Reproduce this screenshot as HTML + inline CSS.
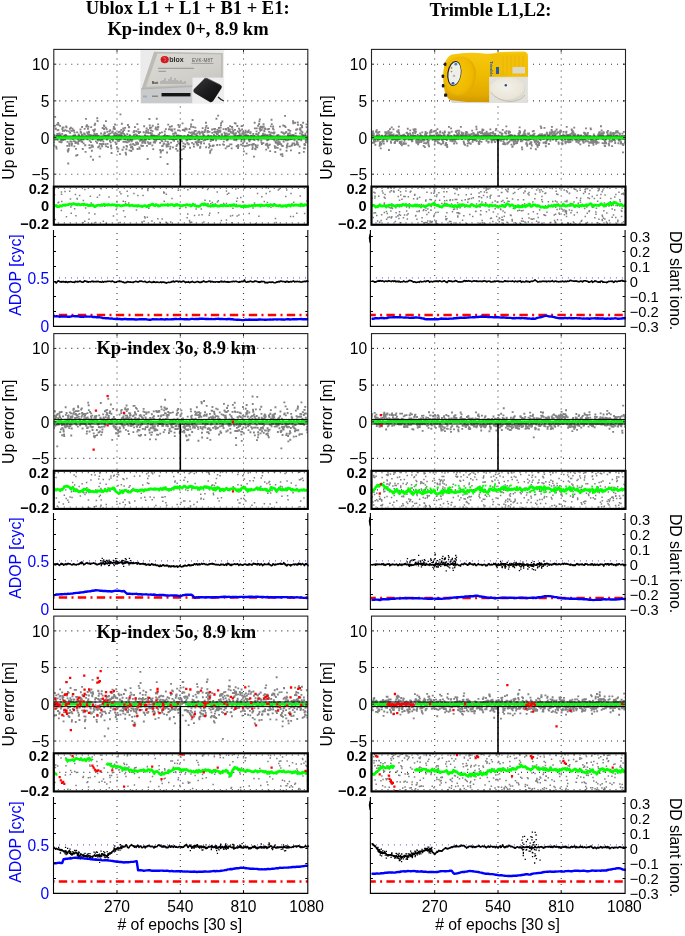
<!DOCTYPE html><html><head><meta charset="utf-8"><style>html,body{margin:0;padding:0;background:#fff;overflow:hidden}svg{display:block;will-change:transform}</style></head><body><svg width="685" height="936" viewBox="0 0 685 936">
<style>.S{font-family:"Liberation Sans",sans-serif}.R{font-family:"Liberation Serif",serif}</style>
<rect width="685" height="936" fill="#fff"/>
<clipPath id="cm00"><rect x="53.8" y="49.4" width="254" height="175.5"/></clipPath>
<g clip-path="url(#cm00)">
<line x1="59.3" y1="64.2" x2="307.8" y2="64.2" stroke="#3a3a3a" stroke-width="1.1" stroke-dasharray="1 5"/>
<line x1="59.3" y1="100.9" x2="307.8" y2="100.9" stroke="#3a3a3a" stroke-width="1.1" stroke-dasharray="1 5"/>
<line x1="59.3" y1="137.6" x2="307.8" y2="137.6" stroke="#3a3a3a" stroke-width="1.1" stroke-dasharray="1 5"/>
<line x1="59.3" y1="174.2" x2="307.8" y2="174.2" stroke="#3a3a3a" stroke-width="1.1" stroke-dasharray="1 5"/>
<line x1="117" y1="52.4" x2="117" y2="224.9" stroke="#3a3a3a" stroke-width="1.1" stroke-dasharray="1 5"/>
<line x1="180.3" y1="52.4" x2="180.3" y2="224.9" stroke="#3a3a3a" stroke-width="1.1" stroke-dasharray="1 5"/>
<line x1="243.5" y1="52.4" x2="243.5" y2="224.9" stroke="#3a3a3a" stroke-width="1.1" stroke-dasharray="1 5"/>
<path d="M53 142.2h1.9M53.2 145.5h1.9M53.5 135.1h1.9M53.7 139.7h1.9M53.9 125.9h1.9M54.2 116.8h1.9M54.4 137.4h1.9M54.6 128.4h1.9M54.9 129h1.9M55.1 139h1.9M55.3 146.7h1.9M55.6 148.6h1.9M55.8 124.6h1.9M56 135.6h1.9M56.3 133.8h1.9M56.5 139.7h1.9M56.7 130.4h1.9M57 135h1.9M57.2 122.8h1.9M57.4 129.8h1.9M57.7 124.7h1.9M57.9 136.4h1.9M58.1 133.9h1.9M58.4 141.7h1.9M58.6 133.3h1.9M58.8 134.6h1.9M59.1 125.8h1.9M59.3 134.9h1.9M59.5 136h1.9M59.8 141.5h1.9M60 140.7h1.9M60.3 142.3h1.9M60.5 139.5h1.9M60.7 141.7h1.9M61 138.3h1.9M61.2 133.8h1.9M61.4 129h1.9M61.7 127.5h1.9M61.9 130.9h1.9M62.1 140h1.9M62.4 137.9h1.9M62.6 127.6h1.9M62.8 137h1.9M63.1 130.8h1.9M63.3 130.6h1.9M63.5 135.3h1.9M63.8 137h1.9M64 139.6h1.9M64.2 137.5h1.9M64.5 130.1h1.9M64.7 134.9h1.9M64.9 134.8h1.9M65.2 126.5h1.9M65.4 136.5h1.9M65.6 127.2h1.9M65.9 130.8h1.9M66.1 137.9h1.9M66.3 145.8h1.9M66.6 141.8h1.9M66.8 150.4h1.9M67 151.6h1.9M67.3 163.5h1.9M67.5 150.2h1.9M67.7 148.8h1.9M68 131.3h1.9M68.2 143.6h1.9M68.4 145.7h1.9M68.7 143.7h1.9M68.9 128.7h1.9M69.2 132.9h1.9M69.4 141.5h1.9M69.6 138.2h1.9M69.9 127.7h1.9M70.1 138.4h1.9M70.3 130.9h1.9M70.6 141.6h1.9M70.8 145.5h1.9M71 143.7h1.9M71.3 137.6h1.9M71.5 128.6h1.9M71.7 130.9h1.9M72 138.9h1.9M72.2 136.3h1.9M72.4 130.1h1.9M72.7 135.3h1.9M72.9 141.1h1.9M73.1 130.6h1.9M73.4 146.4h1.9M73.6 132.6h1.9M73.8 135.6h1.9M74.1 135.2h1.9M74.3 141.3h1.9M74.5 143.1h1.9M74.8 142.6h1.9M75 148.9h1.9M75.2 155.6h1.9M75.5 142.8h1.9M75.7 142.5h1.9M75.9 137.2h1.9M76.2 132.3h1.9M76.4 155h1.9M76.6 138h1.9M76.9 142.7h1.9M77.1 138.8h1.9M77.3 143.7h1.9M77.6 140.9h1.9M77.8 134.5h1.9M78.1 135.9h1.9M78.3 141.1h1.9M78.5 141.1h1.9M78.8 140.4h1.9M79 138h1.9M79.2 136.8h1.9M79.5 129.5h1.9M79.7 131.8h1.9M79.9 136.8h1.9M80.2 132.7h1.9M80.4 139.6h1.9M80.6 141.4h1.9M80.9 134.9h1.9M81.1 127h1.9M81.3 142h1.9M81.6 134.7h1.9M81.8 149h1.9M82 137.8h1.9M82.3 137.2h1.9M82.5 139.6h1.9M82.7 143.4h1.9M83 137.9h1.9M83.2 133.6h1.9M83.4 133.5h1.9M83.7 128.8h1.9M83.9 134.3h1.9M84.1 145.3h1.9M84.4 145.2h1.9M84.6 151.9h1.9M84.8 137h1.9M85.1 118.9h1.9M85.3 126.5h1.9M85.5 136.1h1.9M85.8 126.3h1.9M86 125.2h1.9M86.2 132.3h1.9M86.5 139.3h1.9M86.7 133.8h1.9M87 128.9h1.9M87.2 137.4h1.9M87.4 126.7h1.9M87.7 134.7h1.9M87.9 131.7h1.9M88.1 132.5h1.9M88.4 145.1h1.9M88.6 147.9h1.9M88.8 140.8h1.9M89.1 136.9h1.9M89.3 134.9h1.9M89.5 147.6h1.9M89.8 156.6h1.9M90 142.1h1.9M90.2 127.1h1.9M90.5 135.4h1.9M90.7 145.4h1.9M90.9 150.7h1.9M91.2 146.5h1.9M91.4 145.3h1.9M91.6 139.3h1.9M91.9 146.7h1.9M92.1 159.7h1.9M92.3 130.1h1.9M92.6 135.4h1.9M92.8 138.4h1.9M93 131.4h1.9M93.3 130.6h1.9M93.5 133.7h1.9M93.7 125.1h1.9M94 129.5h1.9M94.2 123.7h1.9M94.4 134.4h1.9M94.7 135.3h1.9M94.9 141.4h1.9M95.1 136.5h1.9M95.4 135.9h1.9M95.6 136.9h1.9M95.9 134h1.9M96.1 142.9h1.9M96.3 118.2h1.9M96.6 121h1.9M96.8 139.3h1.9M97 140.6h1.9M97.3 147.2h1.9M97.5 135.6h1.9M97.7 140h1.9M98 138.6h1.9M98.2 139.7h1.9M98.4 146.1h1.9M98.7 156.6h1.9M98.9 143.8h1.9M99.1 138.6h1.9M99.4 148.5h1.9M99.6 143.9h1.9M99.8 140.9h1.9M100.1 133.5h1.9M100.3 140.1h1.9M100.5 144.2h1.9M100.8 136.6h1.9M101 139.2h1.9M101.2 146.2h1.9M101.5 139.9h1.9M101.7 128h1.9M101.9 137.5h1.9M102.2 144h1.9M102.4 141.6h1.9M102.6 134.5h1.9M102.9 125.3h1.9M103.1 129h1.9M103.3 126.2h1.9M103.6 132.3h1.9M103.8 135.6h1.9M104 133.2h1.9M104.3 135.9h1.9M104.5 144.2h1.9M104.8 127.6h1.9M105 121.1h1.9M105.2 146.3h1.9M105.5 136.7h1.9M105.7 129.2h1.9M105.9 139.5h1.9M106.2 135.7h1.9M106.4 131.9h1.9M106.6 143.9h1.9M106.9 138.3h1.9M107.1 147.1h1.9M107.3 134.6h1.9M107.6 135.8h1.9M107.8 135.1h1.9M108 134.6h1.9M108.3 133.8h1.9M108.5 131.1h1.9M108.7 137.7h1.9M109 141h1.9M109.2 130.2h1.9M109.4 133.4h1.9M109.7 142.4h1.9M109.9 145.4h1.9M110.1 146.2h1.9M110.4 148.4h1.9M110.6 153h1.9M110.8 138.9h1.9M111.1 139.3h1.9M111.3 132.5h1.9M111.5 131.6h1.9M111.8 131.3h1.9M112 140.9h1.9M112.2 138.9h1.9M112.5 136.6h1.9M112.7 128.9h1.9M112.9 127h1.9M113.2 133.6h1.9M113.4 135.3h1.9M113.6 128.4h1.9M113.9 129.1h1.9M114.1 124.5h1.9M114.4 142.3h1.9M114.6 132.6h1.9M114.8 133.9h1.9M115.1 135.8h1.9M115.3 144h1.9M115.5 139.4h1.9M115.8 136.5h1.9M116 147.2h1.9M116.2 134.2h1.9M116.5 138.9h1.9M116.7 140.9h1.9M116.9 151.3h1.9M117.2 134.7h1.9M117.4 148.6h1.9M117.6 132.1h1.9M117.9 141h1.9M118.1 139.9h1.9M118.3 135.6h1.9M118.6 134.4h1.9M118.8 131.6h1.9M119 154.1h1.9M119.3 134.6h1.9M119.5 114.4h1.9M119.7 139.5h1.9M120 136.1h1.9M120.2 132.7h1.9M120.4 129.8h1.9M120.7 135h1.9M120.9 123.7h1.9M121.1 133h1.9M121.4 137.5h1.9M121.6 149.7h1.9M121.8 132.3h1.9M122.1 131.3h1.9M122.3 128.4h1.9M122.5 141.7h1.9M122.8 147.2h1.9M123 133.9h1.9M123.3 130.1h1.9M123.5 139h1.9M123.7 141.9h1.9M124 135.4h1.9M124.2 127.9h1.9M124.4 139.3h1.9M124.7 152.7h1.9M124.9 141.7h1.9M125.1 154.5h1.9M125.4 149.2h1.9M125.6 145.8h1.9M125.8 142.3h1.9M126.1 146.6h1.9M126.3 134.1h1.9M126.5 142.4h1.9M126.8 140h1.9M127 125h1.9M127.2 137.2h1.9M127.5 141.6h1.9M127.7 131h1.9M127.9 126.9h1.9M128.2 127.3h1.9M128.4 141.2h1.9M128.6 150.3h1.9M128.9 135.1h1.9M129.1 140h1.9M129.3 144.9h1.9M129.6 139.5h1.9M129.8 144.5h1.9M130 147.4h1.9M130.3 151h1.9M130.5 146.8h1.9M130.7 141.4h1.9M131 139.9h1.9M131.2 146.7h1.9M131.4 140.1h1.9M131.7 148.2h1.9M131.9 149.4h1.9M132.2 144h1.9M132.4 144.4h1.9M132.6 132.3h1.9M132.9 132.2h1.9M133.1 134.9h1.9M133.3 130.9h1.9M133.6 138.2h1.9M133.8 145.1h1.9M134 127.1h1.9M134.3 137.1h1.9M134.5 138.4h1.9M134.7 134.4h1.9M135 142.6h1.9M135.2 137.5h1.9M135.4 131.2h1.9M135.7 144.3h1.9M135.9 135.1h1.9M136.1 142.3h1.9M136.4 124.1h1.9M136.6 149h1.9M136.8 143h1.9M137.1 143.8h1.9M137.3 129.4h1.9M137.5 131.8h1.9M137.8 138.2h1.9M138 133h1.9M138.2 136.4h1.9M138.5 147.3h1.9M138.7 148.7h1.9M138.9 140.8h1.9M139.2 132h1.9M139.4 136.9h1.9M139.6 138.6h1.9M139.9 138.6h1.9M140.1 140.3h1.9M140.3 145.3h1.9M140.6 140.1h1.9M140.8 139.4h1.9M141.1 146.1h1.9M141.3 142.9h1.9M141.5 141.8h1.9M141.8 142.7h1.9M142 145.8h1.9M142.2 141h1.9M142.5 141.3h1.9M142.7 132.2h1.9M142.9 137.9h1.9M143.2 126.2h1.9M143.4 140.6h1.9M143.6 139.4h1.9M143.9 142h1.9M144.1 135.1h1.9M144.3 143.1h1.9M144.6 140.5h1.9M144.8 132.8h1.9M145 138.9h1.9M145.3 130.8h1.9M145.5 132.5h1.9M145.7 128.5h1.9M146 145.9h1.9M146.2 136.3h1.9M146.4 136.9h1.9M146.7 159h1.9M146.9 142.2h1.9M147.1 132.2h1.9M147.4 129.9h1.9M147.6 133h1.9M147.8 143.9h1.9M148.1 143.5h1.9M148.3 139.1h1.9M148.5 119h1.9M148.8 125.5h1.9M149 128h1.9M149.2 143.7h1.9M149.5 142.7h1.9M149.7 133h1.9M150 130.4h1.9M150.2 135.2h1.9M150.4 127.6h1.9M150.7 134.8h1.9M150.9 133.4h1.9M151.1 136.7h1.9M151.4 145.3h1.9M151.6 131.1h1.9M151.8 125.7h1.9M152.1 136.8h1.9M152.3 149.1h1.9M152.5 135.3h1.9M152.8 142.2h1.9M153 139.3h1.9M153.2 137.9h1.9M153.5 142.6h1.9M153.7 135.7h1.9M153.9 141.2h1.9M154.2 142.5h1.9M154.4 137.7h1.9M154.6 128.9h1.9M154.9 127.3h1.9M155.1 139.4h1.9M155.3 140.6h1.9M155.6 129.6h1.9M155.8 118.7h1.9M156 136.1h1.9M156.3 139h1.9M156.5 138.9h1.9M156.7 129.5h1.9M157 127.3h1.9M157.2 124.3h1.9M157.4 126.8h1.9M157.7 134.3h1.9M157.9 138.5h1.9M158.1 134.6h1.9M158.4 138.5h1.9M158.6 139h1.9M158.9 133h1.9M159.1 142.8h1.9M159.3 150h1.9M159.6 157.1h1.9M159.8 152.5h1.9M160 151h1.9M160.3 137.8h1.9M160.5 140.4h1.9M160.7 140.8h1.9M161 132.4h1.9M161.2 146.1h1.9M161.4 141.3h1.9M161.7 146h1.9M161.9 150.2h1.9M162.1 138.3h1.9M162.4 136.6h1.9M162.6 144.4h1.9M162.8 138.8h1.9M163.1 143.3h1.9M163.3 135.8h1.9M163.5 136.6h1.9M163.8 131.5h1.9M164 134.4h1.9M164.2 138.9h1.9M164.5 141.1h1.9M164.7 136.3h1.9M164.9 129.1h1.9M165.2 138h1.9M165.4 144.3h1.9M165.6 146.5h1.9M165.9 144.7h1.9M166.1 152.5h1.9M166.3 136h1.9M166.6 164h1.9M166.8 141.7h1.9M167 146.3h1.9M167.3 124.6h1.9M167.5 143.4h1.9M167.8 144.2h1.9M168 129.4h1.9M168.2 136.3h1.9M168.5 138.9h1.9M168.7 129.2h1.9M168.9 126.9h1.9M169.2 148.8h1.9M169.4 146.7h1.9M169.6 137.5h1.9M169.9 129.7h1.9M170.1 142.6h1.9M170.3 137.2h1.9M170.6 139.1h1.9M170.8 126.2h1.9M171 129.5h1.9M171.3 130.8h1.9M171.5 139h1.9M171.7 139h1.9M172 147.4h1.9M172.2 133.7h1.9M172.4 140.4h1.9M172.7 139h1.9M172.9 136.1h1.9M173.1 140.8h1.9M173.4 133.7h1.9M173.6 129.2h1.9M173.8 137.8h1.9M174.1 138.6h1.9M174.3 132.3h1.9M174.5 137.6h1.9M174.8 139h1.9M175 133.3h1.9M175.2 148.8h1.9M175.5 146.1h1.9M175.7 138.7h1.9M175.9 135.5h1.9M176.2 144.9h1.9M176.4 135.8h1.9M176.6 150.7h1.9M176.9 141.4h1.9M177.1 130.3h1.9M177.4 125h1.9M177.6 143.3h1.9M177.8 135.5h1.9M178.1 130.4h1.9M178.3 127.1h1.9M178.5 126.5h1.9M178.8 137.6h1.9M179 136.8h1.9M179.2 144.4h1.9M179.5 137.8h1.9M179.7 140.1h1.9M179.9 135.9h1.9M180.2 137.6h1.9M180.4 141.2h1.9M180.6 149.7h1.9M180.9 158.9h1.9M181.1 141.4h1.9M181.3 137.2h1.9M181.6 123.4h1.9M181.8 130h1.9M182 138.1h1.9M182.3 146.1h1.9M182.5 143.4h1.9M182.7 148.7h1.9M183 137.8h1.9M183.2 129.7h1.9M183.4 136.1h1.9M183.7 130.8h1.9M183.9 137.1h1.9M184.1 146.7h1.9M184.4 144.4h1.9M184.6 128.3h1.9M184.8 128.4h1.9M185.1 129.4h1.9M185.3 138.2h1.9M185.5 140.5h1.9M185.8 129.2h1.9M186 137h1.9M186.3 140h1.9M186.5 143h1.9M186.7 137.5h1.9M187 134.8h1.9M187.2 135.1h1.9M187.4 144.4h1.9M187.7 138.3h1.9M187.9 144.2h1.9M188.1 132.4h1.9M188.4 137.9h1.9M188.6 129h1.9M188.8 139.4h1.9M189.1 147.7h1.9M189.3 136h1.9M189.5 136.3h1.9M189.8 132.8h1.9M190 126.7h1.9M190.2 124.5h1.9M190.5 138.8h1.9M190.7 132.5h1.9M190.9 134.9h1.9M191.2 142.9h1.9M191.4 137h1.9M191.6 120h1.9M191.9 133.6h1.9M192.1 132.4h1.9M192.3 127h1.9M192.6 138.2h1.9M192.8 144.2h1.9M193 146.6h1.9M193.3 132.5h1.9M193.5 134.1h1.9M193.7 131h1.9M194 138.6h1.9M194.2 139h1.9M194.4 127.6h1.9M194.7 142.2h1.9M194.9 130.8h1.9M195.2 137.3h1.9M195.4 134.5h1.9M195.6 141.7h1.9M195.9 143.7h1.9M196.1 136.1h1.9M196.3 133.4h1.9M196.6 145.3h1.9M196.8 142.6h1.9M197 144.9h1.9M197.3 140.3h1.9M197.5 131.8h1.9M197.7 142h1.9M198 137.9h1.9M198.2 131.6h1.9M198.4 139.8h1.9M198.7 133.2h1.9M198.9 133.9h1.9M199.1 147.9h1.9M199.4 146.7h1.9M199.6 142.4h1.9M199.8 137.3h1.9M200.1 143.6h1.9M200.3 142h1.9M200.5 132.3h1.9M200.8 137.1h1.9M201 138.7h1.9M201.2 131.6h1.9M201.5 132.5h1.9M201.7 128.1h1.9M201.9 133.4h1.9M202.2 134.4h1.9M202.4 136.6h1.9M202.6 140.6h1.9M202.9 135.2h1.9M203.1 143.3h1.9M203.3 137.9h1.9M203.6 132h1.9M203.8 131.3h1.9M204.1 140.1h1.9M204.3 129.8h1.9M204.5 130.6h1.9M204.8 127.7h1.9M205 122.7h1.9M205.2 147.2h1.9M205.5 125.9h1.9M205.7 137.3h1.9M205.9 137h1.9M206.2 139.4h1.9M206.4 139.2h1.9M206.6 132.4h1.9M206.9 130.9h1.9M207.1 128.1h1.9M207.3 135.3h1.9M207.6 136.6h1.9M207.8 138.4h1.9M208 147.6h1.9M208.3 144.2h1.9M208.5 131.8h1.9M208.7 136.7h1.9M209 146h1.9M209.2 152.7h1.9M209.4 150.8h1.9M209.7 141.1h1.9M209.9 136.1h1.9M210.1 138.7h1.9M210.4 140.1h1.9M210.6 149.5h1.9M210.8 139.4h1.9M211.1 129.5h1.9M211.3 132.9h1.9M211.5 146.1h1.9M211.8 138.7h1.9M212 145.7h1.9M212.2 140h1.9M212.5 145.4h1.9M212.7 145.6h1.9M213 134.9h1.9M213.2 129h1.9M213.4 132.3h1.9M213.7 131.5h1.9M213.9 131.6h1.9M214.1 128.8h1.9M214.4 132.6h1.9M214.6 136.3h1.9M214.8 136.3h1.9M215.1 140.4h1.9M215.3 132.2h1.9M215.5 118.7h1.9M215.8 131.8h1.9M216 134h1.9M216.2 145h1.9M216.5 129.8h1.9M216.7 133.9h1.9M216.9 133.8h1.9M217.2 115.6h1.9M217.4 130.6h1.9M217.6 132h1.9M217.9 128h1.9M218.1 135.9h1.9M218.3 138h1.9M218.6 137.3h1.9M218.8 144.9h1.9M219 131.8h1.9M219.3 130.3h1.9M219.5 131.3h1.9M219.7 127.5h1.9M220 125.1h1.9M220.2 123.1h1.9M220.4 138.6h1.9M220.7 134.2h1.9M220.9 134.5h1.9M221.1 134.8h1.9M221.4 121.5h1.9M221.6 137.6h1.9M221.9 137.3h1.9M222.1 144.3h1.9M222.3 137.4h1.9M222.6 129.1h1.9M222.8 141.6h1.9M223 144.9h1.9M223.3 138.6h1.9M223.5 132.6h1.9M223.7 136.7h1.9M224 133.8h1.9M224.2 137.7h1.9M224.4 134.7h1.9M224.7 148.4h1.9M224.9 128.9h1.9M225.1 129.6h1.9M225.4 136.2h1.9M225.6 133.5h1.9M225.8 140.2h1.9M226.1 138h1.9M226.3 146.5h1.9M226.5 140.4h1.9M226.8 139h1.9M227 134.5h1.9M227.2 128h1.9M227.5 130h1.9M227.7 131.1h1.9M227.9 146.1h1.9M228.2 134.1h1.9M228.4 129.9h1.9M228.6 130.8h1.9M228.9 129.5h1.9M229.1 126.1h1.9M229.3 144.3h1.9M229.6 138.1h1.9M229.8 132h1.9M230 132.5h1.9M230.3 132.4h1.9M230.5 144.3h1.9M230.7 148.3h1.9M231 126.9h1.9M231.2 127.2h1.9M231.5 129.3h1.9M231.7 133.2h1.9M231.9 132.9h1.9M232.2 131.9h1.9M232.4 131h1.9M232.6 138h1.9M232.9 133.5h1.9M233.1 134.1h1.9M233.3 140.1h1.9M233.6 134.9h1.9M233.8 123.1h1.9M234 129.9h1.9M234.3 136.3h1.9M234.5 134.9h1.9M234.7 123.5h1.9M235 133.1h1.9M235.2 138.7h1.9M235.4 140.4h1.9M235.7 146.2h1.9M235.9 145.9h1.9M236.1 138.4h1.9M236.4 126h1.9M236.6 135.8h1.9M236.8 131.3h1.9M237.1 148h1.9M237.3 144.9h1.9M237.5 146.1h1.9M237.8 132.1h1.9M238 128.6h1.9M238.2 136.3h1.9M238.5 135.3h1.9M238.7 133.5h1.9M238.9 130.3h1.9M239.2 137.9h1.9M239.4 130.8h1.9M239.6 135.9h1.9M239.9 135.4h1.9M240.1 144.6h1.9M240.4 141.2h1.9M240.6 126.1h1.9M240.8 139.2h1.9M241.1 129.5h1.9M241.3 133.5h1.9M241.5 125.8h1.9M241.8 145.6h1.9M242 143.4h1.9M242.2 132h1.9M242.5 134.6h1.9M242.7 133.6h1.9M242.9 151.4h1.9M243.2 140.1h1.9M243.4 141.5h1.9M243.6 146.2h1.9M243.9 138.6h1.9M244.1 135.6h1.9M244.3 132.6h1.9M244.6 130.7h1.9M244.8 134.6h1.9M245 134.9h1.9M245.3 145.8h1.9M245.5 153.6h1.9M245.7 136.7h1.9M246 143.4h1.9M246.2 136.7h1.9M246.4 132.2h1.9M246.7 135.4h1.9M246.9 145.6h1.9M247.1 132h1.9M247.4 135.8h1.9M247.6 130.9h1.9M247.8 130.5h1.9M248.1 140h1.9M248.3 144.8h1.9M248.5 141.3h1.9M248.8 139.2h1.9M249 139.9h1.9M249.3 133h1.9M249.5 139.8h1.9M249.7 132.2h1.9M250 135.7h1.9M250.2 138.2h1.9M250.4 144.6h1.9M250.7 138.3h1.9M250.9 137.2h1.9M251.1 136.2h1.9M251.4 149.1h1.9M251.6 145.6h1.9M251.8 147.6h1.9M252.1 144.2h1.9M252.3 134h1.9M252.5 139.2h1.9M252.8 143.9h1.9M253 156.6h1.9M253.2 136h1.9M253.5 140.1h1.9M253.7 122.7h1.9M253.9 128.3h1.9M254.2 148.8h1.9M254.4 144.9h1.9M254.6 149.3h1.9M254.9 146.7h1.9M255.1 146.5h1.9M255.3 134h1.9M255.6 131.4h1.9M255.8 128.4h1.9M256 138.5h1.9M256.3 147.3h1.9M256.5 138.8h1.9M256.7 145.4h1.9M257 134.5h1.9M257.2 125.7h1.9M257.4 140.2h1.9M257.7 136.6h1.9M257.9 132.8h1.9M258.2 124h1.9M258.4 121.3h1.9M258.6 128.4h1.9M258.9 119.4h1.9M259.1 129h1.9M259.3 130.7h1.9M259.6 126.6h1.9M259.8 127.5h1.9M260 136.8h1.9M260.3 140.6h1.9M260.5 142.6h1.9M260.7 130h1.9M261 144.1h1.9M261.2 135.7h1.9M261.4 126.7h1.9M261.7 127.9h1.9M261.9 126.8h1.9M262.1 133.7h1.9M262.4 143.1h1.9M262.6 124.1h1.9M262.8 126.4h1.9M263.1 135h1.9M263.3 130.4h1.9M263.5 131.4h1.9M263.8 134.5h1.9M264 128.3h1.9M264.2 134.5h1.9M264.5 138.2h1.9M264.7 129.1h1.9M264.9 144.9h1.9M265.2 149.6h1.9M265.4 144.1h1.9M265.6 135.1h1.9M265.9 144.3h1.9M266.1 140.4h1.9M266.3 143.6h1.9M266.6 135.1h1.9M266.8 146.1h1.9M267.1 129.2h1.9M267.3 147.9h1.9M267.5 139.8h1.9M267.8 145.4h1.9M268 128.9h1.9M268.2 131.8h1.9M268.5 136.9h1.9M268.7 134.4h1.9M268.9 144.6h1.9M269.2 151.1h1.9M269.4 136.6h1.9M269.6 134.9h1.9M269.9 126.3h1.9M270.1 132.6h1.9M270.3 138.5h1.9M270.6 119.7h1.9M270.8 124.1h1.9M271 138.6h1.9M271.3 136.4h1.9M271.5 132.8h1.9M271.7 132.8h1.9M272 128.6h1.9M272.2 126.5h1.9M272.4 138.9h1.9M272.7 129.6h1.9M272.9 133.5h1.9M273.1 132.4h1.9M273.4 140.2h1.9M273.6 132.5h1.9M273.8 146.1h1.9M274.1 147.7h1.9M274.3 152h1.9M274.5 141.6h1.9M274.8 142.2h1.9M275 142.9h1.9M275.2 147.5h1.9M275.5 142.9h1.9M275.7 140.6h1.9M276 138.4h1.9M276.2 135.4h1.9M276.4 143.5h1.9M276.7 147.8h1.9M276.9 144.8h1.9M277.1 142.7h1.9M277.4 134.8h1.9M277.6 141.5h1.9M277.8 139.2h1.9M278.1 138h1.9M278.3 143.3h1.9M278.5 144h1.9M278.8 142.2h1.9M279 126.6h1.9M279.2 136.7h1.9M279.5 149.5h1.9M279.7 143.9h1.9M279.9 154.5h1.9M280.2 139.3h1.9M280.4 144.6h1.9M280.6 132.2h1.9M280.9 138.5h1.9M281.1 145.9h1.9M281.3 154.1h1.9M281.6 156.1h1.9M281.8 146h1.9M282 132.7h1.9M282.3 125.5h1.9M282.5 139.4h1.9M282.7 141.5h1.9M283 138.8h1.9M283.2 133.9h1.9M283.4 138.4h1.9M283.7 126h1.9M283.9 139.2h1.9M284.1 115.9h1.9M284.4 133h1.9M284.6 127.1h1.9M284.9 139.3h1.9M285.1 140.4h1.9M285.3 132h1.9M285.6 150.7h1.9M285.8 147.5h1.9M286 145.3h1.9M286.3 140.2h1.9M286.5 146.4h1.9M286.7 143.6h1.9M287 135.2h1.9M287.2 133.7h1.9M287.4 129.8h1.9M287.7 139.7h1.9M287.9 136.8h1.9M288.1 130.3h1.9M288.4 136.2h1.9M288.6 146.3h1.9M288.8 133.2h1.9M289.1 135.4h1.9M289.3 130.8h1.9M289.5 138.4h1.9M289.8 139.4h1.9M290 150.4h1.9M290.2 136.5h1.9M290.5 145.7h1.9M290.7 135.1h1.9M290.9 137.9h1.9M291.2 144.8h1.9M291.4 138.7h1.9M291.6 143.3h1.9M291.9 135h1.9M292.1 121.2h1.9M292.3 123.2h1.9M292.6 136.3h1.9M292.8 135.1h1.9M293 137.1h1.9M293.3 143.4h1.9M293.5 140.4h1.9M293.7 145h1.9M294 138.3h1.9M294.2 122.7h1.9M294.5 138h1.9M294.7 133.3h1.9M294.9 136.2h1.9M295.2 129.7h1.9M295.4 137.7h1.9M295.6 144.3h1.9M295.9 141.3h1.9M296.1 143h1.9M296.3 129.2h1.9M296.6 142.8h1.9M296.8 122.5h1.9M297 124.9h1.9M297.3 144.7h1.9M297.5 136.9h1.9M297.7 139.5h1.9M298 137.4h1.9M298.2 139.2h1.9M298.4 153h1.9M298.7 146.6h1.9M298.9 129.2h1.9M299.1 133.4h1.9M299.4 128.2h1.9M299.6 130.2h1.9M299.8 124.8h1.9M300.1 138.2h1.9M300.3 140.3h1.9M300.5 131.4h1.9M300.8 134.2h1.9M301 125.7h1.9M301.2 127.3h1.9M301.5 132.2h1.9M301.7 134.9h1.9M301.9 135.4h1.9M302.2 122.7h1.9M302.4 135.6h1.9M302.6 137.5h1.9M302.9 151.9h1.9M303.1 148.2h1.9M303.4 144.6h1.9M303.6 144h1.9M303.8 148.3h1.9M304.1 145h1.9M304.3 135.6h1.9M304.5 133.7h1.9M304.8 140.5h1.9M305 142.4h1.9M305.2 138.3h1.9M305.5 124.3h1.9M305.7 127.2h1.9M305.9 142.2h1.9M306.2 132h1.9M306.4 139.8h1.9M306.6 131h1.9M306.9 121.4h1.9M307.1 130.1h1.9M307.3 131.9h1.9M307.6 138.4h1.9" stroke="#838383" stroke-width="1.85" fill="none"/>
<rect x="53.8" y="136.2" width="254" height="2.6" fill="none" stroke="#000" stroke-width="1"/>
<path d="M53.8 137.6H308.6" stroke="#00ff00" stroke-width="2.6"/>
</g>
<line x1="180.3" y1="139" x2="180.3" y2="186.6" stroke="#000" stroke-width="1.6"/>
<rect x="53.8" y="49.4" width="254" height="175.5" fill="none" stroke="#222" stroke-width="1.1"/>
<path d="M53.8 64.2h2.5M307.8 64.2h-2.5M53.8 100.9h2.5M307.8 100.9h-2.5M53.8 137.6h2.5M307.8 137.6h-2.5M53.8 174.2h2.5M307.8 174.2h-2.5M117 49.4v2.5M180.3 49.4v2.5M243.5 49.4v2.5" stroke="#222" stroke-width="1"/>
<text x="49.4" y="70.1" font-size="15.6" class="S" text-anchor="end">10</text>
<text x="49.4" y="106.8" font-size="15.6" class="S" text-anchor="end">5</text>
<text x="49.4" y="143.5" font-size="15.6" class="S" text-anchor="end">0</text>
<text x="49.4" y="180.2" font-size="15.6" class="S" text-anchor="end">−5</text>
<rect x="53.8" y="186.6" width="254" height="38.1" fill="#fff"/>
<clipPath id="ci00"><rect x="53.8" y="186.6" width="254" height="38.1"/></clipPath>
<g clip-path="url(#ci00)">
<line x1="117" y1="189.6" x2="117" y2="224.7" stroke="#3a3a3a" stroke-width="1.1" stroke-dasharray="1 5"/>
<line x1="180.3" y1="189.6" x2="180.3" y2="224.7" stroke="#3a3a3a" stroke-width="1.1" stroke-dasharray="1 5"/>
<line x1="243.5" y1="189.6" x2="243.5" y2="224.7" stroke="#3a3a3a" stroke-width="1.1" stroke-dasharray="1 5"/>
<line x1="59.3" y1="205.7" x2="307.8" y2="205.7" stroke="#3a3a3a" stroke-width="1.1" stroke-dasharray="1 5"/>
<path d="M235.6 204.6h1.5M53.8 194.8h1.5M68.9 191.3h1.5M261.3 205.8h1.5M166.8 223.2h1.5M231.2 222.8h1.5M187.1 189.8h1.5M225.7 219.9h1.5M236.6 198.2h1.5M137.1 195.6h1.5M200.5 208.9h1.5M187 214h1.5M126.4 191.2h1.5M142.3 195.6h1.5M146.6 217.2h1.5M53.9 188.4h1.5M244.3 187.7h1.5M203.1 221.9h1.5M95 222.4h1.5M209 201.1h1.5M296.1 213.2h1.5M112.7 216h1.5M90.9 223.2h1.5M178.9 208.6h1.5M147 188.9h1.5M133.2 193.5h1.5M188.7 220.4h1.5M61 201.6h1.5M275.5 222.4h1.5M231.8 215.6h1.5M228 193.3h1.5M238.1 215.1h1.5M93.1 188.3h1.5M286 189.9h1.5M190.9 222.3h1.5M147.1 190.4h1.5M70.5 213.3h1.5M64.3 191.5h1.5M143.3 221.2h1.5M143.9 216.7h1.5M163.5 201.3h1.5M220.6 220.6h1.5M189.2 222.1h1.5M165.6 194.2h1.5M120.2 193.7h1.5M115.5 209.6h1.5M254.7 224.1h1.5M194.2 204.3h1.5M235 189h1.5M229.8 215.9h1.5M104.1 206.3h1.5M125 203.7h1.5M76.3 198.4h1.5M159.3 222.4h1.5M84.1 189.5h1.5M269.1 191.5h1.5M152.5 187.7h1.5M96.7 197.3h1.5M292.6 216.5h1.5M54.6 219.5h1.5M74.7 194.4h1.5M207.4 206.5h1.5M82.6 200.4h1.5M88.3 219.3h1.5M204.3 200.3h1.5M256.8 193.5h1.5M88.3 212.9h1.5M90.1 206h1.5M60.7 192h1.5M226.6 194.2h1.5M177.5 190.3h1.5M265.5 193.4h1.5M258.1 216.2h1.5M141.2 222.1h1.5M247.6 206.6h1.5M303.9 213.5h1.5M163 192h1.5M299.5 196.1h1.5M277.6 189.9h1.5M122.5 201.3h1.5M69.7 199.1h1.5M295.3 205.4h1.5M90.5 203.1h1.5M70.1 207.1h1.5M73.9 208.7h1.5M261.1 196.8h1.5M270.2 207.2h1.5M165.5 222.2h1.5M253.8 203.1h1.5M157.1 218.8h1.5M169.9 221.9h1.5M84 221.3h1.5M161.4 219.1h1.5M263.6 201.6h1.5M273.6 203.7h1.5M94.1 214h1.5M266.7 202.5h1.5M217.6 200.7h1.5M65.7 216.8h1.5M163.1 192.9h1.5M293 202.3h1.5M119.4 222.5h1.5M195.4 209h1.5M289.8 216.6h1.5M105.5 223.6h1.5M60.8 194.2h1.5M274.7 218.5h1.5M57.4 202.8h1.5M116.1 201.4h1.5M285 196.5h1.5M124.6 201.7h1.5M127 196h1.5M119.1 191.9h1.5M225.7 191.1h1.5M141.3 188.8h1.5M201.3 214.7h1.5M217.7 212.7h1.5M82.3 222.7h1.5M208.5 215.2h1.5M78.9 195.4h1.5M89.6 196.2h1.5M122.8 210.7h1.5M290.3 193.4h1.5M265.4 187.8h1.5M206.8 189.5h1.5M211.6 202.6h1.5M135.7 210.1h1.5M198.2 215h1.5M216.5 192.1h1.5M236.4 215.9h1.5M60.6 210.6h1.5M163.7 192.8h1.5M192.4 205h1.5M207.3 203.7h1.5M225.7 203.5h1.5M193.8 215.5h1.5M84.9 207.9h1.5M278.6 189.1h1.5M128 202.9h1.5M185.1 207.4h1.5M98.8 194.9h1.5M75.2 215.8h1.5M124.3 216.7h1.5M102.6 221.3h1.5M186.4 217.8h1.5M216.7 201.9h1.5M212.1 206.4h1.5M209 213.2h1.5M171.3 198.6h1.5M108.2 197h1.5M202.1 188h1.5M210 203.8h1.5M248.5 213.5h1.5M148.1 208.2h1.5M240 197.5h1.5M100.5 188.8h1.5M302.8 205.8h1.5M306.2 201.1h1.5M151.2 221h1.5M57.9 202.3h1.5M235.9 201.3h1.5M252.3 208h1.5M241.9 201.8h1.5M214.5 203.9h1.5M222.9 203.4h1.5M76.5 199.1h1.5M232.2 208.3h1.5M299.8 206.4h1.5M95.7 205.2h1.5M144.4 218.1h1.5" stroke="#808080" stroke-width="1.5" fill="none"/>
<path d="M53.8 205.4 54.5 205.6 55.2 205.9 55.9 205.3 56.6 205.6 57.3 206.7 58 206.8 58.7 206.8 59.4 206.6 60.1 205.6 60.8 205.7 61.5 206.3 62.2 206.1 62.9 205.1 63.6 205.3 64.3 204.9 65 205.4 65.7 204.8 66.4 204.7 67.1 204.9 67.9 204.8 68.6 204.7 69.3 204.1 70 204.1 70.7 204.3 71.4 204.3 72.1 204 72.8 204 73.5 203.4 74.2 204.3 74.9 204.1 75.6 204.3 76.3 204.8 77 204.5 77.7 204.3 78.4 204.1 79.1 204.2 79.8 205 80.5 204.9 81.2 204.8 81.9 204.2 82.6 204.5 83.3 204.7 84 204.1 84.7 204.5 85.4 205 86.1 204.9 86.8 204.6 87.5 204.8 88.2 205.7 88.9 205.7 89.6 205 90.3 205.4 91 204.9 91.7 204.9 92.4 205.4 93.1 204.9 93.8 206 94.6 206.7 95.3 206.8 96 205.9 96.7 205.7 97.4 205.2 98.1 205.2 98.8 205.1 99.5 205.4 100.2 205.5 100.9 204.9 101.6 204.6 102.3 205.5 103 205.1 103.7 204.2 104.4 204.2 105.1 205 105.8 204.7 106.5 204.8 107.2 205.1 107.9 204.7 108.6 204.3 109.3 204.9 110 205 110.7 205.2 111.4 205.2 112.1 204.5 112.8 205 113.5 204.8 114.2 204.8 114.9 204.9 115.6 205.6 116.3 205.1 117 205.7 117.7 205.1 118.4 205.2 119.1 205.1 119.8 205.4 120.5 205.7 121.2 206 122 205.7 122.7 205.5 123.4 205.3 124.1 205.4 124.8 205 125.5 205 126.2 205 126.9 205.2 127.6 205.2 128.3 204.9 129 205.4 129.7 205.9 130.4 205.4 131.1 205.2 131.8 205.2 132.5 205.1 133.2 205.8 133.9 206 134.6 205.7 135.3 205.5 136 206 136.7 205.5 137.4 206.3 138.1 205.3 138.8 205.8 139.5 205.8 140.2 206.1 140.9 206.4 141.6 206.1 142.3 206.6 143 206.2 143.7 205.8 144.4 205.7 145.1 205.5 145.8 206.1 146.5 206.6 147.2 206.7 147.9 205.6 148.7 205.3 149.4 206.2 150.1 205 150.8 204.8 151.5 204.5 152.2 204.3 152.9 204.1 153.6 205.4 154.3 205.3 155 205.7 155.7 204.6 156.4 204.6 157.1 204.9 157.8 205.1 158.5 206.2 159.2 205.8 159.9 206 160.6 205.1 161.3 204.8 162 205 162.7 205.3 163.4 204.8 164.1 205.3 164.8 204.8 165.5 204.9 166.2 205.2 166.9 205.1 167.6 204.3 168.3 205.5 169 205.1 169.7 204.8 170.4 205.1 171.1 204.5 171.8 204.5 172.5 204.6 173.2 205.4 173.9 205.1 174.6 205.8 175.3 205.4 176.1 204.3 176.8 205.2 177.5 204.5 178.2 205.3 178.9 205.3 179.6 205 180.3 205.8 181 205.5 181.7 205.8 182.4 205.9 183.1 205.3 183.8 205.3 184.5 205.2 185.2 205.2 185.9 205.1 186.6 204.5 187.3 204.8 188 205.1 188.7 205.2 189.4 204.9 190.1 204.9 190.8 206.1 191.5 205.8 192.2 205.4 192.9 204.2 193.6 204.9 194.3 205.2 195 205.8 195.7 205.7 196.4 206.4 197.1 206.4 197.8 206 198.5 206.5 199.2 206.2 199.9 206.2 200.6 205.3 201.3 204.6 202 203.9 202.8 204.4 203.5 204.5 204.2 203.7 204.9 204.7 205.6 204.2 206.3 205.1 207 204.7 207.7 205.7 208.4 205.8 209.1 205.7 209.8 205.7 210.5 206.5 211.2 206 211.9 205.9 212.6 205 213.3 204.9 214 206.1 214.7 205.8 215.4 205.1 216.1 205.3 216.8 205.7 217.5 206.2 218.2 206.1 218.9 206.3 219.6 206.1 220.3 206 221 205.1 221.7 205.7 222.4 205.4 223.1 206 223.8 205.6 224.5 205.1 225.2 205.5 225.9 206 226.6 205.8 227.3 205.6 228 205.9 228.7 205.5 229.4 205.4 230.2 205.1 230.9 205.9 231.6 205.4 232.3 204.8 233 205.5 233.7 204.5 234.4 204.8 235.1 205.7 235.8 206.1 236.5 206.2 237.2 206.2 237.9 206 238.6 205.7 239.3 205.7 240 205.7 240.7 206.1 241.4 206.8 242.1 206.6 242.8 206.7 243.5 205.8 244.2 206.8 244.9 205.7 245.6 207 246.3 206.5 247 206.1 247.7 206.4 248.4 206.5 249.1 205.7 249.8 206.1 250.5 205.9 251.2 205.7 251.9 205.3 252.6 206 253.3 205.2 254 205.4 254.7 204.9 255.4 205.8 256.1 205.2 256.9 205.4 257.6 205.1 258.3 205.5 259 205.1 259.7 205.3 260.4 206.3 261.1 204.8 261.8 205.4 262.5 205.2 263.2 205.4 263.9 205.7 264.6 205.8 265.3 205.3 266 204.9 266.7 204.7 267.4 205.8 268.1 205.3 268.8 206.1 269.5 204.8 270.2 204.9 270.9 204.6 271.6 205 272.3 205.1 273 205.6 273.7 204.7 274.4 205.2 275.1 204.8 275.8 205.5 276.5 205.6 277.2 205.8 277.9 205.7 278.6 205.9 279.3 205.5 280 205.2 280.7 206.1 281.4 206.1 282.1 206.5 282.8 205.6 283.6 206.2 284.3 205.7 285 205.6 285.7 205.6 286.4 206.5 287.1 205.3 287.8 205.5 288.5 205.2 289.2 204.9 289.9 205.6 290.6 206.1 291.3 205.1 292 204.3 292.7 205.2 293.4 205.4 294.1 205 294.8 205.3 295.5 204.8 296.2 204.8 296.9 205.2 297.6 205 298.3 205.5 299 204.9 299.7 205.5 300.4 204.9 301.1 204 301.8 205.5 302.5 204.7 303.2 205.8 303.9 205.7 304.6 204.8 305.3 204.6 306 204.7 306.7 204.9 307.4 205.1 308.1 205.1" stroke="#00ff00" stroke-width="2.6" fill="none" stroke-linejoin="round"/>
</g>
<path d="M57.8 188.5H307.8M57.8 222.8H307.8" stroke="#555" stroke-width="1.2" stroke-dasharray="1 5"/>
<rect x="53.8" y="186.6" width="254" height="38.1" fill="none" stroke="#000" stroke-width="2.1"/>
<text x="49" y="194" font-size="14.6" class="S" text-anchor="end" font-weight="bold">0.2</text>
<text x="49" y="211" font-size="14.6" class="S" text-anchor="end" font-weight="bold">0</text>
<text x="49" y="229" font-size="14.6" class="S" text-anchor="end" font-weight="bold">−0.2</text>
<line x1="117" y1="233" x2="117" y2="326.4" stroke="#3a3a3a" stroke-width="1.1" stroke-dasharray="1 5"/>
<line x1="180.3" y1="233" x2="180.3" y2="326.4" stroke="#3a3a3a" stroke-width="1.1" stroke-dasharray="1 5"/>
<line x1="243.5" y1="233" x2="243.5" y2="326.4" stroke="#3a3a3a" stroke-width="1.1" stroke-dasharray="1 5"/>
<line x1="59" y1="277.9" x2="307.8" y2="277.9" stroke="#6a6aff" stroke-width="1.1" stroke-dasharray="1 5"/>
<path d="M53.8 281.8 54.3 281.7 54.7 281.8 55.2 281.9 55.7 282 56.1 283 56.6 282.7 57.1 281.9 57.5 281.6 58 280.8 58.5 281.1 59 281 59.4 281.4 59.9 281.8 60.4 282 60.8 281.8 61.3 281.6 61.8 282.2 62.2 281.9 62.7 281.6 63.2 281.4 63.6 281.9 64.1 281.8 64.6 281.7 65 282.1 65.5 282.4 66 281.5 66.4 281.8 66.9 281.9 67.4 282.5 67.9 282.4 68.3 281.8 68.8 281.7 69.3 282 69.7 281.9 70.2 281.8 70.7 281.6 71.1 281.9 71.6 281.8 72.1 282 72.5 282.1 73 282.2 73.5 282.3 73.9 282 74.4 282.5 74.9 282.2 75.3 281.3 75.8 281.7 76.3 281.8 76.8 281.8 77.2 281.3 77.7 281.9 78.2 281.7 78.6 281.7 79.1 281.2 79.6 281.4 80 280.9 80.5 281.5 81 281.5 81.4 281.9 81.9 282 82.4 282.3 82.8 282.3 83.3 281.7 83.8 281.9 84.2 281.1 84.7 280.8 85.2 281 85.7 281.2 86.1 281.3 86.6 281.7 87.1 281.5 87.5 281.6 88 282.2 88.5 282.1 88.9 281.8 89.4 281.8 89.9 281.7 90.3 281.7 90.8 281.9 91.3 281.5 91.7 281.2 92.2 281.5 92.7 281.3 93.1 281.8 93.6 281.4 94.1 281.8 94.6 281.8 95 281.5 95.5 281.7 96 281.7 96.4 281.4 96.9 281.7 97.4 281.6 97.8 281.3 98.3 281.4 98.8 281.7 99.2 281.9 99.7 281.9 100.2 281.9 100.6 281.7 101.1 282.2 101.6 282.1 102 281.9 102.5 281.4 103 282 103.5 282.2 103.9 281.8 104.4 281.8 104.9 281.5 105.3 281.6 105.8 281.8 106.3 281.8 106.7 281.5 107.2 281.3 107.7 281.4 108.1 281.5 108.6 281.3 109.1 281.2 109.5 281.3 110 281.2 110.5 281.4 110.9 281.8 111.4 281.5 111.9 281.3 112.3 281 112.8 281.3 113.3 281.8 113.8 281.7 114.2 281.9 114.7 282.4 115.2 282.2 115.6 282.3 116.1 282.1 116.6 282.2 117 281.8 117.5 281.5 118 281.5 118.4 281.2 118.9 281.5 119.4 280.9 119.8 281.7 120.3 281.5 120.8 281.3 121.2 281.5 121.7 281.6 122.2 282 122.7 282.1 123.1 281.9 123.6 282.2 124.1 282.7 124.5 282.5 125 282.5 125.5 282.6 125.9 282.4 126.4 282.6 126.9 282 127.3 281.6 127.8 281.7 128.3 281.9 128.7 281.9 129.2 281.9 129.7 282.1 130.1 282.2 130.6 281.9 131.1 282.2 131.6 282.2 132 282.2 132.5 282.4 133 282.1 133.4 282.4 133.9 281.9 134.4 281.7 134.8 281.7 135.3 281.5 135.8 281.3 136.2 281.5 136.7 281.6 137.2 281.9 137.6 281.9 138.1 282 138.6 281.9 139 281.7 139.5 281.1 140 281.2 140.5 281.1 140.9 281.4 141.4 281 141.9 281.2 142.3 281.4 142.8 281.6 143.3 281.7 143.7 281.8 144.2 281.8 144.7 281.3 145.1 281.4 145.6 281.7 146.1 282.3 146.5 282.2 147 282.4 147.5 282.4 147.9 282.2 148.4 282 148.9 281.8 149.4 281.4 149.8 281.8 150.3 282 150.8 282.2 151.2 282.4 151.7 282.4 152.2 282.5 152.6 282.1 153.1 282.3 153.6 281.5 154 282.2 154.5 281.8 155 282.3 155.4 282.3 155.9 282.5 156.4 282.3 156.8 282 157.3 282.1 157.8 282.2 158.3 282.3 158.7 282.4 159.2 282.5 159.7 282.5 160.1 282.3 160.6 281.9 161.1 282.1 161.5 282.6 162 282.4 162.5 282 162.9 282.3 163.4 282 163.9 282.3 164.3 282.5 164.8 282.2 165.3 282.7 165.7 282.5 166.2 283.1 166.7 283 167.2 282.5 167.6 282.5 168.1 282.5 168.6 282.1 169 282.3 169.5 282.5 170 282.4 170.4 282.3 170.9 282.1 171.4 282.1 171.8 281.6 172.3 281.5 172.8 281.7 173.2 281 173.7 281.7 174.2 281.7 174.6 282 175.1 281.3 175.6 281.4 176.1 281.3 176.5 281.3 177 281.1 177.5 281.4 177.9 281.3 178.4 282 178.9 281.8 179.3 281.4 179.8 281.3 180.3 281.3 180.7 282 181.2 281.9 181.7 282 182.1 281.5 182.6 281.4 183.1 281.4 183.5 281.1 184 281.2 184.5 281.8 185 282 185.4 282.6 185.9 282 186.4 282 186.8 282.3 187.3 282 187.8 282.1 188.2 282.1 188.7 281.7 189.2 282.3 189.6 282.6 190.1 282.4 190.6 282.3 191 281.8 191.5 281.9 192 281.8 192.4 281.3 192.9 281.8 193.4 282.3 193.9 282.3 194.3 282.2 194.8 282.4 195.3 282.2 195.7 282.3 196.2 281.8 196.7 281.7 197.1 281.5 197.6 281.6 198.1 281.6 198.5 282.1 199 282.1 199.5 282.5 199.9 282 200.4 282.2 200.9 282.4 201.3 282.4 201.8 281.6 202.3 282 202.8 281.4 203.2 281.5 203.7 280.9 204.2 281.2 204.6 281.6 205.1 281.7 205.6 281.9 206 282.1 206.5 281.8 207 281.9 207.4 281.7 207.9 281.5 208.4 281.4 208.8 281 209.3 281 209.8 281.5 210.2 281.2 210.7 282.1 211.2 281.7 211.7 281.4 212.1 281.8 212.6 281.5 213.1 282.1 213.5 281.7 214 281.9 214.5 282 214.9 282 215.4 282.1 215.9 281.8 216.3 281.8 216.8 281.8 217.3 281.8 217.7 281.9 218.2 282.2 218.7 281.9 219.1 281.7 219.6 282.1 220.1 281.7 220.6 281.4 221 281.5 221.5 281.2 222 282 222.4 281.5 222.9 281.8 223.4 281.8 223.8 282 224.3 281.3 224.8 281.6 225.2 281.5 225.7 282 226.2 282 226.6 281.8 227.1 281.9 227.6 282.1 228 281.6 228.5 282.1 229 282 229.4 282 229.9 282.1 230.4 281.8 230.9 281.7 231.3 281.8 231.8 281.6 232.3 281.7 232.7 281.6 233.2 281.3 233.7 281.4 234.1 281.5 234.6 281.8 235.1 281.4 235.5 281.2 236 281.3 236.5 281.3 236.9 281.7 237.4 281.7 237.9 281.7 238.3 282.1 238.8 282.3 239.3 282.2 239.8 281.5 240.2 281.5 240.7 282 241.2 281.6 241.6 281.4 242.1 281.3 242.6 281.6 243 281.7 243.5 281.1 244 281 244.4 279.9 244.9 281 245.4 281.7 245.8 281.9 246.3 282.1 246.8 282.2 247.2 281.9 247.7 281.5 248.2 282 248.7 281.8 249.1 281.5 249.6 281.6 250.1 281.2 250.5 281.1 251 281.5 251.5 281.6 251.9 281.6 252.4 282 252.9 282 253.3 281.7 253.8 281.6 254.3 281.7 254.7 281 255.2 281 255.7 281 256.1 281.5 256.6 281.2 257.1 281.5 257.6 281.7 258 281.8 258.5 282.2 259 281.9 259.4 282.3 259.9 281.9 260.4 282.1 260.8 281.6 261.3 281.6 261.8 281.3 262.2 281.8 262.7 281.6 263.2 281.5 263.6 281.5 264.1 281.6 264.6 281.9 265 282.8 265.5 282.4 266 282.6 266.5 282.6 266.9 282.3 267.4 282.9 267.9 282.8 268.3 282.3 268.8 282.2 269.3 282.1 269.7 282.3 270.2 282.1 270.7 282.4 271.1 282.4 271.6 282 272.1 282.2 272.5 282.1 273 282.1 273.5 282.4 273.9 282.8 274.4 282.8 274.9 282.7 275.4 282.7 275.8 282.5 276.3 282.2 276.8 281.9 277.2 281.8 277.7 282.1 278.2 281.6 278.6 281.6 279.1 281.4 279.6 281.9 280 281.6 280.5 281 281 281.1 281.4 281 281.9 281.4 282.4 281.5 282.8 281.6 283.3 281.5 283.8 281.5 284.3 281.5 284.7 281.9 285.2 282.2 285.7 282.1 286.1 281.3 286.6 281.7 287.1 281.6 287.5 281.3 288 281.6 288.5 282.2 288.9 281.9 289.4 281.9 289.9 282.1 290.3 281.6 290.8 281.5 291.3 281.6 291.7 282 292.2 281.6 292.7 281.3 293.2 281.2 293.6 280.9 294.1 281.5 294.6 281.9 295 281.6 295.5 281.5 296 281.6 296.4 281.8 296.9 281.5 297.4 281.5 297.8 281.4 298.3 281.8 298.8 281.8 299.2 281.7 299.7 281.4 300.2 282 300.6 282 301.1 282.1 301.6 282 302.1 282 302.5 281.8 303 281.6 303.5 281.6 303.9 281.7 304.4 281.4 304.9 281.1 305.3 281.3 305.8 281.7 306.3 281.2 306.7 281.1 307.2 280.7 307.7 281.1 308.1 281.4 308.6 281.6" stroke="#000" stroke-width="1.6" fill="none" stroke-linejoin="round"/>
<line x1="53.5" y1="315" x2="307.8" y2="315" stroke="#ff0000" stroke-width="2.5" stroke-dasharray="8.4 4.3 2 4.3" stroke-dashoffset="13.7"/>
<path d="M53.8 316.2 55.2 316.4 56.6 316.2 58 316.4 59.4 316.7 60.8 316.5 62.2 316.5 63.6 316.4 65 316.5 66.4 316.6 67.9 316.7 69.3 316.7 70.7 316.6 72.1 316.1 73.5 316.1 74.9 316.3 76.3 316.1 77.7 316.2 79.1 316.6 80.5 316.7 81.9 316.8 83.3 316.7 84.7 316.5 86.1 316.5 87.5 316.6 88.9 316.6 90.3 316.6 91.7 316.6 93.1 317 94.6 316.9 96 317.2 97.4 317.3 98.8 317.2 100.2 317.4 101.6 317.6 103 318.1 104.4 318.1 105.8 318.2 107.2 318.3 108.6 318.3 110 318.6 111.4 318.4 112.8 318.7 114.2 318.9 115.6 319 117 319 118.4 318.9 119.8 319 121.2 319.2 122.7 319.3 124.1 319 125.5 319 126.9 319.2 128.3 319.2 129.7 319.2 131.1 319.1 132.5 319.3 133.9 319.3 135.3 319.5 136.7 319.5 138.1 319.4 139.5 319.2 140.9 319.3 142.3 319.1 143.7 319.2 145.1 319.1 146.5 319.3 147.9 319.6 149.4 319.8 150.8 319.7 152.2 319.3 153.6 319.3 155 319.4 156.4 319.3 157.8 319.4 159.2 319.4 160.6 319.3 162 319.3 163.4 319.4 164.8 319.5 166.2 319.1 167.6 319.3 169 319.4 170.4 319.4 171.8 319.3 173.2 319.2 174.6 319 176.1 318.9 177.5 319.1 178.9 319.1 180.3 319 181.7 319.1 183.1 319.1 184.5 319.3 185.9 319.2 187.3 319.2 188.7 319.4 190.1 319.2 191.5 318.9 192.9 318.9 194.3 319.1 195.7 318.9 197.1 319 198.5 319 199.9 318.8 201.3 318.8 202.8 318.6 204.2 318.9 205.6 319 207 319 208.4 318.9 209.8 319.1 211.2 319 212.6 319.1 214 319.1 215.4 319 216.8 318.9 218.2 318.8 219.6 319 221 319 222.4 319 223.8 319.1 225.2 319.1 226.6 319.3 228 319 229.4 319 230.9 319.2 232.3 319.1 233.7 319.5 235.1 319.6 236.5 319.7 237.9 319.6 239.3 319.8 240.7 319.9 242.1 320.1 243.5 320.1 244.9 319.8 246.3 319.7 247.7 319.9 249.1 319.5 250.5 319.7 251.9 319.8 253.3 319.7 254.7 319.7 256.1 319.7 257.6 319.7 259 319.5 260.4 319.4 261.8 319.6 263.2 319.6 264.6 319.7 266 319.7 267.4 319.6 268.8 319.6 270.2 319.5 271.6 319.6 273 319.5 274.4 319.4 275.8 319.4 277.2 319.5 278.6 319.4 280 319.4 281.4 319.5 282.8 319.4 284.3 319.7 285.7 319.4 287.1 319.3 288.5 319.2 289.9 319.5 291.3 319.4 292.7 319.3 294.1 319.2 295.5 319.3 296.9 319.3 298.3 319.1 299.7 319.1 301.1 319 302.5 319.3 303.9 319.1 305.3 319.2 306.7 319.2 308.1 319" stroke="#0000ff" stroke-width="2.4" fill="none" stroke-linejoin="round"/>
<path d="M53.5 230V326.4H307.8V230" stroke="#000" stroke-width="1.1" fill="none"/>
<path d="M53.5 236.5h2.5M307.8 236.5h-2.5M53.5 251.5h2.5M307.8 251.5h-2.5M53.5 266.5h2.5M307.8 266.5h-2.5M53.5 281.5h2.5M307.8 281.5h-2.5M53.5 296.5h2.5M307.8 296.5h-2.5M53.5 311.5h2.5M307.8 311.5h-2.5M117 326.4v-2.5M180.3 326.4v-2.5M243.5 326.4v-2.5" stroke="#000" stroke-width="1"/>
<text x="49.1" y="283.5" font-size="15.6" class="S" text-anchor="end" fill="#0000ff">0.5</text>
<text x="49.1" y="332" font-size="15.6" class="S" text-anchor="end" fill="#0000ff">0</text>
<text x="20.6" y="275" font-size="15.8" class="S" text-anchor="middle" fill="#0000ff" transform="rotate(-90 20.6 275)">ADOP [cyc]</text>
<clipPath id="cm01"><rect x="371.5" y="49.4" width="254" height="175.5"/></clipPath>
<g clip-path="url(#cm01)">
<line x1="377" y1="64.2" x2="625.5" y2="64.2" stroke="#3a3a3a" stroke-width="1.1" stroke-dasharray="1 5"/>
<line x1="377" y1="100.9" x2="625.5" y2="100.9" stroke="#3a3a3a" stroke-width="1.1" stroke-dasharray="1 5"/>
<line x1="377" y1="137.6" x2="625.5" y2="137.6" stroke="#3a3a3a" stroke-width="1.1" stroke-dasharray="1 5"/>
<line x1="377" y1="174.2" x2="625.5" y2="174.2" stroke="#3a3a3a" stroke-width="1.1" stroke-dasharray="1 5"/>
<line x1="434.7" y1="52.4" x2="434.7" y2="224.9" stroke="#3a3a3a" stroke-width="1.1" stroke-dasharray="1 5"/>
<line x1="498" y1="52.4" x2="498" y2="224.9" stroke="#3a3a3a" stroke-width="1.1" stroke-dasharray="1 5"/>
<line x1="561.2" y1="52.4" x2="561.2" y2="224.9" stroke="#3a3a3a" stroke-width="1.1" stroke-dasharray="1 5"/>
<path d="M370.7 142.7h1.9M370.9 137.1h1.9M371.2 133.6h1.9M371.4 135h1.9M371.6 142.7h1.9M371.9 132.4h1.9M372.1 131.3h1.9M372.3 134.8h1.9M372.6 134.2h1.9M372.8 133.7h1.9M373 140.7h1.9M373.3 142.7h1.9M373.5 139h1.9M373.7 139h1.9M374 141.2h1.9M374.2 140.4h1.9M374.4 144.9h1.9M374.7 141.4h1.9M374.9 138.9h1.9M375.1 131.7h1.9M375.4 138.2h1.9M375.6 131.2h1.9M375.8 130.2h1.9M376.1 135.1h1.9M376.3 132.8h1.9M376.5 136.6h1.9M376.8 140.8h1.9M377 139.1h1.9M377.2 132.9h1.9M377.5 132.7h1.9M377.7 137.7h1.9M378 139.5h1.9M378.2 134.8h1.9M378.4 131.9h1.9M378.7 145.8h1.9M378.9 144h1.9M379.1 142.1h1.9M379.4 138.8h1.9M379.6 138.1h1.9M379.8 148.3h1.9M380.1 144.5h1.9M380.3 137.3h1.9M380.5 143.8h1.9M380.8 136.3h1.9M381 135.7h1.9M381.2 141.7h1.9M381.5 136.8h1.9M381.7 140.9h1.9M381.9 138.3h1.9M382.2 138.1h1.9M382.4 139.5h1.9M382.6 141.3h1.9M382.9 143.6h1.9M383.1 138.8h1.9M383.3 138.8h1.9M383.6 138.2h1.9M383.8 138h1.9M384 136.1h1.9M384.3 132.1h1.9M384.5 132.6h1.9M384.7 134.6h1.9M385 138.6h1.9M385.2 133.7h1.9M385.4 136.7h1.9M385.7 132.7h1.9M385.9 132.2h1.9M386.1 141.2h1.9M386.4 140.3h1.9M386.6 136.6h1.9M386.9 136.4h1.9M387.1 133.3h1.9M387.3 133.9h1.9M387.6 130.8h1.9M387.8 136.7h1.9M388 150h1.9M388.3 132.6h1.9M388.5 132.5h1.9M388.7 134.8h1.9M389 129.1h1.9M389.2 136.6h1.9M389.4 133h1.9M389.7 135h1.9M389.9 141.4h1.9M390.1 142.8h1.9M390.4 134.6h1.9M390.6 132.4h1.9M390.8 127.3h1.9M391.1 138.9h1.9M391.3 135.1h1.9M391.5 139.8h1.9M391.8 135.8h1.9M392 135.7h1.9M392.2 135.8h1.9M392.5 129.4h1.9M392.7 134.4h1.9M392.9 137.6h1.9M393.2 138.7h1.9M393.4 139.3h1.9M393.6 142.9h1.9M393.9 143.1h1.9M394.1 142h1.9M394.3 139.3h1.9M394.6 136h1.9M394.8 140.1h1.9M395 135.5h1.9M395.3 137.7h1.9M395.5 139.6h1.9M395.8 136.4h1.9M396 135.1h1.9M396.2 131.5h1.9M396.5 141.1h1.9M396.7 139.6h1.9M396.9 136.3h1.9M397.2 132.3h1.9M397.4 130.7h1.9M397.6 130.1h1.9M397.9 126.6h1.9M398.1 132.6h1.9M398.3 134.3h1.9M398.6 139.3h1.9M398.8 143.1h1.9M399 141.9h1.9M399.3 137.2h1.9M399.5 136.8h1.9M399.7 135.7h1.9M400 144h1.9M400.2 142.7h1.9M400.4 135.8h1.9M400.7 141.4h1.9M400.9 145.3h1.9M401.1 136.7h1.9M401.4 137.3h1.9M401.6 136.7h1.9M401.8 135.1h1.9M402.1 136.1h1.9M402.3 144h1.9M402.5 136.3h1.9M402.8 142.8h1.9M403 138.9h1.9M403.2 134.7h1.9M403.5 140.9h1.9M403.7 139.5h1.9M403.9 143.8h1.9M404.2 136h1.9M404.4 137.3h1.9M404.7 143.7h1.9M404.9 143.3h1.9M405.1 138.6h1.9M405.4 137h1.9M405.6 132.9h1.9M405.8 136.8h1.9M406.1 132.6h1.9M406.3 133.4h1.9M406.5 137.6h1.9M406.8 128.7h1.9M407 134.4h1.9M407.2 135.6h1.9M407.5 145.6h1.9M407.7 139.5h1.9M407.9 133.9h1.9M408.2 138.4h1.9M408.4 137.9h1.9M408.6 139.2h1.9M408.9 137.8h1.9M409.1 133.5h1.9M409.3 130.4h1.9M409.6 138h1.9M409.8 138.8h1.9M410 135.1h1.9M410.3 139.3h1.9M410.5 136.6h1.9M410.7 140.1h1.9M411 141.2h1.9M411.2 140.5h1.9M411.4 141.1h1.9M411.7 138.6h1.9M411.9 133h1.9M412.1 135.2h1.9M412.4 136.1h1.9M412.6 129.4h1.9M412.8 129.6h1.9M413.1 135.7h1.9M413.3 130.9h1.9M413.6 131.2h1.9M413.8 137h1.9M414 129.1h1.9M414.3 133h1.9M414.5 135.6h1.9M414.7 129.4h1.9M415 131.6h1.9M415.2 140.6h1.9M415.4 142.2h1.9M415.7 142.8h1.9M415.9 138.4h1.9M416.1 138.6h1.9M416.4 141.5h1.9M416.6 142h1.9M416.8 134.8h1.9M417.1 144.2h1.9M417.3 140.4h1.9M417.5 139.8h1.9M417.8 137.7h1.9M418 142.5h1.9M418.2 140.3h1.9M418.5 136.5h1.9M418.7 141.5h1.9M418.9 140.4h1.9M419.2 133.3h1.9M419.4 135.8h1.9M419.6 135.8h1.9M419.9 135.1h1.9M420.1 140.8h1.9M420.3 142.1h1.9M420.6 137h1.9M420.8 138.3h1.9M421 138.5h1.9M421.3 132.4h1.9M421.5 136.1h1.9M421.7 140.6h1.9M422 137.2h1.9M422.2 139.7h1.9M422.5 140.8h1.9M422.7 145.8h1.9M422.9 139.4h1.9M423.2 143.1h1.9M423.4 137h1.9M423.6 140.3h1.9M423.9 147.1h1.9M424.1 134.9h1.9M424.3 134.2h1.9M424.6 132h1.9M424.8 133.2h1.9M425 143.2h1.9M425.3 133.7h1.9M425.5 135.7h1.9M425.7 137.6h1.9M426 133.1h1.9M426.2 139.3h1.9M426.4 142.3h1.9M426.7 136.8h1.9M426.9 140.7h1.9M427.1 142.4h1.9M427.4 143.2h1.9M427.6 144.7h1.9M427.8 140.5h1.9M428.1 146.3h1.9M428.3 137.3h1.9M428.5 136.4h1.9M428.8 132.7h1.9M429 132.6h1.9M429.2 135.2h1.9M429.5 131.5h1.9M429.7 137h1.9M429.9 130.9h1.9M430.2 137.7h1.9M430.4 129.8h1.9M430.6 132.2h1.9M430.9 136.3h1.9M431.1 135.6h1.9M431.3 135.7h1.9M431.6 138.2h1.9M431.8 139.8h1.9M432.1 135.9h1.9M432.3 137.2h1.9M432.5 136.6h1.9M432.8 131.5h1.9M433 136.8h1.9M433.2 135.5h1.9M433.5 138.7h1.9M433.7 144.6h1.9M433.9 141.3h1.9M434.2 139.8h1.9M434.4 139.3h1.9M434.6 130.8h1.9M434.9 130.7h1.9M435.1 133.5h1.9M435.3 138.3h1.9M435.6 140.5h1.9M435.8 135.5h1.9M436 135.7h1.9M436.3 132.8h1.9M436.5 129.1h1.9M436.7 141.6h1.9M437 142.9h1.9M437.2 139.4h1.9M437.4 134.6h1.9M437.7 137.8h1.9M437.9 136.1h1.9M438.1 139.6h1.9M438.4 143.2h1.9M438.6 135.3h1.9M438.8 135.1h1.9M439.1 132.6h1.9M439.3 131.4h1.9M439.5 135.1h1.9M439.8 135.8h1.9M440 137.1h1.9M440.2 144.2h1.9M440.5 138.8h1.9M440.7 135.8h1.9M441 139h1.9M441.2 140h1.9M441.4 138.3h1.9M441.7 132.7h1.9M441.9 141.2h1.9M442.1 143.4h1.9M442.4 141.6h1.9M442.6 139h1.9M442.8 134h1.9M443.1 135.1h1.9M443.3 138.6h1.9M443.5 135h1.9M443.8 131.5h1.9M444 132.4h1.9M444.2 139h1.9M444.5 145.1h1.9M444.7 144.2h1.9M444.9 145.3h1.9M445.2 142.9h1.9M445.4 145.3h1.9M445.6 145.2h1.9M445.9 140h1.9M446.1 144.9h1.9M446.3 147h1.9M446.6 137.8h1.9M446.8 134.9h1.9M447 135.5h1.9M447.3 135.2h1.9M447.5 136.9h1.9M447.7 132.5h1.9M448 126.9h1.9M448.2 138.3h1.9M448.4 133.6h1.9M448.7 132.6h1.9M448.9 136.5h1.9M449.1 137h1.9M449.4 140.2h1.9M449.6 140.7h1.9M449.9 137.6h1.9M450.1 128.4h1.9M450.3 135.8h1.9M450.6 138.8h1.9M450.8 131.6h1.9M451 140.3h1.9M451.3 139.9h1.9M451.5 141.3h1.9M451.7 140.5h1.9M452 138.8h1.9M452.2 139.4h1.9M452.4 138.9h1.9M452.7 138.2h1.9M452.9 138.5h1.9M453.1 143.5h1.9M453.4 135h1.9M453.6 140.7h1.9M453.8 138.1h1.9M454.1 136.1h1.9M454.3 139.2h1.9M454.5 141.6h1.9M454.8 131.5h1.9M455 139.1h1.9M455.2 132h1.9M455.5 137.1h1.9M455.7 143.3h1.9M455.9 136h1.9M456.2 133.9h1.9M456.4 130.7h1.9M456.6 134.5h1.9M456.9 136.5h1.9M457.1 135.3h1.9M457.3 138.8h1.9M457.6 134.6h1.9M457.8 132.8h1.9M458 133.5h1.9M458.3 130.7h1.9M458.5 137.7h1.9M458.8 138h1.9M459 137.4h1.9M459.2 137.9h1.9M459.5 137.3h1.9M459.7 135.2h1.9M459.9 126.9h1.9M460.2 136.4h1.9M460.4 138.6h1.9M460.6 132.4h1.9M460.9 133.8h1.9M461.1 139.1h1.9M461.3 134h1.9M461.6 135.9h1.9M461.8 133.8h1.9M462 134.9h1.9M462.3 134.2h1.9M462.5 133.1h1.9M462.7 141.5h1.9M463 142.8h1.9M463.2 136.8h1.9M463.4 144.1h1.9M463.7 138h1.9M463.9 136.3h1.9M464.1 144.8h1.9M464.4 135.3h1.9M464.6 138.6h1.9M464.8 134.1h1.9M465.1 132.5h1.9M465.3 132h1.9M465.5 135.8h1.9M465.8 134.3h1.9M466 137.4h1.9M466.2 132.3h1.9M466.5 145.9h1.9M466.7 143.6h1.9M466.9 140.4h1.9M467.2 140.7h1.9M467.4 137.8h1.9M467.7 134.5h1.9M467.9 142.7h1.9M468.1 140h1.9M468.4 136.8h1.9M468.6 136.7h1.9M468.8 137.8h1.9M469.1 134.8h1.9M469.3 143.4h1.9M469.5 139h1.9M469.8 143.8h1.9M470 138.7h1.9M470.2 137.7h1.9M470.5 133.9h1.9M470.7 136.8h1.9M470.9 134.4h1.9M471.2 130.6h1.9M471.4 137.5h1.9M471.6 141.7h1.9M471.9 140h1.9M472.1 139.2h1.9M472.3 132.8h1.9M472.6 136.4h1.9M472.8 140.2h1.9M473 133.7h1.9M473.3 134.8h1.9M473.5 139.7h1.9M473.7 135.5h1.9M474 135.9h1.9M474.2 134.6h1.9M474.4 136.4h1.9M474.7 137.9h1.9M474.9 140.2h1.9M475.1 134.7h1.9M475.4 126.7h1.9M475.6 129.2h1.9M475.8 141h1.9M476.1 136.1h1.9M476.3 137.1h1.9M476.6 137.1h1.9M476.8 134.1h1.9M477 132.4h1.9M477.3 134.7h1.9M477.5 135.6h1.9M477.7 143.4h1.9M478 141.8h1.9M478.2 144h1.9M478.4 143.6h1.9M478.7 141h1.9M478.9 132h1.9M479.1 136.9h1.9M479.4 136.3h1.9M479.6 138.6h1.9M479.8 133.3h1.9M480.1 136.8h1.9M480.3 137.3h1.9M480.5 141.8h1.9M480.8 136h1.9M481 133h1.9M481.2 131.2h1.9M481.5 129.3h1.9M481.7 133.5h1.9M481.9 138.8h1.9M482.2 133.9h1.9M482.4 130h1.9M482.6 138h1.9M482.9 135.5h1.9M483.1 134.2h1.9M483.3 135h1.9M483.6 137.1h1.9M483.8 134.1h1.9M484 133.2h1.9M484.3 134.8h1.9M484.5 135.6h1.9M484.7 137.4h1.9M485 136.7h1.9M485.2 135h1.9M485.5 140.8h1.9M485.7 131.7h1.9M485.9 133.3h1.9M486.2 138.5h1.9M486.4 133.5h1.9M486.6 134.6h1.9M486.9 136.7h1.9M487.1 135.9h1.9M487.3 142.5h1.9M487.6 141.7h1.9M487.8 141.8h1.9M488 133.4h1.9M488.3 135.1h1.9M488.5 135.4h1.9M488.7 133.6h1.9M489 133.7h1.9M489.2 135.5h1.9M489.4 129.4h1.9M489.7 135.3h1.9M489.9 138.3h1.9M490.1 132.8h1.9M490.4 138.7h1.9M490.6 140.8h1.9M490.8 142.2h1.9M491.1 135.7h1.9M491.3 140.2h1.9M491.5 132.9h1.9M491.8 139h1.9M492 133.3h1.9M492.2 132.2h1.9M492.5 137.3h1.9M492.7 139.7h1.9M492.9 139.7h1.9M493.2 134.2h1.9M493.4 140.6h1.9M493.6 135.5h1.9M493.9 139.3h1.9M494.1 142.1h1.9M494.3 134h1.9M494.6 137.7h1.9M494.8 130.3h1.9M495.1 135.9h1.9M495.3 128.8h1.9M495.5 135.9h1.9M495.8 139.4h1.9M496 139.1h1.9M496.2 140.3h1.9M496.5 137.6h1.9M496.7 140.9h1.9M496.9 137.6h1.9M497.2 139.8h1.9M497.4 138.7h1.9M497.6 135.3h1.9M497.9 140h1.9M498.1 140.4h1.9M498.3 136.5h1.9M498.6 136.4h1.9M498.8 132.3h1.9M499 137.9h1.9M499.3 139.6h1.9M499.5 136.8h1.9M499.7 132.6h1.9M500 140.8h1.9M500.2 137.7h1.9M500.4 139.4h1.9M500.7 134.3h1.9M500.9 134.4h1.9M501.1 136.3h1.9M501.4 133.7h1.9M501.6 138.1h1.9M501.8 129.9h1.9M502.1 139.4h1.9M502.3 144h1.9M502.5 141.5h1.9M502.8 138.7h1.9M503 137h1.9M503.2 142.8h1.9M503.5 139.2h1.9M503.7 143.4h1.9M504 132.5h1.9M504.2 144.4h1.9M504.4 137.3h1.9M504.7 137.4h1.9M504.9 137h1.9M505.1 133.6h1.9M505.4 126.3h1.9M505.6 131.2h1.9M505.8 136.7h1.9M506.1 139.6h1.9M506.3 143.7h1.9M506.5 142.7h1.9M506.8 137.8h1.9M507 137.2h1.9M507.2 142.9h1.9M507.5 136.1h1.9M507.7 133.3h1.9M507.9 131.5h1.9M508.2 141.8h1.9M508.4 135.3h1.9M508.6 135.5h1.9M508.9 135.1h1.9M509.1 132.2h1.9M509.3 140.6h1.9M509.6 140.5h1.9M509.8 135.4h1.9M510 134.9h1.9M510.3 140.2h1.9M510.5 144.6h1.9M510.7 140.2h1.9M511 139h1.9M511.2 135.3h1.9M511.4 146.9h1.9M511.7 146.3h1.9M511.9 138h1.9M512.1 139.2h1.9M512.4 139.5h1.9M512.6 141.3h1.9M512.9 142.9h1.9M513.1 144.4h1.9M513.3 143.6h1.9M513.6 135.3h1.9M513.8 136h1.9M514 135.9h1.9M514.3 141h1.9M514.5 139.6h1.9M514.7 139.3h1.9M515 137.6h1.9M515.2 143.2h1.9M515.4 142.9h1.9M515.7 141.5h1.9M515.9 141.8h1.9M516.1 143.1h1.9M516.4 141.7h1.9M516.6 136.5h1.9M516.8 138.2h1.9M517.1 140.2h1.9M517.3 137.7h1.9M517.5 133.9h1.9M517.8 133.9h1.9M518 134.7h1.9M518.2 132.9h1.9M518.5 130.8h1.9M518.7 127.3h1.9M518.9 133.4h1.9M519.2 132h1.9M519.4 136.2h1.9M519.6 139.7h1.9M519.9 141h1.9M520.1 138.5h1.9M520.3 141.4h1.9M520.6 141.4h1.9M520.8 135.7h1.9M521 147.3h1.9M521.3 149.3h1.9M521.5 140.6h1.9M521.8 136.8h1.9M522 137.4h1.9M522.2 135.2h1.9M522.5 134.3h1.9M522.7 135.3h1.9M522.9 139.2h1.9M523.2 133.1h1.9M523.4 131.8h1.9M523.6 131.8h1.9M523.9 130.5h1.9M524.1 135h1.9M524.3 134.1h1.9M524.6 134.3h1.9M524.8 139.7h1.9M525 139.2h1.9M525.3 143.8h1.9M525.5 142.8h1.9M525.7 136.3h1.9M526 140.6h1.9M526.2 145.8h1.9M526.4 144.3h1.9M526.7 138.4h1.9M526.9 137.1h1.9M527.1 133.3h1.9M527.4 134h1.9M527.6 140.3h1.9M527.8 138.1h1.9M528.1 133.3h1.9M528.3 138.6h1.9M528.5 139.2h1.9M528.8 138.4h1.9M529 143.7h1.9M529.2 139.2h1.9M529.5 135.4h1.9M529.7 142.1h1.9M529.9 148.4h1.9M530.2 143.6h1.9M530.4 142.2h1.9M530.7 138.8h1.9M530.9 145.5h1.9M531.1 137.6h1.9M531.4 137.3h1.9M531.6 135.7h1.9M531.8 131.3h1.9M532.1 138.2h1.9M532.3 134.7h1.9M532.5 135.2h1.9M532.8 130.9h1.9M533 134.3h1.9M533.2 140.3h1.9M533.5 133.6h1.9M533.7 136.9h1.9M533.9 142.2h1.9M534.2 138h1.9M534.4 140.7h1.9M534.6 140.7h1.9M534.9 149.2h1.9M535.1 141.5h1.9M535.3 144h1.9M535.6 140.3h1.9M535.8 136.9h1.9M536 137.7h1.9M536.3 145.2h1.9M536.5 142.1h1.9M536.7 146.8h1.9M537 136.3h1.9M537.2 141.3h1.9M537.4 145h1.9M537.7 143.8h1.9M537.9 135.1h1.9M538.1 145.1h1.9M538.4 143h1.9M538.6 138.8h1.9M538.8 135.1h1.9M539.1 134.4h1.9M539.3 134.5h1.9M539.6 140.2h1.9M539.8 126.4h1.9M540 137.4h1.9M540.3 128h1.9M540.5 134.9h1.9M540.7 135.9h1.9M541 134.2h1.9M541.2 137.7h1.9M541.4 137.1h1.9M541.7 138.3h1.9M541.9 136.1h1.9M542.1 138.6h1.9M542.4 138h1.9M542.6 142.7h1.9M542.8 138.7h1.9M543.1 137.3h1.9M543.3 134.8h1.9M543.5 127.9h1.9M543.8 138h1.9M544 135.4h1.9M544.2 134.6h1.9M544.5 142.1h1.9M544.7 143.2h1.9M544.9 146.2h1.9M545.2 142.3h1.9M545.4 143.4h1.9M545.6 140.7h1.9M545.9 132.7h1.9M546.1 133.7h1.9M546.3 140h1.9M546.6 139.3h1.9M546.8 135.5h1.9M547 138.8h1.9M547.3 135.1h1.9M547.5 135.5h1.9M547.7 138.6h1.9M548 144h1.9M548.2 135.4h1.9M548.4 135.7h1.9M548.7 134.3h1.9M548.9 132.5h1.9M549.2 132.4h1.9M549.4 140.8h1.9M549.6 138.9h1.9M549.9 137.4h1.9M550.1 133.7h1.9M550.3 133.4h1.9M550.6 130h1.9M550.8 132.5h1.9M551 126.8h1.9M551.3 131.3h1.9M551.5 136.9h1.9M551.7 135h1.9M552 139.5h1.9M552.2 138h1.9M552.4 138.1h1.9M552.7 133.2h1.9M552.9 137.1h1.9M553.1 132.2h1.9M553.4 132.2h1.9M553.6 133.1h1.9M553.8 135.5h1.9M554.1 138.2h1.9M554.3 134.8h1.9M554.5 131.2h1.9M554.8 134.2h1.9M555 138.6h1.9M555.2 140.7h1.9M555.5 139h1.9M555.7 129.5h1.9M555.9 138.8h1.9M556.2 133.3h1.9M556.4 138.5h1.9M556.6 137.3h1.9M556.9 132.4h1.9M557.1 137.1h1.9M557.3 132.2h1.9M557.6 142.5h1.9M557.8 143.9h1.9M558.1 137.2h1.9M558.3 137h1.9M558.5 138.1h1.9M558.8 136.4h1.9M559 133.8h1.9M559.2 131.2h1.9M559.5 132h1.9M559.7 130.5h1.9M559.9 131.4h1.9M560.2 137.9h1.9M560.4 135.8h1.9M560.6 139.6h1.9M560.9 140h1.9M561.1 143.2h1.9M561.3 144.3h1.9M561.6 143.7h1.9M561.8 140.8h1.9M562 136h1.9M562.3 134.4h1.9M562.5 131.9h1.9M562.7 131.8h1.9M563 137.6h1.9M563.2 137.3h1.9M563.4 135.6h1.9M563.7 137.5h1.9M563.9 135.4h1.9M564.1 139.7h1.9M564.4 141.8h1.9M564.6 143.2h1.9M564.8 136.9h1.9M565.1 132.6h1.9M565.3 138.4h1.9M565.5 131.6h1.9M565.8 126.9h1.9M566 134.7h1.9M566.2 141.9h1.9M566.5 141.3h1.9M566.7 136.7h1.9M567 134.8h1.9M567.2 139.8h1.9M567.4 136.2h1.9M567.7 138.5h1.9M567.9 142.2h1.9M568.1 138.5h1.9M568.4 138.3h1.9M568.6 141.1h1.9M568.8 134.9h1.9M569.1 134.3h1.9M569.3 139.9h1.9M569.5 142h1.9M569.8 136.5h1.9M570 136.5h1.9M570.2 138.5h1.9M570.5 133.8h1.9M570.7 129.3h1.9M570.9 130h1.9M571.2 132.5h1.9M571.4 140.3h1.9M571.6 133.5h1.9M571.9 131.2h1.9M572.1 134.3h1.9M572.3 134.3h1.9M572.6 132.3h1.9M572.8 135.6h1.9M573 135.2h1.9M573.3 127.6h1.9M573.5 135.9h1.9M573.7 137.5h1.9M574 134.8h1.9M574.2 134.1h1.9M574.4 139.8h1.9M574.7 139.9h1.9M574.9 137.4h1.9M575.1 138.8h1.9M575.4 141.7h1.9M575.6 137.1h1.9M575.9 141.7h1.9M576.1 137.4h1.9M576.3 140.2h1.9M576.6 135.5h1.9M576.8 137.1h1.9M577 140.6h1.9M577.3 135h1.9M577.5 136.6h1.9M577.7 142.8h1.9M578 136.5h1.9M578.2 137h1.9M578.4 141h1.9M578.7 138.6h1.9M578.9 138.3h1.9M579.1 138.3h1.9M579.4 144.3h1.9M579.6 139.8h1.9M579.8 135.4h1.9M580.1 139.9h1.9M580.3 135.5h1.9M580.5 139.9h1.9M580.8 138.8h1.9M581 139.6h1.9M581.2 139h1.9M581.5 139.3h1.9M581.7 139.4h1.9M581.9 141.4h1.9M582.2 139.7h1.9M582.4 140.8h1.9M582.6 142.8h1.9M582.9 136.5h1.9M583.1 132.7h1.9M583.3 137.4h1.9M583.6 137.4h1.9M583.8 134h1.9M584 139.2h1.9M584.3 133.1h1.9M584.5 141.5h1.9M584.8 138.2h1.9M585 128.4h1.9M585.2 135h1.9M585.5 137.7h1.9M585.7 140.9h1.9M585.9 137.4h1.9M586.2 138.1h1.9M586.4 134.5h1.9M586.6 134.1h1.9M586.9 133h1.9M587.1 136.6h1.9M587.3 141.5h1.9M587.6 138.5h1.9M587.8 138.6h1.9M588 145.6h1.9M588.3 142.9h1.9M588.5 136.3h1.9M588.7 142.5h1.9M589 136.1h1.9M589.2 137.9h1.9M589.4 136.9h1.9M589.7 128.5h1.9M589.9 129.3h1.9M590.1 139.8h1.9M590.4 141.4h1.9M590.6 142.8h1.9M590.8 138.4h1.9M591.1 142.7h1.9M591.3 140h1.9M591.5 139.7h1.9M591.8 142.7h1.9M592 141.2h1.9M592.2 143.1h1.9M592.5 144.9h1.9M592.7 140.7h1.9M592.9 134.4h1.9M593.2 136h1.9M593.4 142.4h1.9M593.7 140.7h1.9M593.9 140.8h1.9M594.1 137.3h1.9M594.4 141h1.9M594.6 142h1.9M594.8 137.8h1.9M595.1 140.6h1.9M595.3 143.7h1.9M595.5 138.8h1.9M595.8 141.6h1.9M596 142.1h1.9M596.2 142.8h1.9M596.5 138h1.9M596.7 138.1h1.9M596.9 138.9h1.9M597.2 134.6h1.9M597.4 137.3h1.9M597.6 142.6h1.9M597.9 135.9h1.9M598.1 133.7h1.9M598.3 132.4h1.9M598.6 134.4h1.9M598.8 132.2h1.9M599 137.8h1.9M599.3 135.3h1.9M599.5 135.5h1.9M599.7 134.3h1.9M600 126.2h1.9M600.2 134h1.9M600.4 134.7h1.9M600.7 130.5h1.9M600.9 133.2h1.9M601.1 138h1.9M601.4 135.8h1.9M601.6 143.1h1.9M601.8 139h1.9M602.1 136.1h1.9M602.3 135.1h1.9M602.6 132.1h1.9M602.8 133h1.9M603 137.5h1.9M603.3 143.3h1.9M603.5 140.3h1.9M603.7 145.6h1.9M604 141.7h1.9M604.2 146.1h1.9M604.4 141h1.9M604.7 142.6h1.9M604.9 139.3h1.9M605.1 143.2h1.9M605.4 137.2h1.9M605.6 137.7h1.9M605.8 136.5h1.9M606.1 132.1h1.9M606.3 132.1h1.9M606.5 132.8h1.9M606.8 134.5h1.9M607 130.9h1.9M607.2 135.8h1.9M607.5 135.5h1.9M607.7 143.9h1.9M607.9 143.8h1.9M608.2 145.3h1.9M608.4 141.7h1.9M608.6 138.6h1.9M608.9 140.9h1.9M609.1 135.8h1.9M609.3 133.8h1.9M609.6 132.5h1.9M609.8 132.5h1.9M610 135h1.9M610.3 136.7h1.9M610.5 141.6h1.9M610.7 138.1h1.9M611 141h1.9M611.2 146.1h1.9M611.4 133.8h1.9M611.7 137.4h1.9M611.9 138.5h1.9M612.2 132.9h1.9M612.4 140h1.9M612.6 135.8h1.9M612.9 134.2h1.9M613.1 139.3h1.9M613.3 133.2h1.9M613.6 133.4h1.9M613.8 133.4h1.9M614 140.8h1.9M614.3 143h1.9M614.5 138.1h1.9M614.7 137.2h1.9M615 132.5h1.9M615.2 135.6h1.9M615.4 131.1h1.9M615.7 131.3h1.9M615.9 136h1.9M616.1 135.3h1.9M616.4 136.5h1.9M616.6 131.2h1.9M616.8 132.5h1.9M617.1 136.6h1.9M617.3 137.6h1.9M617.5 143.2h1.9M617.8 140.6h1.9M618 138.9h1.9M618.2 140.5h1.9M618.5 133.4h1.9M618.7 136.5h1.9M618.9 134h1.9M619.2 138.8h1.9M619.4 138.6h1.9M619.6 141.1h1.9M619.9 143.5h1.9M620.1 142.2h1.9M620.3 138.3h1.9M620.6 137h1.9M620.8 136.4h1.9M621.1 136.2h1.9M621.3 137.1h1.9M621.5 133.6h1.9M621.8 143.8h1.9M622 152.3h1.9M622.2 145.1h1.9M622.5 138.8h1.9M622.7 136.9h1.9M622.9 131.9h1.9M623.2 137.8h1.9M623.4 135.9h1.9M623.6 137.4h1.9M623.9 142.6h1.9M624.1 139.3h1.9M624.3 141.1h1.9M624.6 144.2h1.9M624.8 138.9h1.9M625 142.9h1.9M625.3 139.7h1.9" stroke="#838383" stroke-width="1.85" fill="none"/>
<rect x="371.5" y="136.2" width="254" height="2.6" fill="none" stroke="#000" stroke-width="1"/>
<path d="M371.5 137.6H626.3" stroke="#00ff00" stroke-width="2.6"/>
</g>
<line x1="498" y1="139" x2="498" y2="186.6" stroke="#000" stroke-width="1.6"/>
<rect x="371.5" y="49.4" width="254" height="175.5" fill="none" stroke="#222" stroke-width="1.1"/>
<path d="M371.5 64.2h2.5M625.5 64.2h-2.5M371.5 100.9h2.5M625.5 100.9h-2.5M371.5 137.6h2.5M625.5 137.6h-2.5M371.5 174.2h2.5M625.5 174.2h-2.5M434.7 49.4v2.5M498 49.4v2.5M561.2 49.4v2.5" stroke="#222" stroke-width="1"/>
<text x="367.1" y="70.1" font-size="15.6" class="S" text-anchor="end">10</text>
<text x="367.1" y="106.8" font-size="15.6" class="S" text-anchor="end">5</text>
<text x="367.1" y="143.5" font-size="15.6" class="S" text-anchor="end">0</text>
<text x="367.1" y="180.2" font-size="15.6" class="S" text-anchor="end">−5</text>
<rect x="371.5" y="186.6" width="254" height="38.1" fill="#fff"/>
<clipPath id="ci01"><rect x="371.5" y="186.6" width="254" height="38.1"/></clipPath>
<g clip-path="url(#ci01)">
<line x1="434.7" y1="189.6" x2="434.7" y2="224.7" stroke="#3a3a3a" stroke-width="1.1" stroke-dasharray="1 5"/>
<line x1="498" y1="189.6" x2="498" y2="224.7" stroke="#3a3a3a" stroke-width="1.1" stroke-dasharray="1 5"/>
<line x1="561.2" y1="189.6" x2="561.2" y2="224.7" stroke="#3a3a3a" stroke-width="1.1" stroke-dasharray="1 5"/>
<line x1="377" y1="205.7" x2="625.5" y2="205.7" stroke="#3a3a3a" stroke-width="1.1" stroke-dasharray="1 5"/>
<path d="M560.8 224h1.5M445 216.6h1.5M595.2 214.2h1.5M472 216.5h1.5M556.8 219.7h1.5M489.4 196.2h1.5M463.1 215.8h1.5M501.3 217.2h1.5M555.9 194h1.5M430.9 222.4h1.5M465.9 223.8h1.5M586.8 188.8h1.5M521.7 204.8h1.5M520.6 210.8h1.5M508.4 201.4h1.5M586.5 213.2h1.5M408.6 207.7h1.5M383.6 212.6h1.5M500.7 192.5h1.5M520.6 187.6h1.5M570.5 187.6h1.5M595.1 212h1.5M416.8 198.3h1.5M558.9 209.1h1.5M579.6 200.3h1.5M579.1 224.2h1.5M584.3 191.6h1.5M430.6 193h1.5M438.1 192.7h1.5M582.8 193.4h1.5M395.4 217h1.5M510.4 215.4h1.5M467.7 188.6h1.5M602.7 218.2h1.5M413.8 195.3h1.5M515.6 223.9h1.5M615 217.4h1.5M392.9 191.4h1.5M581 220.5h1.5M517.6 189.2h1.5M624.1 190.5h1.5M584.3 189.4h1.5M472.5 197.8h1.5M588.4 193.8h1.5M522.9 193h1.5M563.5 190h1.5M601.4 191.8h1.5M418.3 211.6h1.5M496.7 224.1h1.5M443.2 191.8h1.5M618.8 206h1.5M502.4 220.1h1.5M507.5 189.6h1.5M449.5 199.8h1.5M578.5 207.3h1.5M480.9 197.7h1.5M416.3 211.6h1.5M429.9 221.8h1.5M433.1 193.3h1.5M561.3 209.2h1.5M400.2 205.2h1.5M443.9 200.8h1.5M588.7 210.8h1.5M454.2 193.5h1.5M588.7 198.5h1.5M456.4 189.8h1.5M387.4 187.5h1.5M554.6 221.9h1.5M414.2 194.6h1.5M608.5 220.6h1.5M528.3 192.4h1.5M540.5 189.7h1.5M594.1 217.7h1.5M392.8 191.1h1.5M433.8 191.7h1.5M614 209.9h1.5M565.8 216.4h1.5M501.1 219.7h1.5M530.4 218.9h1.5M479.3 223.3h1.5M619.5 201.4h1.5M457 215.9h1.5M570.2 206h1.5M514.9 222.7h1.5M464 206.9h1.5M584.5 216.6h1.5M383.7 204.2h1.5M426.4 222.8h1.5M398.7 206.4h1.5M479.7 214.4h1.5M550 222.4h1.5M445.8 205.8h1.5M433.2 188.3h1.5M457.2 207.3h1.5M612.5 204.9h1.5M430.5 206.5h1.5M622.8 193.3h1.5M450.1 221.5h1.5M606.1 213.1h1.5M391.7 208.6h1.5M565 210.4h1.5M575.1 189.4h1.5M541.9 191.5h1.5M520.8 221.1h1.5M543.2 214.7h1.5M576.5 190.9h1.5M489.5 198h1.5M383.6 202.9h1.5M538.7 190.1h1.5M388.9 216.9h1.5M564.4 201.5h1.5M485.4 188.1h1.5M389.2 191.9h1.5M399.7 215.2h1.5M538.2 222.3h1.5M565.5 212.8h1.5M573.3 201.9h1.5M436.2 194.8h1.5M604.3 194.9h1.5M395 207.8h1.5M388.3 207.6h1.5M442.9 204.6h1.5M591.5 196.6h1.5M572.7 222.1h1.5M494.4 208.8h1.5M555.4 191.3h1.5M373.1 192.2h1.5M455.2 223h1.5M528.5 204.3h1.5M615.1 194.4h1.5M490.2 195.3h1.5M597.2 205h1.5M451.9 200h1.5M587.2 197.8h1.5M528.2 218.1h1.5M556.3 202h1.5M554.9 207.2h1.5M380.9 214.8h1.5M521.5 218.4h1.5M453.9 209h1.5M407.4 213.8h1.5M485.3 190.3h1.5M553.8 220.4h1.5M470.5 194.2h1.5M371.2 197.9h1.5M553.5 214.9h1.5M374.7 212.7h1.5M454.6 199.5h1.5M390.6 218h1.5M554.4 222.7h1.5M522.2 210.4h1.5M456.4 209h1.5M457.7 194.7h1.5M603.6 203.1h1.5M545 192.9h1.5M398.8 206.8h1.5M378 196.2h1.5M598.2 219.2h1.5M478.5 201.1h1.5M506.3 222.2h1.5M474.9 211.6h1.5M524.2 191.1h1.5M391.1 204.1h1.5M488.4 209.9h1.5M420.1 207.5h1.5M401.2 199.2h1.5M446 191.8h1.5M433 216.4h1.5M418.9 197.2h1.5M584.6 192h1.5M502.2 200.5h1.5M461.7 204.3h1.5M399.8 191.8h1.5M479.1 206.4h1.5M397.3 205.1h1.5M421 187.7h1.5M390.1 211.1h1.5M391.1 216.7h1.5M498.6 221.7h1.5M532.1 201.9h1.5M565.7 211.5h1.5M532.6 211.7h1.5M545.8 187.5h1.5M416.5 198.9h1.5M573.6 215h1.5M383.9 205.2h1.5M500.8 201.5h1.5M564.4 211.8h1.5M575.9 197.8h1.5M433.4 215.6h1.5M486.1 192.4h1.5M593.4 204.5h1.5M505.5 205.8h1.5M561 223.4h1.5M551 205.1h1.5M514.1 192.5h1.5M398.6 205.2h1.5M612.7 215.1h1.5M527.7 213.9h1.5M566.2 200.5h1.5M406.6 219.1h1.5M459.3 207.7h1.5M573.7 189.2h1.5M511.5 220.9h1.5M487.7 189.1h1.5M391 207.8h1.5M438.9 200.2h1.5M424.9 222.6h1.5M418.5 204.7h1.5M478.3 192.9h1.5M425.2 200h1.5M606.5 223.3h1.5M495.9 216.5h1.5M469.1 214.6h1.5M563.7 214.7h1.5M620.8 216.5h1.5M446 200.5h1.5M402.7 217.8h1.5M456 199.6h1.5M579.7 202.3h1.5M443.9 203.3h1.5M620.6 210.5h1.5M400 222.8h1.5M486.2 189h1.5M610.1 198.4h1.5M430.2 210.2h1.5M425.2 207.9h1.5M567 223.1h1.5M503.5 216.2h1.5M528.3 194.9h1.5M565.6 211.3h1.5M598.9 223.7h1.5M446.2 218.8h1.5M544.8 206.3h1.5M524.2 222.1h1.5M397.5 196.4h1.5M535.9 190h1.5M481.2 202h1.5M480.1 191.7h1.5M446.2 206h1.5M571.1 210.4h1.5M481.4 220.5h1.5M615.3 205.6h1.5M490.7 218.1h1.5M475.2 211.2h1.5M418.5 210.8h1.5M461.1 200.4h1.5M389.9 187.3h1.5M585.4 223.8h1.5M486.5 196.9h1.5M381.6 191.1h1.5M617.1 221.7h1.5M453.2 188.3h1.5M443.4 196.8h1.5M574.8 224.1h1.5M492.6 212h1.5M580.5 221.3h1.5M541.3 223.3h1.5M525.3 206.6h1.5M606.6 187.6h1.5M580 198.3h1.5M467 202.3h1.5M478.9 196.7h1.5M619 199.7h1.5M408.6 203.7h1.5M506.2 190.9h1.5M452.8 209.5h1.5M547.6 201.8h1.5M496.5 201.9h1.5M429.3 220.9h1.5M481.9 204.5h1.5M556.4 209.5h1.5M456.4 188.6h1.5M601.8 216.4h1.5M588.3 211.5h1.5M384.3 194.6h1.5M505 189.6h1.5M481.6 222.7h1.5M470.7 198.4h1.5M430.6 199.8h1.5M429.2 199.4h1.5M374.2 197.9h1.5M423.1 209.8h1.5M617.1 220.3h1.5M390.4 188.2h1.5M577.5 203.2h1.5M504.6 207.1h1.5M534.7 193.9h1.5M405.9 210.9h1.5M498.9 218.4h1.5M398.8 200.3h1.5M621 194h1.5M451.7 211.7h1.5M622 193.7h1.5M522.5 221.3h1.5M404.4 196.4h1.5M464.5 199.7h1.5M412.9 198.8h1.5M501.6 220.1h1.5M403.8 215h1.5M471.1 204.2h1.5M611.4 217.2h1.5M420.5 204.5h1.5M427.8 224h1.5M499.7 208.9h1.5M536.6 205.3h1.5M389.9 207.9h1.5M394.6 221.4h1.5M589.2 190.5h1.5M614 197h1.5M526.9 205.5h1.5M504.1 212.4h1.5M592.8 207h1.5M603.1 210.8h1.5M434.6 200.5h1.5M550 206.2h1.5M427 221.1h1.5M531.5 219.2h1.5M586 207.1h1.5M554.9 214.2h1.5M601.5 215.3h1.5M622.9 221.8h1.5M558.3 213.1h1.5M609.6 201.8h1.5M557.5 203.9h1.5M565.7 213.7h1.5M467.3 199.6h1.5M386.5 213.5h1.5M421.3 217.7h1.5M435.6 223.3h1.5M512.6 208.6h1.5M559.1 188.5h1.5M522.8 199.8h1.5M598.5 188.5h1.5M483.7 192.1h1.5M479.4 207.1h1.5M435.8 196.6h1.5M435.1 212.5h1.5M484 223.6h1.5M579.2 224.2h1.5M405.2 190.9h1.5M567.8 223.4h1.5M427.1 208.9h1.5M376 215.5h1.5M458.8 187.8h1.5M384.4 198.3h1.5M425 201h1.5M374.2 196.2h1.5M605.7 221.9h1.5M618.2 192.3h1.5M449.6 206.3h1.5M372.5 217.5h1.5M385.7 211.4h1.5M434.8 221.6h1.5M387.2 217.4h1.5M385.9 219.2h1.5M583.9 208.4h1.5M393.4 192h1.5M414.9 215.9h1.5M382.3 193.1h1.5M484.8 202.7h1.5M501.1 192.5h1.5M600.2 194.5h1.5M506.3 198.3h1.5M426.2 192.2h1.5M502.5 223.3h1.5M455.1 189h1.5M445.4 219.8h1.5M621.4 208.3h1.5M517 210.8h1.5M437.3 212.3h1.5M608.1 206.1h1.5M552 201.4h1.5M433.6 190.6h1.5M604.1 219.1h1.5M383.5 197.3h1.5M409.4 192h1.5M494.9 205.1h1.5M441.1 203.6h1.5M450.5 223.6h1.5M507 191.8h1.5M540.3 206.9h1.5M586.7 222.4h1.5M425.3 210.6h1.5M376.9 220.9h1.5M574.3 206.7h1.5M537.4 217.4h1.5M602.2 190h1.5M457.1 216.9h1.5M458.9 213.6h1.5M468.5 198.8h1.5M565.8 190.8h1.5M527.3 193.7h1.5M535.9 221.3h1.5M415.1 215.4h1.5M398.5 214.6h1.5M541.2 196.6h1.5M485.3 204h1.5M534.1 198.8h1.5M480.1 210.7h1.5M503.6 202.6h1.5M405.8 207.1h1.5M498.5 196h1.5M443.6 188.6h1.5M554.7 201.1h1.5M498.5 217.9h1.5M457.7 212.7h1.5M492.1 221.5h1.5M376.5 187.2h1.5M373.3 213.1h1.5M473.6 187.5h1.5M457.9 213.5h1.5M494.4 200.9h1.5M593.6 198.6h1.5M390.5 190.7h1.5M601.7 220.4h1.5M579.4 190.3h1.5M584.7 189.6h1.5M449.2 200.6h1.5M568.8 193.3h1.5M524.4 191.4h1.5M538.9 210h1.5M611.4 209h1.5M397.8 190.3h1.5M465.5 194.7h1.5M596.3 195.2h1.5M546.2 212.2h1.5M500.1 209.6h1.5M576.5 212.6h1.5M482.8 195.4h1.5M400 195h1.5M511.8 199h1.5M544 215.2h1.5M596.9 201.2h1.5M461.8 220.3h1.5M423.4 222.9h1.5M445.1 219.1h1.5M378.9 222.3h1.5M397.2 216.1h1.5M395.4 212.8h1.5M398.2 218.4h1.5M518.7 210.3h1.5M544.8 215.6h1.5M536.6 213.8h1.5M480 214.8h1.5M394.3 187.1h1.5M436.8 224.1h1.5M527.6 222.1h1.5M397.2 215.8h1.5M422.6 210.4h1.5M456.3 212.8h1.5M568.7 210.1h1.5M599.7 198.2h1.5M595.7 208.2h1.5M456.8 202.7h1.5M624.8 221.3h1.5M544.2 193.6h1.5M511.4 219.6h1.5M624.6 212.1h1.5M605.2 206.6h1.5M401.2 204.4h1.5M446.1 212.7h1.5M597.4 190.8h1.5M517.3 199.8h1.5M540 207.5h1.5M566.1 201.7h1.5M623.2 194.4h1.5M596.4 222.8h1.5M489.8 218.6h1.5M448.8 221.5h1.5M591.7 207.3h1.5M512.6 193.5h1.5M566.6 192h1.5M380.4 220.5h1.5M491.7 202.5h1.5M621.2 211.2h1.5M406.3 215.1h1.5M403.1 196.5h1.5M509.7 214.9h1.5M563.3 210h1.5M421.2 221.5h1.5M568.6 193.4h1.5M551.6 188.6h1.5M615.9 224h1.5M405.2 205.5h1.5M502.3 211.1h1.5M426.1 214.4h1.5M618.8 205.9h1.5M478.1 196.7h1.5M557.1 194.5h1.5M570.2 212.8h1.5M433.4 205.6h1.5M558.8 214.3h1.5M601.4 219.7h1.5M430.3 209.9h1.5M416.2 219.3h1.5M450.4 223.9h1.5M523.9 203.8h1.5M407.6 196.7h1.5M475.8 203.9h1.5M595.8 205.6h1.5M398.8 211.8h1.5M410.1 191.2h1.5M431.5 221.6h1.5M485.7 211.8h1.5M569.9 223.4h1.5M427.9 212.5h1.5M398.6 205.2h1.5M598.3 189.9h1.5M520 223.8h1.5M533.1 218.7h1.5M507.2 201.2h1.5M611.5 203.1h1.5M435.6 221h1.5M562.2 211.1h1.5M450.7 204.1h1.5M541.7 201.7h1.5M374.3 193.1h1.5M539.2 191.9h1.5M541 199.8h1.5" stroke="#808080" stroke-width="1.5" fill="none"/>
<path d="M371.5 206 372.2 205.6 372.9 205.5 373.6 205.2 374.3 205.6 375 206.4 375.7 207.2 376.4 206.5 377.1 206.8 377.8 206.9 378.5 206.1 379.2 205.4 379.9 204.7 380.6 206 381.3 206 382 206.3 382.7 206 383.4 205.9 384.1 205.5 384.8 205.7 385.6 206.3 386.3 207.2 387 205.6 387.7 206 388.4 205.4 389.1 205.4 389.8 205.1 390.5 205.3 391.2 204.8 391.9 205.7 392.6 205.4 393.3 205.2 394 205.8 394.7 206.3 395.4 206.5 396.1 205.4 396.8 205.8 397.5 205.2 398.2 205.6 398.9 205.5 399.6 205.2 400.3 205.3 401 205.7 401.7 205.9 402.4 204.8 403.1 204.3 403.8 204.5 404.5 205.3 405.2 205.2 405.9 204.3 406.6 205.2 407.3 205.3 408 205.2 408.7 205.6 409.4 205.7 410.1 205.2 410.8 205.5 411.5 205.7 412.3 205.5 413 206.3 413.7 206 414.4 205.2 415.1 204.8 415.8 206.2 416.5 206.1 417.2 204.9 417.9 205.7 418.6 206.2 419.3 205.8 420 206.1 420.7 206.4 421.4 206.5 422.1 206 422.8 205.7 423.5 205.5 424.2 206.4 424.9 207 425.6 206 426.3 205.9 427 205.8 427.7 205.5 428.4 204.7 429.1 204.4 429.8 205.2 430.5 204.9 431.2 204.9 431.9 204.4 432.6 204.4 433.3 203.6 434 203.1 434.7 203.9 435.4 205.1 436.1 205 436.8 205.7 437.5 205.7 438.2 205.1 438.9 205.6 439.7 206.8 440.4 206.6 441.1 206.8 441.8 207.3 442.5 206.3 443.2 205.7 443.9 205.5 444.6 204.9 445.3 205.3 446 204.2 446.7 204.6 447.4 204.5 448.1 205.4 448.8 205.2 449.5 205.6 450.2 206.2 450.9 205.8 451.6 206.3 452.3 205.5 453 206.5 453.7 207.2 454.4 205.8 455.1 205.4 455.8 205.7 456.5 206.8 457.2 206.7 457.9 206.1 458.6 204.8 459.3 205.5 460 204.5 460.7 206 461.4 204.9 462.1 204.8 462.8 205.5 463.5 204.8 464.2 205.1 464.9 205.7 465.6 205.9 466.4 205.3 467.1 205.7 467.8 206.1 468.5 206 469.2 205.9 469.9 206.5 470.6 205.4 471.3 204.4 472 205 472.7 204.9 473.4 205.3 474.1 206 474.8 205.7 475.5 206.2 476.2 206.9 476.9 206.7 477.6 206 478.3 206.1 479 205.4 479.7 205.1 480.4 204.7 481.1 204.3 481.8 205.1 482.5 204.9 483.2 204.8 483.9 204.9 484.6 205.5 485.3 205.2 486 205.3 486.7 205 487.4 205.3 488.1 205.7 488.8 206.5 489.5 206.2 490.2 204.9 490.9 205.1 491.6 205.3 492.3 205.9 493 205.6 493.8 205.5 494.5 205.5 495.2 205.7 495.9 206.2 496.6 206.5 497.3 206.5 498 206.7 498.7 206.9 499.4 206.2 500.1 206 500.8 206.1 501.5 206 502.2 205.2 502.9 206.1 503.6 205.5 504.3 206.7 505 205.4 505.7 205.2 506.4 204.1 507.1 203.7 507.8 204.4 508.5 204.5 509.2 204.7 509.9 206.2 510.6 205.4 511.3 205 512 204.8 512.7 205 513.4 205.9 514.1 206.2 514.8 208.1 515.5 207 516.2 206.8 516.9 206.7 517.6 205.6 518.3 205.6 519 207.2 519.7 206 520.5 206.7 521.2 207 521.9 207 522.6 205.8 523.3 206.5 524 205.9 524.7 205.5 525.4 206.8 526.1 205.5 526.8 206 527.5 204.9 528.2 205.4 528.9 204.7 529.6 203.9 530.3 205.8 531 206.4 531.7 206.5 532.4 205.6 533.1 204.6 533.8 205 534.5 205 535.2 204.8 535.9 205.7 536.6 206.2 537.3 206.1 538 205.4 538.7 206.1 539.4 205.9 540.1 206.6 540.8 207.3 541.5 207 542.2 206.8 542.9 206.8 543.6 207.4 544.3 207.6 545 206.8 545.7 207.5 546.4 207.4 547.1 207.5 547.9 206.8 548.6 205.6 549.3 205.7 550 206 550.7 206.1 551.4 205.9 552.1 206 552.8 206.4 553.5 205.9 554.2 204.9 554.9 205.1 555.6 205.7 556.3 204.9 557 205.1 557.7 205.1 558.4 205.3 559.1 205.2 559.8 206.1 560.5 205.9 561.2 205.8 561.9 205.8 562.6 205.6 563.3 204 564 205.1 564.7 205.5 565.4 206.2 566.1 205.9 566.8 206 567.5 205.3 568.2 205.4 568.9 205.5 569.6 205.5 570.3 204.3 571 204.1 571.7 204.4 572.4 204.2 573.1 204.8 573.8 206 574.6 206.6 575.3 205.8 576 205.5 576.7 205.8 577.4 206.2 578.1 205.4 578.8 205.6 579.5 206.2 580.2 205.5 580.9 205.4 581.6 206.1 582.3 204.9 583 205.4 583.7 205.7 584.4 206 585.1 205.9 585.8 204.8 586.5 205.2 587.2 204.8 587.9 205.4 588.6 204.7 589.3 204.2 590 204.2 590.7 203.6 591.4 204.1 592.1 205.7 592.8 206.3 593.5 206.2 594.2 205.4 594.9 205.3 595.6 205.1 596.3 205 597 205.3 597.7 205.3 598.4 205.6 599.1 205.4 599.8 205 600.5 204.1 601.3 203.7 602 204.4 602.7 205 603.4 205.3 604.1 206.3 604.8 205.3 605.5 204.8 606.2 204.6 606.9 204.7 607.6 204.3 608.3 203.9 609 203.4 609.7 204.8 610.4 203.2 611.1 204 611.8 203.3 612.5 204.3 613.2 203.5 613.9 202.1 614.6 202.2 615.3 202.9 616 202.5 616.7 203.3 617.4 203.7 618.1 204.3 618.8 204.5 619.5 204.5 620.2 205.1 620.9 204.4 621.6 204.4 622.3 205.4 623 205.8 623.7 205.7 624.4 205.8 625.1 204.9 625.8 205.8" stroke="#00ff00" stroke-width="2.6" fill="none" stroke-linejoin="round"/>
</g>
<path d="M375.5 188.5H625.5M375.5 222.8H625.5" stroke="#555" stroke-width="1.2" stroke-dasharray="1 5"/>
<rect x="371.5" y="186.6" width="254" height="38.1" fill="none" stroke="#000" stroke-width="2.1"/>
<text x="366.7" y="194" font-size="14.6" class="S" text-anchor="end" font-weight="bold">0.2</text>
<text x="366.7" y="211" font-size="14.6" class="S" text-anchor="end" font-weight="bold">0</text>
<text x="366.7" y="229" font-size="14.6" class="S" text-anchor="end" font-weight="bold">−0.2</text>
<line x1="434.7" y1="233" x2="434.7" y2="326.4" stroke="#3a3a3a" stroke-width="1.1" stroke-dasharray="1 5"/>
<line x1="498" y1="233" x2="498" y2="326.4" stroke="#3a3a3a" stroke-width="1.1" stroke-dasharray="1 5"/>
<line x1="561.2" y1="233" x2="561.2" y2="326.4" stroke="#3a3a3a" stroke-width="1.1" stroke-dasharray="1 5"/>
<line x1="375.9" y1="277.9" x2="625.1" y2="277.9" stroke="#6a6aff" stroke-width="1.1" stroke-dasharray="1 5"/>
<path d="M371.5 281.5 372 281.3 372.4 281.1 372.9 281.3 373.4 281.2 373.8 281.4 374.3 282.2 374.8 281.8 375.2 281.9 375.7 282.1 376.2 281.6 376.7 281.6 377.1 281.3 377.6 281.1 378.1 281 378.5 281.2 379 280.6 379.5 281.2 379.9 281 380.4 280.6 380.9 280.9 381.3 281.3 381.8 281.1 382.3 280.9 382.7 280.9 383.2 281.3 383.7 281.3 384.1 281.8 384.6 281.4 385.1 281.1 385.6 281.2 386 281.1 386.5 281.3 387 281.4 387.4 281.3 387.9 281.4 388.4 280.6 388.8 280.9 389.3 280.8 389.8 281.3 390.2 281.2 390.7 281.3 391.2 281.6 391.6 281.3 392.1 281.1 392.6 280.9 393 280.9 393.5 281.4 394 281.2 394.5 281.2 394.9 280.7 395.4 281.6 395.9 281.6 396.3 281.6 396.8 281.2 397.3 281.6 397.7 281.3 398.2 281.2 398.7 281.9 399.1 281.1 399.6 281.8 400.1 282 400.5 282.1 401 281.8 401.5 281.8 401.9 281.8 402.4 281.9 402.9 281.6 403.4 281.3 403.8 280.9 404.3 281.5 404.8 281.7 405.2 281.8 405.7 281.9 406.2 281.8 406.6 281.5 407.1 281.7 407.6 281.8 408 281.3 408.5 281 409 280.6 409.4 280.3 409.9 280.8 410.4 280.6 410.8 280.7 411.3 280.9 411.8 280.9 412.3 281.3 412.7 281.7 413.2 281.7 413.7 282.1 414.1 282 414.6 281.8 415.1 282 415.5 282.1 416 282.5 416.5 282.5 416.9 282.2 417.4 282.2 417.9 281.9 418.3 282 418.8 282 419.3 282.3 419.7 281.6 420.2 281.6 420.7 281.3 421.2 281.6 421.6 281.9 422.1 281.7 422.6 281.8 423 281.7 423.5 281.5 424 281.3 424.4 281.1 424.9 281.2 425.4 281.8 425.8 281.6 426.3 281.1 426.8 281.1 427.2 280.9 427.7 280.9 428.2 280.9 428.6 280.9 429.1 281.5 429.6 282.2 430.1 281.9 430.5 281.6 431 281.4 431.5 281.5 431.9 281.6 432.4 281.9 432.9 281.7 433.3 281.5 433.8 281.3 434.3 281.4 434.7 281 435.2 281.4 435.7 281.1 436.1 281.4 436.6 281 437.1 280.9 437.5 281.4 438 281.2 438.5 281.6 438.9 281 439.4 280.8 439.9 281 440.4 281 440.8 281.2 441.3 281.4 441.8 281.8 442.2 281.7 442.7 281.3 443.2 281.3 443.6 281 444.1 280.8 444.6 280.9 445 281.3 445.5 281.7 446 281.7 446.4 282.3 446.9 282.5 447.4 282.2 447.8 281.6 448.3 280.9 448.8 281 449.3 280.9 449.7 280.9 450.2 281.4 450.7 281.1 451.1 281.2 451.6 281.1 452.1 281.8 452.5 281.8 453 281.4 453.5 281.5 453.9 281.5 454.4 281.2 454.9 280.9 455.3 280.6 455.8 280.8 456.3 281.2 456.7 281 457.2 281.3 457.7 281.7 458.2 281.9 458.6 281.8 459.1 281.9 459.6 282 460 281.6 460.5 281.9 461 282.1 461.4 281.9 461.9 281.6 462.4 281.7 462.8 281.9 463.3 281.1 463.8 281.3 464.2 280.5 464.7 281 465.2 280.8 465.6 281.3 466.1 280.9 466.6 280.9 467.1 281 467.5 281.3 468 280.9 468.5 280.6 468.9 280.9 469.4 281 469.9 281.3 470.3 281.1 470.8 281.3 471.3 281.2 471.7 281.8 472.2 281.6 472.7 281.2 473.1 281.2 473.6 280.8 474.1 281.2 474.5 280.9 475 281 475.5 281.1 476 281.1 476.4 280.8 476.9 281.5 477.4 281.4 477.8 281.5 478.3 281.2 478.8 281.3 479.2 281.4 479.7 281.3 480.2 281.1 480.6 281.4 481.1 281.3 481.6 281.4 482 281.6 482.5 281.5 483 280.9 483.4 281.2 483.9 281.1 484.4 281 484.9 280.8 485.3 281.1 485.8 281.5 486.3 281.3 486.7 281.9 487.2 281.7 487.7 281.3 488.1 281.1 488.6 281.2 489.1 281.3 489.5 281.5 490 281.2 490.5 281.8 490.9 282 491.4 282 491.9 281.9 492.3 281.6 492.8 281.6 493.3 281.5 493.8 281.7 494.2 281.3 494.7 281.1 495.2 281.7 495.6 281.3 496.1 281.2 496.6 281.2 497 281 497.5 281 498 281.1 498.4 281 498.9 281.7 499.4 281.5 499.8 281.4 500.3 281.7 500.8 281.8 501.2 281.5 501.7 281.6 502.2 281.9 502.7 281.8 503.1 281.8 503.6 281.7 504.1 281.3 504.5 280.7 505 280.9 505.5 280.9 505.9 281.4 506.4 281.2 506.9 281.1 507.3 281.4 507.8 281.2 508.3 281.4 508.7 281.4 509.2 281.3 509.7 281.3 510.1 281.3 510.6 281.2 511.1 281.4 511.6 281.4 512 281.2 512.5 280.9 513 281.3 513.4 281.5 513.9 281.6 514.4 281.9 514.8 281.6 515.3 281 515.8 281.3 516.2 281.4 516.7 281.6 517.2 281.5 517.6 281.7 518.1 281.1 518.6 281.5 519 281.3 519.5 281 520 281.1 520.5 280.8 520.9 281.5 521.4 282.3 521.9 281.9 522.3 281.6 522.8 281.6 523.3 281.5 523.7 281.7 524.2 281.9 524.7 282 525.1 281.8 525.6 281.5 526.1 280.9 526.5 281.1 527 281.7 527.5 281.4 527.9 281.5 528.4 281.8 528.9 281.5 529.4 282 529.8 282.2 530.3 281.4 530.8 281.6 531.2 281.4 531.7 281 532.2 281.5 532.6 281.4 533.1 281.1 533.6 280.9 534 280.7 534.5 280.2 535 279.9 535.4 280.2 535.9 280.7 536.4 280.7 536.8 281.1 537.3 281.7 537.8 282.1 538.3 281.9 538.7 281.7 539.2 281.8 539.7 281.4 540.1 281.4 540.6 281.7 541.1 281.6 541.5 281.6 542 281.3 542.5 281.4 542.9 281.1 543.4 281.3 543.9 281.4 544.3 281.2 544.8 281.5 545.3 281.4 545.7 281.4 546.2 281.1 546.7 281.9 547.1 281.4 547.6 281.5 548.1 281.5 548.6 281 549 281 549.5 281.5 550 281.6 550.4 281.3 550.9 281.4 551.4 281.3 551.8 281.1 552.3 280.6 552.8 281.1 553.2 281.6 553.7 281.8 554.2 281.8 554.6 281.4 555.1 281.3 555.6 281 556 281.1 556.5 281.6 557 281.4 557.5 281.6 557.9 281.5 558.4 281.9 558.9 281.5 559.3 281.8 559.8 281.8 560.3 281.4 560.7 281.5 561.2 281.8 561.7 281.2 562.1 281.4 562.6 281.1 563.1 281.2 563.5 281.8 564 281.8 564.5 281.6 564.9 281.6 565.4 281 565.9 281.6 566.4 281.8 566.8 281.5 567.3 281.1 567.8 281 568.2 281.4 568.7 281.3 569.2 281.2 569.6 280.7 570.1 280.3 570.6 280.5 571 280.6 571.5 280.6 572 280.9 572.4 281 572.9 281 573.4 281.1 573.8 281 574.3 281.1 574.8 281.4 575.3 281.1 575.7 280.9 576.2 281.3 576.7 281.1 577.1 281.5 577.6 281.4 578.1 281.6 578.5 281.7 579 281.5 579.5 281.8 579.9 281.4 580.4 281 580.9 281.2 581.3 281.5 581.8 281.3 582.3 281.4 582.7 281.9 583.2 281.1 583.7 281.3 584.2 280.8 584.6 280.7 585.1 280.7 585.6 280.8 586 281.1 586.5 281 587 281.3 587.4 281.2 587.9 281.6 588.4 281.5 588.8 282.3 589.3 282.2 589.8 281.9 590.2 281.7 590.7 281.5 591.2 281.4 591.6 280.9 592.1 281.2 592.6 282.3 593.1 281.9 593.5 281.7 594 281.6 594.5 281.3 594.9 280.9 595.4 281 595.9 281.4 596.3 281.2 596.8 281.5 597.3 281.9 597.7 282.1 598.2 281.9 598.7 282.2 599.1 282 599.6 281.7 600.1 282.3 600.5 281.7 601 281 601.5 281.2 602 281.3 602.4 281.4 602.9 282.3 603.4 282 603.8 282.3 604.3 282.1 604.8 282.2 605.2 282.2 605.7 282.2 606.2 282.3 606.6 282.7 607.1 282 607.6 282.1 608 281.7 608.5 281.4 609 281.5 609.4 281.5 609.9 281.4 610.4 281.3 610.9 281.2 611.3 281.4 611.8 281.4 612.3 281.1 612.7 281.4 613.2 281.9 613.7 282.4 614.1 282.2 614.6 281.7 615.1 281 615.5 281.3 616 281.3 616.5 281.6 616.9 281.5 617.4 281.6 617.9 281.3 618.3 281.1 618.8 281.1 619.3 281.2 619.8 281 620.2 281.2 620.7 280.9 621.2 280.6 621.6 280.6 622.1 280.4 622.6 280.9 623 280.9 623.5 281 624 281.3 624.4 281.3 624.9 281.4 625.4 281.3 625.8 281.3 626.3 281.1" stroke="#000" stroke-width="1.6" fill="none" stroke-linejoin="round"/>
<line x1="370.4" y1="315" x2="625.1" y2="315" stroke="#ff0000" stroke-width="2.5" stroke-dasharray="8.4 4.3 2 4.3" stroke-dashoffset="3"/>
<path d="M371.5 318.9 372.9 318.7 374.3 318.5 375.7 318.2 377.1 318.2 378.5 318.4 379.9 318.1 381.3 317.9 382.7 318 384.1 318.2 385.6 318.1 387 318 388.4 317.5 389.8 317.4 391.2 317.4 392.6 317.3 394 317.1 395.4 317.2 396.8 317.3 398.2 317.2 399.6 317.1 401 317.3 402.4 317.4 403.8 317.6 405.2 317.4 406.6 317.6 408 317.6 409.4 317.9 410.8 317.9 412.3 317.6 413.7 317.7 415.1 317.5 416.5 317.5 417.9 317.6 419.3 317.7 420.7 318 422.1 318.4 423.5 318.5 424.9 319 426.3 319.3 427.7 319.2 429.1 319.1 430.5 319.3 431.9 319.2 433.3 319.1 434.7 319.2 436.1 319 437.5 319.3 438.9 319.1 440.4 318.8 441.8 318.5 443.2 318.8 444.6 318.6 446 318.7 447.4 318.9 448.8 318.7 450.2 318.6 451.6 318.6 453 318.5 454.4 318.3 455.8 318.2 457.2 318 458.6 318 460 317.8 461.4 317.8 462.8 317.9 464.2 317.7 465.6 317.7 467.1 317.6 468.5 317.5 469.9 317.4 471.3 317.4 472.7 317.3 474.1 317.3 475.5 317.2 476.9 316.9 478.3 317 479.7 316.8 481.1 316.5 482.5 316.8 483.9 316.8 485.3 316.8 486.7 316.9 488.1 317.1 489.5 317 490.9 317.1 492.3 317.1 493.8 317.4 495.2 317.2 496.6 317 498 317.3 499.4 317.4 500.8 317.6 502.2 317.5 503.6 317.5 505 317.6 506.4 317.7 507.8 317.9 509.2 317.9 510.6 317.9 512 318.2 513.4 318.1 514.8 318.3 516.2 318 517.6 318.1 519 318 520.5 318.2 521.9 318 523.3 318.1 524.7 318.2 526.1 318.3 527.5 318.5 528.9 318.5 530.3 318.6 531.7 318.7 533.1 318.5 534.5 318.8 535.9 318.5 537.3 317.9 538.7 317.6 540.1 317.2 541.5 317 542.9 316.7 544.3 316 545.7 315.9 547.1 315.9 548.6 316.4 550 316.5 551.4 316.6 552.8 316.8 554.2 317.1 555.6 317.5 557 317.8 558.4 318.1 559.8 318.2 561.2 318.1 562.6 318.2 564 318.2 565.4 317.9 566.8 318.2 568.2 318.2 569.6 317.9 571 318.3 572.4 318.1 573.8 318.2 575.3 318.1 576.7 318.1 578.1 318.4 579.5 318.3 580.9 318.4 582.3 318.6 583.7 318.4 585.1 318.6 586.5 318.5 587.9 318.5 589.3 318.7 590.7 318.5 592.1 318.4 593.5 318.4 594.9 318.3 596.3 318.5 597.7 318.3 599.1 318.5 600.5 318.5 602 318.5 603.4 318.5 604.8 318.8 606.2 318.7 607.6 318.5 609 318.6 610.4 318.7 611.8 318.5 613.2 318.6 614.6 318.3 616 318.4 617.4 318.7 618.8 318.7 620.2 318.6 621.6 318.5 623 318.3 624.4 318.2 625.8 318" stroke="#0000ff" stroke-width="2.4" fill="none" stroke-linejoin="round"/>
<path d="M370.4 230V326.4H625.1V230" stroke="#000" stroke-width="1.1" fill="none"/>
<path d="M370.4 236.5h2.5M625.1 236.5h-2.5M370.4 251.5h2.5M625.1 251.5h-2.5M370.4 266.5h2.5M625.1 266.5h-2.5M370.4 281.5h2.5M625.1 281.5h-2.5M370.4 296.5h2.5M625.1 296.5h-2.5M370.4 311.5h2.5M625.1 311.5h-2.5M434.7 326.4v-2.5M498 326.4v-2.5M561.2 326.4v-2.5" stroke="#000" stroke-width="1"/>
<text x="629.7" y="241.8" font-size="14.7" class="S">0.3</text>
<text x="629.7" y="256.8" font-size="14.7" class="S">0.2</text>
<text x="629.7" y="271.8" font-size="14.7" class="S">0.1</text>
<text x="629.7" y="286.8" font-size="14.7" class="S">0</text>
<text x="629.7" y="301.8" font-size="14.7" class="S">−0.1</text>
<text x="629.7" y="316.8" font-size="14.7" class="S">−0.2</text>
<text x="629.7" y="331.8" font-size="14.7" class="S">−0.3</text>
<text x="669.5" y="280.5" font-size="15.8" class="S" text-anchor="middle" transform="rotate(90 669.5 280.5)">DD slant iono.</text>
<path d="M370.1 234q-1.6 4.4 0 8.8" stroke="#000" stroke-width="1.2" fill="none"/>
<clipPath id="cm10"><rect x="53.8" y="333.6" width="254" height="175.5"/></clipPath>
<g clip-path="url(#cm10)">
<line x1="59.3" y1="348.4" x2="307.8" y2="348.4" stroke="#3a3a3a" stroke-width="1.1" stroke-dasharray="1 5"/>
<line x1="59.3" y1="385.1" x2="307.8" y2="385.1" stroke="#3a3a3a" stroke-width="1.1" stroke-dasharray="1 5"/>
<line x1="59.3" y1="421.8" x2="307.8" y2="421.8" stroke="#3a3a3a" stroke-width="1.1" stroke-dasharray="1 5"/>
<line x1="59.3" y1="458.4" x2="307.8" y2="458.4" stroke="#3a3a3a" stroke-width="1.1" stroke-dasharray="1 5"/>
<line x1="117" y1="336.6" x2="117" y2="509.1" stroke="#3a3a3a" stroke-width="1.1" stroke-dasharray="1 5"/>
<line x1="180.3" y1="336.6" x2="180.3" y2="509.1" stroke="#3a3a3a" stroke-width="1.1" stroke-dasharray="1 5"/>
<line x1="243.5" y1="336.6" x2="243.5" y2="509.1" stroke="#3a3a3a" stroke-width="1.1" stroke-dasharray="1 5"/>
<path d="M53 427.9h1.9M53.2 425.5h1.9M53.5 415.8h1.9M53.7 411.6h1.9M53.9 411.2h1.9M54.2 418.5h1.9M54.4 425.7h1.9M54.6 417h1.9M54.9 416.5h1.9M55.1 417.5h1.9M55.3 417.4h1.9M55.6 414.7h1.9M55.8 415h1.9M56 424.9h1.9M56.3 446.4h1.9M56.5 421.7h1.9M56.7 423.6h1.9M57 413.9h1.9M57.2 424h1.9M57.4 418.1h1.9M57.7 422.8h1.9M57.9 424.6h1.9M58.1 419.8h1.9M58.4 413.7h1.9M58.6 415.8h1.9M58.8 412.1h1.9M59.1 417.2h1.9M59.3 432.1h1.9M59.5 422.1h1.9M59.8 421h1.9M60 429.4h1.9M60.3 418.6h1.9M60.5 423h1.9M60.7 412h1.9M61 425.1h1.9M61.2 435.2h1.9M61.4 427.8h1.9M61.7 424.9h1.9M61.9 424.2h1.9M62.1 416.4h1.9M62.4 429.2h1.9M62.6 430.5h1.9M62.8 431.6h1.9M63.1 434.3h1.9M63.3 436.1h1.9M63.5 424.2h1.9M63.8 426.3h1.9M64 426.1h1.9M64.2 419.6h1.9M64.5 427.3h1.9M64.7 407.2h1.9M64.9 414.8h1.9M65.2 421.7h1.9M65.4 426.5h1.9M65.6 413h1.9M65.9 424.5h1.9M66.1 420.3h1.9M66.3 419.8h1.9M66.6 422.8h1.9M66.8 418.4h1.9M67 415.8h1.9M67.3 426.3h1.9M67.5 416.9h1.9M67.7 415.3h1.9M68 420.4h1.9M68.2 419.2h1.9M68.4 428.1h1.9M68.7 424.4h1.9M68.9 412.4h1.9M69.2 426.1h1.9M69.4 425.9h1.9M69.6 418.5h1.9M69.9 416.6h1.9M70.1 413.3h1.9M70.3 435.5h1.9M70.6 424.5h1.9M70.8 428.5h1.9M71 420.1h1.9M71.3 417.5h1.9M71.5 416.2h1.9M71.7 420.8h1.9M72 420.3h1.9M72.2 413.7h1.9M72.4 409.7h1.9M72.7 409h1.9M72.9 408.7h1.9M73.1 412.4h1.9M73.4 412.2h1.9M73.6 422.6h1.9M73.8 423.1h1.9M74.1 418h1.9M74.3 414.3h1.9M74.5 420.3h1.9M74.8 411.1h1.9M75 414h1.9M75.2 424.1h1.9M75.5 424.8h1.9M75.7 415.2h1.9M75.9 417.9h1.9M76.2 415.9h1.9M76.4 411.1h1.9M76.6 415.2h1.9M76.9 426.6h1.9M77.1 406.1h1.9M77.3 407.3h1.9M77.6 410.9h1.9M77.8 416.9h1.9M78.1 418.8h1.9M78.3 418.8h1.9M78.5 413.9h1.9M78.8 420.1h1.9M79 420.4h1.9M79.2 425.4h1.9M79.5 423.9h1.9M79.7 419.1h1.9M79.9 423.6h1.9M80.2 409.5h1.9M80.4 423.9h1.9M80.6 416.8h1.9M80.9 408.3h1.9M81.1 413h1.9M81.3 415.3h1.9M81.6 428.5h1.9M81.8 422.7h1.9M82 413.7h1.9M82.3 421h1.9M82.5 423.8h1.9M82.7 413.9h1.9M83 414.3h1.9M83.2 419.1h1.9M83.4 416.7h1.9M83.7 420.3h1.9M83.9 419.7h1.9M84.1 415.6h1.9M84.4 423.9h1.9M84.6 424.6h1.9M84.8 413.8h1.9M85.1 418.3h1.9M85.3 425.8h1.9M85.5 417.9h1.9M85.8 433.6h1.9M86 431.3h1.9M86.2 428.1h1.9M86.5 413.1h1.9M86.7 417.3h1.9M87 427.5h1.9M87.2 402.6h1.9M87.4 419.1h1.9M87.7 405.2h1.9M87.9 410.1h1.9M88.1 423.8h1.9M88.4 419.6h1.9M88.6 431.5h1.9M88.8 420.5h1.9M89.1 412h1.9M89.3 424.3h1.9M89.5 426.4h1.9M89.8 426.5h1.9M90 416.3h1.9M90.2 413.4h1.9M90.5 418.2h1.9M90.7 423.1h1.9M90.9 420.2h1.9M91.2 427.2h1.9M91.4 415.6h1.9M91.6 430h1.9M91.9 426.9h1.9M92.1 421.9h1.9M92.3 420.7h1.9M92.6 422.5h1.9M92.8 433.4h1.9M93 436.2h1.9M93.3 421.2h1.9M93.5 417.8h1.9M93.7 437.2h1.9M94 416.5h1.9M94.2 421.7h1.9M94.4 435.8h1.9M94.7 417.1h1.9M94.9 419.2h1.9M95.1 416.6h1.9M95.4 415.9h1.9M95.6 421.8h1.9M95.9 430h1.9M96.1 435.1h1.9M96.3 420.2h1.9M96.6 423.1h1.9M96.8 424.3h1.9M97 424.6h1.9M97.3 423.4h1.9M97.5 432.6h1.9M97.7 424h1.9M98 427h1.9M98.2 415.3h1.9M98.4 432.1h1.9M98.7 422.6h1.9M98.9 431.4h1.9M99.1 427.4h1.9M99.4 418.5h1.9M99.6 417.6h1.9M99.8 403h1.9M100.1 419.1h1.9M100.3 434.8h1.9M100.5 419.6h1.9M100.8 422.7h1.9M101 426.9h1.9M101.2 432.2h1.9M101.5 429.5h1.9M101.7 422.7h1.9M101.9 421.5h1.9M102.2 414.4h1.9M102.4 419.5h1.9M102.6 417.5h1.9M102.9 418.7h1.9M103.1 426.6h1.9M103.3 419.8h1.9M103.6 426.5h1.9M103.8 424h1.9M104 411.2h1.9M104.3 425h1.9M104.5 420.7h1.9M104.8 417.2h1.9M105 420h1.9M105.2 410.5h1.9M105.5 414.8h1.9M105.7 420.9h1.9M105.9 412.9h1.9M106.2 409.8h1.9M106.4 414.5h1.9M106.6 419.7h1.9M106.9 422.3h1.9M107.1 418h1.9M107.3 398.9h1.9M107.6 417.2h1.9M107.8 415.9h1.9M108 418.4h1.9M108.3 422.3h1.9M108.5 423.6h1.9M108.7 413h1.9M109 411.4h1.9M109.2 411.3h1.9M109.4 423.6h1.9M109.7 419.8h1.9M109.9 404.5h1.9M110.1 421.8h1.9M110.4 413.7h1.9M110.6 423.6h1.9M110.8 420h1.9M111.1 422.8h1.9M111.3 439.8h1.9M111.5 418.9h1.9M111.8 421.3h1.9M112 419h1.9M112.2 408.9h1.9M112.5 426h1.9M112.7 418.5h1.9M112.9 416.9h1.9M113.2 426.8h1.9M113.4 426.5h1.9M113.6 427.5h1.9M113.9 419.4h1.9M114.1 418.8h1.9M114.4 426.7h1.9M114.6 421.7h1.9M114.8 429.1h1.9M115.1 433.2h1.9M115.3 428.2h1.9M115.5 424.3h1.9M115.8 410.2h1.9M116 420.6h1.9M116.2 421.7h1.9M116.5 430.1h1.9M116.7 433.5h1.9M116.9 422.6h1.9M117.2 430.9h1.9M117.4 429.6h1.9M117.6 436h1.9M117.9 431.8h1.9M118.1 431.8h1.9M118.3 422.6h1.9M118.6 414.6h1.9M118.8 427.4h1.9M119 428.4h1.9M119.3 422.9h1.9M119.5 431.5h1.9M119.7 420.1h1.9M120 423.5h1.9M120.2 410.8h1.9M120.4 413h1.9M120.7 409.9h1.9M120.9 418.2h1.9M121.1 424.4h1.9M121.4 425.6h1.9M121.6 422.4h1.9M121.8 417.8h1.9M122.1 425.7h1.9M122.3 416.4h1.9M122.5 417.7h1.9M122.8 427.7h1.9M123 419.6h1.9M123.3 413.7h1.9M123.5 420.2h1.9M123.7 425.3h1.9M124 419.1h1.9M124.2 409h1.9M124.4 408.1h1.9M124.7 415.6h1.9M124.9 429.9h1.9M125.1 418.1h1.9M125.4 409.7h1.9M125.6 405.5h1.9M125.8 411h1.9M126.1 415.6h1.9M126.3 424.2h1.9M126.5 417.4h1.9M126.8 419.2h1.9M127 409.2h1.9M127.2 431.1h1.9M127.5 425.6h1.9M127.7 418.9h1.9M127.9 434h1.9M128.2 413.1h1.9M128.4 419.8h1.9M128.6 417.4h1.9M128.9 422.7h1.9M129.1 415.1h1.9M129.3 413.4h1.9M129.6 415.2h1.9M129.8 426h1.9M130 423.7h1.9M130.3 423.4h1.9M130.5 418.7h1.9M130.7 425h1.9M131 425.6h1.9M131.2 420.7h1.9M131.4 420.3h1.9M131.7 424.6h1.9M131.9 416.1h1.9M132.2 424.7h1.9M132.4 432.1h1.9M132.6 405.9h1.9M132.9 415.4h1.9M133.1 427.4h1.9M133.3 423.7h1.9M133.6 405.8h1.9M133.8 418.4h1.9M134 412.2h1.9M134.3 413.5h1.9M134.5 417.7h1.9M134.7 421h1.9M135 407.9h1.9M135.2 414.5h1.9M135.4 421.6h1.9M135.7 426.2h1.9M135.9 408.9h1.9M136.1 426.7h1.9M136.4 431.6h1.9M136.6 418.9h1.9M136.8 421.2h1.9M137.1 429.9h1.9M137.3 411.1h1.9M137.5 425.1h1.9M137.8 435.4h1.9M138 418.5h1.9M138.2 419.6h1.9M138.5 430.2h1.9M138.7 415.6h1.9M138.9 427.1h1.9M139.2 435.9h1.9M139.4 415.7h1.9M139.6 415h1.9M139.9 425.2h1.9M140.1 434.9h1.9M140.3 422.6h1.9M140.6 416.3h1.9M140.8 416.9h1.9M141.1 424.2h1.9M141.3 422.8h1.9M141.5 418h1.9M141.8 428.8h1.9M142 428.8h1.9M142.2 418.5h1.9M142.5 411.3h1.9M142.7 408.8h1.9M142.9 422h1.9M143.2 415.3h1.9M143.4 422.2h1.9M143.6 412.1h1.9M143.9 419.9h1.9M144.1 429.2h1.9M144.3 435h1.9M144.6 417.3h1.9M144.8 427.2h1.9M145 419.1h1.9M145.3 413.7h1.9M145.5 420.2h1.9M145.7 412.5h1.9M146 419.6h1.9M146.2 419.7h1.9M146.4 427.1h1.9M146.7 426.2h1.9M146.9 423.4h1.9M147.1 422.7h1.9M147.4 422.2h1.9M147.6 419.7h1.9M147.8 412.2h1.9M148.1 420.8h1.9M148.3 429.7h1.9M148.5 430.2h1.9M148.8 432.7h1.9M149 439.4h1.9M149.2 417.9h1.9M149.5 428.3h1.9M149.7 424.5h1.9M150 427.8h1.9M150.2 419.5h1.9M150.4 434.9h1.9M150.7 427.4h1.9M150.9 414.2h1.9M151.1 432.3h1.9M151.4 424.7h1.9M151.6 417.9h1.9M151.8 422.6h1.9M152.1 426.3h1.9M152.3 428.2h1.9M152.5 416.9h1.9M152.8 411.4h1.9M153 416.1h1.9M153.2 419h1.9M153.5 430.5h1.9M153.7 428.5h1.9M153.9 426.2h1.9M154.2 430.2h1.9M154.4 430.5h1.9M154.6 422.1h1.9M154.9 439.3h1.9M155.1 429.3h1.9M155.3 411.2h1.9M155.6 410.8h1.9M155.8 411.6h1.9M156 434.6h1.9M156.3 430.1h1.9M156.5 412h1.9M156.7 422.5h1.9M157 425.8h1.9M157.2 434.8h1.9M157.4 416h1.9M157.7 423.7h1.9M157.9 411.7h1.9M158.1 410.8h1.9M158.4 411.4h1.9M158.6 420.2h1.9M158.9 418.6h1.9M159.1 424.1h1.9M159.3 433.6h1.9M159.6 421.5h1.9M159.8 423.8h1.9M160 416.2h1.9M160.3 406.7h1.9M160.5 415.5h1.9M160.7 409.4h1.9M161 420.2h1.9M161.2 425.9h1.9M161.4 424.3h1.9M161.7 422.8h1.9M161.9 426h1.9M162.1 419.3h1.9M162.4 424.6h1.9M162.6 415h1.9M162.8 432.1h1.9M163.1 410.4h1.9M163.3 421.1h1.9M163.5 407.5h1.9M163.8 429.8h1.9M164 413.2h1.9M164.2 399.7h1.9M164.5 408.4h1.9M164.7 419h1.9M164.9 413.3h1.9M165.2 409.4h1.9M165.4 425.9h1.9M165.6 415.3h1.9M165.9 424.9h1.9M166.1 408.6h1.9M166.3 416.6h1.9M166.6 417.8h1.9M166.8 414.9h1.9M167 426.2h1.9M167.3 412h1.9M167.5 415.2h1.9M167.8 414.9h1.9M168 433h1.9M168.2 412.9h1.9M168.5 430.9h1.9M168.7 429h1.9M168.9 422.5h1.9M169.2 420.2h1.9M169.4 422.6h1.9M169.6 421h1.9M169.9 412.9h1.9M170.1 424.7h1.9M170.3 431.3h1.9M170.6 427.2h1.9M170.8 425.3h1.9M171 426.9h1.9M171.3 420.4h1.9M171.5 423h1.9M171.7 421.2h1.9M172 412.3h1.9M172.2 427.3h1.9M172.4 424h1.9M172.7 419.7h1.9M172.9 419.4h1.9M173.1 422h1.9M173.4 419.3h1.9M173.6 432.6h1.9M173.8 436.1h1.9M174.1 422.9h1.9M174.3 429.1h1.9M174.5 426.4h1.9M174.8 428.8h1.9M175 420h1.9M175.2 426h1.9M175.5 422.1h1.9M175.7 415h1.9M175.9 413.7h1.9M176.2 429.1h1.9M176.4 410.5h1.9M176.6 418.7h1.9M176.9 412.8h1.9M177.1 409h1.9M177.4 428.5h1.9M177.6 426.1h1.9M177.8 421h1.9M178.1 425.4h1.9M178.3 421h1.9M178.5 426.2h1.9M178.8 432.7h1.9M179 431.7h1.9M179.2 423.8h1.9M179.5 416.3h1.9M179.7 415.3h1.9M179.9 429.6h1.9M180.2 421.5h1.9M180.4 410.4h1.9M180.6 413.5h1.9M180.9 420.2h1.9M181.1 418.9h1.9M181.3 431.7h1.9M181.6 424.1h1.9M181.8 421.1h1.9M182 418.4h1.9M182.3 420.5h1.9M182.5 426.8h1.9M182.7 427.3h1.9M183 430.9h1.9M183.2 424.8h1.9M183.4 432.5h1.9M183.7 428.2h1.9M183.9 428.1h1.9M184.1 426.4h1.9M184.4 426.4h1.9M184.6 423.4h1.9M184.8 429.4h1.9M185.1 435.3h1.9M185.3 421.4h1.9M185.5 436.3h1.9M185.8 425.7h1.9M186 440.3h1.9M186.3 429.8h1.9M186.5 424.5h1.9M186.7 416.6h1.9M187 430h1.9M187.2 429.3h1.9M187.4 439.7h1.9M187.7 425.8h1.9M187.9 424.4h1.9M188.1 424.7h1.9M188.4 435h1.9M188.6 435.3h1.9M188.8 420.8h1.9M189.1 426.7h1.9M189.3 422h1.9M189.5 429.2h1.9M189.8 409.1h1.9M190 411.4h1.9M190.2 416.5h1.9M190.5 424.5h1.9M190.7 418.5h1.9M190.9 415.6h1.9M191.2 432h1.9M191.4 423.1h1.9M191.6 424.9h1.9M191.9 422.5h1.9M192.1 427.6h1.9M192.3 426.7h1.9M192.6 419.4h1.9M192.8 420.8h1.9M193 426.2h1.9M193.3 427.3h1.9M193.5 426.3h1.9M193.7 423.5h1.9M194 427.8h1.9M194.2 411.7h1.9M194.4 414.8h1.9M194.7 418.7h1.9M194.9 413.9h1.9M195.2 414.9h1.9M195.4 425.4h1.9M195.6 425.9h1.9M195.9 407.2h1.9M196.1 412.6h1.9M196.3 420.8h1.9M196.6 415.1h1.9M196.8 412.4h1.9M197 427.1h1.9M197.3 429.1h1.9M197.5 440.7h1.9M197.7 420.7h1.9M198 417.3h1.9M198.2 412.2h1.9M198.4 415h1.9M198.7 416.6h1.9M198.9 413.5h1.9M199.1 415.6h1.9M199.4 413.1h1.9M199.6 426.9h1.9M199.8 428.1h1.9M200.1 420.7h1.9M200.3 416.7h1.9M200.5 401.8h1.9M200.8 403.2h1.9M201 432.7h1.9M201.2 437.5h1.9M201.5 429.2h1.9M201.7 420.2h1.9M201.9 423.5h1.9M202.2 427.2h1.9M202.4 422.4h1.9M202.6 422.7h1.9M202.9 415.8h1.9M203.1 401h1.9M203.3 426.9h1.9M203.6 415.3h1.9M203.8 415h1.9M204.1 412.2h1.9M204.3 425.1h1.9M204.5 427.5h1.9M204.8 423.9h1.9M205 421h1.9M205.2 420h1.9M205.5 415.9h1.9M205.7 405.8h1.9M205.9 414.3h1.9M206.2 432.1h1.9M206.4 438.1h1.9M206.6 424h1.9M206.9 429h1.9M207.1 432.2h1.9M207.3 421.7h1.9M207.6 428.2h1.9M207.8 418.5h1.9M208 433.4h1.9M208.3 428.6h1.9M208.5 417.6h1.9M208.7 428.4h1.9M209 413.9h1.9M209.2 430.3h1.9M209.4 439.8h1.9M209.7 430h1.9M209.9 424.6h1.9M210.1 417.2h1.9M210.4 424.2h1.9M210.6 410.6h1.9M210.8 423.9h1.9M211.1 418.4h1.9M211.3 410.7h1.9M211.5 407h1.9M211.8 416.5h1.9M212 418.3h1.9M212.2 427.8h1.9M212.5 417.4h1.9M212.7 420.5h1.9M213 422h1.9M213.2 411.6h1.9M213.4 413.3h1.9M213.7 414.3h1.9M213.9 426.5h1.9M214.1 417.5h1.9M214.4 421.3h1.9M214.6 428.7h1.9M214.8 426.5h1.9M215.1 416.1h1.9M215.3 408.6h1.9M215.5 428.4h1.9M215.8 423.9h1.9M216 422.8h1.9M216.2 428.2h1.9M216.5 416.2h1.9M216.7 409.4h1.9M216.9 419.1h1.9M217.2 427.6h1.9M217.4 416.8h1.9M217.6 420.4h1.9M217.9 419.3h1.9M218.1 434.5h1.9M218.3 419.6h1.9M218.6 418.9h1.9M218.8 412.4h1.9M219 426.4h1.9M219.3 423h1.9M219.5 431.4h1.9M219.7 432.9h1.9M220 421.1h1.9M220.2 432.8h1.9M220.4 421.3h1.9M220.7 414.3h1.9M220.9 425.4h1.9M221.1 426.1h1.9M221.4 422.7h1.9M221.6 425.2h1.9M221.9 426h1.9M222.1 424.6h1.9M222.3 414.9h1.9M222.6 428h1.9M222.8 421.6h1.9M223 403.9h1.9M223.3 415.6h1.9M223.5 410.5h1.9M223.7 420.8h1.9M224 417.6h1.9M224.2 421.7h1.9M224.4 411.7h1.9M224.7 415.6h1.9M224.9 417.2h1.9M225.1 418.5h1.9M225.4 431.5h1.9M225.6 422.4h1.9M225.8 412h1.9M226.1 408h1.9M226.3 422.5h1.9M226.5 421.5h1.9M226.8 430.5h1.9M227 405.6h1.9M227.2 410.8h1.9M227.5 425.1h1.9M227.7 423.1h1.9M227.9 421.9h1.9M228.2 425.7h1.9M228.4 419.5h1.9M228.6 424.6h1.9M228.9 414.6h1.9M229.1 422.9h1.9M229.3 428.8h1.9M229.6 432.7h1.9M229.8 425.2h1.9M230 421h1.9M230.3 416.2h1.9M230.5 416.3h1.9M230.7 419.8h1.9M231 417.9h1.9M231.2 421.6h1.9M231.5 411.8h1.9M231.7 411.8h1.9M231.9 404.9h1.9M232.2 420.5h1.9M232.4 419h1.9M232.6 422.8h1.9M232.9 420.2h1.9M233.1 424.9h1.9M233.3 425.8h1.9M233.6 407.7h1.9M233.8 402.7h1.9M234 411.4h1.9M234.3 431h1.9M234.5 412.1h1.9M234.7 420.9h1.9M235 438h1.9M235.2 445.1h1.9M235.4 424.7h1.9M235.7 424.2h1.9M235.9 427.8h1.9M236.1 431h1.9M236.4 420h1.9M236.6 417.1h1.9M236.8 412.1h1.9M237.1 417.5h1.9M237.3 430.7h1.9M237.5 427h1.9M237.8 425.6h1.9M238 422h1.9M238.2 430.2h1.9M238.5 416.1h1.9M238.7 423.9h1.9M238.9 412.7h1.9M239.2 426h1.9M239.4 421.4h1.9M239.6 417h1.9M239.9 413.3h1.9M240.1 431.6h1.9M240.4 434.6h1.9M240.6 424.3h1.9M240.8 440.8h1.9M241.1 429.1h1.9M241.3 431.9h1.9M241.5 418.2h1.9M241.8 415.6h1.9M242 407h1.9M242.2 419.7h1.9M242.5 427.5h1.9M242.7 416.3h1.9M242.9 433.3h1.9M243.2 423.7h1.9M243.4 420.6h1.9M243.6 423.2h1.9M243.9 423.9h1.9M244.1 416.4h1.9M244.3 422.4h1.9M244.6 424.8h1.9M244.8 408.7h1.9M245 427.5h1.9M245.3 414.2h1.9M245.5 412.8h1.9M245.7 405h1.9M246 412.3h1.9M246.2 413.6h1.9M246.4 410.8h1.9M246.7 416.5h1.9M246.9 416.9h1.9M247.1 426.4h1.9M247.4 424.6h1.9M247.6 430.1h1.9M247.8 425.3h1.9M248.1 421.2h1.9M248.3 412.5h1.9M248.5 419h1.9M248.8 425.3h1.9M249 422.7h1.9M249.3 423h1.9M249.5 432.2h1.9M249.7 417.1h1.9M250 420.7h1.9M250.2 422.5h1.9M250.4 427.1h1.9M250.7 421.5h1.9M250.9 416.1h1.9M251.1 428.6h1.9M251.4 418.6h1.9M251.6 396.5h1.9M251.8 404h1.9M252.1 409.7h1.9M252.3 411.7h1.9M252.5 415.6h1.9M252.8 427.6h1.9M253 432.5h1.9M253.2 414.3h1.9M253.5 421.4h1.9M253.7 416.7h1.9M253.9 435.3h1.9M254.2 423.4h1.9M254.4 418.3h1.9M254.6 427.5h1.9M254.9 409.4h1.9M255.1 419.6h1.9M255.3 419.7h1.9M255.6 424.8h1.9M255.8 416h1.9M256 440.1h1.9M256.3 396.8h1.9M256.5 419.9h1.9M256.7 427.7h1.9M257 437.3h1.9M257.2 432.2h1.9M257.4 434.7h1.9M257.7 418.8h1.9M257.9 417.6h1.9M258.2 423.2h1.9M258.4 422.7h1.9M258.6 429.6h1.9M258.9 429.8h1.9M259.1 409.3h1.9M259.3 423.8h1.9M259.6 433.3h1.9M259.8 429.6h1.9M260 428h1.9M260.3 406.7h1.9M260.5 413.8h1.9M260.7 417.7h1.9M261 418.4h1.9M261.2 431.2h1.9M261.4 424h1.9M261.7 420.1h1.9M261.9 427.1h1.9M262.1 428.6h1.9M262.4 423.3h1.9M262.6 418.8h1.9M262.8 432.8h1.9M263.1 425.4h1.9M263.3 416h1.9M263.5 418.1h1.9M263.8 414.5h1.9M264 430.4h1.9M264.2 417.4h1.9M264.5 415.4h1.9M264.7 416.9h1.9M264.9 430.5h1.9M265.2 420.7h1.9M265.4 434.4h1.9M265.6 434h1.9M265.9 419.8h1.9M266.1 421.2h1.9M266.3 421.8h1.9M266.6 428.1h1.9M266.8 433.3h1.9M267.1 435.4h1.9M267.3 429.8h1.9M267.5 431h1.9M267.8 437.2h1.9M268 415.8h1.9M268.2 415.2h1.9M268.5 417h1.9M268.7 429.6h1.9M268.9 424.7h1.9M269.2 421.5h1.9M269.4 413.7h1.9M269.6 419.9h1.9M269.9 410.1h1.9M270.1 418.6h1.9M270.3 424.8h1.9M270.6 426.4h1.9M270.8 419.4h1.9M271 422.8h1.9M271.3 423.4h1.9M271.5 416.5h1.9M271.7 415.1h1.9M272 423.7h1.9M272.2 418.4h1.9M272.4 419.8h1.9M272.7 414.4h1.9M272.9 416.2h1.9M273.1 422.2h1.9M273.4 417.6h1.9M273.6 420.8h1.9M273.8 426.6h1.9M274.1 413.7h1.9M274.3 420.7h1.9M274.5 407.2h1.9M274.8 423.6h1.9M275 420.6h1.9M275.2 422.8h1.9M275.5 425.6h1.9M275.7 426.5h1.9M276 420.6h1.9M276.2 423.9h1.9M276.4 425.6h1.9M276.7 419.6h1.9M276.9 432h1.9M277.1 419h1.9M277.4 423.9h1.9M277.6 425.2h1.9M277.8 418.5h1.9M278.1 417.7h1.9M278.3 420.8h1.9M278.5 428.2h1.9M278.8 422.3h1.9M279 423.4h1.9M279.2 416.2h1.9M279.5 411.5h1.9M279.7 431.2h1.9M279.9 432h1.9M280.2 431.1h1.9M280.4 448.4h1.9M280.6 430.7h1.9M280.9 418.6h1.9M281.1 426.9h1.9M281.3 424.3h1.9M281.6 435h1.9M281.8 428.5h1.9M282 421h1.9M282.3 421.1h1.9M282.5 427.9h1.9M282.7 429.5h1.9M283 427h1.9M283.2 414.4h1.9M283.4 402.3h1.9M283.7 413.4h1.9M283.9 426.3h1.9M284.1 422.4h1.9M284.4 423.2h1.9M284.6 406.4h1.9M284.9 415.3h1.9M285.1 424.7h1.9M285.3 435.1h1.9M285.6 423.5h1.9M285.8 433.6h1.9M286 426.7h1.9M286.3 409.1h1.9M286.5 427.2h1.9M286.7 413h1.9M287 424.3h1.9M287.2 436h1.9M287.4 441.4h1.9M287.7 426.9h1.9M287.9 426.8h1.9M288.1 420.5h1.9M288.4 433.7h1.9M288.6 423.4h1.9M288.8 422.3h1.9M289.1 431.2h1.9M289.3 439.7h1.9M289.5 432.9h1.9M289.8 428h1.9M290 421.1h1.9M290.2 413.8h1.9M290.5 421.4h1.9M290.7 416.7h1.9M290.9 422.7h1.9M291.2 418h1.9M291.4 423.8h1.9M291.6 422.3h1.9M291.9 426.4h1.9M292.1 422.6h1.9M292.3 426.7h1.9M292.6 426.2h1.9M292.8 436.6h1.9M293 420.9h1.9M293.3 428.2h1.9M293.5 421.9h1.9M293.7 428.3h1.9M294 431.2h1.9M294.2 425.1h1.9M294.5 429.2h1.9M294.7 424.9h1.9M294.9 410.6h1.9M295.2 436.4h1.9M295.4 430.3h1.9M295.6 416.1h1.9M295.9 419.3h1.9M296.1 420.5h1.9M296.3 416.7h1.9M296.6 408.7h1.9M296.8 408.5h1.9M297 406.5h1.9M297.3 430.2h1.9M297.5 416.9h1.9M297.7 421.1h1.9M298 422.5h1.9M298.2 423.4h1.9M298.4 434.8h1.9M298.7 434.1h1.9M298.9 434.1h1.9M299.1 416.4h1.9M299.4 413.8h1.9M299.6 416.8h1.9M299.8 424h1.9M300.1 416.3h1.9M300.3 414.1h1.9M300.5 402.3h1.9M300.8 419.8h1.9M301 434.1h1.9M301.2 423.7h1.9M301.5 418.6h1.9M301.7 423.3h1.9M301.9 412.1h1.9M302.2 424.1h1.9M302.4 421.3h1.9M302.6 420.2h1.9M302.9 415h1.9M303.1 424.9h1.9M303.4 409.8h1.9M303.6 409.8h1.9M303.8 413.6h1.9M304.1 420.5h1.9M304.3 406.9h1.9M304.5 413.3h1.9M304.8 417.7h1.9M305 413.6h1.9M305.2 421.4h1.9M305.5 420.8h1.9M305.7 429.8h1.9M305.9 429.2h1.9M306.2 426.7h1.9M306.4 432.3h1.9M306.6 419.4h1.9M306.9 416.9h1.9M307.1 415.6h1.9M307.3 415h1.9M307.6 419.6h1.9" stroke="#838383" stroke-width="1.85" fill="none"/>
<rect x="53.8" y="419.4" width="254" height="4.6" fill="none" stroke="#000" stroke-width="1"/>
<path d="M53.8 421.8H308.6" stroke="#00ff00" stroke-width="2.6"/>
<path d="M106.5 396.1h2.3M94.8 410.7h2.3M92.5 449.6h2.3M106.5 425.4h2.3M122.9 412.9h2.3M231.8 421.8h2.3" stroke="#ff0000" stroke-width="2.3" fill="none"/>
</g>
<line x1="180.3" y1="424.1" x2="180.3" y2="470.8" stroke="#000" stroke-width="1.6"/>
<rect x="53.8" y="333.6" width="254" height="175.5" fill="none" stroke="#222" stroke-width="1.1"/>
<path d="M53.8 348.4h2.5M307.8 348.4h-2.5M53.8 385.1h2.5M307.8 385.1h-2.5M53.8 421.8h2.5M307.8 421.8h-2.5M53.8 458.4h2.5M307.8 458.4h-2.5M117 333.6v2.5M180.3 333.6v2.5M243.5 333.6v2.5" stroke="#222" stroke-width="1"/>
<text x="49.4" y="354.2" font-size="15.6" class="S" text-anchor="end">10</text>
<text x="49.4" y="390.9" font-size="15.6" class="S" text-anchor="end">5</text>
<text x="49.4" y="427.6" font-size="15.6" class="S" text-anchor="end">0</text>
<text x="49.4" y="464.3" font-size="15.6" class="S" text-anchor="end">−5</text>
<rect x="53.8" y="470.8" width="254" height="38.1" fill="#fff"/>
<clipPath id="ci10"><rect x="53.8" y="470.8" width="254" height="38.1"/></clipPath>
<g clip-path="url(#ci10)">
<line x1="117" y1="473.8" x2="117" y2="508.9" stroke="#3a3a3a" stroke-width="1.1" stroke-dasharray="1 5"/>
<line x1="180.3" y1="473.8" x2="180.3" y2="508.9" stroke="#3a3a3a" stroke-width="1.1" stroke-dasharray="1 5"/>
<line x1="243.5" y1="473.8" x2="243.5" y2="508.9" stroke="#3a3a3a" stroke-width="1.1" stroke-dasharray="1 5"/>
<line x1="59.3" y1="489.9" x2="307.8" y2="489.9" stroke="#3a3a3a" stroke-width="1.1" stroke-dasharray="1 5"/>
<path d="M139 475.9h1.5M207.5 481.1h1.5M174.1 482h1.5M156.2 488.8h1.5M105.5 504.6h1.5M55.6 497.9h1.5M165.9 505.2h1.5M279.8 486.3h1.5M122.3 478.8h1.5M105.4 484.3h1.5M260.5 477.9h1.5M232.4 486.7h1.5M299.3 506.8h1.5M69.4 497.1h1.5M128.3 487.3h1.5M216.8 474.8h1.5M72.8 491.3h1.5M271.3 490.5h1.5M85.4 492.8h1.5M89.1 508.2h1.5M128.9 503.3h1.5M148.1 476h1.5M213.7 485.6h1.5M307.1 487h1.5M174.4 480.9h1.5M151.5 499.8h1.5M181.5 488.7h1.5M126.1 478.5h1.5M146.7 482.9h1.5M70.7 491.8h1.5M134 501.1h1.5M142 485h1.5M151.9 473.8h1.5M218.4 501h1.5M110.2 478.1h1.5M117.8 474.8h1.5M124.6 504.7h1.5M179.1 485.7h1.5M238.5 503h1.5M194.4 483.4h1.5M98.6 496.6h1.5M273.8 472.1h1.5M73.4 475.1h1.5M117.4 485.4h1.5M252.6 480.8h1.5M264 482h1.5M266.1 483.5h1.5M158.7 476.1h1.5M217 498.3h1.5M55.3 477.4h1.5M302.5 480.5h1.5M242.1 475.7h1.5M295.2 485.4h1.5M285.3 488.8h1.5M173 476.6h1.5M262.1 472.6h1.5M147 478.5h1.5M299.2 479.8h1.5M100.5 500h1.5M259.2 489h1.5M94.3 475.1h1.5M87.7 507.2h1.5M149.4 497h1.5M281.2 496.2h1.5M208.6 474.2h1.5M67.9 502.2h1.5M237.1 474.5h1.5M146 473.7h1.5M211.8 485h1.5M90.2 480h1.5M165.1 502.8h1.5M87.7 499.9h1.5M176.4 504.4h1.5M102.5 479.6h1.5M253.6 477.7h1.5M211 485.5h1.5M98 479.1h1.5M260.1 486.5h1.5M189.8 506.1h1.5M63.6 495.3h1.5M286.8 495.7h1.5M284.3 473.5h1.5M121.1 491.1h1.5M269.2 484.5h1.5M200.2 498.9h1.5M86.1 487.7h1.5M186.9 481.8h1.5M109.3 491.3h1.5M99.4 483.2h1.5M220.7 497.8h1.5M95.4 506.2h1.5M54.3 473h1.5M238.1 491.9h1.5M263.6 503.7h1.5M299.9 501h1.5M214.4 487.4h1.5M182.9 501h1.5M191.1 471.8h1.5M240.5 485.3h1.5M287.3 499.8h1.5M67.1 500.2h1.5M129.3 485.8h1.5M268.1 482.4h1.5M237.2 484.7h1.5M189.1 501.2h1.5M196.5 502.1h1.5M100.2 488.4h1.5M95.6 490.8h1.5M202.9 499.2h1.5M286.3 490.4h1.5M62.6 503.9h1.5M98.3 486.4h1.5M253.8 502.7h1.5M133.7 476.3h1.5M268.8 481.4h1.5M221.8 471.9h1.5M245.1 501h1.5M177.1 472.6h1.5M116.5 476.7h1.5M246.4 483.7h1.5M82.3 508.3h1.5M215.7 478.6h1.5M184 500.9h1.5M281.5 486.9h1.5M108.6 479.4h1.5M214.9 483.1h1.5M153.3 497.4h1.5M148.1 483.6h1.5M212.8 494.7h1.5M99.6 495.3h1.5M193.2 504.4h1.5M98.6 476.2h1.5M140.5 493.2h1.5M75.9 488.9h1.5M93.7 506.7h1.5M187.1 490.6h1.5M204.2 493.8h1.5M112.9 476h1.5M269.4 504h1.5M279.8 481.9h1.5M277.8 488.9h1.5M110.2 476h1.5M237 500h1.5M128.5 502h1.5M150.3 471.6h1.5M164.8 489.5h1.5M269.9 492.9h1.5M127.6 490.6h1.5M140.4 498.1h1.5M210.3 508.3h1.5M100.1 506.1h1.5M127.3 490.8h1.5M102.3 508.1h1.5M205.9 471.9h1.5M83.1 492.8h1.5M107.3 488.1h1.5M184.2 477.5h1.5M88.7 491.5h1.5M78.4 486.4h1.5M120.6 484.8h1.5M200.4 498.3h1.5M300.1 479.2h1.5M286.3 481.1h1.5M117.9 493.9h1.5M183.2 480.3h1.5M193.6 473.4h1.5M187.7 508.1h1.5M274.8 484.7h1.5M298.7 479.7h1.5M168.4 490.8h1.5M89.9 491.4h1.5M267 493.2h1.5M151.2 472.8h1.5M100.3 505.2h1.5M81.4 483.8h1.5M219.3 475.8h1.5M208.3 473.1h1.5M58.3 502.2h1.5M243.7 495.4h1.5M251.2 505.3h1.5M122.4 502.3h1.5M116 501.6h1.5M123.4 485.9h1.5M301.7 478.3h1.5M271.1 507.7h1.5M132.3 488.5h1.5M247.5 472.9h1.5M73.9 484.9h1.5M176.4 483.2h1.5M155.1 505.4h1.5M117 472.4h1.5M99 473.1h1.5M297.7 490.5h1.5M90.8 474.8h1.5M144.9 500.3h1.5M84.2 494.6h1.5M261.6 475.8h1.5M85.9 482.4h1.5M123.1 479.5h1.5M113.5 475.2h1.5M95.6 500.6h1.5M79.6 496h1.5M290.5 483h1.5M212.6 493.3h1.5M292.3 492.7h1.5M275.8 502.6h1.5M200 494.2h1.5M239.2 503.1h1.5M71.9 482.5h1.5M65.5 498.5h1.5M243.6 478.9h1.5M243.8 499.5h1.5M303.2 498.1h1.5M249.2 480.8h1.5M71.3 497.5h1.5M188.4 473.4h1.5M162.1 497.3h1.5M298.9 472.2h1.5M75.2 476.4h1.5M230.2 489h1.5M164.3 496.7h1.5M124.2 499.8h1.5M56.6 506.2h1.5M119.1 503.4h1.5M180.3 502.5h1.5M161.2 497.3h1.5M91.7 491.1h1.5M240.4 498.5h1.5M144 497.3h1.5M162.1 501.2h1.5" stroke="#808080" stroke-width="1.5" fill="none"/>
<path d="M53.8 488.9 54.5 488.9 55.2 489.8 55.9 490.3 56.6 489.9 57.3 489.1 58 489.4 58.7 489.6 59.4 489.8 60.1 490.9 60.8 489.4 61.5 489.2 62.2 489.8 62.9 488.7 63.6 488.2 64.3 486.6 65 486.4 65.7 486.2 66.4 486.5 67.1 485.9 67.9 486.6 68.6 486.7 69.3 487.1 70 488 70.7 489.1 71.4 488.1 72.1 487.9 72.8 487.1 73.5 488.4 74.2 490.3 74.9 489.3 75.6 490.9 76.3 490.5 77 490.8 77.7 490.8 78.4 491.7 79.1 491.4 79.8 491.8 80.5 491.1 81.2 491.2 81.9 490.7 82.6 491.7 83.3 489.7 84 489 84.7 489.4 85.4 489.5 86.1 489.1 86.8 490.5 87.5 490.7 88.2 489.7 88.9 491.9 89.6 491.3 90.3 491.1 91 491.6 91.7 491.2 92.4 491.2 93.1 491.8 93.8 491.6 94.6 492 95.3 491.4 96 491.5 96.7 492.1 97.4 490.6 98.1 491.2 98.8 491.1 99.5 491.3 100.2 490.5 100.9 491.2 101.6 491.6 102.3 490.9 103 491.8 103.7 491.3 104.4 490.5 105.1 489.2 105.8 490.5 106.5 491.3 107.2 491.1 107.9 490.2 108.6 489.3 109.3 489.6 110 488.6 110.7 489.2 111.4 488.7 112.1 488.9 112.8 487.9 113.5 487.9 114.2 488.1 114.9 489.6 115.6 491.3 116.3 491.7 117 492.2 117.7 492.7 118.4 493.2 119.1 493.5 119.8 492.9 120.5 491.9 121.2 491.4 122 490.7 122.7 492.8 123.4 492.1 124.1 490.5 124.8 490.4 125.5 490.5 126.2 490.4 126.9 491.1 127.6 491.6 128.3 492 129 492.2 129.7 492.1 130.4 492.3 131.1 491 131.8 490.7 132.5 490.3 133.2 489.5 133.9 490 134.6 489.8 135.3 490.8 136 490.6 136.7 490.2 137.4 491.3 138.1 490.6 138.8 490.6 139.5 491 140.2 489.9 140.9 490 141.6 490.3 142.3 489.7 143 490.4 143.7 491.3 144.4 490.3 145.1 489.5 145.8 490.1 146.5 489.9 147.2 489.9 147.9 489.7 148.7 489 149.4 489.2 150.1 488.9 150.8 488.6 151.5 489.2 152.2 489 152.9 489.4 153.6 489.5 154.3 488.5 155 489.3 155.7 488.7 156.4 488.9 157.1 489.3 157.8 489 158.5 489.4 159.2 490.2 159.9 488.9 160.6 488.3 161.3 488.7 162 489.5 162.7 489.7 163.4 488 164.1 488.8 164.8 489 165.5 487.4 166.2 489 166.9 489.4 167.6 489.5 168.3 489.3 169 490.1 169.7 489.1 170.4 489.4 171.1 489.7 171.8 488.6 172.5 488.8 173.2 488 173.9 488.3 174.6 486.8 175.3 487.8 176.1 487.4 176.8 488.1 177.5 486.7 178.2 488.1 178.9 487.9 179.6 487.4 180.3 487.4 181 487.4 181.7 487.6 182.4 487.7 183.1 487.3 183.8 486 184.5 486.1 185.2 486.3 185.9 487.1 186.6 487.8 187.3 487.5 188 487.9 188.7 486.6 189.4 487 190.1 486.1 190.8 486.8 191.5 486.3 192.2 487.9 192.9 486.6 193.6 487.9 194.3 487.6 195 487.8 195.7 487.9 196.4 487.3 197.1 488.1 197.8 487.7 198.5 488.8 199.2 489.5 199.9 488.4 200.6 487.3 201.3 488.3 202 487.9 202.8 488.2 203.5 487.1 204.2 487.3 204.9 486.5 205.6 487.5 206.3 486.5 207 487.7 207.7 486.8 208.4 487 209.1 488.6 209.8 487.8 210.5 488 211.2 487.6 211.9 488.6 212.6 488.9 213.3 489.7 214 488.2 214.7 488.5 215.4 490.2 216.1 489.1 216.8 488.9 217.5 487.1 218.2 488 218.9 488.1 219.6 488.7 220.3 491 221 489.6 221.7 489.8 222.4 489 223.1 489.1 223.8 490.7 224.5 490.2 225.2 489.2 225.9 488.6 226.6 488.2 227.3 489 228 490 228.7 489.4 229.4 490.1 230.2 488.9 230.9 489.2 231.6 488.7 232.3 488.7 233 488.4 233.7 488.4 234.4 488.5 235.1 488.7 235.8 489.5 236.5 490.5 237.2 491.2 237.9 489.7 238.6 490 239.3 489.5 240 490.7 240.7 490.4 241.4 488.5 242.1 487.5 242.8 487.8 243.5 488.2 244.2 488.2 244.9 487.2 245.6 488.9 246.3 489.1 247 489.5 247.7 491.5 248.4 490.6 249.1 489.4 249.8 489.8 250.5 490.4 251.2 489.1 251.9 489.6 252.6 489.7 253.3 489.9 254 489.9 254.7 489.6 255.4 488.9 256.1 488.8 256.9 487.6 257.6 489.1 258.3 489.1 259 489.4 259.7 487.8 260.4 489.6 261.1 489.6 261.8 488.9 262.5 489.7 263.2 489.6 263.9 489.4 264.6 489.1 265.3 489.1 266 490.1 266.7 489.3 267.4 491 268.1 491.1 268.8 491 269.5 490.6 270.2 490 270.9 487.4 271.6 487.2 272.3 488.2 273 488.5 273.7 488 274.4 488.2 275.1 488.9 275.8 490.5 276.5 491.6 277.2 490.4 277.9 489.3 278.6 489.5 279.3 487.8 280 488.3 280.7 489.6 281.4 489.3 282.1 490.2 282.8 489.1 283.6 489.6 284.3 489.9 285 489.8 285.7 488.7 286.4 490.1 287.1 489 287.8 488.1 288.5 488.1 289.2 488.7 289.9 488.4 290.6 489.3 291.3 490 292 489 292.7 490.3 293.4 489.8 294.1 490.1 294.8 490.2 295.5 490 296.2 490.2 296.9 489.1 297.6 489.9 298.3 490.6 299 491.2 299.7 490.5 300.4 490.1 301.1 490 301.8 489.8 302.5 490.5 303.2 490 303.9 489.3 304.6 490.5 305.3 490.4 306 490.1 306.7 490.2 307.4 490.6 308.1 490.7" stroke="#00ff00" stroke-width="2.6" fill="none" stroke-linejoin="round"/>
<path d="M231.9 491.3h2.2" stroke="#ff0000" stroke-width="2.2" fill="none"/>
</g>
<path d="M57.8 472.7H307.8M57.8 507H307.8" stroke="#555" stroke-width="1.2" stroke-dasharray="1 5"/>
<rect x="53.8" y="470.8" width="254" height="38.1" fill="none" stroke="#000" stroke-width="2.1"/>
<text x="49" y="478.2" font-size="14.6" class="S" text-anchor="end" font-weight="bold">0.2</text>
<text x="49" y="495.2" font-size="14.6" class="S" text-anchor="end" font-weight="bold">0</text>
<text x="49" y="513.2" font-size="14.6" class="S" text-anchor="end" font-weight="bold">−0.2</text>
<line x1="117" y1="516" x2="117" y2="609.4" stroke="#3a3a3a" stroke-width="1.1" stroke-dasharray="1 5"/>
<line x1="180.3" y1="516" x2="180.3" y2="609.4" stroke="#3a3a3a" stroke-width="1.1" stroke-dasharray="1 5"/>
<line x1="243.5" y1="516" x2="243.5" y2="609.4" stroke="#3a3a3a" stroke-width="1.1" stroke-dasharray="1 5"/>
<line x1="59" y1="560.9" x2="307.8" y2="560.9" stroke="#6a6aff" stroke-width="1.1" stroke-dasharray="1 5"/>
<path d="M53.8 564.3 54.3 564 54.7 564.6 55.2 563.9 55.7 564.8 56.1 564.1 56.6 564.1 57.1 563.7 57.5 564.2 58 564.1 58.5 564.6 59 564.7 59.4 565.3 59.9 564.7 60.4 564.7 60.8 564 61.3 563.3 61.8 564.3 62.2 563.7 62.7 563.8 63.2 564.5 63.6 565.2 64.1 564.7 64.6 564.7 65 564 65.5 564.4 66 563.6 66.4 564.6 66.9 564.4 67.4 564.2 67.9 563.4 68.3 563.4 68.8 564 69.3 563.9 69.7 563.8 70.2 563.8 70.7 564.2 71.1 564.5 71.6 564.8 72.1 565 72.5 564.5 73 564 73.5 564.4 73.9 563.8 74.4 564.5 74.9 564.6 75.3 564.6 75.8 564.8 76.3 565 76.8 564.4 77.2 564.4 77.7 564.3 78.2 564.2 78.6 564.5 79.1 563.7 79.6 564 80 563.3 80.5 562.6 81 562.8 81.4 563.6 81.9 561.9 82.4 563 82.8 563.2 83.3 563.9 83.8 564.9 84.2 564.5 84.7 564 85.2 564 85.7 563.3 86.1 563.3 86.6 563.2 87.1 562.6 87.5 563.4 88 563.3 88.5 563.2 88.9 563.6 89.4 563.6 89.9 563.1 90.3 564.2 90.8 563.9 91.3 563.7 91.7 563.3 92.2 563.5 92.7 563.4 93.1 563.3 93.6 562.8 94.1 563.3 94.6 563.4 95 563.8 95.5 563.4 96 563.8 96.4 564.5 96.9 564.7 97.4 564.4 97.8 564.6 98.3 564.3 98.8 564 99.2 563.8 99.7 564.1 100.2 563.3 100.6 563.1 101.1 563.3 101.6 563 102 563.3 102.5 563.4 103 562.9 103.5 563 103.9 563.2 104.4 564 104.9 563.8 105.3 563.9 105.8 563.3 106.3 563.3 106.7 563.1 107.2 563.9 107.7 563.4 108.1 563 108.6 562.4 109.1 562.3 109.5 563.7 110 562.5 110.5 561.9 110.9 561.9 111.4 562.3 111.9 562.8 112.3 563.3 112.8 563.2 113.3 562.4 113.8 562.4 114.2 562.5 114.7 562.5 115.2 563.1 115.6 563.8 116.1 563 116.6 563.4 117 563 117.5 562.3 118 562.7 118.4 563.1 118.9 562.8 119.4 562.9 119.8 562.7 120.3 562.4 120.8 562.4 121.2 562 121.7 561.4 122.2 562.5 122.7 563.7 123.1 563.2 123.6 563.6 124.1 563.4 124.5 562.3 125 562.4 125.5 562.4 125.9 562.6 126.4 562.1 126.9 561.6 127.3 562.8 127.8 562.2 128.3 562.5 128.7 563.3 129.2 563.6 129.7 563.1 130.1 562.8 130.6 563.3 131.1 562.7 131.6 563 132 562.8 132.5 563.5 133 563.4 133.4 562.4 133.9 563.5 134.4 563.3 134.8 563.3 135.3 563 135.8 562.9 136.2 562.7 136.7 563 137.2 564.1 137.6 563.2 138.1 562.5 138.6 563.4 139 563.8 139.5 563.5 140 564.3 140.5 564 140.9 563.8 141.4 563.9 141.9 564 142.3 563.6 142.8 563.9 143.3 563.4 143.7 563.9 144.2 564.4 144.7 563.9 145.1 563.7 145.6 564.7 146.1 565.1 146.5 564.8 147 564.3 147.5 564.5 147.9 564.7 148.4 564.7 148.9 564 149.4 565.2 149.8 565.1 150.3 565.3 150.8 564.8 151.2 564.1 151.7 563.8 152.2 564.2 152.6 564.6 153.1 564.2 153.6 564.7 154 565.1 154.5 564.7 155 564.5 155.4 564.4 155.9 565.4 156.4 565.4 156.8 565.4 157.3 565.2 157.8 565.1 158.3 565.7 158.7 566.1 159.2 566.2 159.7 566.5 160.1 565.1 160.6 565.2 161.1 566.2 161.5 566.3 162 565.8 162.5 565.3 162.9 564.7 163.4 564.8 163.9 565.7 164.3 565.4 164.8 566 165.3 565.7 165.7 565.8 166.2 565.1 166.7 565.8 167.2 565.2 167.6 565.2 168.1 566.1 168.6 566.7 169 566.2 169.5 565.9 170 566.6 170.4 566.1 170.9 566.9 171.4 565.9 171.8 566.4 172.3 566.1 172.8 566.4 173.2 566 173.7 565.8 174.2 566.8 174.6 566.4 175.1 566.3 175.6 566.7 176.1 566.2 176.5 566.1 177 565.9 177.5 567.1 177.9 566.7 178.4 566.8 178.9 566.7 179.3 565.9 179.8 566 180.3 565.8 180.7 566.5 181.2 566.6 181.7 566.9 182.1 566.7 182.6 566.6 183.1 565.8 183.5 566.3 184 565.6 184.5 566 185 565.1 185.4 565.6 185.9 565.9 186.4 565.7 186.8 565.7 187.3 565.9 187.8 565.2 188.2 565 188.7 564.6 189.2 565.5 189.6 564.8 190.1 565.8 190.6 565.2 191 565.2 191.5 565.4 192 564.8 192.4 565.2 192.9 565.1 193.4 565.2 193.9 564.4 194.3 563.8 194.8 564.1 195.3 564.2 195.7 564.6 196.2 564 196.7 563.8 197.1 564.4 197.6 564.9 198.1 564 198.5 564.7 199 564.3 199.5 563.8 199.9 564.8 200.4 564.5 200.9 564.1 201.3 563.8 201.8 563.4 202.3 564.2 202.8 564.1 203.2 564 203.7 563.6 204.2 563.8 204.6 563.9 205.1 564.7 205.6 564.3 206 564.4 206.5 564.2 207 564.9 207.4 564.9 207.9 564.6 208.4 564.8 208.8 564.1 209.3 563.9 209.8 564.3 210.2 563.7 210.7 563.8 211.2 563.9 211.7 564 212.1 563.3 212.6 564.2 213.1 563.8 213.5 563.8 214 564.5 214.5 564.1 214.9 564.3 215.4 564.7 215.9 564.7 216.3 564.4 216.8 564.7 217.3 564.9 217.7 564.6 218.2 564.5 218.7 564.8 219.1 565 219.6 565.2 220.1 565.1 220.6 564.3 221 564.1 221.5 564.7 222 564.5 222.4 564.6 222.9 564.3 223.4 564.2 223.8 565.1 224.3 565.3 224.8 564.7 225.2 564.7 225.7 564.2 226.2 564.7 226.6 565.4 227.1 563.7 227.6 563.3 228 564 228.5 563.6 229 564.2 229.4 564.7 229.9 564.2 230.4 565.3 230.9 565.4 231.3 565.5 231.8 564.3 232.3 564.9 232.7 564.6 233.2 564.5 233.7 564.3 234.1 564.2 234.6 563.8 235.1 564 235.5 564.4 236 564.4 236.5 564.2 236.9 564.1 237.4 563.7 237.9 564.1 238.3 564.5 238.8 565.5 239.3 564.7 239.8 564.6 240.2 564.1 240.7 564.7 241.2 564.6 241.6 564.9 242.1 565.1 242.6 565.3 243 564.9 243.5 565 244 564.3 244.4 564.2 244.9 564 245.4 564.4 245.8 564.1 246.3 564.4 246.8 565 247.2 565.1 247.7 564.8 248.2 564.3 248.7 565 249.1 563.8 249.6 564.1 250.1 564.6 250.5 564.4 251 564.6 251.5 564.4 251.9 565.2 252.4 564.5 252.9 564.3 253.3 563.3 253.8 563.9 254.3 564 254.7 563.5 255.2 564.3 255.7 563.9 256.1 564 256.6 564.5 257.1 564.9 257.6 563.6 258 564 258.5 563.8 259 563.9 259.4 565.1 259.9 564.8 260.4 564.7 260.8 563.9 261.3 563.7 261.8 564.6 262.2 564.5 262.7 565.6 263.2 564.9 263.6 564.8 264.1 564.1 264.6 563.8 265 564.6 265.5 564.3 266 564.4 266.5 564.5 266.9 564.5 267.4 564.5 267.9 563.9 268.3 564.3 268.8 563.2 269.3 564.8 269.7 564.8 270.2 564.7 270.7 564.9 271.1 565.7 271.6 565.8 272.1 565.1 272.5 565.2 273 563.8 273.5 564.3 273.9 564.2 274.4 564.8 274.9 565.1 275.4 564.1 275.8 564.8 276.3 564.6 276.8 564.3 277.2 564.4 277.7 564 278.2 563.7 278.6 564.1 279.1 563.9 279.6 563.6 280 563.9 280.5 563.4 281 564.3 281.4 563.6 281.9 564.3 282.4 564.2 282.8 564 283.3 563.8 283.8 562.7 284.3 563.6 284.7 563.5 285.2 564.8 285.7 564.4 286.1 565.2 286.6 565.9 287.1 565.6 287.5 564.6 288 564.5 288.5 564.5 288.9 564.6 289.4 565 289.9 565.1 290.3 564.7 290.8 565.8 291.3 564.8 291.7 564.7 292.2 564.7 292.7 564.8 293.2 564.1 293.6 564.4 294.1 564 294.6 564.8 295 564.5 295.5 564.1 296 564.1 296.4 564.4 296.9 565 297.4 564 297.8 564.9 298.3 563.9 298.8 563.2 299.2 564.2 299.7 564 300.2 563.6 300.6 564.6 301.1 564.9 301.6 563.9 302.1 563.7 302.5 563.5 303 564.1 303.5 564.4 303.9 564.8 304.4 565.6 304.9 565 305.3 563.9 305.8 564 306.3 563.7 306.7 564.2 307.2 564.8 307.7 565 308.1 565.6 308.6 565.4" stroke="#000" stroke-width="1.6" fill="none" stroke-linejoin="round"/>
<path d="M130.3 563.6h1.3M123.4 560.9h1.3M129.8 560.7h1.3M130.1 562.7h1.3M102.5 561.3h1.3M109.2 561.4h1.3M103.1 559.8h1.3M123 566.3h1.3M118.3 562.9h1.3M111.8 563h1.3M124.7 558.6h1.3M116.8 561.7h1.3M100 560.6h1.3M121.9 562.6h1.3M122.1 563.9h1.3M100.7 564.6h1.3M102.4 563.9h1.3M128.4 564.9h1.3M125.6 559.5h1.3M124.5 562.4h1.3M116.4 561.6h1.3M129.2 563.1h1.3M112.7 560.4h1.3M105.1 561.3h1.3M113.1 564.4h1.3M121.2 561h1.3M122.5 560.6h1.3M108 565.6h1.3M115.1 558.6h1.3M125.1 562h1.3M108.7 565.4h1.3M104 561.3h1.3M117.1 563.6h1.3M107.1 561.8h1.3M116.9 562.3h1.3M130.4 563.5h1.3M125 563h1.3M113.6 565.6h1.3M104.9 562.3h1.3M108.5 560.1h1.3M107.3 561.1h1.3M114.3 560.9h1.3M100.6 565.7h1.3M128.1 562.4h1.3M121.2 563.2h1.3M115.8 561.2h1.3M124.1 563.2h1.3M121.6 560.5h1.3M102.4 560.9h1.3M116 560.8h1.3M105.3 562h1.3M115.1 561.8h1.3M103.9 564.6h1.3M101.6 558.4h1.3M117.3 561.6h1.3M117.4 562.4h1.3M128.8 558.4h1.3M110 563.5h1.3M106 560.3h1.3M103.1 563.2h1.3" stroke="#000" stroke-width="1.3" fill="none"/>
<line x1="53.5" y1="597.6" x2="307.8" y2="597.6" stroke="#ff0000" stroke-width="2.5" stroke-dasharray="8.4 4.3 2 4.3" stroke-dashoffset="13.7"/>
<path d="M53.8 595.2 55.2 594.9 56.6 594.5 58 594.5 59.4 594.4 60.8 594.3 62.2 594.2 63.6 594.1 65 593.9 66.4 594.1 67.9 593.8 69.3 593.9 70.7 593.6 72.1 593.6 73.5 593.3 74.9 593.1 76.3 592.9 77.7 592.9 79.1 592.7 80.5 592.5 81.9 592.4 83.3 592.3 84.7 591.8 86.1 591.7 87.5 591.5 88.9 591.4 90.3 591.3 91.7 590.8 93.1 590.8 94.6 590.5 96 590.3 97.4 590.4 98.8 590.4 100.2 590.8 101.6 590.7 103 591 104.4 591 105.8 590.9 107.2 591.3 108.6 591.2 110 591.1 111.4 591.5 112.8 591.3 114.2 590.9 115.6 590.7 117 590.9 118.4 590.7 119.8 590.9 121.2 591.2 122.7 591.2 124.1 591 125.5 592.4 126.9 593.7 128.3 593.8 129.7 593.8 131.1 593.9 132.5 594 133.9 593.9 135.3 593.9 136.7 593.8 138.1 594.3 139.5 594.1 140.9 594.3 142.3 594.5 143.7 594.4 145.1 594.4 146.5 594.3 147.9 594.6 149.4 594.6 150.8 594.5 152.2 594.8 153.6 594.5 155 594.7 156.4 595.1 157.8 595.1 159.2 595 160.6 595 162 595 163.4 595 164.8 595.2 166.2 595.5 167.6 595.4 169 595.6 170.4 595.4 171.8 595.4 173.2 595.5 174.6 595.5 176.1 595.5 177.5 595.7 178.9 596 180.3 596.2 181.7 595.8 183.1 595.1 184.5 595 185.9 594.8 187.3 594.8 188.7 594.7 190.1 594.7 191.5 594.7 192.9 595.7 194.3 597.6 195.7 597.7 197.1 597.4 198.5 597.3 199.9 597.3 201.3 597.2 202.8 597.1 204.2 597.4 205.6 597.2 207 597.2 208.4 597.2 209.8 597.2 211.2 597.5 212.6 597.3 214 597.1 215.4 597.2 216.8 597.1 218.2 597.1 219.6 597.1 221 597 222.4 597 223.8 596.6 225.2 596.7 226.6 597 228 596.9 229.4 596.8 230.9 597.2 232.3 596.9 233.7 597 235.1 596.9 236.5 596.9 237.9 597.1 239.3 597 240.7 596.9 242.1 596.9 243.5 597 244.9 597 246.3 596.9 247.7 597 249.1 596.8 250.5 596.8 251.9 596.7 253.3 596.9 254.7 596.9 256.1 596.7 257.6 596.8 259 596.9 260.4 597 261.8 596.9 263.2 596.9 264.6 597.1 266 597.2 267.4 597 268.8 597.2 270.2 597.1 271.6 597.1 273 597.4 274.4 597.1 275.8 597.2 277.2 597.3 278.6 597.1 280 597.2 281.4 597.2 282.8 597.1 284.3 597.1 285.7 597.1 287.1 597.1 288.5 597.4 289.9 597.5 291.3 597.3 292.7 597.4 294.1 597.6 295.5 597.4 296.9 597.3 298.3 597.4 299.7 597.6 301.1 597.4 302.5 597.7 303.9 597.9 305.3 597.9 306.7 598 308.1 597.9" stroke="#0000ff" stroke-width="2.4" fill="none" stroke-linejoin="round"/>
<path d="M53.5 513V609.4H307.8V513" stroke="#000" stroke-width="1.1" fill="none"/>
<path d="M53.5 519.5h2.5M307.8 519.5h-2.5M53.5 534.5h2.5M307.8 534.5h-2.5M53.5 549.5h2.5M307.8 549.5h-2.5M53.5 564.5h2.5M307.8 564.5h-2.5M53.5 579.5h2.5M307.8 579.5h-2.5M53.5 594.5h2.5M307.8 594.5h-2.5M117 609.4v-2.5M180.3 609.4v-2.5M243.5 609.4v-2.5" stroke="#000" stroke-width="1"/>
<text x="49.1" y="566.5" font-size="15.6" class="S" text-anchor="end" fill="#0000ff">0.5</text>
<text x="49.1" y="615" font-size="15.6" class="S" text-anchor="end" fill="#0000ff">0</text>
<text x="20.6" y="558" font-size="15.8" class="S" text-anchor="middle" fill="#0000ff" transform="rotate(-90 20.6 558)">ADOP [cyc]</text>
<clipPath id="cm11"><rect x="371.5" y="333.6" width="254" height="175.5"/></clipPath>
<g clip-path="url(#cm11)">
<line x1="377" y1="348.4" x2="625.5" y2="348.4" stroke="#3a3a3a" stroke-width="1.1" stroke-dasharray="1 5"/>
<line x1="377" y1="385.1" x2="625.5" y2="385.1" stroke="#3a3a3a" stroke-width="1.1" stroke-dasharray="1 5"/>
<line x1="377" y1="421.8" x2="625.5" y2="421.8" stroke="#3a3a3a" stroke-width="1.1" stroke-dasharray="1 5"/>
<line x1="377" y1="458.4" x2="625.5" y2="458.4" stroke="#3a3a3a" stroke-width="1.1" stroke-dasharray="1 5"/>
<line x1="434.7" y1="336.6" x2="434.7" y2="509.1" stroke="#3a3a3a" stroke-width="1.1" stroke-dasharray="1 5"/>
<line x1="498" y1="336.6" x2="498" y2="509.1" stroke="#3a3a3a" stroke-width="1.1" stroke-dasharray="1 5"/>
<line x1="561.2" y1="336.6" x2="561.2" y2="509.1" stroke="#3a3a3a" stroke-width="1.1" stroke-dasharray="1 5"/>
<path d="M370.7 417.5h1.9M370.9 415.8h1.9M371.2 414.1h1.9M371.4 420.6h1.9M371.6 419.8h1.9M371.9 419.8h1.9M372.1 420.2h1.9M372.3 421.6h1.9M372.6 421.9h1.9M372.8 420.2h1.9M373 422h1.9M373.3 422.6h1.9M373.5 421.2h1.9M373.7 412.9h1.9M374 416.2h1.9M374.2 417h1.9M374.4 423.4h1.9M374.7 417.3h1.9M374.9 419.2h1.9M375.1 417.7h1.9M375.4 414.6h1.9M375.6 417.5h1.9M375.8 426h1.9M376.1 424.1h1.9M376.3 421h1.9M376.5 421.9h1.9M376.8 417.9h1.9M377 420.6h1.9M377.2 420.2h1.9M377.5 423.5h1.9M377.7 419.7h1.9M378 418.8h1.9M378.2 424.4h1.9M378.4 425.9h1.9M378.7 426.7h1.9M378.9 420h1.9M379.1 424.1h1.9M379.4 423.6h1.9M379.6 426.3h1.9M379.8 425.7h1.9M380.1 418.2h1.9M380.3 425.7h1.9M380.5 418.2h1.9M380.8 422.4h1.9M381 426.3h1.9M381.2 424.2h1.9M381.5 422.4h1.9M381.7 417.7h1.9M381.9 420.8h1.9M382.2 417.8h1.9M382.4 414.6h1.9M382.6 422.6h1.9M382.9 417.8h1.9M383.1 416.2h1.9M383.3 412.7h1.9M383.6 413.7h1.9M383.8 415.7h1.9M384 419.1h1.9M384.3 414.9h1.9M384.5 415h1.9M384.7 416.9h1.9M385 422.1h1.9M385.2 429.5h1.9M385.4 423.3h1.9M385.7 419.2h1.9M385.9 414.5h1.9M386.1 418.7h1.9M386.4 413.5h1.9M386.6 422h1.9M386.9 426.3h1.9M387.1 423.2h1.9M387.3 420.1h1.9M387.6 422.9h1.9M387.8 425.4h1.9M388 420.8h1.9M388.3 418.2h1.9M388.5 421h1.9M388.7 414.7h1.9M389 419.2h1.9M389.2 421h1.9M389.4 422.7h1.9M389.7 419.8h1.9M389.9 423.4h1.9M390.1 421.8h1.9M390.4 420.7h1.9M390.6 419.3h1.9M390.8 415.1h1.9M391.1 413.5h1.9M391.3 425.9h1.9M391.5 421.8h1.9M391.8 422.4h1.9M392 417.5h1.9M392.2 415.2h1.9M392.5 419.7h1.9M392.7 420h1.9M392.9 421.9h1.9M393.2 418.7h1.9M393.4 425.3h1.9M393.6 419.3h1.9M393.9 422.7h1.9M394.1 421.1h1.9M394.3 414.9h1.9M394.6 420.1h1.9M394.8 415.1h1.9M395 418.4h1.9M395.3 413.3h1.9M395.5 420.7h1.9M395.8 420.9h1.9M396 416.6h1.9M396.2 421.9h1.9M396.5 422h1.9M396.7 418.8h1.9M396.9 424.1h1.9M397.2 422.6h1.9M397.4 419.1h1.9M397.6 420.2h1.9M397.9 424.6h1.9M398.1 420.7h1.9M398.3 422.9h1.9M398.6 424.3h1.9M398.8 419.9h1.9M399 422.8h1.9M399.3 413.6h1.9M399.5 422.8h1.9M399.7 420.7h1.9M400 424.6h1.9M400.2 424.5h1.9M400.4 422.3h1.9M400.7 418.6h1.9M400.9 420.3h1.9M401.1 413.6h1.9M401.4 419h1.9M401.6 423h1.9M401.8 421.1h1.9M402.1 419.6h1.9M402.3 419.4h1.9M402.5 422h1.9M402.8 416.4h1.9M403 426.4h1.9M403.2 427.1h1.9M403.5 421.1h1.9M403.7 424.2h1.9M403.9 415.5h1.9M404.2 426.2h1.9M404.4 426.7h1.9M404.7 420.7h1.9M404.9 420.2h1.9M405.1 420.1h1.9M405.4 422.2h1.9M405.6 415.1h1.9M405.8 421.6h1.9M406.1 425.9h1.9M406.3 425.8h1.9M406.5 427h1.9M406.8 419.9h1.9M407 420.8h1.9M407.2 422.9h1.9M407.5 424.7h1.9M407.7 422.2h1.9M407.9 424.8h1.9M408.2 422h1.9M408.4 418.4h1.9M408.6 415.2h1.9M408.9 415.1h1.9M409.1 420.3h1.9M409.3 419.9h1.9M409.6 413.4h1.9M409.8 422.5h1.9M410 424.7h1.9M410.3 418.3h1.9M410.5 421h1.9M410.7 422h1.9M411 414.3h1.9M411.2 421h1.9M411.4 429.1h1.9M411.7 423.3h1.9M411.9 421h1.9M412.1 419.3h1.9M412.4 429.5h1.9M412.6 419.5h1.9M412.8 423.1h1.9M413.1 420.8h1.9M413.3 417h1.9M413.6 420.7h1.9M413.8 416.7h1.9M414 415.5h1.9M414.3 414.6h1.9M414.5 414.6h1.9M414.7 420.9h1.9M415 419.6h1.9M415.2 421.7h1.9M415.4 420.9h1.9M415.7 423.7h1.9M415.9 423.5h1.9M416.1 417h1.9M416.4 425.2h1.9M416.6 420.6h1.9M416.8 427.6h1.9M417.1 423.9h1.9M417.3 424.6h1.9M417.5 427.1h1.9M417.8 420.5h1.9M418 420.4h1.9M418.2 419.2h1.9M418.5 422.6h1.9M418.7 427h1.9M418.9 425.7h1.9M419.2 424.1h1.9M419.4 420.2h1.9M419.6 421.7h1.9M419.9 422.1h1.9M420.1 418.4h1.9M420.3 420.7h1.9M420.6 422.3h1.9M420.8 424h1.9M421 415.9h1.9M421.3 423.8h1.9M421.5 424.4h1.9M421.7 430.9h1.9M422 423.4h1.9M422.2 418h1.9M422.5 415.6h1.9M422.7 421.9h1.9M422.9 421.1h1.9M423.2 419.5h1.9M423.4 423.4h1.9M423.6 423.6h1.9M423.9 421.9h1.9M424.1 422.1h1.9M424.3 424.2h1.9M424.6 419.7h1.9M424.8 420.9h1.9M425 419.1h1.9M425.3 417.3h1.9M425.5 421.6h1.9M425.7 421.1h1.9M426 420.8h1.9M426.2 425.8h1.9M426.4 421.3h1.9M426.7 423.1h1.9M426.9 421.7h1.9M427.1 417.9h1.9M427.4 425.4h1.9M427.6 427.8h1.9M427.8 421.5h1.9M428.1 412.2h1.9M428.3 419.1h1.9M428.5 421.5h1.9M428.8 419.3h1.9M429 418.9h1.9M429.2 415.3h1.9M429.5 415.3h1.9M429.7 415.3h1.9M429.9 424.1h1.9M430.2 423h1.9M430.4 428.7h1.9M430.6 425.1h1.9M430.9 425.4h1.9M431.1 420.9h1.9M431.3 421.8h1.9M431.6 419.2h1.9M431.8 422.4h1.9M432.1 416.2h1.9M432.3 412.6h1.9M432.5 416h1.9M432.8 419.6h1.9M433 422.6h1.9M433.2 423.8h1.9M433.5 418.6h1.9M433.7 426.1h1.9M433.9 414.8h1.9M434.2 418.3h1.9M434.4 419.3h1.9M434.6 415.9h1.9M434.9 427.9h1.9M435.1 423.2h1.9M435.3 423.1h1.9M435.6 423.8h1.9M435.8 420.2h1.9M436 423.8h1.9M436.3 423.6h1.9M436.5 419.4h1.9M436.7 417.8h1.9M437 415.1h1.9M437.2 419.8h1.9M437.4 415.9h1.9M437.7 416.4h1.9M437.9 422.6h1.9M438.1 418.3h1.9M438.4 426.5h1.9M438.6 423.4h1.9M438.8 424.8h1.9M439.1 423.4h1.9M439.3 425.5h1.9M439.5 426.7h1.9M439.8 425.1h1.9M440 425.2h1.9M440.2 428.7h1.9M440.5 430.6h1.9M440.7 425.6h1.9M441 418h1.9M441.2 420.3h1.9M441.4 419.8h1.9M441.7 426.7h1.9M441.9 429.7h1.9M442.1 420.7h1.9M442.4 421.1h1.9M442.6 421.6h1.9M442.8 422h1.9M443.1 416.2h1.9M443.3 417.6h1.9M443.5 428.3h1.9M443.8 427.3h1.9M444 431.1h1.9M444.2 419.1h1.9M444.5 422.1h1.9M444.7 419.1h1.9M444.9 423.8h1.9M445.2 420h1.9M445.4 415h1.9M445.6 422.4h1.9M445.9 423.7h1.9M446.1 428.6h1.9M446.3 425.9h1.9M446.6 425.4h1.9M446.8 428.8h1.9M447 421.7h1.9M447.3 420.7h1.9M447.5 416h1.9M447.7 419.6h1.9M448 422.3h1.9M448.2 418.4h1.9M448.4 418.5h1.9M448.7 421.9h1.9M448.9 422.9h1.9M449.1 421h1.9M449.4 422.6h1.9M449.6 429.2h1.9M449.9 423.2h1.9M450.1 431.8h1.9M450.3 427.1h1.9M450.6 418.3h1.9M450.8 421.4h1.9M451 412.5h1.9M451.3 425.8h1.9M451.5 421h1.9M451.7 419.5h1.9M452 420.7h1.9M452.2 420h1.9M452.4 421.7h1.9M452.7 420h1.9M452.9 417.3h1.9M453.1 429.3h1.9M453.4 416h1.9M453.6 417.6h1.9M453.8 422h1.9M454.1 418.9h1.9M454.3 419.5h1.9M454.5 415.2h1.9M454.8 421h1.9M455 419.4h1.9M455.2 422.3h1.9M455.5 417.8h1.9M455.7 422.4h1.9M455.9 426.3h1.9M456.2 426.1h1.9M456.4 421.8h1.9M456.6 426.5h1.9M456.9 420.4h1.9M457.1 420.9h1.9M457.3 429.7h1.9M457.6 431.3h1.9M457.8 427.3h1.9M458 421.2h1.9M458.3 421.1h1.9M458.5 421.6h1.9M458.8 421.4h1.9M459 422.3h1.9M459.2 419.4h1.9M459.5 417.9h1.9M459.7 412.5h1.9M459.9 422.9h1.9M460.2 417h1.9M460.4 418h1.9M460.6 414.4h1.9M460.9 419h1.9M461.1 421h1.9M461.3 428.8h1.9M461.6 425.5h1.9M461.8 420.1h1.9M462 425.7h1.9M462.3 419.9h1.9M462.5 418.8h1.9M462.7 419.7h1.9M463 421.4h1.9M463.2 420.3h1.9M463.4 423.3h1.9M463.7 424.5h1.9M463.9 418.9h1.9M464.1 425h1.9M464.4 426.4h1.9M464.6 422.2h1.9M464.8 427h1.9M465.1 426.5h1.9M465.3 424.8h1.9M465.5 420.1h1.9M465.8 421.9h1.9M466 417h1.9M466.2 421.8h1.9M466.5 424.8h1.9M466.7 424.5h1.9M466.9 425.2h1.9M467.2 421.9h1.9M467.4 416h1.9M467.7 418.2h1.9M467.9 428.8h1.9M468.1 427.1h1.9M468.4 419.4h1.9M468.6 429h1.9M468.8 427.6h1.9M469.1 418.6h1.9M469.3 428.9h1.9M469.5 420.1h1.9M469.8 420.6h1.9M470 423.2h1.9M470.2 420.6h1.9M470.5 424.9h1.9M470.7 422.8h1.9M470.9 419h1.9M471.2 418.6h1.9M471.4 422.4h1.9M471.6 418.3h1.9M471.9 425.1h1.9M472.1 422.9h1.9M472.3 421.4h1.9M472.6 425.3h1.9M472.8 419.7h1.9M473 426.5h1.9M473.3 423.8h1.9M473.5 425.2h1.9M473.7 421.7h1.9M474 426.6h1.9M474.2 421.1h1.9M474.4 422.5h1.9M474.7 418.3h1.9M474.9 421.7h1.9M475.1 412.3h1.9M475.4 423h1.9M475.6 427.3h1.9M475.8 425.7h1.9M476.1 421.9h1.9M476.3 425.9h1.9M476.6 423.6h1.9M476.8 418.9h1.9M477 415.6h1.9M477.3 415.9h1.9M477.5 414.5h1.9M477.7 422.6h1.9M478 419.2h1.9M478.2 416.6h1.9M478.4 420.4h1.9M478.7 421h1.9M478.9 421.9h1.9M479.1 425.5h1.9M479.4 425.6h1.9M479.6 424.6h1.9M479.8 424.4h1.9M480.1 427.3h1.9M480.3 430.5h1.9M480.5 426.4h1.9M480.8 426.1h1.9M481 415.6h1.9M481.2 422.1h1.9M481.5 420.4h1.9M481.7 421h1.9M481.9 424.9h1.9M482.2 421.3h1.9M482.4 423.6h1.9M482.6 419.5h1.9M482.9 426.3h1.9M483.1 425.9h1.9M483.3 426.7h1.9M483.6 424.4h1.9M483.8 422h1.9M484 417.3h1.9M484.3 427.3h1.9M484.5 416.2h1.9M484.7 420.2h1.9M485 425.9h1.9M485.2 425.5h1.9M485.5 421.1h1.9M485.7 420.2h1.9M485.9 420.2h1.9M486.2 421.1h1.9M486.4 424h1.9M486.6 419.2h1.9M486.9 422.4h1.9M487.1 422.8h1.9M487.3 419.1h1.9M487.6 418.9h1.9M487.8 421.5h1.9M488 422.6h1.9M488.3 420.2h1.9M488.5 431.2h1.9M488.7 424h1.9M489 426.2h1.9M489.2 419.7h1.9M489.4 427.5h1.9M489.7 428.8h1.9M489.9 427.3h1.9M490.1 421h1.9M490.4 423.2h1.9M490.6 420.2h1.9M490.8 421.8h1.9M491.1 418.9h1.9M491.3 420.4h1.9M491.5 421.5h1.9M491.8 422.6h1.9M492 420h1.9M492.2 419.9h1.9M492.5 416.5h1.9M492.7 421.5h1.9M492.9 425.1h1.9M493.2 421.2h1.9M493.4 425.9h1.9M493.6 425.6h1.9M493.9 418.7h1.9M494.1 425.5h1.9M494.3 422.1h1.9M494.6 424.4h1.9M494.8 423.4h1.9M495.1 419.2h1.9M495.3 426.4h1.9M495.5 430.5h1.9M495.8 423.9h1.9M496 425.4h1.9M496.2 421.3h1.9M496.5 421.1h1.9M496.7 424.6h1.9M496.9 417.8h1.9M497.2 418h1.9M497.4 424.9h1.9M497.6 423.5h1.9M497.9 415.2h1.9M498.1 420.9h1.9M498.3 421.9h1.9M498.6 419.2h1.9M498.8 423.9h1.9M499 427.6h1.9M499.3 424.9h1.9M499.5 425.5h1.9M499.7 422.7h1.9M500 426.4h1.9M500.2 413.7h1.9M500.4 421.1h1.9M500.7 421.8h1.9M500.9 430h1.9M501.1 425.8h1.9M501.4 424.6h1.9M501.6 419.8h1.9M501.8 417.8h1.9M502.1 419.2h1.9M502.3 424.3h1.9M502.5 415.3h1.9M502.8 408.2h1.9M503 418.9h1.9M503.2 418.7h1.9M503.5 420.9h1.9M503.7 419.9h1.9M504 420.1h1.9M504.2 422.4h1.9M504.4 422.3h1.9M504.7 423.7h1.9M504.9 427.6h1.9M505.1 423.8h1.9M505.4 420.6h1.9M505.6 417.6h1.9M505.8 418.3h1.9M506.1 425.6h1.9M506.3 424.1h1.9M506.5 426h1.9M506.8 428.8h1.9M507 426.5h1.9M507.2 423.5h1.9M507.5 423.3h1.9M507.7 425.5h1.9M507.9 426.6h1.9M508.2 422.8h1.9M508.4 425.6h1.9M508.6 429.7h1.9M508.9 426.5h1.9M509.1 422.2h1.9M509.3 424h1.9M509.6 421.9h1.9M509.8 430h1.9M510 417.7h1.9M510.3 426.5h1.9M510.5 421.3h1.9M510.7 421h1.9M511 428.3h1.9M511.2 425.2h1.9M511.4 420.7h1.9M511.7 412.1h1.9M511.9 421.2h1.9M512.1 418.5h1.9M512.4 427.2h1.9M512.6 418.9h1.9M512.9 417.2h1.9M513.1 419.8h1.9M513.3 424.8h1.9M513.6 422h1.9M513.8 416.2h1.9M514 423.1h1.9M514.3 420.3h1.9M514.5 426.4h1.9M514.7 425.4h1.9M515 427.8h1.9M515.2 420.4h1.9M515.4 426.5h1.9M515.7 425.8h1.9M515.9 428.1h1.9M516.1 423h1.9M516.4 426.5h1.9M516.6 420.4h1.9M516.8 425.3h1.9M517.1 428.5h1.9M517.3 425.3h1.9M517.5 423.8h1.9M517.8 423.2h1.9M518 421.3h1.9M518.2 428.7h1.9M518.5 426.2h1.9M518.7 424.9h1.9M518.9 424.4h1.9M519.2 420.2h1.9M519.4 416.6h1.9M519.6 416.1h1.9M519.9 417h1.9M520.1 423.4h1.9M520.3 425.1h1.9M520.6 424.9h1.9M520.8 427h1.9M521 418.3h1.9M521.3 418h1.9M521.5 426.5h1.9M521.8 419.2h1.9M522 423.5h1.9M522.2 426.2h1.9M522.5 423.5h1.9M522.7 418.5h1.9M522.9 419.2h1.9M523.2 418.7h1.9M523.4 413.7h1.9M523.6 418.9h1.9M523.9 421.7h1.9M524.1 423.4h1.9M524.3 416.9h1.9M524.6 428.8h1.9M524.8 425.3h1.9M525 425.9h1.9M525.3 427.7h1.9M525.5 428.1h1.9M525.7 423.7h1.9M526 422.5h1.9M526.2 421.3h1.9M526.4 426.6h1.9M526.7 427.8h1.9M526.9 428.2h1.9M527.1 422.7h1.9M527.4 422h1.9M527.6 417.6h1.9M527.8 425.2h1.9M528.1 428.5h1.9M528.3 425.9h1.9M528.5 420.3h1.9M528.8 421.9h1.9M529 418.4h1.9M529.2 412.6h1.9M529.5 415.8h1.9M529.7 425.1h1.9M529.9 419.5h1.9M530.2 423.4h1.9M530.4 426.9h1.9M530.7 425.6h1.9M530.9 424.5h1.9M531.1 426.1h1.9M531.4 419.5h1.9M531.6 416.2h1.9M531.8 416.4h1.9M532.1 414.6h1.9M532.3 423.6h1.9M532.5 419.1h1.9M532.8 437.4h1.9M533 418.8h1.9M533.2 418.2h1.9M533.5 420.9h1.9M533.7 419.8h1.9M533.9 422.7h1.9M534.2 427.7h1.9M534.4 429.4h1.9M534.6 423.2h1.9M534.9 428.5h1.9M535.1 423.7h1.9M535.3 424.5h1.9M535.6 418.2h1.9M535.8 420.1h1.9M536 422.8h1.9M536.3 419.6h1.9M536.5 421.8h1.9M536.7 421.1h1.9M537 421.5h1.9M537.2 418.5h1.9M537.4 429.3h1.9M537.7 425.5h1.9M537.9 429.5h1.9M538.1 424.8h1.9M538.4 422.9h1.9M538.6 426.1h1.9M538.8 419h1.9M539.1 421.4h1.9M539.3 426h1.9M539.6 421.8h1.9M539.8 418.5h1.9M540 412.1h1.9M540.3 415.6h1.9M540.5 424.9h1.9M540.7 422h1.9M541 416.5h1.9M541.2 420.2h1.9M541.4 422.6h1.9M541.7 415.7h1.9M541.9 412.9h1.9M542.1 412.4h1.9M542.4 421.7h1.9M542.6 421.2h1.9M542.8 416.9h1.9M543.1 419.6h1.9M543.3 426h1.9M543.5 425.1h1.9M543.8 423.6h1.9M544 421.8h1.9M544.2 420.9h1.9M544.5 426.4h1.9M544.7 423h1.9M544.9 417.6h1.9M545.2 420.8h1.9M545.4 419.2h1.9M545.6 417.6h1.9M545.9 421.6h1.9M546.1 418.7h1.9M546.3 418.2h1.9M546.6 428.9h1.9M546.8 427h1.9M547 420.7h1.9M547.3 417.5h1.9M547.5 419.4h1.9M547.7 416.6h1.9M548 423.3h1.9M548.2 418h1.9M548.4 424.9h1.9M548.7 421.6h1.9M548.9 425.9h1.9M549.2 421.1h1.9M549.4 424.4h1.9M549.6 422.2h1.9M549.9 429.1h1.9M550.1 428.5h1.9M550.3 424.4h1.9M550.6 426.5h1.9M550.8 416.9h1.9M551 416.5h1.9M551.3 418.2h1.9M551.5 419.1h1.9M551.7 418.9h1.9M552 428.5h1.9M552.2 423.5h1.9M552.4 414.8h1.9M552.7 418.2h1.9M552.9 414.5h1.9M553.1 414.9h1.9M553.4 425.9h1.9M553.6 421.8h1.9M553.8 425.7h1.9M554.1 420.7h1.9M554.3 426.9h1.9M554.5 423.7h1.9M554.8 415.7h1.9M555 421.1h1.9M555.2 422.2h1.9M555.5 417h1.9M555.7 423h1.9M555.9 419.7h1.9M556.2 422.2h1.9M556.4 423.8h1.9M556.6 416.4h1.9M556.9 417.7h1.9M557.1 419.8h1.9M557.3 425.7h1.9M557.6 420.3h1.9M557.8 423.2h1.9M558.1 415.3h1.9M558.3 418.3h1.9M558.5 416.8h1.9M558.8 424.2h1.9M559 420.9h1.9M559.2 424.4h1.9M559.5 419.3h1.9M559.7 416.2h1.9M559.9 414.4h1.9M560.2 417.4h1.9M560.4 419.5h1.9M560.6 411.8h1.9M560.9 418.7h1.9M561.1 423.2h1.9M561.3 423h1.9M561.6 415.3h1.9M561.8 421.9h1.9M562 416.8h1.9M562.3 424h1.9M562.5 414h1.9M562.7 421.3h1.9M563 417.4h1.9M563.2 419.8h1.9M563.4 422.5h1.9M563.7 417h1.9M563.9 422.9h1.9M564.1 418.2h1.9M564.4 414.2h1.9M564.6 421.1h1.9M564.8 415.5h1.9M565.1 410.2h1.9M565.3 416.7h1.9M565.5 415.8h1.9M565.8 422.8h1.9M566 420.8h1.9M566.2 424.4h1.9M566.5 419.9h1.9M566.7 417.2h1.9M567 422.5h1.9M567.2 427.7h1.9M567.4 420.5h1.9M567.7 426.2h1.9M567.9 420.3h1.9M568.1 420.3h1.9M568.4 426.2h1.9M568.6 424.6h1.9M568.8 426.9h1.9M569.1 422.2h1.9M569.3 427.1h1.9M569.5 423.2h1.9M569.8 425.8h1.9M570 425.8h1.9M570.2 421.4h1.9M570.5 425h1.9M570.7 426.6h1.9M570.9 421.7h1.9M571.2 423.1h1.9M571.4 431.1h1.9M571.6 422.4h1.9M571.9 418.8h1.9M572.1 417.8h1.9M572.3 420.5h1.9M572.6 426.5h1.9M572.8 423.5h1.9M573 427.1h1.9M573.3 428.9h1.9M573.5 428.5h1.9M573.7 424.1h1.9M574 425.9h1.9M574.2 427.2h1.9M574.4 421.4h1.9M574.7 417.4h1.9M574.9 419.5h1.9M575.1 418.1h1.9M575.4 414h1.9M575.6 419.6h1.9M575.9 418.2h1.9M576.1 429.8h1.9M576.3 424.8h1.9M576.6 425.4h1.9M576.8 424.3h1.9M577 423h1.9M577.3 419.7h1.9M577.5 424.3h1.9M577.7 416.1h1.9M578 421.4h1.9M578.2 415.2h1.9M578.4 426h1.9M578.7 422.1h1.9M578.9 419.6h1.9M579.1 421.4h1.9M579.4 421.7h1.9M579.6 421.9h1.9M579.8 418.1h1.9M580.1 423.9h1.9M580.3 427.6h1.9M580.5 421.6h1.9M580.8 417.9h1.9M581 417.2h1.9M581.2 422.4h1.9M581.5 422.3h1.9M581.7 423.6h1.9M581.9 415.9h1.9M582.2 420.1h1.9M582.4 423.5h1.9M582.6 425.7h1.9M582.9 420.3h1.9M583.1 425.4h1.9M583.3 422.2h1.9M583.6 413.4h1.9M583.8 414.5h1.9M584 423.6h1.9M584.3 420.6h1.9M584.5 421.7h1.9M584.8 419.6h1.9M585 419.1h1.9M585.2 417.8h1.9M585.5 414.8h1.9M585.7 424h1.9M585.9 417.3h1.9M586.2 420.4h1.9M586.4 421.9h1.9M586.6 415.2h1.9M586.9 418.4h1.9M587.1 417.9h1.9M587.3 421h1.9M587.6 426.6h1.9M587.8 422.6h1.9M588 420.6h1.9M588.3 422.6h1.9M588.5 412.1h1.9M588.7 414.6h1.9M589 423.7h1.9M589.2 417.6h1.9M589.4 424.9h1.9M589.7 421.5h1.9M589.9 423.8h1.9M590.1 422.9h1.9M590.4 425h1.9M590.6 419.6h1.9M590.8 423.6h1.9M591.1 426h1.9M591.3 423h1.9M591.5 423.6h1.9M591.8 426.2h1.9M592 425.5h1.9M592.2 426.2h1.9M592.5 423.1h1.9M592.7 423.7h1.9M592.9 423h1.9M593.2 421.2h1.9M593.4 422.6h1.9M593.7 427.2h1.9M593.9 416.9h1.9M594.1 419h1.9M594.4 414.5h1.9M594.6 418.8h1.9M594.8 421.6h1.9M595.1 424.3h1.9M595.3 420.4h1.9M595.5 423.9h1.9M595.8 417h1.9M596 423.3h1.9M596.2 422.6h1.9M596.5 423.2h1.9M596.7 423.7h1.9M596.9 421.7h1.9M597.2 421.5h1.9M597.4 424.1h1.9M597.6 419.9h1.9M597.9 419.5h1.9M598.1 422.4h1.9M598.3 420.5h1.9M598.6 423.8h1.9M598.8 418.7h1.9M599 422h1.9M599.3 420h1.9M599.5 417.2h1.9M599.7 413.3h1.9M600 424.2h1.9M600.2 418.6h1.9M600.4 418.4h1.9M600.7 424.5h1.9M600.9 420.8h1.9M601.1 423.9h1.9M601.4 422.5h1.9M601.6 422.3h1.9M601.8 417.3h1.9M602.1 418.5h1.9M602.3 424.4h1.9M602.6 414.5h1.9M602.8 419h1.9M603 420.5h1.9M603.3 422.9h1.9M603.5 421.7h1.9M603.7 422.7h1.9M604 425.2h1.9M604.2 420.3h1.9M604.4 417.6h1.9M604.7 419.4h1.9M604.9 418.8h1.9M605.1 420.6h1.9M605.4 425.5h1.9M605.6 417.9h1.9M605.8 419.4h1.9M606.1 414.2h1.9M606.3 410.9h1.9M606.5 423h1.9M606.8 425h1.9M607 419.4h1.9M607.2 418.5h1.9M607.5 419.9h1.9M607.7 422.7h1.9M607.9 422h1.9M608.2 413.1h1.9M608.4 418.3h1.9M608.6 428.7h1.9M608.9 419.6h1.9M609.1 418.2h1.9M609.3 425.2h1.9M609.6 418.8h1.9M609.8 414.4h1.9M610 423h1.9M610.3 424.8h1.9M610.5 423.9h1.9M610.7 426.6h1.9M611 419.6h1.9M611.2 421.6h1.9M611.4 420.9h1.9M611.7 424.4h1.9M611.9 422.1h1.9M612.2 431.9h1.9M612.4 426.8h1.9M612.6 424.7h1.9M612.9 420.4h1.9M613.1 416h1.9M613.3 421h1.9M613.6 418.7h1.9M613.8 420.2h1.9M614 425.7h1.9M614.3 416.9h1.9M614.5 423.1h1.9M614.7 418.4h1.9M615 418.5h1.9M615.2 417.2h1.9M615.4 423.4h1.9M615.7 417.5h1.9M615.9 420.5h1.9M616.1 420.1h1.9M616.4 419.7h1.9M616.6 426.2h1.9M616.8 422.4h1.9M617.1 426.5h1.9M617.3 416.9h1.9M617.5 422.1h1.9M617.8 420.9h1.9M618 424.5h1.9M618.2 421.9h1.9M618.5 424.1h1.9M618.7 423.9h1.9M618.9 421.1h1.9M619.2 418.4h1.9M619.4 416.9h1.9M619.6 422.9h1.9M619.9 425.3h1.9M620.1 421h1.9M620.3 426.2h1.9M620.6 424.6h1.9M620.8 416.2h1.9M621.1 423.2h1.9M621.3 430.7h1.9M621.5 432.8h1.9M621.8 422.1h1.9M622 422h1.9M622.2 405.6h1.9M622.5 420.8h1.9M622.7 414.9h1.9M622.9 415.1h1.9M623.2 416.2h1.9M623.4 422.5h1.9M623.6 420.2h1.9M623.9 424.4h1.9M624.1 426.6h1.9M624.3 418.1h1.9M624.6 420h1.9M624.8 419.1h1.9M625 418.8h1.9M625.3 421.4h1.9" stroke="#838383" stroke-width="1.85" fill="none"/>
<rect x="371.5" y="419.4" width="254" height="4.6" fill="none" stroke="#000" stroke-width="1"/>
<path d="M371.5 421.8H626.3" stroke="#00ff00" stroke-width="2.6"/>
<path d="M379.7 415.1h2.3M380.2 425.4h2.3" stroke="#ff0000" stroke-width="2.3" fill="none"/>
</g>
<line x1="498" y1="424.1" x2="498" y2="470.8" stroke="#000" stroke-width="1.6"/>
<rect x="371.5" y="333.6" width="254" height="175.5" fill="none" stroke="#222" stroke-width="1.1"/>
<path d="M371.5 348.4h2.5M625.5 348.4h-2.5M371.5 385.1h2.5M625.5 385.1h-2.5M371.5 421.8h2.5M625.5 421.8h-2.5M371.5 458.4h2.5M625.5 458.4h-2.5M434.7 333.6v2.5M498 333.6v2.5M561.2 333.6v2.5" stroke="#222" stroke-width="1"/>
<text x="367.1" y="354.2" font-size="15.6" class="S" text-anchor="end">10</text>
<text x="367.1" y="390.9" font-size="15.6" class="S" text-anchor="end">5</text>
<text x="367.1" y="427.6" font-size="15.6" class="S" text-anchor="end">0</text>
<text x="367.1" y="464.3" font-size="15.6" class="S" text-anchor="end">−5</text>
<rect x="371.5" y="470.8" width="254" height="38.1" fill="#fff"/>
<clipPath id="ci11"><rect x="371.5" y="470.8" width="254" height="38.1"/></clipPath>
<g clip-path="url(#ci11)">
<line x1="434.7" y1="473.8" x2="434.7" y2="508.9" stroke="#3a3a3a" stroke-width="1.1" stroke-dasharray="1 5"/>
<line x1="498" y1="473.8" x2="498" y2="508.9" stroke="#3a3a3a" stroke-width="1.1" stroke-dasharray="1 5"/>
<line x1="561.2" y1="473.8" x2="561.2" y2="508.9" stroke="#3a3a3a" stroke-width="1.1" stroke-dasharray="1 5"/>
<line x1="377" y1="489.9" x2="625.5" y2="489.9" stroke="#3a3a3a" stroke-width="1.1" stroke-dasharray="1 5"/>
<path d="M508.8 486h1.5M481.1 500.9h1.5M571 501.8h1.5M392.1 485.9h1.5M510.2 501.3h1.5M419.9 483.5h1.5M585.7 493.2h1.5M447.9 490.4h1.5M418.8 491.8h1.5M533.9 494.7h1.5M424.8 506.9h1.5M593.9 498.9h1.5M623.9 485.5h1.5M503.9 488.6h1.5M443 476.6h1.5M537.8 487h1.5M406.9 503.4h1.5M539.8 503.6h1.5M452.6 497.5h1.5M603.6 506.2h1.5M511.1 473.1h1.5M502.5 477.1h1.5M525.3 488.1h1.5M467 497.8h1.5M610.8 488.1h1.5M478.5 489.7h1.5M568.8 482.1h1.5M470 478.8h1.5M569.3 487.7h1.5M622.4 495.5h1.5M394.3 485.4h1.5M537.9 472.5h1.5M553.2 485.3h1.5M420.8 490.2h1.5M416.4 495.4h1.5M431.9 480.9h1.5M608.7 472.5h1.5M443.5 480h1.5M541.3 482.7h1.5M426.3 481.5h1.5M424.7 485.1h1.5M491.8 481.5h1.5M460.3 476.8h1.5M437.2 484.5h1.5M443 492h1.5M588 495.4h1.5M584.6 501.2h1.5M418.9 505.1h1.5M426.9 489.5h1.5M371.4 496.9h1.5M459.1 480.4h1.5M484.6 482h1.5M558.4 489.9h1.5M519.3 487.2h1.5M384.1 491.3h1.5M613.2 487.4h1.5M498.4 504.7h1.5M410.8 484.8h1.5M444.1 487.9h1.5M415.4 474.9h1.5M580.5 502.8h1.5M426.9 496.3h1.5M612.6 500.6h1.5M531.8 475.2h1.5M601.6 500.8h1.5M598.4 482.5h1.5M434.1 482.8h1.5M607.3 503.7h1.5M416.7 472.5h1.5M606.4 501.6h1.5M572.1 485h1.5M577.7 471.7h1.5M474.5 490.5h1.5M618 505.2h1.5M516.4 480.3h1.5M440.6 499h1.5M558.3 478.6h1.5M400 479.8h1.5M577.3 479.4h1.5M532 508.4h1.5M543.2 490.5h1.5M429.5 506.7h1.5M416.1 494.2h1.5M587.8 494.2h1.5M526.9 479.3h1.5M504.6 507h1.5M442 488.7h1.5M564.8 501.5h1.5M567.9 476.7h1.5M521.6 492h1.5M560.2 494.2h1.5M383.2 491.8h1.5M442.1 495.1h1.5M373 475.6h1.5M512.6 508.1h1.5M515.2 477.3h1.5M424.7 505.3h1.5M383.9 497.6h1.5M585 501.2h1.5M509.6 507h1.5M599.7 486h1.5M491.8 499.6h1.5M514.4 500.8h1.5M446.8 501.5h1.5M531.9 487.6h1.5M572.3 497.3h1.5M572.8 487.2h1.5M381.4 477.5h1.5M510.7 471.3h1.5M447.5 493.3h1.5M617 486.7h1.5M510.6 472.4h1.5M380.1 505.6h1.5M465.6 502.1h1.5M468.2 474.7h1.5M599.7 502.3h1.5M591.8 472.3h1.5M400 486.1h1.5M623.3 484.2h1.5M601.3 497.3h1.5M614.9 505.6h1.5M402.1 503.8h1.5M413.6 486.4h1.5M542.8 483.7h1.5M559.2 491.6h1.5M618.8 495.9h1.5M451.7 487h1.5M415.3 480.5h1.5M571.2 507.9h1.5M445.5 485h1.5M379.6 498.5h1.5M411.5 488h1.5M615.9 478.4h1.5M372.2 502h1.5M545.9 496.7h1.5M594.1 483.7h1.5M442.8 503.6h1.5M559.1 504.2h1.5M607.6 499.8h1.5M387.4 474.2h1.5M414.1 503.4h1.5M584.2 472.4h1.5M484.5 495.2h1.5M426.5 495.5h1.5M378.7 499.3h1.5M597.5 488h1.5M405.9 502.1h1.5M615.9 498.5h1.5M433.4 478.6h1.5M376.6 484.5h1.5M469.1 497h1.5M439.9 480.2h1.5M592.5 492h1.5M383.1 482.4h1.5M400 487.6h1.5M619.9 498.3h1.5M543.6 474.3h1.5M611.6 479.5h1.5M415 489.5h1.5M409.5 492.5h1.5M409.4 489.3h1.5M572.7 495.7h1.5M520 474.6h1.5M597.2 486.9h1.5M543.8 496.5h1.5M475.9 479.4h1.5M594.9 495.4h1.5M460 489.2h1.5M376.6 508.1h1.5M438.2 499.4h1.5M545 492.1h1.5M492.7 501.7h1.5M539.9 491.4h1.5M508.8 495.1h1.5M402.6 496.1h1.5M420.8 482.3h1.5M504.8 490.2h1.5M494.2 480h1.5M563.1 474.6h1.5M578.6 487.6h1.5M553.8 505.2h1.5M425 476.4h1.5M441.4 476.4h1.5M530.5 484.8h1.5M602.2 481.1h1.5M591.5 476.4h1.5M406.2 494.2h1.5M490.4 476.9h1.5M507.9 505.7h1.5M435.6 496.3h1.5M383.2 489h1.5M439.7 504.9h1.5M485.5 473.1h1.5M488.7 495.9h1.5M424.5 498.2h1.5M468.3 484.4h1.5M389.7 474h1.5M491.2 481.1h1.5M483 476h1.5M572.4 491.8h1.5M450.4 505h1.5M499.6 490.7h1.5M550.8 485.9h1.5M438.9 508.1h1.5M422.4 491.5h1.5M373.2 492.3h1.5M511.5 479.6h1.5M423.5 473.8h1.5M460.9 490.2h1.5M553.3 487.1h1.5M386.3 480.1h1.5M534.8 494.6h1.5M433 471.9h1.5M468.1 503.7h1.5M523.6 481.7h1.5M418.9 499.3h1.5M408 499.1h1.5M618.3 508.1h1.5M460.2 497.7h1.5M612.6 498.3h1.5M388.8 491.6h1.5M561.8 490.3h1.5M529.2 491.8h1.5M596.2 489.5h1.5M377.1 501.1h1.5M523 508h1.5M385.3 488.8h1.5M600.5 482h1.5M507.6 473.5h1.5M556.5 485.7h1.5M514.3 492.5h1.5M468.3 496.5h1.5M536 487h1.5M545.1 481.8h1.5M466.8 502.7h1.5M459.2 488.1h1.5M505.1 500.3h1.5M472.2 489.9h1.5M618.8 502.7h1.5M455.2 476.2h1.5M420.6 489h1.5M510.7 477.3h1.5M604.5 487h1.5M494.8 474.5h1.5M410.6 493.9h1.5M525.8 495.1h1.5M516.6 503.2h1.5M620.2 503.5h1.5M561.5 506.1h1.5M584.1 503.4h1.5M512.6 493.7h1.5M509.6 496.2h1.5M609 483.2h1.5M385.1 508.3h1.5M530.5 490.7h1.5M611.1 487.2h1.5M482.9 505h1.5M550.6 497.4h1.5M616.2 476.8h1.5M582.8 502h1.5M513.5 501.8h1.5M552.2 495.2h1.5M570.4 506.9h1.5M411.1 474.9h1.5M520.4 493.7h1.5M375.9 499.8h1.5M450.9 490h1.5M534.9 503.3h1.5M565.4 508.2h1.5M598.6 492.7h1.5M552.1 483.2h1.5M459.8 481.3h1.5M595.9 475.7h1.5M569.7 496.1h1.5M560.5 491.1h1.5M555.7 506.3h1.5M523.5 497.8h1.5M507.2 480.7h1.5M426.6 497.7h1.5M560.9 494h1.5M530.2 496.2h1.5M548.7 484.8h1.5M499.9 495.6h1.5M462.7 480.2h1.5M571.9 496.9h1.5M457.5 495.9h1.5M552.2 472.4h1.5M403.6 479.4h1.5M423.2 479.5h1.5M538.7 491.2h1.5M594.6 499h1.5M504.6 502.1h1.5M473.9 491.9h1.5M537.1 483h1.5M401 505.9h1.5M458.8 499.9h1.5M439.2 484.8h1.5M556.3 483.6h1.5M563.9 490.2h1.5M504.9 505.1h1.5M574 494.3h1.5M412.5 505.8h1.5M402.9 496.7h1.5M609.3 472.5h1.5M612.1 496.9h1.5M423.4 502.9h1.5M426 486.8h1.5M497.1 498.5h1.5M580.2 489.6h1.5M591.8 475.9h1.5M509.7 493.7h1.5M613 492.6h1.5M463.4 498.8h1.5M496.2 486.5h1.5M540.4 494.1h1.5M391.2 478.8h1.5M501.6 507.9h1.5M550.2 480.2h1.5M495.4 498h1.5M469.4 473.7h1.5M503.2 489.7h1.5M614.9 496.3h1.5M420.1 481.7h1.5M508.9 499.2h1.5M616 481.6h1.5M388.6 485.1h1.5M393.1 502.2h1.5M492.9 476.2h1.5M391.9 504.9h1.5M558.5 504h1.5M482.5 478h1.5M424 489.4h1.5M390.8 497.6h1.5M422.5 497.5h1.5M465.9 501.5h1.5M572.1 485.5h1.5M394.2 483.4h1.5M415.8 503.2h1.5M585.2 483.8h1.5M400.4 472.4h1.5M425.4 505.9h1.5M507 501.5h1.5M485.9 496.6h1.5M592.5 497.7h1.5M495.7 477.7h1.5M552 481.3h1.5M478.6 494.5h1.5M538 482.4h1.5M436.7 484.3h1.5M381.3 505.2h1.5M462.3 506.9h1.5M398.4 490.5h1.5M527.5 499.9h1.5M378.8 496.4h1.5M398.8 477.1h1.5M544.9 503.6h1.5M484 499.2h1.5M439.6 481.5h1.5M579.7 478.1h1.5M565.5 490.3h1.5M567.6 481h1.5M609.6 498.7h1.5M586.9 483.7h1.5M506.5 485.7h1.5M373 505h1.5M576.9 498.1h1.5M563.9 506h1.5M608.3 504.9h1.5M503.5 481.6h1.5M600.8 473.8h1.5M595.4 489h1.5M563.1 500.8h1.5M532.2 480.3h1.5M450 489.6h1.5M606.7 474.6h1.5M498.4 473.3h1.5M569.9 478.4h1.5M582.9 473.2h1.5M576.9 499.6h1.5M611 497.2h1.5M406.4 491.7h1.5M430 489.7h1.5M450.7 502.4h1.5M442 483h1.5M528.3 475.3h1.5M466.4 491.2h1.5M416 481.6h1.5M570.9 478.6h1.5M502.6 487.2h1.5M411.7 501.8h1.5M551.2 505.7h1.5M584.2 501.3h1.5M466.2 494.1h1.5M521.3 507.5h1.5M474.6 474.3h1.5M464.6 499h1.5M440.3 496.5h1.5M492.1 504.6h1.5M623.2 507.8h1.5M502.7 492.7h1.5M548.7 482.2h1.5M484.7 495h1.5M622.6 471.3h1.5M528.7 481h1.5M624.5 481.7h1.5M374 477.6h1.5M424.3 473.2h1.5M396.3 489.4h1.5M456.9 476.5h1.5M542.8 477.8h1.5M393.6 495.6h1.5M622.1 476.7h1.5M442.3 487.1h1.5M379.4 493h1.5M386.1 483.9h1.5M518.9 487.8h1.5M598.5 491.4h1.5M442.2 481.2h1.5M432.6 472.7h1.5M380.4 499.7h1.5M521.1 491.5h1.5M483.9 482h1.5M395.6 485.4h1.5M393.5 488.8h1.5M396.8 477.4h1.5M478.3 496.3h1.5M534.8 477.1h1.5M526.3 492.8h1.5M572.2 475.8h1.5M561.5 495.9h1.5M531.4 482.3h1.5M373.2 476.9h1.5M550.6 471.3h1.5M439.2 483.6h1.5M599.7 473.2h1.5M373.8 494.6h1.5M389.3 483.5h1.5M498.2 482.5h1.5M421.6 482.9h1.5M484.3 506h1.5M479.2 486.3h1.5M542 476.6h1.5M381.8 504.4h1.5M507 498.9h1.5M566.9 474.9h1.5M444.2 473.1h1.5M378 484.7h1.5M549.9 474.8h1.5M508.8 499.8h1.5M498.5 483.2h1.5M551.2 498.9h1.5M451.2 502.6h1.5M454.7 489.8h1.5M624.6 472.9h1.5M531.2 477.2h1.5M539.2 489.4h1.5M452.5 484.3h1.5M616.6 480.5h1.5M413.8 476.7h1.5M589.9 497.9h1.5M520.3 503.1h1.5M470.6 496.4h1.5M387 484.1h1.5M533.8 489.7h1.5M556.7 489.3h1.5M482.7 477.6h1.5M472.1 480.1h1.5M536.7 500.5h1.5M454.8 491.6h1.5M519.5 492.4h1.5M499.7 492.1h1.5M499.3 476.1h1.5M402.4 483.6h1.5M482.8 471.5h1.5M442.8 493.1h1.5M607.6 492h1.5M454.8 492.5h1.5M595.2 473.7h1.5M447.6 503.8h1.5M415.2 492.4h1.5M462.9 475h1.5M473 473.1h1.5M423 483.4h1.5M514.4 499.2h1.5M482.3 482.2h1.5M572.3 489.2h1.5M463.6 504.9h1.5M538.3 480.1h1.5M385.8 474.8h1.5M440.9 479.9h1.5M495.7 491.7h1.5M468.3 474.8h1.5M406.5 483.1h1.5M600.9 506.7h1.5M466.5 508.3h1.5M527.4 482.7h1.5M567.8 488.3h1.5M463.4 486.1h1.5M492 486.9h1.5M380.9 485.4h1.5M555.4 492.7h1.5M409.9 499.5h1.5M376 493.2h1.5M415.6 484.6h1.5M580.4 487.6h1.5M491.9 489.7h1.5M436.5 483.3h1.5M592.2 479.3h1.5M543.4 498.1h1.5M542.2 476.5h1.5M433.2 500.2h1.5M571.1 483.9h1.5M401.1 496.6h1.5M462.8 508.2h1.5M614.8 493.4h1.5M539 499.6h1.5M456.3 477.3h1.5M543.1 483.2h1.5M513.6 476.6h1.5M375.4 476.3h1.5M583.9 477.8h1.5M389.4 482.9h1.5M608.5 501.4h1.5M536.1 504.5h1.5M389.1 503.3h1.5M618.1 473h1.5M374.4 500.7h1.5M482.6 499.3h1.5M428.8 505.5h1.5M471.2 485.8h1.5M512.5 502.6h1.5M517.6 482.4h1.5M474.1 477.1h1.5M608.9 500.5h1.5M503.2 504.2h1.5M560.6 494.9h1.5M526.4 502.4h1.5M428.5 495.7h1.5M583.6 480h1.5M386.5 480.7h1.5M413.2 477.6h1.5M408.9 501.6h1.5M530.3 502.5h1.5M439.9 495.9h1.5M504.4 485h1.5M435.8 500.6h1.5M574.4 473.3h1.5M552.1 473.1h1.5M462.2 495.1h1.5M409.5 500.3h1.5M562.7 481.4h1.5M387.2 475.5h1.5M618.1 477.1h1.5M533.5 508.2h1.5M402.7 505.4h1.5M398.6 491.1h1.5M381 501h1.5M397.3 483.8h1.5M466.5 477.3h1.5M438.5 479.4h1.5M423.8 503.3h1.5M530.6 497.9h1.5M559.1 485.7h1.5M393 474.3h1.5M615.1 495.8h1.5M541.5 499.5h1.5M455.6 474.2h1.5M479.1 497.8h1.5M569.8 472.5h1.5M436.2 496h1.5M406.5 475.5h1.5M456.3 472.6h1.5M576.3 480.5h1.5M468.6 483h1.5M381.1 499.9h1.5M616.4 489.9h1.5M387.2 487.1h1.5M443.6 483.9h1.5M584.1 476.1h1.5M394.4 472.7h1.5M569.8 507.3h1.5M527.8 500h1.5M510.2 504.6h1.5M579 476h1.5M469.8 499.9h1.5M576.7 485.9h1.5M586.7 490.2h1.5M386.3 496.5h1.5M466.3 493.4h1.5M388.7 491.8h1.5M581.2 504.2h1.5M589.1 492.4h1.5M478.4 487.4h1.5M600.7 504.1h1.5M619.2 498.6h1.5M396 500.7h1.5M405.5 484.6h1.5M597.9 507h1.5M591.4 488.4h1.5M454.3 506.5h1.5" stroke="#808080" stroke-width="1.5" fill="none"/>
<path d="M371.5 492.4 372.2 490 372.9 489.9 373.6 490.5 374.3 489.3 375 489.1 375.7 487.1 376.4 486.6 377.1 485.9 377.8 485.2 378.5 486.3 379.2 486.4 379.9 485.2 380.6 484.9 381.3 483.9 382 484.1 382.7 485 383.4 485.2 384.1 485.7 384.8 487.7 385.6 487.6 386.3 487.2 387 488.4 387.7 489.5 388.4 489.8 389.1 489.6 389.8 490 390.5 491.2 391.2 491.1 391.9 491.5 392.6 492.5 393.3 493.3 394 492.9 394.7 491.1 395.4 490 396.1 491.3 396.8 489.3 397.5 490.6 398.2 491.9 398.9 493.2 399.6 493.7 400.3 491.9 401 491.4 401.7 491.3 402.4 492.3 403.1 491.2 403.8 492.1 404.5 493.8 405.2 493.2 405.9 492.4 406.6 491 407.3 492.2 408 490.5 408.7 489.4 409.4 490.7 410.1 490.7 410.8 492.1 411.5 491.9 412.3 492.5 413 494.7 413.7 493.5 414.4 492.4 415.1 491.8 415.8 490.6 416.5 490.5 417.2 492.7 417.9 492.1 418.6 492 419.3 492.1 420 492 420.7 492.8 421.4 493.1 422.1 493.9 422.8 492.6 423.5 493.6 424.2 492.9 424.9 492.2 425.6 492.7 426.3 492 427 492.4 427.7 491.7 428.4 491.8 429.1 491.3 429.8 491.8 430.5 492 431.2 493 431.9 492.3 432.6 491.4 433.3 491.5 434 491.1 434.7 492.1 435.4 493.2 436.1 493.8 436.8 494.1 437.5 493.5 438.2 493.9 438.9 493.6 439.7 492.9 440.4 492.8 441.1 493.4 441.8 492.6 442.5 492.2 443.2 493.2 443.9 490.8 444.6 490.2 445.3 490.4 446 492 446.7 492.5 447.4 491.5 448.1 489.9 448.8 491 449.5 492.7 450.2 491.2 450.9 491.8 451.6 490.9 452.3 491.9 453 492 453.7 492.2 454.4 492.9 455.1 491.6 455.8 492.7 456.5 492.3 457.2 491.5 457.9 491.9 458.6 491.9 459.3 491.7 460 490.7 460.7 491.6 461.4 491.3 462.1 490.2 462.8 490.6 463.5 492 464.2 491.4 464.9 493.6 465.6 492.7 466.4 491.7 467.1 490.8 467.8 490.5 468.5 491.5 469.2 490.5 469.9 489.9 470.6 490.1 471.3 490.3 472 490.8 472.7 491.6 473.4 491.2 474.1 491.5 474.8 490.3 475.5 489.5 476.2 490.1 476.9 488.6 477.6 489 478.3 487.6 479 487.8 479.7 487.5 480.4 490.1 481.1 490.3 481.8 488.8 482.5 489.8 483.2 491.3 483.9 491.8 484.6 491.3 485.3 491.5 486 491.5 486.7 492.5 487.4 491.9 488.1 491.9 488.8 490.7 489.5 488.9 490.2 489.2 490.9 488.8 491.6 489.2 492.3 489.4 493 490.4 493.8 490.2 494.5 489.3 495.2 490 495.9 489.3 496.6 490.7 497.3 489.7 498 489.7 498.7 489.2 499.4 489.8 500.1 489.8 500.8 489.3 501.5 487.5 502.2 488.8 502.9 488.5 503.6 486.7 504.3 487.5 505 488 505.7 487.2 506.4 489.1 507.1 490.2 507.8 490.4 508.5 488 509.2 489.3 509.9 489.2 510.6 489.8 511.3 489 512 488.9 512.7 489.5 513.4 489.4 514.1 488.5 514.8 488.7 515.5 489.2 516.2 489.9 516.9 487.4 517.6 489.9 518.3 489.5 519 489.1 519.7 489.3 520.5 488.5 521.2 490.2 521.9 489.7 522.6 490.2 523.3 489.4 524 489.2 524.7 488.6 525.4 490 526.1 489.3 526.8 489 527.5 488.9 528.2 489.1 528.9 489.1 529.6 487.3 530.3 486.8 531 487.3 531.7 487.2 532.4 486.7 533.1 487.6 533.8 488.8 534.5 488 535.2 488.4 535.9 487.7 536.6 487.6 537.3 489.1 538 487.8 538.7 488.3 539.4 487.2 540.1 487.6 540.8 486.8 541.5 487.6 542.2 488.8 542.9 489.3 543.6 488.6 544.3 486.5 545 487.3 545.7 489.2 546.4 488.5 547.1 488.1 547.9 488.1 548.6 487.9 549.3 488.8 550 488.8 550.7 489.2 551.4 489.9 552.1 489.7 552.8 490 553.5 490.7 554.2 489.2 554.9 490.9 555.6 491 556.3 489.3 557 488.6 557.7 488.9 558.4 488 559.1 487.4 559.8 489.4 560.5 489.6 561.2 489.5 561.9 490.1 562.6 490.9 563.3 490.2 564 491.5 564.7 491.2 565.4 490.8 566.1 490.4 566.8 489.4 567.5 489.6 568.2 488.9 568.9 488.3 569.6 488.1 570.3 489.7 571 490.6 571.7 490.5 572.4 488.9 573.1 488.2 573.8 488.2 574.6 489.7 575.3 489.7 576 490.1 576.7 489.4 577.4 488.6 578.1 490.6 578.8 491.3 579.5 490.8 580.2 492.8 580.9 492.1 581.6 491.5 582.3 491.1 583 490.2 583.7 490.9 584.4 489.2 585.1 489.1 585.8 490 586.5 489.9 587.2 489.8 587.9 489.9 588.6 490.8 589.3 489.5 590 489.6 590.7 490.4 591.4 490.3 592.1 489.7 592.8 490.1 593.5 491.6 594.2 492.3 594.9 491.2 595.6 490.9 596.3 490.4 597 490.9 597.7 491.6 598.4 489.9 599.1 490 599.8 490.5 600.5 489.4 601.3 490.9 602 489.7 602.7 491.9 603.4 490.7 604.1 491 604.8 491.2 605.5 489.8 606.2 489.9 606.9 489.3 607.6 489.3 608.3 488.8 609 487.6 609.7 488.8 610.4 488.4 611.1 488.7 611.8 489.6 612.5 490.1 613.2 490 613.9 490.1 614.6 488.2 615.3 489.3 616 488.8 616.7 488.8 617.4 489.8 618.1 490.7 618.8 490.2 619.5 490.3 620.2 489.5 620.9 489.7 621.6 488.7 622.3 490.3 623 489.3 623.7 489.5 624.4 488.8 625.1 489.2 625.8 488.6" stroke="#00ff00" stroke-width="2.6" fill="none" stroke-linejoin="round"/>
<path d="M581.2 486.2h1.8M462.4 489.5h1.8M596.1 487h1.8M509.2 489.1h1.8M510 485.3h1.8M589.3 491.1h1.8M448.4 490.9h1.8M493.8 485.9h1.8M543.2 492.4h1.8M540.6 489.9h1.8M569.6 490.4h1.8M449.1 489.8h1.8M569.8 487.4h1.8M498.1 490.4h1.8M468.5 491.7h1.8M488.7 491.1h1.8M423.6 490.6h1.8M478.3 487.1h1.8M550.7 491.2h1.8M529.4 486.4h1.8M436.7 488.2h1.8M592.8 490.6h1.8M482.2 485.9h1.8M510.9 490.1h1.8M569.6 490.3h1.8M479.2 492.7h1.8M592.5 489.3h1.8M554 492.7h1.8M457.9 485.8h1.8M469.3 487.1h1.8M449.6 487.7h1.8M421.8 491.6h1.8M484.7 485.7h1.8M425.1 488h1.8M461.5 491.1h1.8M444.2 492h1.8M483.9 491.9h1.8M407.5 488.1h1.8M501 492h1.8M528.6 491.9h1.8M530.7 490.7h1.8M560.4 488.3h1.8M467.6 491.3h1.8M592.2 491.9h1.8M427.2 490.9h1.8M532.6 490.6h1.8M439.9 491.4h1.8M442.6 490.6h1.8M544.8 491.6h1.8M535.4 488h1.8M429.5 488.3h1.8M488.7 491.7h1.8M410.2 488.1h1.8M523.8 489.1h1.8M540.5 491.3h1.8M547.1 488.5h1.8M554.8 487.3h1.8M468.1 492.4h1.8M529.1 492h1.8M594.5 489.9h1.8M591.9 493.1h1.8M407.4 490.8h1.8M448.7 487.5h1.8M565.5 493.6h1.8M595.5 489.5h1.8M418 490.1h1.8M570.7 488.1h1.8M483.1 490.1h1.8M533.9 492.2h1.8M447.3 488.2h1.8M562.6 489.2h1.8M576.7 490.5h1.8M591.4 490h1.8M472.3 493.6h1.8M593.7 491.1h1.8M601.3 490.4h1.8M464.6 488h1.8M454.6 485.4h1.8M483.8 489.4h1.8M437 487.3h1.8M499 490.5h1.8M448.1 489.5h1.8M531.3 487.3h1.8M410.7 492.3h1.8M441.9 493h1.8M480.6 487.6h1.8M493.7 490.5h1.8M474.9 488.8h1.8M434.4 490.5h1.8M596.3 487.7h1.8M516.4 487.2h1.8M576.7 490.2h1.8M560 491.6h1.8M571.9 494.5h1.8M489.4 486h1.8M462.9 489.8h1.8M591.3 486.5h1.8M548.9 492.3h1.8M487.3 494.1h1.8M600.4 490h1.8M565.1 488.8h1.8M594.2 491.8h1.8M568.7 486.5h1.8M414.7 485.5h1.8M493.3 487.6h1.8M432.6 489.3h1.8M566 488.5h1.8M562 490.4h1.8M430 489.6h1.8M560.4 490.6h1.8M543.8 487.5h1.8M462.5 490.3h1.8M440.9 490.5h1.8M481.1 487.7h1.8M494.1 484.2h1.8M422.6 490.2h1.8M459.7 491.3h1.8M458.3 488.3h1.8M479.7 491.4h1.8M565.1 486.4h1.8" stroke="#00ff00" stroke-width="1.8" fill="none"/>
<path d="M379.8 484.1h2.2M378.6 493.7h2.2" stroke="#ff0000" stroke-width="2.2" fill="none"/>
</g>
<path d="M375.5 472.7H625.5M375.5 507H625.5" stroke="#555" stroke-width="1.2" stroke-dasharray="1 5"/>
<rect x="371.5" y="470.8" width="254" height="38.1" fill="none" stroke="#000" stroke-width="2.1"/>
<text x="366.7" y="478.2" font-size="14.6" class="S" text-anchor="end" font-weight="bold">0.2</text>
<text x="366.7" y="495.2" font-size="14.6" class="S" text-anchor="end" font-weight="bold">0</text>
<text x="366.7" y="513.2" font-size="14.6" class="S" text-anchor="end" font-weight="bold">−0.2</text>
<line x1="434.7" y1="516" x2="434.7" y2="609.4" stroke="#3a3a3a" stroke-width="1.1" stroke-dasharray="1 5"/>
<line x1="498" y1="516" x2="498" y2="609.4" stroke="#3a3a3a" stroke-width="1.1" stroke-dasharray="1 5"/>
<line x1="561.2" y1="516" x2="561.2" y2="609.4" stroke="#3a3a3a" stroke-width="1.1" stroke-dasharray="1 5"/>
<line x1="375.9" y1="560.9" x2="625.1" y2="560.9" stroke="#6a6aff" stroke-width="1.1" stroke-dasharray="1 5"/>
<path d="M371.5 564.8 372 565 372.4 564.9 372.9 564.5 373.4 564.5 373.8 564.6 374.3 564.5 374.8 564.6 375.2 564 375.7 565.2 376.2 564.1 376.7 564.3 377.1 564.6 377.6 564.1 378.1 564.4 378.5 564.5 379 564.2 379.5 564.5 379.9 564.3 380.4 564.4 380.9 564.6 381.3 564.5 381.8 563.8 382.3 564.4 382.7 564 383.2 563.7 383.7 565 384.1 564.5 384.6 564.4 385.1 565.4 385.6 565 386 564.4 386.5 564.6 387 564.1 387.4 564.1 387.9 564 388.4 564.1 388.8 563.9 389.3 563.9 389.8 565.7 390.2 565.3 390.7 564.9 391.2 564.3 391.6 564.9 392.1 564.8 392.6 564.2 393 564.5 393.5 564.4 394 564.7 394.5 564.6 394.9 565 395.4 564.6 395.9 564.4 396.3 564.4 396.8 564.1 397.3 564.9 397.7 565.5 398.2 564.9 398.7 565.3 399.1 564.7 399.6 563.9 400.1 564.5 400.5 564.9 401 564.3 401.5 564.3 401.9 565.4 402.4 564.5 402.9 564.3 403.4 564.3 403.8 564.6 404.3 563.9 404.8 564.3 405.2 563.5 405.7 564.1 406.2 564.7 406.6 564.6 407.1 564.1 407.6 564.4 408 564.5 408.5 564.3 409 565.1 409.4 565.4 409.9 564.4 410.4 564.8 410.8 565 411.3 565.3 411.8 564.5 412.3 565.1 412.7 565.2 413.2 565.1 413.7 565 414.1 564.7 414.6 564.7 415.1 563.7 415.5 563.5 416 564.4 416.5 564 416.9 563.8 417.4 564 417.9 564.2 418.3 563.7 418.8 564.4 419.3 563.7 419.7 563.7 420.2 563.6 420.7 564.3 421.2 564.8 421.6 564.8 422.1 565.1 422.6 565.1 423 564.4 423.5 564.7 424 564.1 424.4 564.8 424.9 565.1 425.4 565.2 425.8 564.2 426.3 564.3 426.8 564.2 427.2 564.4 427.7 564.5 428.2 564.8 428.6 564.7 429.1 565.3 429.6 564.3 430.1 564 430.5 564.9 431 564.9 431.5 564.8 431.9 564.9 432.4 564.5 432.9 564.7 433.3 565 433.8 565.5 434.3 564.9 434.7 565.8 435.2 565.6 435.7 563.9 436.1 564.5 436.6 564.2 437.1 564.4 437.5 564.8 438 564.5 438.5 564.2 438.9 563.8 439.4 564.8 439.9 564.2 440.4 564.5 440.8 564.7 441.3 564.4 441.8 564.2 442.2 564 442.7 563.9 443.2 564.2 443.6 564 444.1 564.3 444.6 565.4 445 564.9 445.5 564.5 446 565.3 446.4 565 446.9 564.5 447.4 564.9 447.8 563.6 448.3 563.6 448.8 564.6 449.3 564.5 449.7 564.6 450.2 564.7 450.7 564.3 451.1 563.6 451.6 564.3 452.1 564.2 452.5 564.3 453 564 453.5 564.4 453.9 564.2 454.4 563.6 454.9 564.3 455.3 563.9 455.8 564.9 456.3 565 456.7 564.6 457.2 564.3 457.7 564.5 458.2 564.9 458.6 565.2 459.1 565.5 459.6 565.2 460 565.3 460.5 566 461 564.6 461.4 564.3 461.9 564.1 462.4 564.3 462.8 564.2 463.3 564.6 463.8 564.3 464.2 563.4 464.7 563.1 465.2 563.9 465.6 564.1 466.1 563.9 466.6 564.5 467.1 564.8 467.5 565.3 468 565.1 468.5 564.2 468.9 564.5 469.4 563 469.9 562.9 470.3 563.9 470.8 563.8 471.3 564.2 471.7 564.2 472.2 564.6 472.7 564.1 473.1 564.8 473.6 565 474.1 564.3 474.5 563.6 475 564 475.5 564.9 476 565.6 476.4 565.5 476.9 564.9 477.4 564.6 477.8 564.5 478.3 563.7 478.8 564.4 479.2 564.5 479.7 564.7 480.2 564.7 480.6 564.8 481.1 564.5 481.6 564.8 482 565.4 482.5 565.2 483 564.7 483.4 564.5 483.9 564.6 484.4 564.4 484.9 564.6 485.3 565 485.8 565.8 486.3 565.1 486.7 565.6 487.2 565.6 487.7 564.8 488.1 564 488.6 564.1 489.1 563.7 489.5 564.6 490 564.7 490.5 564.9 490.9 564.6 491.4 564.3 491.9 565 492.3 564.7 492.8 564.7 493.3 564.3 493.8 563.4 494.2 564.1 494.7 564.4 495.2 563.7 495.6 564.8 496.1 564.9 496.6 565.2 497 564.9 497.5 564.6 498 565.5 498.4 563.8 498.9 564.5 499.4 564.7 499.8 565.2 500.3 564.6 500.8 563.9 501.2 563.1 501.7 564.4 502.2 563.6 502.7 564.4 503.1 564.3 503.6 565 504.1 564.8 504.5 563.9 505 563.9 505.5 563.7 505.9 564.3 506.4 564.2 506.9 564.3 507.3 564.4 507.8 564.5 508.3 565.4 508.7 564.7 509.2 564.9 509.7 564.6 510.1 565.2 510.6 564.9 511.1 564.8 511.6 563.7 512 563.9 512.5 564.1 513 564.8 513.4 564.9 513.9 564.6 514.4 564.8 514.8 564.9 515.3 565.1 515.8 564.9 516.2 564.1 516.7 563.9 517.2 564.8 517.6 564.1 518.1 563.5 518.6 564.5 519 565.2 519.5 565 520 564.2 520.5 563.7 520.9 564.1 521.4 564.7 521.9 564.9 522.3 565.3 522.8 564.6 523.3 564.4 523.7 564.7 524.2 564.2 524.7 564.4 525.1 564.9 525.6 564.9 526.1 564.6 526.5 565 527 564.8 527.5 564.5 527.9 565.4 528.4 565.4 528.9 564.7 529.4 564.7 529.8 565.1 530.3 565.7 530.8 564.9 531.2 564.8 531.7 564.8 532.2 565.5 532.6 564.7 533.1 564.5 533.6 564.6 534 564.5 534.5 564.3 535 565 535.4 565.2 535.9 565.3 536.4 565.2 536.8 564.6 537.3 564 537.8 564.2 538.3 564.1 538.7 564.1 539.2 564.1 539.7 564.7 540.1 564.3 540.6 563.9 541.1 565.1 541.5 564.6 542 564.4 542.5 564.3 542.9 564.8 543.4 564.7 543.9 564.4 544.3 563.9 544.8 563.6 545.3 564.8 545.7 563.9 546.2 563.8 546.7 563.5 547.1 563.3 547.6 563.9 548.1 563.8 548.6 564.8 549 564.8 549.5 564.4 550 564.5 550.4 564.3 550.9 564.8 551.4 565.1 551.8 564.4 552.3 564.3 552.8 564.7 553.2 564 553.7 563.7 554.2 564.1 554.6 563.4 555.1 563.8 555.6 564.6 556 563.6 556.5 564.6 557 564.6 557.5 564.4 557.9 564.7 558.4 564 558.9 564.2 559.3 563.9 559.8 564.2 560.3 564.6 560.7 564.6 561.2 564.2 561.7 564 562.1 564 562.6 563.4 563.1 563.8 563.5 564.3 564 563.5 564.5 563.7 564.9 563.4 565.4 564.1 565.9 564 566.4 563.6 566.8 564 567.3 564.2 567.8 563.8 568.2 564.4 568.7 564.4 569.2 564.6 569.6 564.6 570.1 565.1 570.6 564.2 571 565 571.5 564.5 572 564.7 572.4 564.8 572.9 565.5 573.4 565.3 573.8 564.9 574.3 565.5 574.8 564.9 575.3 565.4 575.7 564.8 576.2 564.4 576.7 563.8 577.1 563.6 577.6 564.5 578.1 564.1 578.5 564.5 579 565.1 579.5 564.3 579.9 564.5 580.4 564.4 580.9 564.2 581.3 564.7 581.8 564.1 582.3 564 582.7 564.7 583.2 564.9 583.7 565.1 584.2 564.7 584.6 565.1 585.1 563.7 585.6 563.7 586 564.2 586.5 564 587 564.2 587.4 564.1 587.9 565 588.4 564.8 588.8 564.7 589.3 564.7 589.8 564.8 590.2 564.3 590.7 565 591.2 563.9 591.6 564.7 592.1 563.8 592.6 564.2 593.1 565.1 593.5 565.3 594 564.5 594.5 564 594.9 565 595.4 565.1 595.9 564.4 596.3 564.6 596.8 565 597.3 564.2 597.7 564.3 598.2 565.1 598.7 565.4 599.1 564.7 599.6 565 600.1 564 600.5 564.6 601 564.4 601.5 564.2 602 564.1 602.4 564.4 602.9 564.9 603.4 564.6 603.8 566.1 604.3 564.7 604.8 564.2 605.2 563.9 605.7 563.7 606.2 564.5 606.6 564.6 607.1 563.8 607.6 563.9 608 564.4 608.5 563.8 609 565.1 609.4 564.7 609.9 564 610.4 564.1 610.9 564.4 611.3 563.7 611.8 564.6 612.3 564.4 612.7 564.1 613.2 564.8 613.7 565.2 614.1 564.5 614.6 564.6 615.1 564.5 615.5 565 616 565.7 616.5 564.3 616.9 564 617.4 564.2 617.9 565 618.3 564.5 618.8 563.7 619.3 563.8 619.8 564.2 620.2 564.5 620.7 564.7 621.2 564.7 621.6 564.5 622.1 564.3 622.6 564.7 623 564.1 623.5 564.8 624 565.6 624.4 565.2 624.9 565.5 625.4 565 625.8 564.8 626.3 564.5" stroke="#000" stroke-width="1.6" fill="none" stroke-linejoin="round"/>
<path d="M411.4 559.8h1.3M421.3 563.4h1.3M408.8 566.4h1.3M423.7 559.7h1.3M419.6 560.8h1.3M422.7 563.5h1.3M414.2 559.6h1.3M418 555.3h1.3M410.3 560.6h1.3M420.4 563.5h1.3M422.9 561.9h1.3M407.8 565.7h1.3M413 560.3h1.3M421.6 560.3h1.3M420 561.8h1.3M417.3 563.5h1.3M420.8 566.9h1.3M413.3 559.6h1.3M426.1 564.9h1.3M423.6 563.1h1.3M428.3 564.3h1.3M414.8 562.3h1.3M409.2 562.9h1.3M406.6 562h1.3M409.4 561.5h1.3M415 562.5h1.3M415.4 562.5h1.3M417.4 564.2h1.3M425.5 563.5h1.3M410.3 565.6h1.3M423.9 562.9h1.3M417.4 562.1h1.3M417.8 565.9h1.3M424.4 560.4h1.3M410.4 564.9h1.3M406.8 558.6h1.3M415.5 564.9h1.3M427.6 561.4h1.3M422.4 563.4h1.3M417.8 562.1h1.3M449.5 562h1.3M444.3 563.4h1.3M432.6 561.4h1.3M433.1 564.3h1.3M436 566.3h1.3M440.8 562.3h1.3M437.6 566.1h1.3M444.1 563.5h1.3M434 566.9h1.3M454.4 565.4h1.3M448.3 557.1h1.3M440.8 561.2h1.3M447.8 555.6h1.3M434.8 563.6h1.3M452.4 563.3h1.3M450.3 564.4h1.3M454.1 567.6h1.3M440.1 566.3h1.3M439.2 559.6h1.3M445.1 563h1.3M452.6 570.3h1.3M454 561.1h1.3M454.4 563.9h1.3M438.4 562.1h1.3M441.9 564.7h1.3M440 563.2h1.3M452.8 565.3h1.3M430.7 560.4h1.3M441.8 558.7h1.3M443.2 562.4h1.3M455.2 559.1h1.3M449.1 567.9h1.3M455.1 555.5h1.3M436.5 563.9h1.3M455.6 560.2h1.3M442.2 556.4h1.3M454.9 561.9h1.3M443.7 559.6h1.3M433 568.9h1.3M447.9 559.4h1.3M437.6 566.5h1.3M454.9 563.1h1.3M430 558.9h1.3M432.5 562.4h1.3M432.7 561.6h1.3M434.6 554.2h1.3M445.6 570.8h1.3M435.5 562.3h1.3M447.9 566.9h1.3M452.2 568.2h1.3M443.9 558.4h1.3M438.8 565.2h1.3M434.3 555.2h1.3M452.3 562.3h1.3M452.2 562.5h1.3M433.5 559.8h1.3M451.7 558.4h1.3M441.4 558.4h1.3M437.6 567h1.3M450.2 561.7h1.3M446.7 566.2h1.3M444.6 559.2h1.3M450.2 560.2h1.3M431.2 562.7h1.3M434.6 558.7h1.3M451 563.7h1.3M450.4 560.2h1.3M448.4 557.4h1.3M430.2 559.2h1.3M432.3 567.4h1.3M435.7 564h1.3M454.5 558.7h1.3M436.2 567.1h1.3M437.4 563.9h1.3M448 566.8h1.3M453.3 561.1h1.3M429.4 563.9h1.3M444.9 562.3h1.3M436.8 563.7h1.3M451.5 559.7h1.3M454.2 566.1h1.3M437 563.7h1.3M454.3 561.6h1.3M445.8 561.9h1.3M448.3 564.7h1.3M455.9 557.3h1.3M442.3 562.5h1.3M454.3 563.6h1.3M436.9 560.7h1.3M444.8 557.8h1.3M530.5 565.1h1.3M548.6 565.1h1.3M512.2 564.4h1.3M504.8 565.2h1.3M510.4 565.1h1.3M504.6 568h1.3M530 564.3h1.3M527.5 564.2h1.3M533.1 563.7h1.3M538.6 563.3h1.3M545.3 563.6h1.3M542.1 566.4h1.3M543.2 561.2h1.3M536.6 565.2h1.3M507.9 569.1h1.3M512.2 566.6h1.3M501.9 564h1.3M515 563.8h1.3M533 569.7h1.3M521.4 564h1.3M506.5 562.4h1.3M548.1 564.2h1.3M520.2 569.1h1.3M496 564.5h1.3M522.7 563.9h1.3M522.9 564.3h1.3M530.9 566.1h1.3M518.8 570.7h1.3M515.8 565.7h1.3M523 568h1.3M513.1 563.1h1.3M515.2 563.2h1.3M510.8 564.8h1.3M539.6 565h1.3M541 568h1.3M533 566.6h1.3M495.7 565.9h1.3M496.5 567.5h1.3M504.4 567.6h1.3M523 566.4h1.3M533.5 561.7h1.3M501.8 566.7h1.3M538.9 562.6h1.3M508.5 567h1.3M536.9 567.8h1.3M505.1 564.1h1.3M515.5 562.4h1.3M539.5 563.7h1.3M528.5 567.4h1.3M508.9 564h1.3M501.6 567.7h1.3M541 563.9h1.3M496.1 566.4h1.3M530.9 562.6h1.3M511.7 564.5h1.3M495 563.5h1.3M509.4 563.5h1.3M543.9 564.9h1.3M504.5 564.1h1.3M540.9 567h1.3M531.6 568.8h1.3M518.9 563.5h1.3M535.9 564.3h1.3M524.5 564.6h1.3M532.9 565.2h1.3M503.5 564.6h1.3M498.3 565h1.3M513.6 562.9h1.3M499.9 561.5h1.3M538.6 566.6h1.3M500.4 565.4h1.3M543.1 564.8h1.3M523.9 565.2h1.3M527.4 566.3h1.3M510.1 565.2h1.3M521.9 564.7h1.3M521.1 566h1.3M538.5 565.1h1.3M501.5 566.5h1.3M526.2 564h1.3M512.2 566.3h1.3M545.8 563.7h1.3M537.1 567h1.3M534.8 570.1h1.3M541.1 564.1h1.3M515.6 562.3h1.3M522 564h1.3M501.4 567.3h1.3M504.4 566.3h1.3M511.2 564.7h1.3M527 566.1h1.3M540.6 563.2h1.3M521.3 563.9h1.3M513.2 566.5h1.3M505.3 566.5h1.3M519.4 566.3h1.3M537.3 563.6h1.3M506.7 562.4h1.3M542.8 566.2h1.3M503.2 563.6h1.3M512.6 565.6h1.3M511.5 564.2h1.3M504.1 566.1h1.3M531.8 566.4h1.3M527.2 569h1.3M522.3 562.2h1.3M520.3 567h1.3M513.9 567.5h1.3M546.7 566.2h1.3M523.1 565.9h1.3" stroke="#000" stroke-width="1.3" fill="none"/>
<line x1="370.4" y1="598" x2="625.1" y2="598" stroke="#ff0000" stroke-width="2.5" stroke-dasharray="8.4 4.3 2 4.3" stroke-dashoffset="3"/>
<path d="M371.5 600 372.9 599.9 374.3 599.8 375.7 599.6 377.1 599.6 378.5 599.8 379.9 600 381.3 599.5 382.7 599.3 384.1 599.3 385.6 599.3 387 599.4 388.4 599.2 389.8 599 391.2 598.9 392.6 598.7 394 598.7 395.4 598.7 396.8 598.4 398.2 598.4 399.6 598.5 401 598.4 402.4 598.2 403.8 598.2 405.2 598 406.6 598.4 408 598.1 409.4 598.1 410.8 598.1 412.3 598.2 413.7 598.3 415.1 598.2 416.5 598.2 417.9 598.2 419.3 598.4 420.7 598.4 422.1 598.4 423.5 598.6 424.9 598.6 426.3 598.6 427.7 598.9 429.1 598.8 430.5 598.8 431.9 598.8 433.3 598.6 434.7 598.6 436.1 598.8 437.5 598.7 438.9 598.5 440.4 598.8 441.8 598.9 443.2 598.6 444.6 598.6 446 598.4 447.4 598.3 448.8 598.2 450.2 598 451.6 597.9 453 597.6 454.4 597.5 455.8 597.5 457.2 597.3 458.6 597.2 460 597.1 461.4 597 462.8 596.9 464.2 596.7 465.6 596.4 467.1 596.5 468.5 596.5 469.9 596.2 471.3 596.3 472.7 596.3 474.1 596 475.5 595.8 476.9 595.7 478.3 595.9 479.7 596.5 481.1 596.4 482.5 596.8 483.9 597 485.3 597.2 486.7 597.5 488.1 597.7 489.5 597.9 490.9 597.5 492.3 597.9 493.8 598 495.2 598.2 496.6 598.1 498 598.1 499.4 597.9 500.8 597.9 502.2 597.8 503.6 597.8 505 597.6 506.4 597.8 507.8 597.9 509.2 597.7 510.6 597.8 512 597.8 513.4 597.9 514.8 598 516.2 598 517.6 597.9 519 597.8 520.5 597.7 521.9 597.6 523.3 597.8 524.7 597.9 526.1 598 527.5 598.1 528.9 597.9 530.3 597.9 531.7 597.8 533.1 597.7 534.5 597.8 535.9 598 537.3 597.5 538.7 597.3 540.1 597.3 541.5 597 542.9 596.6 544.3 596.3 545.7 596.1 547.1 596.1 548.6 596.1 550 596.1 551.4 596.4 552.8 596.7 554.2 597 555.6 597.1 557 597.3 558.4 597.8 559.8 597.9 561.2 598 562.6 598.4 564 598.3 565.4 598.5 566.8 598.5 568.2 598.5 569.6 598.7 571 598.8 572.4 598.8 573.8 598.7 575.3 598.7 576.7 598.9 578.1 599 579.5 599 580.9 598.9 582.3 599 583.7 599.2 585.1 599.2 586.5 599.3 587.9 599.5 589.3 599.7 590.7 599.6 592.1 599.9 593.5 600.1 594.9 599.9 596.3 599.9 597.7 599.8 599.1 599.7 600.5 599.7 602 599.5 603.4 599.4 604.8 599.2 606.2 599.5 607.6 599.4 609 599.4 610.4 599.5 611.8 599.5 613.2 599.5 614.6 599.5 616 599.5 617.4 599.4 618.8 599.2 620.2 599.1 621.6 598.8 623 598.9 624.4 599 625.8 599.2" stroke="#0000ff" stroke-width="2.4" fill="none" stroke-linejoin="round"/>
<path d="M370.4 513V609.4H625.1V513" stroke="#000" stroke-width="1.1" fill="none"/>
<path d="M370.4 519.5h2.5M625.1 519.5h-2.5M370.4 534.5h2.5M625.1 534.5h-2.5M370.4 549.5h2.5M625.1 549.5h-2.5M370.4 564.5h2.5M625.1 564.5h-2.5M370.4 579.5h2.5M625.1 579.5h-2.5M370.4 594.5h2.5M625.1 594.5h-2.5M434.7 609.4v-2.5M498 609.4v-2.5M561.2 609.4v-2.5" stroke="#000" stroke-width="1"/>
<text x="629.7" y="524.8" font-size="14.7" class="S">0.3</text>
<text x="629.7" y="539.8" font-size="14.7" class="S">0.2</text>
<text x="629.7" y="554.8" font-size="14.7" class="S">0.1</text>
<text x="629.7" y="569.8" font-size="14.7" class="S">0</text>
<text x="629.7" y="584.8" font-size="14.7" class="S">−0.1</text>
<text x="629.7" y="599.8" font-size="14.7" class="S">−0.2</text>
<text x="629.7" y="614.8" font-size="14.7" class="S">−0.3</text>
<text x="669.5" y="563.5" font-size="15.8" class="S" text-anchor="middle" transform="rotate(90 669.5 563.5)">DD slant iono.</text>
<path d="M370.1 517q-1.6 4.4 0 8.8" stroke="#000" stroke-width="1.2" fill="none"/>
<clipPath id="cm20"><rect x="53.8" y="616.1" width="254" height="175.5"/></clipPath>
<g clip-path="url(#cm20)">
<line x1="59.3" y1="630.9" x2="307.8" y2="630.9" stroke="#3a3a3a" stroke-width="1.1" stroke-dasharray="1 5"/>
<line x1="59.3" y1="667.5" x2="307.8" y2="667.5" stroke="#3a3a3a" stroke-width="1.1" stroke-dasharray="1 5"/>
<line x1="59.3" y1="704.2" x2="307.8" y2="704.2" stroke="#3a3a3a" stroke-width="1.1" stroke-dasharray="1 5"/>
<line x1="59.3" y1="741" x2="307.8" y2="741" stroke="#3a3a3a" stroke-width="1.1" stroke-dasharray="1 5"/>
<line x1="117" y1="619.1" x2="117" y2="791.6" stroke="#3a3a3a" stroke-width="1.1" stroke-dasharray="1 5"/>
<line x1="180.3" y1="619.1" x2="180.3" y2="791.6" stroke="#3a3a3a" stroke-width="1.1" stroke-dasharray="1 5"/>
<line x1="243.5" y1="619.1" x2="243.5" y2="791.6" stroke="#3a3a3a" stroke-width="1.1" stroke-dasharray="1 5"/>
<path d="M53 705.8h1.9M53.2 715.8h1.9M53.5 715.1h1.9M53.7 702.6h1.9M53.9 693h1.9M54.2 704.7h1.9M54.4 698h1.9M54.6 701.8h1.9M54.9 700.4h1.9M55.1 715.2h1.9M55.3 695.3h1.9M55.6 704.6h1.9M55.8 708.1h1.9M56 702.6h1.9M56.3 704.7h1.9M56.5 703.4h1.9M56.7 698.4h1.9M57 710.8h1.9M57.2 711.1h1.9M57.4 694.4h1.9M57.7 706.6h1.9M57.9 718.3h1.9M58.1 704.8h1.9M58.4 713.8h1.9M58.6 712.5h1.9M58.8 696.5h1.9M59.1 689.4h1.9M59.3 699.3h1.9M59.5 695.9h1.9M59.8 701.8h1.9M60 708.6h1.9M60.3 702.5h1.9M60.5 705.1h1.9M60.7 706.8h1.9M61 706.1h1.9M61.2 692.4h1.9M61.4 697.6h1.9M61.7 696h1.9M61.9 699.5h1.9M62.1 699.6h1.9M62.4 697.1h1.9M62.6 721.4h1.9M62.8 716.1h1.9M63.1 712.1h1.9M63.3 710.1h1.9M63.5 702.3h1.9M63.8 702.2h1.9M64 703.8h1.9M64.2 700.7h1.9M64.5 701.7h1.9M64.7 709.6h1.9M64.9 712h1.9M65.2 712.6h1.9M65.4 703.9h1.9M65.6 695.2h1.9M65.9 682.1h1.9M66.1 695.5h1.9M66.3 705.5h1.9M66.6 698.3h1.9M66.8 713.1h1.9M67 692h1.9M67.3 708h1.9M67.5 715.9h1.9M67.7 692.9h1.9M68 700.3h1.9M68.2 701.7h1.9M68.4 717h1.9M68.7 713h1.9M68.9 707h1.9M69.2 710.2h1.9M69.4 698.1h1.9M69.6 688h1.9M69.9 701.6h1.9M70.1 700h1.9M70.3 702.1h1.9M70.6 712h1.9M70.8 721.6h1.9M71 720.1h1.9M71.3 713.3h1.9M71.5 696.4h1.9M71.7 694.2h1.9M72 709h1.9M72.2 701.7h1.9M72.4 699.3h1.9M72.7 702.5h1.9M72.9 699.3h1.9M73.1 699.6h1.9M73.4 699.6h1.9M73.6 707.4h1.9M73.8 689.8h1.9M74.1 703.4h1.9M74.3 703.9h1.9M74.5 703h1.9M74.8 722h1.9M75 689.8h1.9M75.2 696.9h1.9M75.5 701.6h1.9M75.7 706.4h1.9M75.9 708.4h1.9M76.2 697h1.9M76.4 710.5h1.9M76.6 700.9h1.9M76.9 700.3h1.9M77.1 701h1.9M77.3 712.6h1.9M77.6 697.9h1.9M77.8 715.8h1.9M78.1 714.6h1.9M78.3 704.3h1.9M78.5 720h1.9M78.8 707.6h1.9M79 701.4h1.9M79.2 700.8h1.9M79.5 699.3h1.9M79.7 697.6h1.9M79.9 692.2h1.9M80.2 700.7h1.9M80.4 699h1.9M80.6 698.8h1.9M80.9 699.9h1.9M81.1 686.8h1.9M81.3 710.4h1.9M81.6 695h1.9M81.8 704.8h1.9M82 706.8h1.9M82.3 696.1h1.9M82.5 712.2h1.9M82.7 701.9h1.9M83 711.4h1.9M83.2 705.5h1.9M83.4 716.4h1.9M83.7 707.2h1.9M83.9 721.2h1.9M84.1 728.1h1.9M84.4 719.7h1.9M84.6 716.6h1.9M84.8 703.8h1.9M85.1 697.8h1.9M85.3 705.4h1.9M85.5 694.9h1.9M85.8 702.4h1.9M86 710.7h1.9M86.2 703.5h1.9M86.5 703.2h1.9M86.7 692h1.9M87 700.6h1.9M87.2 703.4h1.9M87.4 699.1h1.9M87.7 702.2h1.9M87.9 695.5h1.9M88.1 705.1h1.9M88.4 704.6h1.9M88.6 702h1.9M88.8 691.2h1.9M89.1 701.6h1.9M89.3 707.9h1.9M89.5 712.1h1.9M89.8 708.5h1.9M90 713.5h1.9M90.2 692.7h1.9M90.5 689.5h1.9M90.7 702.2h1.9M90.9 713.3h1.9M91.2 695.5h1.9M91.4 696.2h1.9M91.6 679.9h1.9M91.9 692.2h1.9M92.1 693.9h1.9M92.3 704.2h1.9M92.6 711.7h1.9M92.8 708.9h1.9M93 717h1.9M93.3 707.2h1.9M93.5 710.1h1.9M93.7 705.6h1.9M94 707.4h1.9M94.2 699.5h1.9M94.4 702.1h1.9M94.7 697.8h1.9M94.9 707.4h1.9M95.1 698.1h1.9M95.4 708.6h1.9M95.6 719.9h1.9M95.9 721.8h1.9M96.1 709.1h1.9M96.3 714.7h1.9M96.6 710h1.9M96.8 708h1.9M97 698.9h1.9M97.3 690.7h1.9M97.5 691.2h1.9M97.7 695.7h1.9M98 699.5h1.9M98.2 693.6h1.9M98.4 708.8h1.9M98.7 705.2h1.9M98.9 700.9h1.9M99.1 707.2h1.9M99.4 712.9h1.9M99.6 700.7h1.9M99.8 705.2h1.9M100.1 716.5h1.9M100.3 698.8h1.9M100.5 693.7h1.9M100.8 691.1h1.9M101 714.5h1.9M101.2 714.8h1.9M101.5 711.6h1.9M101.7 695.6h1.9M101.9 698.8h1.9M102.2 711.6h1.9M102.4 702.6h1.9M102.6 705.1h1.9M102.9 701.2h1.9M103.1 704.9h1.9M103.3 707.4h1.9M103.6 720.4h1.9M103.8 736.2h1.9M104 711.7h1.9M104.3 701.7h1.9M104.5 700h1.9M104.8 696h1.9M105 713.4h1.9M105.2 704.8h1.9M105.5 698h1.9M105.7 696.3h1.9M105.9 702.1h1.9M106.2 702.5h1.9M106.4 705h1.9M106.6 703.3h1.9M106.9 696.6h1.9M107.1 706.2h1.9M107.3 728.5h1.9M107.6 696.6h1.9M107.8 700h1.9M108 695.8h1.9M108.3 713h1.9M108.5 702.9h1.9M108.7 699.2h1.9M109 719.2h1.9M109.2 700.2h1.9M109.4 710.8h1.9M109.7 707.8h1.9M109.9 706.4h1.9M110.1 699.1h1.9M110.4 705.2h1.9M110.6 698.5h1.9M110.8 693h1.9M111.1 697.3h1.9M111.3 706h1.9M111.5 689.6h1.9M111.8 692.2h1.9M112 698.1h1.9M112.2 709.6h1.9M112.5 708.5h1.9M112.7 696.6h1.9M112.9 705h1.9M113.2 695h1.9M113.4 701.3h1.9M113.6 709.1h1.9M113.9 706h1.9M114.1 712.5h1.9M114.4 696.4h1.9M114.6 697.7h1.9M114.8 717h1.9M115.1 714.7h1.9M115.3 689.2h1.9M115.5 707h1.9M115.8 719.2h1.9M116 697.8h1.9M116.2 698.2h1.9M116.5 712.8h1.9M116.7 708.4h1.9M116.9 706.6h1.9M117.2 715h1.9M117.4 706.6h1.9M117.6 693.7h1.9M117.9 704.1h1.9M118.1 706.5h1.9M118.3 695.2h1.9M118.6 704.7h1.9M118.8 699.7h1.9M119 699.4h1.9M119.3 710.6h1.9M119.5 714.6h1.9M119.7 704.3h1.9M120 706.3h1.9M120.2 710.5h1.9M120.4 694.7h1.9M120.7 700.7h1.9M120.9 702.2h1.9M121.1 701h1.9M121.4 703.2h1.9M121.6 697.7h1.9M121.8 707.8h1.9M122.1 711h1.9M122.3 713.4h1.9M122.5 708.7h1.9M122.8 705.7h1.9M123 694h1.9M123.3 709.2h1.9M123.5 707.3h1.9M123.7 707.8h1.9M124 689.6h1.9M124.2 718.7h1.9M124.4 714.4h1.9M124.7 706.8h1.9M124.9 690.4h1.9M125.1 708.3h1.9M125.4 702.2h1.9M125.6 698.1h1.9M125.8 704.9h1.9M126.1 704.2h1.9M126.3 712h1.9M126.5 704.9h1.9M126.8 707.8h1.9M127 711.1h1.9M127.2 712.4h1.9M127.5 700.1h1.9M127.7 709.6h1.9M127.9 705.8h1.9M128.2 702.1h1.9M128.4 699.2h1.9M128.6 715h1.9M128.9 706.6h1.9M129.1 695.7h1.9M129.3 695.9h1.9M129.6 688.1h1.9M129.8 692.6h1.9M130 710.9h1.9M130.3 706h1.9M130.5 708.6h1.9M130.7 694.6h1.9M131 706.2h1.9M131.2 716.9h1.9M131.4 721h1.9M131.7 705.8h1.9M131.9 698.9h1.9M132.2 708.7h1.9M132.4 724.9h1.9M132.6 710.2h1.9M132.9 703.5h1.9M133.1 695h1.9M133.3 711.3h1.9M133.6 722.7h1.9M133.8 716.3h1.9M134 704.7h1.9M134.3 724.3h1.9M134.5 708.9h1.9M134.7 700.6h1.9M135 698.5h1.9M135.2 712.1h1.9M135.4 710.3h1.9M135.7 713.3h1.9M135.9 708.5h1.9M136.1 716.6h1.9M136.4 709.6h1.9M136.6 709.2h1.9M136.8 702h1.9M137.1 702h1.9M137.3 702.2h1.9M137.5 707.2h1.9M137.8 685.8h1.9M138 698.9h1.9M138.2 703.4h1.9M138.5 688.1h1.9M138.7 698.4h1.9M138.9 701.6h1.9M139.2 693.2h1.9M139.4 671.9h1.9M139.6 683h1.9M139.9 706.8h1.9M140.1 698.9h1.9M140.3 705.9h1.9M140.6 704h1.9M140.8 709.9h1.9M141.1 699.1h1.9M141.3 702.5h1.9M141.5 700.7h1.9M141.8 694.9h1.9M142 697.8h1.9M142.2 703.7h1.9M142.5 690.6h1.9M142.7 712.4h1.9M142.9 721.5h1.9M143.2 699.4h1.9M143.4 713h1.9M143.6 706.4h1.9M143.9 702.8h1.9M144.1 714.9h1.9M144.3 706.6h1.9M144.6 694.9h1.9M144.8 698.8h1.9M145 692.1h1.9M145.3 692.4h1.9M145.5 701.5h1.9M145.7 708.8h1.9M146 701.9h1.9M146.2 712.9h1.9M146.4 708.7h1.9M146.7 697.5h1.9M146.9 712.7h1.9M147.1 699.7h1.9M147.4 711.8h1.9M147.6 702.6h1.9M147.8 701.1h1.9M148.1 704.8h1.9M148.3 707.4h1.9M148.5 707.7h1.9M148.8 707.8h1.9M149 708.2h1.9M149.2 698.1h1.9M149.5 704.6h1.9M149.7 689.9h1.9M150 699.3h1.9M150.2 701.4h1.9M150.4 707.4h1.9M150.7 701.5h1.9M150.9 704.5h1.9M151.1 700.3h1.9M151.4 708.9h1.9M151.6 698.3h1.9M151.8 711.6h1.9M152.1 709.2h1.9M152.3 706.2h1.9M152.5 711h1.9M152.8 708.3h1.9M153 704.6h1.9M153.2 703.4h1.9M153.5 711.6h1.9M153.7 704.6h1.9M153.9 713.2h1.9M154.2 704.1h1.9M154.4 719.1h1.9M154.6 703.7h1.9M154.9 692.9h1.9M155.1 697.3h1.9M155.3 693.6h1.9M155.6 697.9h1.9M155.8 682.1h1.9M156 704.7h1.9M156.3 693.5h1.9M156.5 702.3h1.9M156.7 699.4h1.9M157 703.6h1.9M157.2 709.2h1.9M157.4 711.7h1.9M157.7 717.9h1.9M157.9 706.6h1.9M158.1 697.3h1.9M158.4 704.9h1.9M158.6 696.5h1.9M158.9 700.5h1.9M159.1 703.5h1.9M159.3 712.8h1.9M159.6 707.6h1.9M159.8 699.6h1.9M160 704.1h1.9M160.3 695.7h1.9M160.5 701.8h1.9M160.7 702.9h1.9M161 710.5h1.9M161.2 705.5h1.9M161.4 712.5h1.9M161.7 703h1.9M161.9 699.8h1.9M162.1 696.2h1.9M162.4 696.3h1.9M162.6 709.5h1.9M162.8 700.6h1.9M163.1 707.2h1.9M163.3 714.1h1.9M163.5 708.1h1.9M163.8 702.5h1.9M164 708.6h1.9M164.2 700.5h1.9M164.5 702.5h1.9M164.7 706.9h1.9M164.9 691.5h1.9M165.2 702.3h1.9M165.4 707.8h1.9M165.6 699.3h1.9M165.9 714.8h1.9M166.1 703.7h1.9M166.3 706.8h1.9M166.6 697.2h1.9M166.8 701.3h1.9M167 705h1.9M167.3 712.4h1.9M167.5 709h1.9M167.8 709.1h1.9M168 711.9h1.9M168.2 698.2h1.9M168.5 704.6h1.9M168.7 719.2h1.9M168.9 718.1h1.9M169.2 710.7h1.9M169.4 705.4h1.9M169.6 703.7h1.9M169.9 694.9h1.9M170.1 683.9h1.9M170.3 702.8h1.9M170.6 709.7h1.9M170.8 708.2h1.9M171 693.9h1.9M171.3 690.5h1.9M171.5 698.8h1.9M171.7 705h1.9M172 691.4h1.9M172.2 709.3h1.9M172.4 704.6h1.9M172.7 706h1.9M172.9 717h1.9M173.1 700.4h1.9M173.4 708.4h1.9M173.6 709.6h1.9M173.8 703.3h1.9M174.1 723.4h1.9M174.3 709.8h1.9M174.5 704.7h1.9M174.8 697.8h1.9M175 695.5h1.9M175.2 707.7h1.9M175.5 696h1.9M175.7 694.5h1.9M175.9 702h1.9M176.2 688.6h1.9M176.4 706h1.9M176.6 709.6h1.9M176.9 709.7h1.9M177.1 702h1.9M177.4 712.7h1.9M177.6 698.2h1.9M177.8 709.5h1.9M178.1 708.9h1.9M178.3 701.8h1.9M178.5 690.5h1.9M178.8 699.4h1.9M179 695.3h1.9M179.2 704.4h1.9M179.5 705.3h1.9M179.7 687.7h1.9M179.9 698.8h1.9M180.2 698.4h1.9M180.4 699h1.9M180.6 699.6h1.9M180.9 701.2h1.9M181.1 703.8h1.9M181.3 693.1h1.9M181.6 682.1h1.9M181.8 715.4h1.9M182 692.1h1.9M182.3 681.9h1.9M182.5 687.4h1.9M182.7 703.1h1.9M183 692.4h1.9M183.2 696.9h1.9M183.4 692.6h1.9M183.7 710.2h1.9M183.9 697.8h1.9M184.1 702h1.9M184.4 696.5h1.9M184.6 702.3h1.9M184.8 720.7h1.9M185.1 703.2h1.9M185.3 700.1h1.9M185.5 710h1.9M185.8 710.6h1.9M186 696.6h1.9M186.3 698.3h1.9M186.5 698h1.9M186.7 711.7h1.9M187 704.8h1.9M187.2 706.6h1.9M187.4 710.9h1.9M187.7 725.1h1.9M187.9 695.5h1.9M188.1 694.4h1.9M188.4 704.6h1.9M188.6 712.9h1.9M188.8 706.4h1.9M189.1 714.2h1.9M189.3 704.5h1.9M189.5 704.1h1.9M189.8 710.9h1.9M190 715.1h1.9M190.2 715.7h1.9M190.5 708.2h1.9M190.7 719.4h1.9M190.9 703.6h1.9M191.2 712.5h1.9M191.4 701.9h1.9M191.6 699.7h1.9M191.9 706.3h1.9M192.1 706h1.9M192.3 696.1h1.9M192.6 715.2h1.9M192.8 700.3h1.9M193 723.1h1.9M193.3 716.5h1.9M193.5 706.2h1.9M193.7 702.4h1.9M194 711.7h1.9M194.2 713.8h1.9M194.4 707.5h1.9M194.7 694.6h1.9M194.9 704.4h1.9M195.2 703.3h1.9M195.4 702.4h1.9M195.6 697.2h1.9M195.9 705.4h1.9M196.1 684.1h1.9M196.3 692h1.9M196.6 686.8h1.9M196.8 691.7h1.9M197 693h1.9M197.3 701.2h1.9M197.5 693.3h1.9M197.7 706.6h1.9M198 692h1.9M198.2 718.1h1.9M198.4 719.2h1.9M198.7 717h1.9M198.9 706.9h1.9M199.1 712.5h1.9M199.4 705.4h1.9M199.6 716.3h1.9M199.8 708h1.9M200.1 713.5h1.9M200.3 713.7h1.9M200.5 710.4h1.9M200.8 688.1h1.9M201 705.8h1.9M201.2 705.1h1.9M201.5 702.5h1.9M201.7 692.5h1.9M201.9 697.2h1.9M202.2 714.1h1.9M202.4 715.7h1.9M202.6 710.9h1.9M202.9 702.4h1.9M203.1 708.6h1.9M203.3 705.1h1.9M203.6 701.5h1.9M203.8 700.7h1.9M204.1 710.8h1.9M204.3 707.5h1.9M204.5 716h1.9M204.8 712.9h1.9M205 715.1h1.9M205.2 693.1h1.9M205.5 704.9h1.9M205.7 697.1h1.9M205.9 682h1.9M206.2 692.7h1.9M206.4 689.2h1.9M206.6 679.5h1.9M206.9 695h1.9M207.1 698.8h1.9M207.3 699.7h1.9M207.6 695.9h1.9M207.8 692.4h1.9M208 693.2h1.9M208.3 697.2h1.9M208.5 708.3h1.9M208.7 699h1.9M209 702.4h1.9M209.2 701.7h1.9M209.4 695.4h1.9M209.7 709.8h1.9M209.9 717.2h1.9M210.1 705.2h1.9M210.4 712.4h1.9M210.6 707.3h1.9M210.8 715.8h1.9M211.1 704.7h1.9M211.3 693.1h1.9M211.5 706.2h1.9M211.8 709.1h1.9M212 703.1h1.9M212.2 700.9h1.9M212.5 708.5h1.9M212.7 716.9h1.9M213 721.2h1.9M213.2 715.8h1.9M213.4 703.4h1.9M213.7 722.6h1.9M213.9 713.6h1.9M214.1 717.2h1.9M214.4 711.4h1.9M214.6 706.9h1.9M214.8 705.7h1.9M215.1 702.7h1.9M215.3 718h1.9M215.5 710h1.9M215.8 709.1h1.9M216 702h1.9M216.2 707.9h1.9M216.5 703h1.9M216.7 707.3h1.9M216.9 709.2h1.9M217.2 709.5h1.9M217.4 710.4h1.9M217.6 705.9h1.9M217.9 699.8h1.9M218.1 714.8h1.9M218.3 709.3h1.9M218.6 708h1.9M218.8 700.9h1.9M219 695.7h1.9M219.3 700.5h1.9M219.5 694.6h1.9M219.7 699.2h1.9M220 694.1h1.9M220.2 701.4h1.9M220.4 708.8h1.9M220.7 695.5h1.9M220.9 706.6h1.9M221.1 712.1h1.9M221.4 702.6h1.9M221.6 694h1.9M221.9 738.9h1.9M222.1 697.4h1.9M222.3 712.9h1.9M222.6 699.4h1.9M222.8 706.6h1.9M223 692.3h1.9M223.3 709.9h1.9M223.5 702.4h1.9M223.7 695.9h1.9M224 701.8h1.9M224.2 707.9h1.9M224.4 691.8h1.9M224.7 698.1h1.9M224.9 708.2h1.9M225.1 713.5h1.9M225.4 706.3h1.9M225.6 700.4h1.9M225.8 701.5h1.9M226.1 695.4h1.9M226.3 711.9h1.9M226.5 702.6h1.9M226.8 704.2h1.9M227 704.7h1.9M227.2 695.7h1.9M227.5 704.9h1.9M227.7 689.5h1.9M227.9 686.1h1.9M228.2 699.5h1.9M228.4 686.5h1.9M228.6 680.4h1.9M228.9 686.5h1.9M229.1 701.3h1.9M229.3 704h1.9M229.6 712.3h1.9M229.8 690.4h1.9M230 696.9h1.9M230.3 712.1h1.9M230.5 704.3h1.9M230.7 708.1h1.9M231 716.2h1.9M231.2 704.8h1.9M231.5 706.2h1.9M231.7 706.4h1.9M231.9 693.1h1.9M232.2 700.9h1.9M232.4 693h1.9M232.6 697.2h1.9M232.9 689.8h1.9M233.1 709.7h1.9M233.3 697h1.9M233.6 696.2h1.9M233.8 693.4h1.9M234 691.9h1.9M234.3 708.3h1.9M234.5 691.4h1.9M234.7 687.2h1.9M235 693.7h1.9M235.2 692h1.9M235.4 694.7h1.9M235.7 705.4h1.9M235.9 700.6h1.9M236.1 708.1h1.9M236.4 702.6h1.9M236.6 700.7h1.9M236.8 698.7h1.9M237.1 694.4h1.9M237.3 688.3h1.9M237.5 704.1h1.9M237.8 707.5h1.9M238 704h1.9M238.2 707.8h1.9M238.5 703.5h1.9M238.7 706.3h1.9M238.9 692h1.9M239.2 694.8h1.9M239.4 693.1h1.9M239.6 701.2h1.9M239.9 711.6h1.9M240.1 702.4h1.9M240.4 701.8h1.9M240.6 689.5h1.9M240.8 699.6h1.9M241.1 695.5h1.9M241.3 692.9h1.9M241.5 715.6h1.9M241.8 710.7h1.9M242 708.5h1.9M242.2 697.8h1.9M242.5 696.4h1.9M242.7 709.6h1.9M242.9 703.8h1.9M243.2 700.3h1.9M243.4 706.2h1.9M243.6 694.6h1.9M243.9 711.1h1.9M244.1 714h1.9M244.3 696.6h1.9M244.6 703h1.9M244.8 698.7h1.9M245 693.4h1.9M245.3 705.4h1.9M245.5 707.6h1.9M245.7 699h1.9M246 695.6h1.9M246.2 700.9h1.9M246.4 699.2h1.9M246.7 704.2h1.9M246.9 708.6h1.9M247.1 714.7h1.9M247.4 694.1h1.9M247.6 706.4h1.9M247.8 686.4h1.9M248.1 691.6h1.9M248.3 699.3h1.9M248.5 690.7h1.9M248.8 707.3h1.9M249 710.8h1.9M249.3 715.3h1.9M249.5 706.3h1.9M249.7 693.8h1.9M250 702h1.9M250.2 701.9h1.9M250.4 692.2h1.9M250.7 704.1h1.9M250.9 702.9h1.9M251.1 708.5h1.9M251.4 712.5h1.9M251.6 706.1h1.9M251.8 717.8h1.9M252.1 710.8h1.9M252.3 711.2h1.9M252.5 691.5h1.9M252.8 703.5h1.9M253 695.8h1.9M253.2 695.5h1.9M253.5 708.1h1.9M253.7 719.4h1.9M253.9 723.5h1.9M254.2 701h1.9M254.4 702.9h1.9M254.6 698.2h1.9M254.9 703.2h1.9M255.1 703.7h1.9M255.3 704.6h1.9M255.6 704.6h1.9M255.8 694.7h1.9M256 705.7h1.9M256.3 704.6h1.9M256.5 700.7h1.9M256.7 715.1h1.9M257 695.6h1.9M257.2 699.2h1.9M257.4 708.2h1.9M257.7 705.5h1.9M257.9 714h1.9M258.2 694.1h1.9M258.4 720.2h1.9M258.6 712h1.9M258.9 703h1.9M259.1 698.6h1.9M259.3 699.3h1.9M259.6 692.4h1.9M259.8 692.6h1.9M260 699.4h1.9M260.3 700.2h1.9M260.5 705.6h1.9M260.7 719.8h1.9M261 714.5h1.9M261.2 714.9h1.9M261.4 714.1h1.9M261.7 711.5h1.9M261.9 704.6h1.9M262.1 711.4h1.9M262.4 706.3h1.9M262.6 699.6h1.9M262.8 695.3h1.9M263.1 710.7h1.9M263.3 703.4h1.9M263.5 699.4h1.9M263.8 694.1h1.9M264 711.3h1.9M264.2 709.2h1.9M264.5 688h1.9M264.7 702.5h1.9M264.9 699.6h1.9M265.2 685.4h1.9M265.4 694.6h1.9M265.6 695.8h1.9M265.9 698.7h1.9M266.1 704.3h1.9M266.3 703.6h1.9M266.6 694.7h1.9M266.8 714.2h1.9M267.1 710.1h1.9M267.3 714.1h1.9M267.5 714.7h1.9M267.8 710.3h1.9M268 698h1.9M268.2 698.7h1.9M268.5 702.1h1.9M268.7 707.5h1.9M268.9 706h1.9M269.2 708.2h1.9M269.4 719.4h1.9M269.6 709.8h1.9M269.9 709.1h1.9M270.1 706h1.9M270.3 699h1.9M270.6 702.1h1.9M270.8 703.8h1.9M271 695.1h1.9M271.3 706h1.9M271.5 694.1h1.9M271.7 713.4h1.9M272 707.2h1.9M272.2 709.5h1.9M272.4 693.4h1.9M272.7 703.7h1.9M272.9 700.2h1.9M273.1 701.8h1.9M273.4 694h1.9M273.6 695.6h1.9M273.8 690.2h1.9M274.1 703.1h1.9M274.3 702.5h1.9M274.5 706.5h1.9M274.8 710.9h1.9M275 697h1.9M275.2 711.6h1.9M275.5 719.6h1.9M275.7 677.2h1.9M276 713.1h1.9M276.2 689.2h1.9M276.4 703h1.9M276.7 707.3h1.9M276.9 694.5h1.9M277.1 702.7h1.9M277.4 701.8h1.9M277.6 706.6h1.9M277.8 704.1h1.9M278.1 706.6h1.9M278.3 702.7h1.9M278.5 692.4h1.9M278.8 705.2h1.9M279 705.3h1.9M279.2 701.8h1.9M279.5 708.2h1.9M279.7 709.1h1.9M279.9 715.2h1.9M280.2 714.9h1.9M280.4 714.6h1.9M280.6 692.1h1.9M280.9 716h1.9M281.1 712.8h1.9M281.3 712.8h1.9M281.6 726.4h1.9M281.8 721.4h1.9M282 716.8h1.9M282.3 711h1.9M282.5 708.5h1.9M282.7 698.7h1.9M283 687.8h1.9M283.2 688.3h1.9M283.4 707.9h1.9M283.7 697.6h1.9M283.9 703.2h1.9M284.1 705.7h1.9M284.4 715.1h1.9M284.6 701.1h1.9M284.9 698.8h1.9M285.1 710.1h1.9M285.3 718.4h1.9M285.6 696.6h1.9M285.8 697.3h1.9M286 692.6h1.9M286.3 697.6h1.9M286.5 701.3h1.9M286.7 700.1h1.9M287 706.1h1.9M287.2 700.9h1.9M287.4 720.7h1.9M287.7 723.3h1.9M287.9 713h1.9M288.1 703.9h1.9M288.4 708.6h1.9M288.6 713.4h1.9M288.8 712.2h1.9M289.1 713h1.9M289.3 712.6h1.9M289.5 714.7h1.9M289.8 714.1h1.9M290 707.3h1.9M290.2 720.9h1.9M290.5 716.1h1.9M290.7 700.9h1.9M290.9 705.4h1.9M291.2 703.9h1.9M291.4 704.3h1.9M291.6 701.8h1.9M291.9 710.1h1.9M292.1 704.2h1.9M292.3 707.4h1.9M292.6 715.7h1.9M292.8 700.2h1.9M293 702.2h1.9M293.3 707.5h1.9M293.5 708.1h1.9M293.7 712.1h1.9M294 695.1h1.9M294.2 687.6h1.9M294.5 705.9h1.9M294.7 700.5h1.9M294.9 694.2h1.9M295.2 695.1h1.9M295.4 692h1.9M295.6 695.4h1.9M295.9 699.3h1.9M296.1 709.2h1.9M296.3 719h1.9M296.6 701h1.9M296.8 707h1.9M297 698.7h1.9M297.3 692.9h1.9M297.5 701h1.9M297.7 686.7h1.9M298 686.1h1.9M298.2 701.6h1.9M298.4 702.4h1.9M298.7 707.3h1.9M298.9 697.9h1.9M299.1 706.4h1.9M299.4 697.5h1.9M299.6 710h1.9M299.8 708.6h1.9M300.1 708.5h1.9M300.3 690.1h1.9M300.5 694.9h1.9M300.8 700.1h1.9M301 686.7h1.9M301.2 703.9h1.9M301.5 702.4h1.9M301.7 717.7h1.9M301.9 705h1.9M302.2 705.9h1.9M302.4 709.9h1.9M302.6 704h1.9M302.9 697.5h1.9M303.1 700.1h1.9M303.4 716.8h1.9M303.6 712.2h1.9M303.8 712.1h1.9M304.1 714.7h1.9M304.3 711.1h1.9M304.5 707.7h1.9M304.8 704.7h1.9M305 705.3h1.9M305.2 706.8h1.9M305.5 715.3h1.9M305.7 701.8h1.9M305.9 690.2h1.9M306.2 703.5h1.9M306.4 717.6h1.9M306.6 712.2h1.9M306.9 706.9h1.9M307.1 706.3h1.9M307.3 695.6h1.9M307.6 717.5h1.9" stroke="#838383" stroke-width="1.85" fill="none"/>
<rect x="53.8" y="702" width="254" height="4.6" fill="none" stroke="#000" stroke-width="1"/>
<path d="M53.8 704.2H56.1M62 704.2H91.3M101.8 704.2H146.3M152.2 704.2H180.3M185 704.2H308.6" stroke="#00ff00" stroke-width="2.6"/>
<path d="M134.4 698.5h2.3M91.7 705.3h2.3M96.2 682.7h2.3M162.4 705.2h2.3M109.7 692.2h2.3M65.4 710.6h2.3M104.5 695.9h2.3M72 694.2h2.3M112.7 691h2.3M147.8 697.9h2.3M76.5 705h2.3M64.9 711.5h2.3M169.6 692.8h2.3M100.2 710h2.3M72.8 710h2.3M124.8 709.6h2.3M65.3 703.9h2.3M58.5 706h2.3M95.5 706.6h2.3M111.2 702.7h2.3M79.1 703.3h2.3M96.6 678h2.3M161.9 706.3h2.3M76.2 707.3h2.3M96.3 715.5h2.3M88 689.5h2.3M129.8 705.6h2.3M63.3 709.9h2.3M65.9 713.8h2.3M152.8 714.4h2.3M54.4 703.7h2.3M123.3 704.7h2.3M156.4 691.5h2.3M54.4 708.6h2.3M106.3 700.4h2.3M158.3 713.1h2.3M63.6 694.9h2.3M83.5 693.9h2.3M79.4 705.1h2.3M103.3 700.6h2.3M128.9 704.4h2.3M126.7 706.4h2.3M67.7 703.5h2.3M57.1 704.9h2.3M85.9 704.3h2.3M98.7 681.2h2.3M63.9 694.4h2.3M64.7 705.6h2.3M139.7 704.5h2.3M169.5 704.9h2.3M170.8 707.4h2.3M56.1 703.9h2.3M97.3 706.3h2.3M145.3 704.8h2.3M83.3 710.6h2.3M161.6 709.5h2.3M155.3 700.3h2.3M86.1 706.2h2.3M97.8 682h2.3M53.2 705.4h2.3M114.2 709.3h2.3M85.9 705.4h2.3M82.8 696.1h2.3M55.1 702.9h2.3M62.8 700.9h2.3M143.8 705.2h2.3M151.6 708.4h2.3M133.3 725.5h2.3M82.5 701.4h2.3M83.7 711.3h2.3M152.5 704.1h2.3M58.4 704.5h2.3M155.6 707.6h2.3M78 697.6h2.3M101.8 698.7h2.3M138.4 704.2h2.3M76.5 699.3h2.3M138.8 710.2h2.3M83.4 689.6h2.3M87.8 712.8h2.3M176.8 703.6h2.3M104.9 692.1h2.3M147.3 702.1h2.3M65.2 682.1h2.3M161.9 703.8h2.3M136.2 715.9h2.3M55.1 704.7h2.3M64.8 705.3h2.3M128.5 697.7h2.3M69.7 730.2h2.3M79.3 701.8h2.3M106.6 704.9h2.3M101.8 703.6h2.3M136.7 706.3h2.3M156.4 688.8h2.3M54.2 699h2.3M145.1 710h2.3M61.2 715h2.3M91.7 704.8h2.3M65.8 694.1h2.3M204 702.9h2.3M217 690.3h2.3M185.1 688.8h2.3M276.9 710.5h2.3M286 705.6h2.3M199.8 690.7h2.3M254.4 693.8h2.3M213.3 694.5h2.3M266.5 695.9h2.3M204.3 704.7h2.3M297.1 688.9h2.3M223.3 703.5h2.3M234.4 708.1h2.3M241.8 707.6h2.3M251.1 708.6h2.3M298.1 697.2h2.3M206.6 702.6h2.3M195.3 705.6h2.3M262.9 698.3h2.3M202.9 706.8h2.3M266.6 698.7h2.3M208.8 697.3h2.3M249.1 698.4h2.3M288.9 714.2h2.3M234.3 708.9h2.3M226.2 704.6h2.3M208.9 692.1h2.3M213.1 705.6h2.3M278.8 706.9h2.3M203.9 716h2.3M224.1 714.2h2.3M229.6 696.8h2.3M300.1 704.8h2.3M250.1 702.8h2.3M266.2 703.8h2.3M193.6 714h2.3M264.3 697h2.3M276.1 704.3h2.3M254.9 725.4h2.3M298.7 688.1h2.3M289.4 697.4h2.3M244.1 687.3h2.3M231.6 698.3h2.3M289.9 687.5h2.3M306.5 705h2.3M189.2 689.5h2.3M202.8 703.1h2.3M191.2 717.4h2.3M267.3 703.9h2.3M257.5 698.4h2.3M83.1 675.6h2.3M69 677.8h2.3M99.5 671.2h2.3" stroke="#ff0000" stroke-width="2.3" fill="none"/>
</g>
<line x1="180.3" y1="706.5" x2="180.3" y2="753.3" stroke="#000" stroke-width="1.6"/>
<rect x="53.8" y="616.1" width="254" height="175.5" fill="none" stroke="#222" stroke-width="1.1"/>
<path d="M53.8 630.9h2.5M307.8 630.9h-2.5M53.8 667.5h2.5M307.8 667.5h-2.5M53.8 704.2h2.5M307.8 704.2h-2.5M53.8 741h2.5M307.8 741h-2.5M117 616.1v2.5M180.3 616.1v2.5M243.5 616.1v2.5" stroke="#222" stroke-width="1"/>
<text x="49.4" y="636.8" font-size="15.6" class="S" text-anchor="end">10</text>
<text x="49.4" y="673.4" font-size="15.6" class="S" text-anchor="end">5</text>
<text x="49.4" y="710.1" font-size="15.6" class="S" text-anchor="end">0</text>
<text x="49.4" y="746.9" font-size="15.6" class="S" text-anchor="end">−5</text>
<rect x="53.8" y="753.3" width="254" height="38.1" fill="#fff"/>
<clipPath id="ci20"><rect x="53.8" y="753.3" width="254" height="38.1"/></clipPath>
<g clip-path="url(#ci20)">
<line x1="117" y1="756.3" x2="117" y2="791.4" stroke="#3a3a3a" stroke-width="1.1" stroke-dasharray="1 5"/>
<line x1="180.3" y1="756.3" x2="180.3" y2="791.4" stroke="#3a3a3a" stroke-width="1.1" stroke-dasharray="1 5"/>
<line x1="243.5" y1="756.3" x2="243.5" y2="791.4" stroke="#3a3a3a" stroke-width="1.1" stroke-dasharray="1 5"/>
<line x1="59.3" y1="772.4" x2="307.8" y2="772.4" stroke="#3a3a3a" stroke-width="1.1" stroke-dasharray="1 5"/>
<path d="M278.7 761.2h1.5M135.4 767.5h1.5M124.2 767.3h1.5M205.5 777.8h1.5M117.3 756.6h1.5M92.3 766.4h1.5M108.6 787.7h1.5M106.1 784h1.5M65.1 757.9h1.5M115.6 762h1.5M266.3 782h1.5M294.7 783.2h1.5M69.9 770.5h1.5M180.1 756.9h1.5M163.4 778.7h1.5M125.2 769.9h1.5M276.1 758.4h1.5M109.6 781.9h1.5M208.2 771.1h1.5M194.4 775.4h1.5M163.9 768.7h1.5M111.7 772.7h1.5M301.2 773.5h1.5M221.4 790.8h1.5M151.8 776.6h1.5M191.9 788.5h1.5M204.1 769.4h1.5M230 775.7h1.5M103.4 768.1h1.5M281.7 780.2h1.5M298.1 788.4h1.5M146.6 766.5h1.5M286 785.8h1.5M74 771.4h1.5M88.3 761.1h1.5M160.7 780.8h1.5M227.9 755.2h1.5M55 765.1h1.5M283.8 780.9h1.5M133.6 769.1h1.5M60.3 757.9h1.5M266.1 773.5h1.5M260 785.6h1.5M222 773.1h1.5M158.1 786.4h1.5M123.7 764.4h1.5M171.7 761h1.5M146.6 766.7h1.5M282.6 790.5h1.5M280.1 768h1.5M230.8 787.6h1.5M57 765.9h1.5M269.1 776.8h1.5M104.1 782.3h1.5M91.8 759.6h1.5M67.1 789.3h1.5M288.9 787.3h1.5M291.8 762.8h1.5M128.1 767h1.5M131.7 790.4h1.5M74 763.5h1.5M301.7 758.4h1.5M174 763.3h1.5M285.3 785.8h1.5M279.1 765.8h1.5M242.8 757.7h1.5M244.5 760.7h1.5M294 784.2h1.5M271.9 779h1.5M168 782.6h1.5M195.9 760.5h1.5M187.8 783.2h1.5M75.3 785.4h1.5M89.3 766.2h1.5M278 763.6h1.5M183.5 754.7h1.5M64.6 774.9h1.5M179.1 785.5h1.5M201.8 778.5h1.5M240.8 768h1.5M239.5 774.1h1.5M177.7 777.7h1.5M96.1 761.6h1.5M302.2 776.1h1.5M290.5 785.8h1.5M212.4 784.4h1.5M86.3 782.6h1.5M219.5 757.4h1.5M96.2 771.7h1.5M102.8 779h1.5M288.6 765.8h1.5M69.6 774.5h1.5M222.6 757.7h1.5M158.3 765.7h1.5M296.8 770.8h1.5M140 769.8h1.5M236.9 757.6h1.5M253.2 778.5h1.5M115.1 768.4h1.5M184.5 774.1h1.5M118.3 769.8h1.5M306.1 766.2h1.5M89.4 777.5h1.5M190.2 773.9h1.5M200.3 771.3h1.5M233.4 754.5h1.5M124.2 773.8h1.5M87.8 787h1.5M174.8 771.7h1.5M110.8 775.6h1.5M125.2 776.5h1.5M127.2 786.2h1.5M116.6 777.2h1.5M91.4 757h1.5M299.4 789.2h1.5M219.1 754.8h1.5M268.3 790.6h1.5M213.6 756.7h1.5M121.5 770.9h1.5M268.7 773.1h1.5M129 772.3h1.5M123.2 763.3h1.5M170.1 761h1.5M303.2 763.2h1.5M65.2 765.8h1.5M201.9 756h1.5M288.6 781.6h1.5M259 768.4h1.5M101.2 755.3h1.5M164.4 778.3h1.5M54.7 767.6h1.5M248.5 785.9h1.5M212.9 769.7h1.5M133.8 773.8h1.5M94.1 776.6h1.5M172.6 767.2h1.5M280 761h1.5M239.5 774.1h1.5M187.4 781.9h1.5M229.1 764.9h1.5M304.8 761.6h1.5M118.2 769.9h1.5M183.3 760h1.5M245 757.8h1.5M87.6 777.8h1.5M197.4 780.5h1.5M296.2 768.9h1.5M163 790.4h1.5M180.5 772.4h1.5M96.6 765.7h1.5M126.6 755.7h1.5M175.1 772.4h1.5M239.8 787.6h1.5M82.7 776.5h1.5M204.9 769.5h1.5M306.8 780.5h1.5M109.3 777.5h1.5M87 781.7h1.5M239.9 789.9h1.5M115.2 766.2h1.5M126 764.5h1.5M154.1 772h1.5M189.1 782.6h1.5M280 786.1h1.5M167.3 770.5h1.5M176.6 763.6h1.5M89.1 765.1h1.5M96.9 773.5h1.5M101.2 781.2h1.5M82.2 777.4h1.5M302.1 759.4h1.5M149.7 781.6h1.5M138.4 777.5h1.5M182.1 783.3h1.5M269.5 758h1.5M147.9 769.6h1.5M134.1 767.8h1.5M147.6 787.2h1.5M158.4 769.6h1.5M98.5 782.3h1.5M72.9 757.3h1.5M281.8 757h1.5M291.8 786.9h1.5M111.7 768.4h1.5M161.4 783.4h1.5M126.8 754.7h1.5M197.9 764.9h1.5M113.9 764.2h1.5M269.8 755.4h1.5M232.1 761.8h1.5M173.1 786.1h1.5M101.1 759.5h1.5M267.2 761.4h1.5M109 775.5h1.5M286.9 783.7h1.5M116.4 780.4h1.5M178.9 764.1h1.5M267.1 784.7h1.5M182.4 770.9h1.5M94.8 771.6h1.5M110.6 763.5h1.5M54.2 782.4h1.5M154.5 758.4h1.5M177.4 779.7h1.5M164.1 770.1h1.5M300.5 764h1.5M177.2 760.2h1.5M201.8 774.5h1.5M228.3 776.9h1.5M75.7 772.6h1.5M197.2 762.4h1.5M214 774.2h1.5M305.1 765.4h1.5M286.4 760.9h1.5M295.5 763.9h1.5M161.7 772h1.5M133.7 785h1.5M203.2 754.7h1.5M230.3 788.2h1.5M258.1 778.7h1.5" stroke="#808080" stroke-width="1.5" fill="none"/>
<path d="M53.8 773.5 54.5 772.7 55.2 774 55.9 773.9 56.6 774.4 57.3 774.1" stroke="#00ff00" stroke-width="2.6" fill="none" stroke-linejoin="round"/>
<path d="M65.5 759.8 66.2 759.2 66.9 760.1 67.6 761.3 68.3 760.4 69 760.3 69.7 760.3 70.4 760.4 71.1 760.1 71.8 759.7 72.5 759.5 73.2 759.6 73.9 760.8 74.6 759.7 75.3 759.2 76 758.2 76.8 758.5 77.5 758.8 78.2 759.2 78.9 759.3 79.6 759.8 80.3 759.5 81 758.3 81.7 759.8 82.4 760.3 83.1 760.3 83.8 759.9 84.5 759.4 85.2 759.5 85.9 760.9 86.6 759.9 87.3 759.1 88 758.5 88.7 759 89.4 758.2 90.1 759.1 90.8 759.6 91.5 760.2 92.2 760.3" stroke="#00ff00" stroke-width="2.6" fill="none" stroke-linejoin="round"/>
<path d="M106.5 765.2 107.2 764.3 107.9 763.8 108.6 764 109.3 764.7 110 763.9 110.7 765.2 111.4 766.1 112.1 766.3 112.8 766.4 113.5 766.8 114.2 765.9 114.9 766.2 115.6 766.4 116.3 766.6 117 766.2 117.7 766.5 118.4 767 119.1 766.7 119.8 766.8 120.5 766.9 121.2 767.9 122 767.9 122.7 769.9 123.4 768.4 124.1 768.9 124.8 769.5 125.5 768.9 126.2 768.8 126.9 768.2 127.6 768.5 128.3 769.3 129 770.6 129.7 770.5 130.4 769.7 131.1 769.7 131.8 770.2 132.5 771.5 133.2 772 133.9 770.5 134.6 771.3 135.3 770.6 136 770.8 136.7 770.7 137.4 771.6 138.1 770.9 138.8 770.9 139.5 770.8 140.2 770.4 140.9 770.6 141.6 770.2 142.3 770.5 143 770 143.7 769.5 144.4 770.8 145.1 771.3 145.8 770.6 146.5 771 147.2 771.2 147.9 769.6 148.7 769.5 149.4 770.2 150.1 770.4 150.8 769.9 151.5 769.5 152.2 770.5 152.9 771.4 153.6 772.5 154.3 773.6 155 772 155.7 771.6 156.4 771.4 157.1 771.2 157.8 772 158.5 772.5 159.2 773.6 159.9 773.6 160.6 774.7 161.3 774.8 162 774.2 162.7 773.9 163.4 774.2 164.1 774.2 164.8 772.8 165.5 772.8 166.2 773 166.9 772.8 167.6 772.3 168.3 772.8 169 770.4 169.7 771.2 170.4 771.5 171.1 771.3 171.8 770.4 172.5 770.2 173.2 769.1 173.9 768.6 174.6 769.3 175.3 768.3 176.1 768.8 176.8 768.6 177.5 768.8 178.2 768.3 178.9 768.4 179.6 769.8 180.3 769.2 181 770.4 181.7 770.8 182.4 769.7 183.1 770 183.8 769.6 184.5 769.4 185.2 770 185.9 769.5 186.6 769.4 187.3 770.3 188 770.2 188.7 771.1 189.4 771.4 190.1 771.1 190.8 770.7 191.5 771.6 192.2 771.6 192.9 771.7 193.6 771.2 194.3 772.3 195 772.1 195.7 771.3 196.4 770.5 197.1 771.9 197.8 772.4 198.5 770.3 199.2 770.4 199.9 771.6 200.6 771.6 201.3 770.9 202 771.6 202.8 770.2 203.5 771.5 204.2 771.2 204.9 770 205.6 769.7 206.3 770.7 207 770.4 207.7 770 208.4 769.9 209.1 770.4 209.8 771.5 210.5 770.6 211.2 771.5 211.9 772.6 212.6 771.1 213.3 771.1 214 771.5 214.7 770.5 215.4 770.1 216.1 770.8 216.8 770.8 217.5 771.1 218.2 771.1 218.9 771.6 219.6 772.7 220.3 773.3 221 772 221.7 772.2 222.4 772.4 223.1 770.9 223.8 771.3 224.5 771.5 225.2 771.3 225.9 770 226.6 770.5 227.3 770.7 228 772.7 228.7 773.1 229.4 773.2 230.2 776.1 230.9 775.4 231.6 773.1 232.3 771.1 233 769.5 233.7 769.2 234.4 767.4 235.1 767.2 235.8 768.1 236.5 768.5 237.2 767.8 237.9 769.4 238.6 770 239.3 769.1 240 769.5 240.7 770.5 241.4 770.1 242.1 770.1 242.8 769.9 243.5 770.5 244.2 770.6 244.9 771.4 245.6 771.3 246.3 771.2 247 770 247.7 770.4 248.4 770.9 249.1 770.6 249.8 770.6 250.5 771.3 251.2 771.2 251.9 771.7 252.6 771.7 253.3 772.1 254 771.8 254.7 771 255.4 770.5 256.1 771 256.9 771.1 257.6 772.2 258.3 771.5 259 771.7 259.7 771 260.4 771.3 261.1 770.8 261.8 770.8 262.5 771.6 263.2 771.9 263.9 771.2 264.6 772.2 265.3 771.4 266 771.5 266.7 772 267.4 773.4 268.1 772.7 268.8 771.8 269.5 773.5 270.2 772.6 270.9 772.1 271.6 771.6 272.3 772.8 273 772.6 273.7 773.2 274.4 772.9 275.1 772.8 275.8 772.8 276.5 773.4 277.2 771.8 277.9 772 278.6 771.7 279.3 770.9 280 771.5 280.7 771.1 281.4 771.5 282.1 771.9 282.8 771.6 283.6 770.7 284.3 771.9 285 772.1 285.7 772.1 286.4 772.3 287.1 771.8 287.8 771.8 288.5 771.6 289.2 771.9 289.9 772 290.6 771.9 291.3 772.4 292 773.2 292.7 772.8 293.4 771.9 294.1 772.6 294.8 772.3 295.5 771.4 296.2 772.5 296.9 772.7 297.6 773.8 298.3 772.4 299 772.9 299.7 773.6 300.4 773.2 301.1 773.1 301.8 773.5 302.5 772 303.2 772.7 303.9 772.3 304.6 771.9 305.3 772.3 306 773.6 306.7 772.9 307.4 771.9 308.1 772.4" stroke="#00ff00" stroke-width="2.6" fill="none" stroke-linejoin="round"/>
<path d="M58.6 777.1h2.2M59.7 780.4h2.2M60.9 782.8h2.2M62.1 781.9h2.2M63.2 783.8h2.2M91.3 765.7h2.2M92.5 767.6h2.2M93.7 769.5h2.2M94.4 770.4h2.2M96 770.9h2.2M97.2 770.4h2.2M99.5 771.4h2.2M111.2 770.4h2.2M123 786.6h2.2M71.4 756.2h2.2M179.2 754.3h2.2M180.3 754.3h2.2M181.5 754.7h2.2M160.4 779h2.2M202.6 772.4h2.2M216.6 767.6h2.2M270.5 767.6h2.2M304.5 770.9h2.2M151.1 766.6h2.2" stroke="#ff0000" stroke-width="2.2" fill="none"/>
</g>
<path d="M57.8 755.2H307.8M57.8 789.5H307.8" stroke="#555" stroke-width="1.2" stroke-dasharray="1 5"/>
<rect x="53.8" y="753.3" width="254" height="38.1" fill="none" stroke="#000" stroke-width="2.1"/>
<text x="49" y="760.7" font-size="14.6" class="S" text-anchor="end" font-weight="bold">0.2</text>
<text x="49" y="777.6" font-size="14.6" class="S" text-anchor="end" font-weight="bold">0</text>
<text x="49" y="795.7" font-size="14.6" class="S" text-anchor="end" font-weight="bold">−0.2</text>
<line x1="117" y1="800" x2="117" y2="893.4" stroke="#3a3a3a" stroke-width="1.1" stroke-dasharray="1 5"/>
<line x1="180.3" y1="800" x2="180.3" y2="893.4" stroke="#3a3a3a" stroke-width="1.1" stroke-dasharray="1 5"/>
<line x1="243.5" y1="800" x2="243.5" y2="893.4" stroke="#3a3a3a" stroke-width="1.1" stroke-dasharray="1 5"/>
<line x1="59" y1="844.9" x2="307.8" y2="844.9" stroke="#6a6aff" stroke-width="1.1" stroke-dasharray="1 5"/>
<path d="M53.8 846.9 54.3 848.2 54.7 848.4 55.2 848.6 55.7 849.2 56.1 848.3 56.6 848.8 57.1 848.7 57.5 849.3 58 849.4 58.5 849.3 59 849.1 59.4 849.8 59.9 849.3 60.4 850.3 60.8 850.5 61.3 849.7 61.8 850.3 62.2 850.8 62.7 850.6 63.2 851 63.6 851.6 64.1 851.8 64.6 851.9 65 851.6 65.5 851.2 66 851.8 66.4 852.7 66.9 852.4 67.4 852.5 67.9 852.2 68.3 851.8 68.8 851.4 69.3 850.7 69.7 851.4 70.2 852.3 70.7 854 71.1 854.3 71.6 854.5 72.1 853.8 72.5 853.4 73 853.5 73.5 852.6 73.9 853.1 74.4 853.6 74.9 853.5 75.3 852.7 75.8 852.5 76.3 852.9 76.8 852.4 77.2 853.9 77.7 854.8 78.2 854.5 78.6 854.9 79.1 855.7 79.6 855.7 80 855.6 80.5 854.9 81 854.3 81.4 854.6 81.9 854.6 82.4 855 82.8 855.7 83.3 856.1 83.8 855.8 84.2 856.5 84.7 855.6 85.2 856.6 85.7 856.6 86.1 855.8 86.6 855.5 87.1 856.8 87.5 856.7 88 856.5 88.5 855.7 88.9 855.8 89.4 856.1 89.9 855.9 90.3 856.1 90.8 856.2 91.3 856.7 91.7 856.8 92.2 856.9 92.7 856.2 93.1 856.1 93.6 856 94.1 855.7 94.6 855.4 95 855.2 95.5 856.1 96 856 96.4 855.6 96.9 854.9 97.4 855.1 97.8 855.5 98.3 854.9 98.8 855.2 99.2 855.9 99.7 855.9 100.2 855.4 100.6 855.4 101.1 855.2 101.6 855 102 854.8 102.5 854.4 103 854.4 103.5 855.3 103.9 855.2 104.4 854.3 104.9 855.5 105.3 855.2 105.8 855.5 106.3 855.8 106.7 855.7 107.2 856.2 107.7 855.6 108.1 854.5 108.6 853.5 109.1 854.1 109.5 853.4 110 853.2 110.5 853.7 110.9 853 111.4 852.6 111.9 851.8 112.3 851.6 112.8 851.3 113.3 851.1 113.8 850.7 114.2 849.6 114.7 848.9 115.2 849.4 115.6 850.2 116.1 849 116.6 849.1 117 848.8 117.5 848.1 118 848.1 118.4 848.3 118.9 848.2 119.4 848.5 119.8 848.2 120.3 847.7 120.8 847.3 121.2 848.3 121.7 848.2 122.2 846.8 122.7 846 123.1 846.3 123.6 847.1 124.1 846.7 124.5 846.7 125 846.6 125.5 845.3 125.9 845.4 126.4 844.9 126.9 845.6 127.3 847 127.8 847.6 128.3 847.8 128.7 847.9 129.2 847.2 129.7 846.2 130.1 845.9 130.6 845.4 131.1 845 131.6 844.5 132 845.4 132.5 845.6 133 846 133.4 846.2 133.9 845.8 134.4 847.3 134.8 846.5 135.3 846.4 135.8 846.3 136.2 847.4 136.7 846.7 137.2 845.6 137.6 845.4 138.1 845.4 138.6 846.7 139 847.5 139.5 846.5 140 846.2 140.5 846 140.9 846.1 141.4 847.2 141.9 847.8 142.3 847.6 142.8 847.5 143.3 847 143.7 846.3 144.2 846.3 144.7 846.4 145.1 847.9 145.6 847.4 146.1 846.4 146.5 846.4 147 846.7 147.5 845.8 147.9 846.3 148.4 845.8 148.9 845.4 149.4 845.8 149.8 846.2 150.3 846.7 150.8 846.2 151.2 846.2 151.7 846.6 152.2 846.4 152.6 846.4 153.1 846.9 153.6 847.3 154 848 154.5 847 155 846.3 155.4 847.1 155.9 846.8 156.4 846.8 156.8 846.8 157.3 846.2 157.8 845.6 158.3 845.1 158.7 845 159.2 844.9 159.7 845.6 160.1 846 160.6 845.4 161.1 846 161.5 846.8 162 847 162.5 846.1 162.9 846.9 163.4 846.7 163.9 845.7 164.3 846.9 164.8 846.8 165.3 846.3 165.7 846.7 166.2 847.8 166.7 847.7 167.2 847.1 167.6 847.7 168.1 847.6 168.6 846.9 169 846.1 169.5 845.3 170 846.2 170.4 847.3 170.9 847.3 171.4 846.8 171.8 845.9 172.3 846.2 172.8 846.7 173.2 847.4 173.7 846.9 174.2 846.2 174.6 845.9 175.1 846.9 175.6 847.2 176.1 847.3 176.5 846.6 177 847.3 177.5 847.2 177.9 847.5 178.4 847 178.9 846.5 179.3 846.7 179.8 846.7 180.3 847 180.7 846.5 181.2 847.4 181.7 846.7 182.1 846.8 182.6 847.4 183.1 847.3 183.5 847.2 184 846.6 184.5 845.6 185 845.8 185.4 845.6 185.9 845.2 186.4 844.4 186.8 845 187.3 846.1 187.8 847.1 188.2 847.5 188.7 846.2 189.2 846.2 189.6 845.4 190.1 845.1 190.6 846.1 191 846.7 191.5 847.1 192 847.7 192.4 846.7 192.9 847.3 193.4 846.3 193.9 846.9 194.3 846.5 194.8 847.2 195.3 846.5 195.7 846.2 196.2 845.4 196.7 845.5 197.1 845.4 197.6 846.4 198.1 846.6 198.5 846.1 199 847.1 199.5 846.8 199.9 846.9 200.4 846.3 200.9 846.2 201.3 846.1 201.8 847.2 202.3 847.3 202.8 847.2 203.2 846.2 203.7 847 204.2 847.1 204.6 846.7 205.1 847.1 205.6 848.3 206 847.7 206.5 848.5 207 847.7 207.4 847.9 207.9 847.4 208.4 847 208.8 847 209.3 847 209.8 847 210.2 846.7 210.7 846.4 211.2 846.1 211.7 846.3 212.1 847.4 212.6 846.6 213.1 847 213.5 847.5 214 847.4 214.5 846.4 214.9 847.2 215.4 846.8 215.9 846.2 216.3 846.8 216.8 847.5 217.3 847.3 217.7 847.3 218.2 847.5 218.7 847.1 219.1 847.3 219.6 846.6 220.1 847.1 220.6 848.3 221 846.8 221.5 847.7 222 847.1 222.4 846.5 222.9 847.5 223.4 847.7 223.8 847.8 224.3 846.6 224.8 847.1 225.2 847.9 225.7 848.2 226.2 847.7 226.6 847.3 227.1 847.8 227.6 847.7 228 848.3 228.5 847.2 229 846.1 229.4 846.3 229.9 846.6 230.4 846.7 230.9 847.2 231.3 847.4 231.8 847.5 232.3 847.6 232.7 847.1 233.2 847.1 233.7 848.8 234.1 848.1 234.6 847.9 235.1 848.2 235.5 848.2 236 847.9 236.5 847.1 236.9 847.7 237.4 847.9 237.9 847.7 238.3 847.5 238.8 846.8 239.3 847.2 239.8 846.6 240.2 845.4 240.7 845.8 241.2 846.4 241.6 847.1 242.1 848.1 242.6 847.3 243 847.5 243.5 847.4 244 847.4 244.4 847.5 244.9 846.7 245.4 846.9 245.8 847.6 246.3 847.8 246.8 847.7 247.2 847.1 247.7 847.3 248.2 847.3 248.7 847.9 249.1 848.6 249.6 848.1 250.1 847.6 250.5 848.6 251 848.1 251.5 848 251.9 847.3 252.4 847.2 252.9 846.3 253.3 847.5 253.8 847.4 254.3 847.2 254.7 845.9 255.2 846.5 255.7 848 256.1 848 256.6 847.4 257.1 848.8 257.6 848.5 258 847.2 258.5 847.8 259 847.5 259.4 847 259.9 847.3 260.4 846.5 260.8 847.4 261.3 847.9 261.8 846.7 262.2 847 262.7 847.8 263.2 847.8 263.6 847.2 264.1 846.3 264.6 847 265 846.9 265.5 847.3 266 847.7 266.5 846.9 266.9 848.4 267.4 848 267.9 847.3 268.3 847.6 268.8 846.9 269.3 847.1 269.7 846.4 270.2 846.4 270.7 846.3 271.1 846.2 271.6 846 272.1 847.3 272.5 847.7 273 847.4 273.5 847.5 273.9 847.3 274.4 846.5 274.9 847.2 275.4 847.5 275.8 847.9 276.3 848 276.8 847.7 277.2 847.9 277.7 847 278.2 847.1 278.6 847.5 279.1 847.2 279.6 847 280 847.5 280.5 847 281 847.3 281.4 847 281.9 847.2 282.4 847.3 282.8 847.8 283.3 846.8 283.8 847.2 284.3 846.5 284.7 846.9 285.2 847.6 285.7 847.4 286.1 847.4 286.6 847.7 287.1 848.1 287.5 846.9 288 846.4 288.5 846.5 288.9 848 289.4 847 289.9 847.1 290.3 847.3 290.8 847.5 291.3 847.5 291.7 847.2 292.2 846.8 292.7 847 293.2 847.3 293.6 846.1 294.1 846.4 294.6 846.3 295 846.4 295.5 846 296 846 296.4 847 296.9 846.1 297.4 846.3 297.8 846.4 298.3 845.7 298.8 845.8 299.2 846.4 299.7 846.8 300.2 846.3 300.6 847.5 301.1 847.6 301.6 846.9 302.1 846.8 302.5 847.4 303 847.2 303.5 847.2 303.9 847.1 304.4 846.7 304.9 846.5 305.3 845.8 305.8 846.3 306.3 846.7 306.7 846.5 307.2 846.8 307.7 846.8 308.1 845.9 308.6 846.7" stroke="#000" stroke-width="1.6" fill="none" stroke-linejoin="round"/>
<path d="M89.1 858.1h1.3M80.1 854h1.3M58 847.5h1.3M79.8 858.8h1.3M74.9 850.8h1.3M103.1 851.7h1.3M94.6 853.2h1.3M113.6 851.8h1.3M99.1 856.9h1.3M77.6 854.6h1.3M78.8 852.8h1.3M78.8 856h1.3M87.5 853.7h1.3M66.8 853.4h1.3M63.4 851.5h1.3M93.4 852.2h1.3M110.4 853.2h1.3M66.6 853.8h1.3M102.6 854.6h1.3M117.5 850.1h1.3M96.8 855.4h1.3M112.7 850.4h1.3M61.3 849.7h1.3M98.8 854.1h1.3M80.8 857.1h1.3M80.3 856.7h1.3M97.2 857h1.3M98.1 855.3h1.3M95.2 856.3h1.3M69.6 857.5h1.3M105.4 857.1h1.3M92 857.6h1.3M72.2 854.4h1.3M65.5 854.7h1.3M65.2 850.7h1.3M71.1 854.7h1.3M84.5 856.2h1.3M78.7 856.5h1.3M78.1 851.9h1.3M96.8 852.3h1.3M59.8 853h1.3M69.4 849.2h1.3M102.2 854h1.3M101.4 853.7h1.3M113.7 849.1h1.3M109.3 853.5h1.3M120.9 848.5h1.3M77.8 853.2h1.3M86.6 854.8h1.3M76.7 855.6h1.3M98.8 855.8h1.3M68.4 851.5h1.3M99 862.4h1.3M101.1 856.4h1.3M73.9 850.5h1.3M83.1 854.3h1.3M88.9 857.6h1.3M75.8 850.4h1.3M100.2 855.9h1.3M95.8 852h1.3M106.8 856.6h1.3M104.5 857.6h1.3M65.8 852.9h1.3M67 848.3h1.3M106.5 851.7h1.3M100.4 851.2h1.3M113.4 848h1.3M114.1 846h1.3M119.9 844.6h1.3M70.2 852h1.3M77.9 855.2h1.3M93.8 854.9h1.3M100.2 858.1h1.3M81.1 857.5h1.3M120.2 847h1.3M103.7 856.8h1.3M104.8 857.1h1.3M111.2 852.9h1.3M114.8 851h1.3M90.1 857.8h1.3M77.5 856.3h1.3M103.1 854.8h1.3M65.1 851.8h1.3M68.7 853.3h1.3M117.4 847.3h1.3M115.5 848.7h1.3M84.4 853.4h1.3M99.5 856.4h1.3M70 853.7h1.3M107.9 857.6h1.3M82.2 855.8h1.3M107.4 857.8h1.3M63.4 850.7h1.3M77 853.7h1.3M117.4 849.1h1.3M101 854h1.3M109.2 852.8h1.3M86.8 857.9h1.3M107.7 855.4h1.3M64.4 853.5h1.3M104.1 852.6h1.3M72.2 851.7h1.3M107.9 854.9h1.3M89.9 857.3h1.3M69.1 851.7h1.3M106 857h1.3M77.7 853.9h1.3M96.3 855.5h1.3M77.5 857.5h1.3M119.4 850.1h1.3M89.3 853.6h1.3M71.4 855.1h1.3M80.8 857.5h1.3M87.1 854.8h1.3M107 854.1h1.3M64.9 847.4h1.3M95.3 858.9h1.3M120.6 845.9h1.3M98.1 856h1.3M116.6 847.8h1.3M224.8 845.4h1.3M219.6 847.8h1.3M190.2 845.9h1.3M196.8 844.7h1.3M211.1 845.9h1.3M189.3 846.2h1.3M225.1 846.3h1.3M197.7 847.3h1.3M233.1 847.4h1.3M273.7 846.2h1.3M189.7 850.6h1.3M199 848h1.3M194.1 845.4h1.3M267.7 844.9h1.3M269.7 845.8h1.3M191.1 848.4h1.3M285.6 845.9h1.3M268.4 843h1.3M248.8 847.9h1.3M264.8 846.3h1.3M215.3 845.7h1.3M195 846.7h1.3M260.6 844h1.3M280.6 849.4h1.3M198.7 846.8h1.3M247.8 847.6h1.3M224.4 847.5h1.3M216.5 848.2h1.3M225.8 846h1.3M246.1 846.9h1.3M283.9 850.8h1.3M225 846.1h1.3M243.1 846h1.3M229.9 845.2h1.3M193.4 848.3h1.3M199 846.1h1.3M225.1 844h1.3M201.5 850h1.3M211.4 845.3h1.3M276.2 847h1.3M189.7 846.1h1.3M276.2 846.8h1.3M226.7 846.9h1.3M282.2 849h1.3M252 847.1h1.3M200.3 847.1h1.3M287.1 846.7h1.3M258 847.8h1.3M250.4 848.3h1.3M191.1 847.8h1.3M191.7 846.6h1.3M219.8 845.8h1.3M256.3 847.7h1.3M205.4 844.9h1.3M283.1 846.4h1.3M263.6 847.9h1.3M226.7 848h1.3M198.8 847.6h1.3M218.5 849.9h1.3M210.7 849.5h1.3M271.1 848.6h1.3M239.8 847.5h1.3M287.3 846.3h1.3M286 847.3h1.3M215 847.9h1.3M208.3 846.8h1.3M210.8 847.9h1.3M266.2 847.5h1.3M277.8 847.5h1.3M232.2 844.4h1.3M238.4 847.3h1.3M219.8 845.3h1.3M282.9 846.7h1.3M217.6 848.9h1.3M198.9 846.9h1.3M268.9 844.2h1.3M204.1 847.7h1.3M222.8 848.8h1.3M233.3 846h1.3M241.4 843.7h1.3M226.7 847.1h1.3M206.1 847.4h1.3M220.1 844.1h1.3M226.1 846.9h1.3M263.5 848.1h1.3M202.3 849.9h1.3M272.3 847.8h1.3M285.1 845.8h1.3M206.2 848.4h1.3M189 845.3h1.3M202.5 846.7h1.3M223.3 849.4h1.3M285 850.6h1.3M215.5 848.7h1.3M215.9 846.1h1.3M216 850.7h1.3M252.4 846.6h1.3M200.9 847.9h1.3M232.1 844.5h1.3M248.1 848.9h1.3M193.5 845.6h1.3M194.1 845.4h1.3M207.9 846.3h1.3M237 846h1.3M252.3 847.1h1.3M195 845.8h1.3M272 849.7h1.3M279.2 847.3h1.3M196 845.3h1.3M216.8 853.3h1.3M282.8 844.9h1.3M263.8 847h1.3M195.6 847.1h1.3M246.8 846.4h1.3M233.4 848.9h1.3M274.3 845.2h1.3M233.3 844.9h1.3M245 846.5h1.3M225.6 849.3h1.3M202.9 847.7h1.3" stroke="#000" stroke-width="1.3" fill="none"/>
<line x1="53.5" y1="881.6" x2="307.8" y2="881.6" stroke="#ff0000" stroke-width="2.5" stroke-dasharray="8.4 4.3 2 4.3" stroke-dashoffset="13.7"/>
<path d="M53.8 863.3 55.2 863.3 56.6 863.2 58 862.9 59.4 862.8 60.8 863 62.2 863 63.6 859.2 65 859 66.4 858.8 67.9 858.7 69.3 858.4 70.7 858.6 72.1 858.1 73.5 857.9 74.9 857.8 76.3 857.7 77.7 858 79.1 858 80.5 858.1 81.9 858.1 83.3 858.3 84.7 858.6 86.1 858.6 87.5 858.9 88.9 858.8 90.3 859.2 91.7 859.1 93.1 859.5 94.6 859.5 96 859.7 97.4 859.7 98.8 859.8 100.2 859.9 101.6 860.2 103 860.4 104.4 860.3 105.8 860.3 107.2 860.3 108.6 860.5 110 860.6 111.4 860.9 112.8 861 114.2 861.3 115.6 861.5 117 861.8 118.4 861.8 119.8 862 121.2 862 122.7 862.2 124.1 862.5 125.5 862.2 126.9 862.1 128.3 862.2 129.7 862.1 131.1 861.9 132.5 861.9 133.9 861.7 135.3 861.4 136.7 861.3 138.1 870.3 139.5 870.2 140.9 870.2 142.3 870.4 143.7 870.8 145.1 870.6 146.5 870.4 147.9 870.3 149.4 870.1 150.8 870.5 152.2 870.7 153.6 870.6 155 870.7 156.4 870.7 157.8 870.8 159.2 870.7 160.6 870.6 162 870.6 163.4 870.7 164.8 870.9 166.2 870.8 167.6 870.7 169 871.1 170.4 871.2 171.8 870.9 173.2 871.3 174.6 871.4 176.1 871.3 177.5 871.3 178.9 871.3 180.3 871.3 181.7 871.2 183.1 871.6 184.5 871.4 185.9 871.6 187.3 871.4 188.7 871.6 190.1 871.7 191.5 871.6 192.9 871.8 194.3 871.5 195.7 871.8 197.1 872 198.5 871.7 199.9 871.7 201.3 871.7 202.8 871.7 204.2 871.5 205.6 871.5 207 871.6 208.4 871.6 209.8 871.5 211.2 871.4 212.6 871.1 214 871 215.4 871.2 216.8 871 218.2 871.1 219.6 871.1 221 870.7 222.4 870.6 223.8 870.4 225.2 870.1 226.6 870 228 869.4 229.4 869.3 230.9 869 232.3 869.2 233.7 868.7 235.1 868.5 236.5 868.3 237.9 868.2 239.3 868.1 240.7 867.6 242.1 867.8 243.5 867.9 244.9 868 246.3 868.2 247.7 868.4 249.1 868.5 250.5 868.8 251.9 868.7 253.3 868.8 254.7 868.9 256.1 868.9 257.6 869 259 869.3 260.4 869.4 261.8 869.3 263.2 869.4 264.6 869.3 266 869.4 267.4 869 268.8 869 270.2 869.1 271.6 868.8 273 868.8 274.4 868.6 275.8 868.3 277.2 868.3 278.6 868.2 280 867.7 281.4 867.9 282.8 867.8 284.3 867.6 285.7 867.6 287.1 867.6 288.5 867.5 289.9 867.4 291.3 867.2 292.7 867 294.1 866.9 295.5 867 296.9 866.6 298.3 866.7 299.7 866.8 301.1 866.4 302.5 866.3 303.9 866.1 305.3 865.8 306.7 865.8 308.1 866" stroke="#0000ff" stroke-width="2.4" fill="none" stroke-linejoin="round"/>
<path d="M53.5 797V893.4H307.8V797" stroke="#000" stroke-width="1.1" fill="none"/>
<path d="M53.5 803.5h2.5M307.8 803.5h-2.5M53.5 818.5h2.5M307.8 818.5h-2.5M53.5 833.5h2.5M307.8 833.5h-2.5M53.5 848.5h2.5M307.8 848.5h-2.5M53.5 863.5h2.5M307.8 863.5h-2.5M53.5 878.5h2.5M307.8 878.5h-2.5M117 893.4v-2.5M180.3 893.4v-2.5M243.5 893.4v-2.5" stroke="#000" stroke-width="1"/>
<text x="49.1" y="850.5" font-size="15.6" class="S" text-anchor="end" fill="#0000ff">0.5</text>
<text x="49.1" y="899" font-size="15.6" class="S" text-anchor="end" fill="#0000ff">0</text>
<text x="20.6" y="842" font-size="15.8" class="S" text-anchor="middle" fill="#0000ff" transform="rotate(-90 20.6 842)">ADOP [cyc]</text>
<text x="117" y="912.2" font-size="15.6" class="S" text-anchor="middle">270</text>
<text x="180.3" y="912.2" font-size="15.6" class="S" text-anchor="middle">540</text>
<text x="243.5" y="912.2" font-size="15.6" class="S" text-anchor="middle">810</text>
<text x="306.7" y="912.2" font-size="15.6" class="S" text-anchor="middle">1080</text>
<text x="179.8" y="929.6" font-size="15.8" class="S" text-anchor="middle"># of epochs [30 s]</text>
<clipPath id="cm21"><rect x="371.5" y="616.1" width="254" height="175.5"/></clipPath>
<g clip-path="url(#cm21)">
<line x1="377" y1="630.9" x2="625.5" y2="630.9" stroke="#3a3a3a" stroke-width="1.1" stroke-dasharray="1 5"/>
<line x1="377" y1="667.5" x2="625.5" y2="667.5" stroke="#3a3a3a" stroke-width="1.1" stroke-dasharray="1 5"/>
<line x1="377" y1="704.2" x2="625.5" y2="704.2" stroke="#3a3a3a" stroke-width="1.1" stroke-dasharray="1 5"/>
<line x1="377" y1="741" x2="625.5" y2="741" stroke="#3a3a3a" stroke-width="1.1" stroke-dasharray="1 5"/>
<line x1="434.7" y1="619.1" x2="434.7" y2="791.6" stroke="#3a3a3a" stroke-width="1.1" stroke-dasharray="1 5"/>
<line x1="498" y1="619.1" x2="498" y2="791.6" stroke="#3a3a3a" stroke-width="1.1" stroke-dasharray="1 5"/>
<line x1="561.2" y1="619.1" x2="561.2" y2="791.6" stroke="#3a3a3a" stroke-width="1.1" stroke-dasharray="1 5"/>
<path d="M370.7 704.5h1.9M370.9 708.7h1.9M371.2 702.6h1.9M371.4 704h1.9M371.6 701.3h1.9M371.9 710.2h1.9M372.1 706.5h1.9M372.3 702.5h1.9M372.6 700h1.9M372.8 699h1.9M373 706.1h1.9M373.3 698h1.9M373.5 702.4h1.9M373.7 706.1h1.9M374 703.6h1.9M374.2 704.2h1.9M374.4 701.9h1.9M374.7 701.6h1.9M374.9 704h1.9M375.1 711.8h1.9M375.4 700.6h1.9M375.6 701.2h1.9M375.8 702.8h1.9M376.1 702.5h1.9M376.3 707.7h1.9M376.5 707.4h1.9M376.8 712.2h1.9M377 704.8h1.9M377.2 710.4h1.9M377.5 705.7h1.9M377.7 704.8h1.9M378 709.4h1.9M378.2 710.9h1.9M378.4 709.7h1.9M378.7 703.4h1.9M378.9 705.8h1.9M379.1 706h1.9M379.4 705.9h1.9M379.6 701.3h1.9M379.8 706.9h1.9M380.1 706.4h1.9M380.3 702.6h1.9M380.5 702.8h1.9M380.8 709.3h1.9M381 707h1.9M381.2 701.8h1.9M381.5 705.9h1.9M381.7 701.1h1.9M381.9 700h1.9M382.2 702.5h1.9M382.4 700.5h1.9M382.6 715.9h1.9M382.9 703.9h1.9M383.1 705.1h1.9M383.3 711.5h1.9M383.6 704.7h1.9M383.8 706h1.9M384 701.1h1.9M384.3 703.6h1.9M384.5 701.8h1.9M384.7 707.6h1.9M385 700.7h1.9M385.2 706.1h1.9M385.4 706.4h1.9M385.7 696.7h1.9M385.9 700.3h1.9M386.1 707.9h1.9M386.4 712.4h1.9M386.6 696.7h1.9M386.9 704.5h1.9M387.1 701.9h1.9M387.3 701.3h1.9M387.6 703.7h1.9M387.8 699.5h1.9M388 702h1.9M388.3 704.6h1.9M388.5 703.4h1.9M388.7 705.8h1.9M389 709.6h1.9M389.2 704.1h1.9M389.4 701.8h1.9M389.7 699.5h1.9M389.9 711.5h1.9M390.1 712.5h1.9M390.4 705.1h1.9M390.6 707.5h1.9M390.8 704.6h1.9M391.1 707.7h1.9M391.3 707.7h1.9M391.5 706.3h1.9M391.8 709.5h1.9M392 704.6h1.9M392.2 709.9h1.9M392.5 714.2h1.9M392.7 707.3h1.9M392.9 710h1.9M393.2 705.7h1.9M393.4 707.9h1.9M393.6 703.7h1.9M393.9 704.9h1.9M394.1 705.8h1.9M394.3 705h1.9M394.6 706.5h1.9M394.8 701.4h1.9M395 703.7h1.9M395.3 699.4h1.9M395.5 703.7h1.9M395.8 696.8h1.9M396 696.4h1.9M396.2 707.3h1.9M396.5 698h1.9M396.7 703.7h1.9M396.9 695.7h1.9M397.2 701.9h1.9M397.4 702.3h1.9M397.6 700.2h1.9M397.9 696.7h1.9M398.1 710.3h1.9M398.3 708.2h1.9M398.6 700.6h1.9M398.8 704.8h1.9M399 705.9h1.9M399.3 704.1h1.9M399.5 714.6h1.9M399.7 700.6h1.9M400 704.7h1.9M400.2 698h1.9M400.4 704.2h1.9M400.7 708.2h1.9M400.9 708.1h1.9M401.1 709h1.9M401.4 711.7h1.9M401.6 707.9h1.9M401.8 706.2h1.9M402.1 703.7h1.9M402.3 700h1.9M402.5 698.4h1.9M402.8 698.9h1.9M403 703.6h1.9M403.2 710.6h1.9M403.5 704.2h1.9M403.7 711.1h1.9M403.9 703h1.9M404.2 705h1.9M404.4 702.1h1.9M404.7 703.2h1.9M404.9 706.1h1.9M405.1 706.2h1.9M405.4 704.9h1.9M405.6 701.3h1.9M405.8 705.2h1.9M406.1 704.7h1.9M406.3 710.2h1.9M406.5 709.5h1.9M406.8 710.1h1.9M407 710.7h1.9M407.2 702.7h1.9M407.5 712.7h1.9M407.7 704.7h1.9M407.9 706.3h1.9M408.2 704.1h1.9M408.4 708.2h1.9M408.6 711.8h1.9M408.9 709.5h1.9M409.1 703.5h1.9M409.3 700.3h1.9M409.6 703h1.9M409.8 704.1h1.9M410 700.7h1.9M410.3 702.4h1.9M410.5 702.2h1.9M410.7 705.4h1.9M411 707.1h1.9M411.2 711.4h1.9M411.4 704.5h1.9M411.7 707.2h1.9M411.9 706.6h1.9M412.1 705.5h1.9M412.4 705.3h1.9M412.6 709.8h1.9M412.8 718.4h1.9M413.1 709.3h1.9M413.3 705.4h1.9M413.6 701.5h1.9M413.8 704.8h1.9M414 694.1h1.9M414.3 701.5h1.9M414.5 699.4h1.9M414.7 703.9h1.9M415 699.2h1.9M415.2 700.4h1.9M415.4 709.8h1.9M415.7 706.6h1.9M415.9 710.7h1.9M416.1 708.9h1.9M416.4 695.3h1.9M416.6 706.9h1.9M416.8 700.9h1.9M417.1 700.9h1.9M417.3 701.3h1.9M417.5 700.2h1.9M417.8 702.3h1.9M418 704.3h1.9M418.2 696.7h1.9M418.5 700.8h1.9M418.7 703.2h1.9M418.9 698.6h1.9M419.2 702h1.9M419.4 708.2h1.9M419.6 708.6h1.9M419.9 707.6h1.9M420.1 705.2h1.9M420.3 705.3h1.9M420.6 703h1.9M420.8 710.8h1.9M421 712.1h1.9M421.3 708.4h1.9M421.5 707.5h1.9M421.7 713.5h1.9M422 703.1h1.9M422.2 702.7h1.9M422.5 700.6h1.9M422.7 703.4h1.9M422.9 706.9h1.9M423.2 701.6h1.9M423.4 698.7h1.9M423.6 700.1h1.9M423.9 701.3h1.9M424.1 705.7h1.9M424.3 699.9h1.9M424.6 710.3h1.9M424.8 709.2h1.9M425 703.6h1.9M425.3 703h1.9M425.5 703.2h1.9M425.7 708.6h1.9M426 706h1.9M426.2 693.8h1.9M426.4 704h1.9M426.7 703.5h1.9M426.9 699.9h1.9M427.1 702.3h1.9M427.4 696.9h1.9M427.6 696.3h1.9M427.8 696.6h1.9M428.1 703.3h1.9M428.3 696.7h1.9M428.5 698.9h1.9M428.8 705h1.9M429 702.6h1.9M429.2 702h1.9M429.5 700.5h1.9M429.7 704h1.9M429.9 699.6h1.9M430.2 701.6h1.9M430.4 701h1.9M430.6 700.5h1.9M430.9 708.7h1.9M431.1 706.4h1.9M431.3 702h1.9M431.6 703.2h1.9M431.8 695.6h1.9M432.1 704h1.9M432.3 705.3h1.9M432.5 708.3h1.9M432.8 702.8h1.9M433 700h1.9M433.2 706.7h1.9M433.5 703.8h1.9M433.7 708.8h1.9M433.9 703.3h1.9M434.2 705.1h1.9M434.4 705.8h1.9M434.6 705.2h1.9M434.9 708.6h1.9M435.1 699.6h1.9M435.3 705.1h1.9M435.6 701.9h1.9M435.8 705.4h1.9M436 709.4h1.9M436.3 716.2h1.9M436.5 702.3h1.9M436.7 704.3h1.9M437 702.1h1.9M437.2 701.5h1.9M437.4 709.8h1.9M437.7 704.7h1.9M437.9 706.1h1.9M438.1 706.4h1.9M438.4 704.6h1.9M438.6 705.7h1.9M438.8 708.7h1.9M439.1 694.6h1.9M439.3 700h1.9M439.5 701.1h1.9M439.8 703.4h1.9M440 706h1.9M440.2 703.6h1.9M440.5 695.8h1.9M440.7 707.9h1.9M441 702.2h1.9M441.2 702.7h1.9M441.4 704.9h1.9M441.7 705.8h1.9M441.9 699.3h1.9M442.1 703.9h1.9M442.4 705.4h1.9M442.6 707.4h1.9M442.8 708.8h1.9M443.1 709.1h1.9M443.3 704.9h1.9M443.5 701.2h1.9M443.8 703.9h1.9M444 702.7h1.9M444.2 712.4h1.9M444.5 708.3h1.9M444.7 709.2h1.9M444.9 709.1h1.9M445.2 702.7h1.9M445.4 705.6h1.9M445.6 711.1h1.9M445.9 704.2h1.9M446.1 704.5h1.9M446.3 697.5h1.9M446.6 705.5h1.9M446.8 693.9h1.9M447 704h1.9M447.3 702.9h1.9M447.5 698.8h1.9M447.7 711.7h1.9M448 703.8h1.9M448.2 704.6h1.9M448.4 706.4h1.9M448.7 705.1h1.9M448.9 706.5h1.9M449.1 709.5h1.9M449.4 710.8h1.9M449.6 703.9h1.9M449.9 699.6h1.9M450.1 699.2h1.9M450.3 706.8h1.9M450.6 707.2h1.9M450.8 702.6h1.9M451 704h1.9M451.3 707.3h1.9M451.5 705.4h1.9M451.7 705.5h1.9M452 704.3h1.9M452.2 704.1h1.9M452.4 704.6h1.9M452.7 713.9h1.9M452.9 705.6h1.9M453.1 698.9h1.9M453.4 703.7h1.9M453.6 704.1h1.9M453.8 706.2h1.9M454.1 702.1h1.9M454.3 706h1.9M454.5 697.2h1.9M454.8 706.1h1.9M455 704.6h1.9M455.2 705h1.9M455.5 702h1.9M455.7 703.4h1.9M455.9 698.4h1.9M456.2 700.1h1.9M456.4 697.4h1.9M456.6 701.5h1.9M456.9 705.1h1.9M457.1 710h1.9M457.3 707.2h1.9M457.6 710.4h1.9M457.8 705.7h1.9M458 704.9h1.9M458.3 701.6h1.9M458.5 708.4h1.9M458.8 701.1h1.9M459 703.7h1.9M459.2 711.2h1.9M459.5 708.9h1.9M459.7 704.2h1.9M459.9 711.9h1.9M460.2 704h1.9M460.4 703.3h1.9M460.6 701.8h1.9M460.9 707.9h1.9M461.1 713.8h1.9M461.3 709.2h1.9M461.6 711.3h1.9M461.8 700.1h1.9M462 714.6h1.9M462.3 701.1h1.9M462.5 699.7h1.9M462.7 696h1.9M463 705.1h1.9M463.2 693.3h1.9M463.4 711.3h1.9M463.7 708.1h1.9M463.9 702.5h1.9M464.1 702.7h1.9M464.4 704h1.9M464.6 702.5h1.9M464.8 705.2h1.9M465.1 704.6h1.9M465.3 708h1.9M465.5 706.7h1.9M465.8 699.7h1.9M466 710.2h1.9M466.2 705.5h1.9M466.5 699.5h1.9M466.7 702.6h1.9M466.9 699.4h1.9M467.2 701.4h1.9M467.4 711.3h1.9M467.7 707.2h1.9M467.9 703.2h1.9M468.1 704.5h1.9M468.4 700.6h1.9M468.6 705.8h1.9M468.8 701.6h1.9M469.1 702.8h1.9M469.3 705.7h1.9M469.5 709.6h1.9M469.8 709h1.9M470 704.9h1.9M470.2 706.6h1.9M470.5 711.4h1.9M470.7 708.8h1.9M470.9 706.3h1.9M471.2 709.1h1.9M471.4 706.9h1.9M471.6 709.1h1.9M471.9 708.9h1.9M472.1 707h1.9M472.3 711.4h1.9M472.6 706.3h1.9M472.8 704.2h1.9M473 706.3h1.9M473.3 704.9h1.9M473.5 713.2h1.9M473.7 711h1.9M474 711h1.9M474.2 701.3h1.9M474.4 705.3h1.9M474.7 704.9h1.9M474.9 702h1.9M475.1 705.2h1.9M475.4 702h1.9M475.6 704.6h1.9M475.8 708.6h1.9M476.1 703.9h1.9M476.3 708h1.9M476.6 707.6h1.9M476.8 707.8h1.9M477 706.2h1.9M477.3 703.6h1.9M477.5 698.8h1.9M477.7 707.9h1.9M478 706.4h1.9M478.2 708h1.9M478.4 704h1.9M478.7 704.7h1.9M478.9 709.6h1.9M479.1 709.1h1.9M479.4 708.7h1.9M479.6 703.7h1.9M479.8 702.5h1.9M480.1 709.5h1.9M480.3 708.3h1.9M480.5 707.5h1.9M480.8 705.3h1.9M481 706.9h1.9M481.2 709.6h1.9M481.5 710.4h1.9M481.7 702.8h1.9M481.9 699h1.9M482.2 712.2h1.9M482.4 701.8h1.9M482.6 697.5h1.9M482.9 702.1h1.9M483.1 701.8h1.9M483.3 702.4h1.9M483.6 702.2h1.9M483.8 704.4h1.9M484 703.3h1.9M484.3 709.2h1.9M484.5 703.5h1.9M484.7 701.5h1.9M485 698h1.9M485.2 703.9h1.9M485.5 709.2h1.9M485.7 707.4h1.9M485.9 705.8h1.9M486.2 701.6h1.9M486.4 700.4h1.9M486.6 704.2h1.9M486.9 702.7h1.9M487.1 704.5h1.9M487.3 700.7h1.9M487.6 704.8h1.9M487.8 701.2h1.9M488 705.7h1.9M488.3 694.7h1.9M488.5 694.4h1.9M488.7 695.5h1.9M489 696.4h1.9M489.2 704.3h1.9M489.4 710.8h1.9M489.7 704.8h1.9M489.9 701.2h1.9M490.1 703.8h1.9M490.4 700.1h1.9M490.6 709.8h1.9M490.8 708.4h1.9M491.1 708h1.9M491.3 702.8h1.9M491.5 699.6h1.9M491.8 701.3h1.9M492 701.3h1.9M492.2 704.2h1.9M492.5 710.9h1.9M492.7 709h1.9M492.9 708.3h1.9M493.2 717.7h1.9M493.4 711.7h1.9M493.6 706h1.9M493.9 704.9h1.9M494.1 706.6h1.9M494.3 706.4h1.9M494.6 704.3h1.9M494.8 703.3h1.9M495.1 708.7h1.9M495.3 701.7h1.9M495.5 700.6h1.9M495.8 707.4h1.9M496 702.7h1.9M496.2 707.9h1.9M496.5 704.4h1.9M496.7 701.5h1.9M496.9 706.4h1.9M497.2 707.2h1.9M497.4 712.7h1.9M497.6 699.8h1.9M497.9 701.5h1.9M498.1 705.6h1.9M498.3 703.9h1.9M498.6 701.3h1.9M498.8 701.5h1.9M499 705.5h1.9M499.3 704.9h1.9M499.5 705.8h1.9M499.7 701.7h1.9M500 718.6h1.9M500.2 704.7h1.9M500.4 698h1.9M500.7 697.8h1.9M500.9 699.9h1.9M501.1 701.1h1.9M501.4 697.6h1.9M501.6 703.4h1.9M501.8 706.9h1.9M502.1 712.1h1.9M502.3 709.7h1.9M502.5 708.5h1.9M502.8 710.1h1.9M503 708.3h1.9M503.2 713.8h1.9M503.5 710.4h1.9M503.7 705.6h1.9M504 696.1h1.9M504.2 702h1.9M504.4 708.4h1.9M504.7 702.8h1.9M504.9 704h1.9M505.1 704.8h1.9M505.4 703.5h1.9M505.6 700.7h1.9M505.8 700.7h1.9M506.1 695.2h1.9M506.3 700.9h1.9M506.5 703.8h1.9M506.8 706.9h1.9M507 708.6h1.9M507.2 713.4h1.9M507.5 707.3h1.9M507.7 705.4h1.9M507.9 706.7h1.9M508.2 706.1h1.9M508.4 708h1.9M508.6 701.5h1.9M508.9 706.6h1.9M509.1 705.8h1.9M509.3 713.6h1.9M509.6 703.6h1.9M509.8 702.2h1.9M510 701.3h1.9M510.3 700.4h1.9M510.5 708.2h1.9M510.7 709.1h1.9M511 704h1.9M511.2 708.9h1.9M511.4 708.3h1.9M511.7 710.2h1.9M511.9 715.4h1.9M512.1 706.6h1.9M512.4 707.8h1.9M512.6 699.2h1.9M512.9 700.1h1.9M513.1 700.6h1.9M513.3 699.9h1.9M513.6 705.6h1.9M513.8 713.6h1.9M514 707.2h1.9M514.3 698.6h1.9M514.5 699.4h1.9M514.7 703.3h1.9M515 707.8h1.9M515.2 710.5h1.9M515.4 708.4h1.9M515.7 702h1.9M515.9 709.1h1.9M516.1 704.5h1.9M516.4 704.1h1.9M516.6 702.2h1.9M516.8 705.2h1.9M517.1 694.5h1.9M517.3 698h1.9M517.5 693.7h1.9M517.8 699.5h1.9M518 708h1.9M518.2 708.8h1.9M518.5 690h1.9M518.7 706.3h1.9M518.9 708.6h1.9M519.2 707.8h1.9M519.4 713.4h1.9M519.6 707.8h1.9M519.9 704.4h1.9M520.1 706.9h1.9M520.3 703.3h1.9M520.6 703.6h1.9M520.8 704.2h1.9M521 705.1h1.9M521.3 697.1h1.9M521.5 705.5h1.9M521.8 700.6h1.9M522 698h1.9M522.2 705.8h1.9M522.5 708.5h1.9M522.7 707.1h1.9M522.9 704.3h1.9M523.2 702.1h1.9M523.4 706.1h1.9M523.6 709.4h1.9M523.9 709.2h1.9M524.1 707h1.9M524.3 707h1.9M524.6 704.1h1.9M524.8 708.1h1.9M525 706h1.9M525.3 708.5h1.9M525.5 700.6h1.9M525.7 713.9h1.9M526 701.8h1.9M526.2 701.9h1.9M526.4 710h1.9M526.7 703.4h1.9M526.9 708.9h1.9M527.1 702.7h1.9M527.4 694.2h1.9M527.6 709.1h1.9M527.8 707.2h1.9M528.1 705.8h1.9M528.3 704.4h1.9M528.5 705.4h1.9M528.8 708.5h1.9M529 704.6h1.9M529.2 708.7h1.9M529.5 697.6h1.9M529.7 703.6h1.9M529.9 700.2h1.9M530.2 708.4h1.9M530.4 711.8h1.9M530.7 702.7h1.9M530.9 701.3h1.9M531.1 702.5h1.9M531.4 705h1.9M531.6 706.7h1.9M531.8 709.1h1.9M532.1 704.7h1.9M532.3 702.9h1.9M532.5 705.6h1.9M532.8 704.6h1.9M533 703.2h1.9M533.2 710.5h1.9M533.5 707.7h1.9M533.7 709.6h1.9M533.9 703.3h1.9M534.2 702.4h1.9M534.4 709.9h1.9M534.6 710.9h1.9M534.9 704.8h1.9M535.1 709.1h1.9M535.3 700.1h1.9M535.6 703.4h1.9M535.8 703.5h1.9M536 710.7h1.9M536.3 709.9h1.9M536.5 705.1h1.9M536.7 703.2h1.9M537 698.4h1.9M537.2 702.1h1.9M537.4 701.6h1.9M537.7 705.2h1.9M537.9 702.3h1.9M538.1 706.7h1.9M538.4 705.8h1.9M538.6 698.9h1.9M538.8 703.8h1.9M539.1 701.2h1.9M539.3 703.5h1.9M539.6 708.4h1.9M539.8 708.2h1.9M540 705.1h1.9M540.3 697h1.9M540.5 695.2h1.9M540.7 696.9h1.9M541 702.9h1.9M541.2 701.9h1.9M541.4 707.2h1.9M541.7 711.6h1.9M541.9 703.4h1.9M542.1 709.9h1.9M542.4 711.5h1.9M542.6 706.4h1.9M542.8 707.8h1.9M543.1 705.3h1.9M543.3 706.6h1.9M543.5 708.5h1.9M543.8 706.8h1.9M544 707.7h1.9M544.2 704.1h1.9M544.5 695.4h1.9M544.7 702.4h1.9M544.9 705h1.9M545.2 705.6h1.9M545.4 705.5h1.9M545.6 704.2h1.9M545.9 703.5h1.9M546.1 701.9h1.9M546.3 697.9h1.9M546.6 696.7h1.9M546.8 700.5h1.9M547 704.3h1.9M547.3 709.3h1.9M547.5 706.3h1.9M547.7 702.3h1.9M548 710.6h1.9M548.2 710.4h1.9M548.4 704.1h1.9M548.7 705.2h1.9M548.9 708.1h1.9M549.2 702.4h1.9M549.4 706.2h1.9M549.6 699.4h1.9M549.9 703.7h1.9M550.1 702.1h1.9M550.3 707.6h1.9M550.6 705.3h1.9M550.8 712.1h1.9M551 700.3h1.9M551.3 699.8h1.9M551.5 699.6h1.9M551.7 697.2h1.9M552 711.2h1.9M552.2 706.9h1.9M552.4 703.4h1.9M552.7 703.5h1.9M552.9 703.8h1.9M553.1 701.2h1.9M553.4 700.6h1.9M553.6 703.9h1.9M553.8 705.8h1.9M554.1 704h1.9M554.3 711.8h1.9M554.5 703.8h1.9M554.8 709.9h1.9M555 706.1h1.9M555.2 701.7h1.9M555.5 700.4h1.9M555.7 712.8h1.9M555.9 707.9h1.9M556.2 706.4h1.9M556.4 706.5h1.9M556.6 703.6h1.9M556.9 709.1h1.9M557.1 710.2h1.9M557.3 707.2h1.9M557.6 705.2h1.9M557.8 705.7h1.9M558.1 702.2h1.9M558.3 702.5h1.9M558.5 697.6h1.9M558.8 699.5h1.9M559 707.5h1.9M559.2 704.2h1.9M559.5 697.2h1.9M559.7 699.3h1.9M559.9 704.1h1.9M560.2 701h1.9M560.4 705.5h1.9M560.6 712.5h1.9M560.9 710.4h1.9M561.1 705.9h1.9M561.3 702.1h1.9M561.6 703.3h1.9M561.8 708.9h1.9M562 700.2h1.9M562.3 709.9h1.9M562.5 702.1h1.9M562.7 706.6h1.9M563 697.9h1.9M563.2 700.3h1.9M563.4 706.3h1.9M563.7 703.9h1.9M563.9 703.4h1.9M564.1 704.4h1.9M564.4 709.8h1.9M564.6 708h1.9M564.8 708.9h1.9M565.1 714.6h1.9M565.3 708.5h1.9M565.5 705.6h1.9M565.8 709.3h1.9M566 709.5h1.9M566.2 707.1h1.9M566.5 701.8h1.9M566.7 711.6h1.9M567 706.6h1.9M567.2 707.1h1.9M567.4 703.3h1.9M567.7 705.1h1.9M567.9 705.6h1.9M568.1 710.3h1.9M568.4 709h1.9M568.6 705.4h1.9M568.8 701.4h1.9M569.1 700.3h1.9M569.3 702.4h1.9M569.5 708h1.9M569.8 700.8h1.9M570 703.2h1.9M570.2 709.5h1.9M570.5 711.7h1.9M570.7 706.5h1.9M570.9 701.7h1.9M571.2 702.8h1.9M571.4 699.6h1.9M571.6 703.6h1.9M571.9 706.2h1.9M572.1 707.8h1.9M572.3 709.2h1.9M572.6 708.9h1.9M572.8 710.7h1.9M573 707.3h1.9M573.3 705.2h1.9M573.5 701.7h1.9M573.7 704.8h1.9M574 703.7h1.9M574.2 699.3h1.9M574.4 703.5h1.9M574.7 704.3h1.9M574.9 708.2h1.9M575.1 703h1.9M575.4 710.2h1.9M575.6 709.6h1.9M575.9 708.8h1.9M576.1 704.3h1.9M576.3 699.4h1.9M576.6 706.2h1.9M576.8 705.4h1.9M577 703.4h1.9M577.3 696.3h1.9M577.5 704.8h1.9M577.7 701h1.9M578 702.1h1.9M578.2 702.1h1.9M578.4 703.2h1.9M578.7 706.9h1.9M578.9 708h1.9M579.1 702.6h1.9M579.4 704.6h1.9M579.6 705.6h1.9M579.8 705.1h1.9M580.1 706.6h1.9M580.3 703.4h1.9M580.5 708.4h1.9M580.8 708.5h1.9M581 711.6h1.9M581.2 709.4h1.9M581.5 701.2h1.9M581.7 699.6h1.9M581.9 709.9h1.9M582.2 710.8h1.9M582.4 705h1.9M582.6 701.6h1.9M582.9 705.5h1.9M583.1 706.3h1.9M583.3 707.7h1.9M583.6 699.1h1.9M583.8 701.1h1.9M584 710.9h1.9M584.3 701.6h1.9M584.5 709.6h1.9M584.8 707.4h1.9M585 699.1h1.9M585.2 703.7h1.9M585.5 703.1h1.9M585.7 702.5h1.9M585.9 705.8h1.9M586.2 702.1h1.9M586.4 707.1h1.9M586.6 704.3h1.9M586.9 704.1h1.9M587.1 704.7h1.9M587.3 704h1.9M587.6 707.1h1.9M587.8 705.3h1.9M588 704.2h1.9M588.3 703.7h1.9M588.5 701.5h1.9M588.7 701.1h1.9M589 705.3h1.9M589.2 701.9h1.9M589.4 703.1h1.9M589.7 708.1h1.9M589.9 704.5h1.9M590.1 695.1h1.9M590.4 702.5h1.9M590.6 710.3h1.9M590.8 696.2h1.9M591.1 713.7h1.9M591.3 708.9h1.9M591.5 706.9h1.9M591.8 708.2h1.9M592 700.6h1.9M592.2 702.7h1.9M592.5 705.7h1.9M592.7 706.3h1.9M592.9 709.3h1.9M593.2 702.9h1.9M593.4 711.6h1.9M593.7 708.4h1.9M593.9 704.1h1.9M594.1 706.5h1.9M594.4 708h1.9M594.6 698.5h1.9M594.8 696.7h1.9M595.1 702.6h1.9M595.3 708.7h1.9M595.5 706.5h1.9M595.8 701.8h1.9M596 694h1.9M596.2 711.2h1.9M596.5 707.2h1.9M596.7 706.1h1.9M596.9 705.3h1.9M597.2 697.1h1.9M597.4 702.3h1.9M597.6 699.3h1.9M597.9 700.5h1.9M598.1 701.9h1.9M598.3 703.8h1.9M598.6 694.5h1.9M598.8 692.1h1.9M599 695.9h1.9M599.3 698.8h1.9M599.5 701.4h1.9M599.7 705.4h1.9M600 705.7h1.9M600.2 699.2h1.9M600.4 700.6h1.9M600.7 709.9h1.9M600.9 706.4h1.9M601.1 702.9h1.9M601.4 699.3h1.9M601.6 704.2h1.9M601.8 704.8h1.9M602.1 708.9h1.9M602.3 704.7h1.9M602.6 698.8h1.9M602.8 701.6h1.9M603 708.9h1.9M603.3 699.7h1.9M603.5 708.3h1.9M603.7 696.5h1.9M604 704.8h1.9M604.2 700.1h1.9M604.4 706.3h1.9M604.7 707.7h1.9M604.9 708.3h1.9M605.1 705.9h1.9M605.4 706.6h1.9M605.6 702.2h1.9M605.8 703.3h1.9M606.1 705.4h1.9M606.3 706.7h1.9M606.5 703.9h1.9M606.8 703.8h1.9M607 704.3h1.9M607.2 702.4h1.9M607.5 699.8h1.9M607.7 703.2h1.9M607.9 703.5h1.9M608.2 706.5h1.9M608.4 696.4h1.9M608.6 699.1h1.9M608.9 704h1.9M609.1 706.2h1.9M609.3 708.2h1.9M609.6 712.2h1.9M609.8 706h1.9M610 704.2h1.9M610.3 703.1h1.9M610.5 706.4h1.9M610.7 706.1h1.9M611 705h1.9M611.2 707.8h1.9M611.4 696.3h1.9M611.7 704.2h1.9M611.9 710.2h1.9M612.2 710.7h1.9M612.4 707.9h1.9M612.6 701.7h1.9M612.9 699.8h1.9M613.1 703h1.9M613.3 701h1.9M613.6 705.2h1.9M613.8 702.5h1.9M614 708h1.9M614.3 702.7h1.9M614.5 699.3h1.9M614.7 701h1.9M615 700.6h1.9M615.2 703.5h1.9M615.4 705.3h1.9M615.7 703h1.9M615.9 706.8h1.9M616.1 703h1.9M616.4 698.3h1.9M616.6 702.2h1.9M616.8 701.9h1.9M617.1 697.3h1.9M617.3 702.8h1.9M617.5 704.7h1.9M617.8 708.3h1.9M618 708.7h1.9M618.2 714.7h1.9M618.5 704.6h1.9M618.7 709.4h1.9M618.9 701.6h1.9M619.2 706.4h1.9M619.4 703.8h1.9M619.6 704.2h1.9M619.9 703.8h1.9M620.1 702.7h1.9M620.3 703.7h1.9M620.6 699.7h1.9M620.8 706.8h1.9M621.1 708.2h1.9M621.3 703.9h1.9M621.5 708.2h1.9M621.8 705.2h1.9M622 701.6h1.9M622.2 702.6h1.9M622.5 705.7h1.9M622.7 707.1h1.9M622.9 700.8h1.9M623.2 693.6h1.9M623.4 709.6h1.9M623.6 707.8h1.9M623.9 701.5h1.9M624.1 701h1.9M624.3 706.1h1.9M624.6 697.5h1.9M624.8 700.7h1.9M625 700.2h1.9M625.3 698.8h1.9" stroke="#838383" stroke-width="1.85" fill="none"/>
<rect x="371.5" y="702" width="254" height="4.6" fill="none" stroke="#000" stroke-width="1"/>
<path d="M371.5 704.2H387.9M416 704.2H626.3" stroke="#00ff00" stroke-width="2.6"/>
<path d="M400.2 704.3h2.3M406.6 703.5h2.3M410 705.5h2.3M398.9 704.5h2.3M406.2 704.1h2.3M404.3 704h2.3M412.2 704.5h2.3M398.1 704.2h2.3M404.8 704.7h2.3M404.6 703.7h2.3M399.6 705.1h2.3M394.2 704.7h2.3M388.3 704.1h2.3M399.8 705.2h2.3M396.3 704h2.3M391.1 703.9h2.3M411.4 704.5h2.3M394.5 705.1h2.3M396.1 704.5h2.3M412.2 704.3h2.3M393.2 705h2.3M388.6 704.4h2.3M389.9 705.4h2.3M409.4 704.5h2.3M406.6 703.7h2.3M387.4 704h2.3M392 704.6h2.3M388.2 704.9h2.3M401.1 704h2.3M411.2 704.4h2.3M386.5 704.7h2.3M409.1 704.4h2.3M404.8 704.1h2.3M401.9 704.2h2.3M527.4 705.6h2.3M531.5 703.8h2.3M530 706.2h2.3M525.4 704.9h2.3M529.9 704.4h2.3M531.2 703.6h2.3M533.9 705h2.3M527.4 703.2h2.3M530.6 704.2h2.3M532.7 703.5h2.3M393.8 694h2.3M396.1 713.1h2.3M392.6 713.8h2.3M506.2 685.2h2.3M555.4 726.3h2.3M524.9 708.7h2.3M531.9 711.6h2.3M569.4 710.9h2.3M620.9 704.2h2.3M452.3 710.1h2.3M428.9 704.2h2.3M464 704.2h2.3" stroke="#ff0000" stroke-width="2.3" fill="none"/>
</g>
<line x1="498" y1="706.5" x2="498" y2="753.3" stroke="#000" stroke-width="1.6"/>
<rect x="371.5" y="616.1" width="254" height="175.5" fill="none" stroke="#222" stroke-width="1.1"/>
<path d="M371.5 630.9h2.5M625.5 630.9h-2.5M371.5 667.5h2.5M625.5 667.5h-2.5M371.5 704.2h2.5M625.5 704.2h-2.5M371.5 741h2.5M625.5 741h-2.5M434.7 616.1v2.5M498 616.1v2.5M561.2 616.1v2.5" stroke="#222" stroke-width="1"/>
<text x="367.1" y="636.8" font-size="15.6" class="S" text-anchor="end">10</text>
<text x="367.1" y="673.4" font-size="15.6" class="S" text-anchor="end">5</text>
<text x="367.1" y="710.1" font-size="15.6" class="S" text-anchor="end">0</text>
<text x="367.1" y="746.9" font-size="15.6" class="S" text-anchor="end">−5</text>
<rect x="371.5" y="753.3" width="254" height="38.1" fill="#fff"/>
<clipPath id="ci21"><rect x="371.5" y="753.3" width="254" height="38.1"/></clipPath>
<g clip-path="url(#ci21)">
<line x1="434.7" y1="756.3" x2="434.7" y2="791.4" stroke="#3a3a3a" stroke-width="1.1" stroke-dasharray="1 5"/>
<line x1="498" y1="756.3" x2="498" y2="791.4" stroke="#3a3a3a" stroke-width="1.1" stroke-dasharray="1 5"/>
<line x1="561.2" y1="756.3" x2="561.2" y2="791.4" stroke="#3a3a3a" stroke-width="1.1" stroke-dasharray="1 5"/>
<line x1="377" y1="772.4" x2="625.5" y2="772.4" stroke="#3a3a3a" stroke-width="1.1" stroke-dasharray="1 5"/>
<path d="M465.6 763.6h1.5M587.6 775.6h1.5M600 756.8h1.5M449.5 779.5h1.5M582.2 771.8h1.5M532.1 761.5h1.5M436 777.6h1.5M588.1 771.1h1.5M514.4 769.6h1.5M566.3 780.2h1.5M611.2 776.2h1.5M562.7 758.2h1.5M505.3 780.5h1.5M594.3 788.8h1.5M547.5 777.8h1.5M581.3 782.5h1.5M551.2 779.8h1.5M445.9 766.6h1.5M502.3 768h1.5M524.6 784.5h1.5M528 787.9h1.5M506.8 757h1.5M459.9 789.7h1.5M573.6 754.6h1.5M485 760.9h1.5M470.6 774.5h1.5M405.5 755.9h1.5M535.9 765.1h1.5M606.6 755.6h1.5M448.3 761.2h1.5M404.4 781.2h1.5M599.2 773.2h1.5M398 775.3h1.5M406.3 782.3h1.5M524.5 786.6h1.5M580.8 758.5h1.5M503.6 788h1.5M609.9 770.9h1.5M567.8 770.1h1.5M406.8 756h1.5M590.6 774.3h1.5M498.4 770.8h1.5M620 787.5h1.5M504.1 770.2h1.5M596.5 763.6h1.5M400.2 765.8h1.5M413.9 790.3h1.5M470 767.1h1.5M406.7 759.8h1.5M486.2 763.2h1.5M545.7 788.4h1.5M474.2 756.6h1.5M413.8 763h1.5M435.3 767.1h1.5M399 775.6h1.5M439.5 781h1.5M403.8 757.9h1.5M384.4 787h1.5M495.1 775h1.5M390.2 758.4h1.5M536 780.1h1.5M376.2 756.5h1.5M381.9 785.7h1.5M598.1 758h1.5M380.2 780.7h1.5M506.8 788.9h1.5M598.3 790.4h1.5M494.3 788h1.5M583.4 782h1.5M511.8 786.1h1.5M439.2 785h1.5M388.5 787.3h1.5M412 757.7h1.5M564.4 768.2h1.5M559.6 788.5h1.5M565.7 776.5h1.5M586.2 762.7h1.5M425.2 763.3h1.5M541.9 788.8h1.5M391.5 784.3h1.5M549.1 770.7h1.5M383.1 771h1.5M504.6 786.4h1.5M507 768.1h1.5M388.8 776.1h1.5M521.2 778.2h1.5M378.5 760.8h1.5M420.6 770h1.5M411.3 784.5h1.5M401.5 754.2h1.5M377 765.6h1.5M468.3 755.3h1.5M374.3 779.9h1.5M518.8 760.5h1.5M433.8 770.8h1.5M385.7 779.8h1.5M604.1 779.1h1.5M440.1 777.4h1.5M622.4 762.9h1.5M589 768.8h1.5M401 766.7h1.5M419.7 786.2h1.5M373.3 762.9h1.5M416.7 761.4h1.5M539.1 769.4h1.5M508.7 784.5h1.5M488.3 756.2h1.5M437.4 759.6h1.5M592.7 770.5h1.5M495.6 779.5h1.5M527.5 768.4h1.5M484.3 785.1h1.5M493.4 769h1.5M457.4 785.9h1.5M380 762.7h1.5M482.2 765.9h1.5M473.8 772.4h1.5M564.3 754.7h1.5M620.6 767.5h1.5M391.6 756.8h1.5M526.7 777.8h1.5M373.8 754.8h1.5M437.6 765.9h1.5M585.9 763.3h1.5M459.4 789.4h1.5M465.3 766.1h1.5M390.7 760.2h1.5M527 768.5h1.5M560.7 763.2h1.5M437.5 768.3h1.5M568.7 766.4h1.5M536.3 781.4h1.5M542.3 767.1h1.5M622.9 790.5h1.5M509 761.4h1.5M386.9 778.7h1.5M531.2 773.1h1.5M511.1 777.5h1.5M472.8 784.2h1.5M518.8 754.7h1.5M503.3 788.6h1.5M469.5 782.8h1.5M514.7 780.8h1.5M603.3 754.9h1.5M524 756.9h1.5M585 786.4h1.5M550.3 767.4h1.5M469.6 755.2h1.5M614.5 774h1.5M440.4 780.5h1.5M404.4 773.9h1.5M595.8 789.8h1.5M553.3 786.5h1.5M474.2 770.5h1.5M478.5 769.1h1.5M447.1 789.7h1.5M375.6 760.8h1.5M480.4 754.4h1.5M451.6 778.3h1.5M404.6 789.9h1.5M373 756.7h1.5M553.2 790.4h1.5M539.5 782.7h1.5M499.3 763.7h1.5M445 764h1.5M584.1 782.8h1.5M416.2 784.4h1.5M586.7 767.2h1.5M503.5 789.1h1.5M619.8 765.4h1.5M530.5 790.8h1.5M545.2 776h1.5M539.3 777.1h1.5M536.2 778.6h1.5M544.4 768.5h1.5M590.9 756h1.5M453.8 775.4h1.5M555.6 769.5h1.5M545.5 776.3h1.5M566.5 786.2h1.5M498.7 773.8h1.5M464.3 774.3h1.5M597.4 766.7h1.5M466.6 765.6h1.5M602.5 759.8h1.5M550.8 759.2h1.5M469.7 776.5h1.5M411.4 782h1.5M416.4 754h1.5M470.5 765.4h1.5M448.6 787.6h1.5M544.7 762.6h1.5M607.6 775.9h1.5M419.4 762.3h1.5M382.6 770.1h1.5M414.8 788.8h1.5M425.7 765.2h1.5M468.3 755.8h1.5M511.4 768h1.5M519.9 777.2h1.5M425.5 754.6h1.5M568 760.5h1.5M500.4 771.6h1.5M462.4 785.7h1.5M450.9 785.8h1.5M436.2 779.4h1.5M418.3 757.9h1.5M606.4 758.3h1.5M560.6 773.2h1.5M603.1 789.5h1.5M496.1 755.1h1.5M389.4 771.8h1.5M535 781h1.5M509.3 766.3h1.5M488.5 781.5h1.5M601.4 783.7h1.5M490.7 759.7h1.5M382.3 767.5h1.5M614.2 763.9h1.5M525.8 755.8h1.5M538.5 779.5h1.5M567 783.5h1.5M614.5 771.2h1.5M529.2 788.5h1.5M479.8 770.8h1.5M597.8 768.5h1.5M467.3 760.3h1.5M549.5 790.4h1.5M537.9 766.9h1.5M416.4 782.8h1.5M502.4 762.7h1.5M576.1 761.2h1.5M575.1 761.4h1.5M500.8 787.2h1.5M495.1 779.7h1.5M436.2 765.8h1.5M430.6 772.9h1.5M602.4 762.8h1.5M418.3 768h1.5M517.7 774.2h1.5M531.7 765.9h1.5M441.6 777.4h1.5M544.7 765.5h1.5M605.7 766.2h1.5M509 789h1.5M564.9 790h1.5M593 780.9h1.5M404.3 787.1h1.5M445 782.6h1.5M577.4 775.7h1.5M576.1 778.2h1.5M616 769.3h1.5M537 782.6h1.5M382.3 763.8h1.5M553.3 790.7h1.5M489.3 788.9h1.5M544 780.3h1.5M409.2 787.9h1.5M447.3 773h1.5M391.6 766.6h1.5M441.6 757.9h1.5M534.2 773.4h1.5M395.7 772.3h1.5M516.1 782.5h1.5M420.6 786h1.5M427.2 761.3h1.5M555.3 755.4h1.5M396.6 770.9h1.5M592.3 777.6h1.5M558.6 773.8h1.5M596.6 788h1.5M374.9 772.5h1.5M542.9 772.8h1.5M408.4 757.1h1.5M420.7 768.1h1.5M474.9 764.9h1.5M456.9 777.2h1.5M438.2 779.5h1.5M456.5 783.2h1.5M619.3 767.1h1.5M463.6 757.3h1.5M554.4 787.5h1.5M488.7 763.6h1.5M553.5 781.3h1.5M527.4 768.5h1.5M572.9 759.6h1.5M450.1 780.1h1.5M385.3 778.8h1.5M613.1 782.8h1.5M590 787.8h1.5M473.5 766h1.5M401.5 760.7h1.5M619.7 786.9h1.5M524.9 789.8h1.5M607.4 761.4h1.5M433.2 787.8h1.5M464.5 779.4h1.5M607.8 760.8h1.5M469.7 785.7h1.5M463.5 788.5h1.5M579 768.4h1.5M533.7 788.5h1.5M478.6 771.5h1.5M390.4 765.9h1.5M518.1 784.7h1.5M392.6 755.6h1.5M585.2 769.5h1.5M375.4 784.3h1.5M472.2 775.1h1.5M583.2 753.9h1.5M419.2 767.1h1.5M620.3 761h1.5M601.2 788.1h1.5M402 788h1.5M418.7 786.4h1.5M463.6 758h1.5M468.6 753.9h1.5M461.9 777.9h1.5M531.5 758.9h1.5M509.8 786.1h1.5M509.6 756.6h1.5M431.5 786.3h1.5M505.8 787.4h1.5M483.4 790.5h1.5M567.9 760.2h1.5M467 769.5h1.5M446.6 773.3h1.5M473.9 779.8h1.5M599.7 785h1.5M478.1 765.8h1.5M519.8 762.2h1.5M422.7 778.2h1.5M403.2 781.9h1.5M489.4 771.1h1.5M453.3 760.9h1.5M486.3 761.7h1.5M625 783.8h1.5M597.1 783.7h1.5M454.1 767.3h1.5M605.4 781.8h1.5M611.3 784.4h1.5M516.6 766.5h1.5M388.9 781.6h1.5M467.1 786.2h1.5M575.3 782.3h1.5M582.1 764.7h1.5M407.6 758.2h1.5M479.4 778.3h1.5M450.6 788.3h1.5M432.3 754h1.5M499.1 779.1h1.5M543.4 761.5h1.5M379.5 765.5h1.5M384.2 762.7h1.5M525.4 767.8h1.5M497.9 787.1h1.5M374.2 765.7h1.5M581.7 772.4h1.5M373.3 760.8h1.5M449.8 755.6h1.5M469.8 787.5h1.5M449.9 764.2h1.5M491.6 761.7h1.5M482.7 767.3h1.5M394.8 754.4h1.5M422.4 786.2h1.5M594 754.2h1.5M545.1 780.6h1.5M459.5 789.1h1.5M602.3 771.4h1.5M604.3 789.1h1.5M430.2 774.5h1.5M386.3 765.8h1.5M460.1 775.5h1.5M542.4 774.4h1.5M575.6 782.3h1.5M383.6 767h1.5M397.1 756.5h1.5M543.7 787.8h1.5M408.1 776.5h1.5M381.1 776.1h1.5M583 777.5h1.5M400.1 753.8h1.5M590.5 762.3h1.5M458.8 778.8h1.5M591.8 787.7h1.5M539.9 789.9h1.5M497 779.5h1.5M549.5 785.3h1.5M490.6 786.3h1.5M390.1 763.3h1.5M498.2 762h1.5M462.2 763.8h1.5M497.7 761.4h1.5M619.1 784h1.5M582.8 767.3h1.5M584.5 790h1.5M398.1 756.6h1.5M527.4 778.6h1.5M475.2 776.8h1.5M585.9 775.2h1.5M612.1 772.8h1.5M470.3 776.8h1.5M409.8 767.5h1.5M621.4 784.4h1.5M482 754.1h1.5M564.4 763.6h1.5M454.9 759.1h1.5M583.9 766.7h1.5M486.6 777.4h1.5M536.5 758.2h1.5M392.6 758.4h1.5M585.3 783.6h1.5M451.1 758.5h1.5M526.5 785.2h1.5M593.1 761.6h1.5M559.4 788.3h1.5M559 776.5h1.5M391.2 754.2h1.5M377.9 765.6h1.5M599.2 769.2h1.5M419.4 780.3h1.5M595.7 782.2h1.5M552.3 765.1h1.5M398.2 762.8h1.5M411.3 769.1h1.5M415.5 784.9h1.5M465.6 780.4h1.5M565.4 788.6h1.5M609.3 783.2h1.5M543.5 757h1.5M377.7 768.1h1.5M410.5 787.7h1.5M441.4 776.9h1.5M406.8 774.3h1.5M587.3 773.6h1.5M428.1 759.3h1.5M605.6 786.9h1.5M454.9 786.4h1.5M419.1 758.5h1.5M466.5 781.4h1.5M419.7 756.9h1.5M451.3 781.4h1.5M580 777.1h1.5M407.6 773.7h1.5M418.7 768h1.5M376 768.3h1.5M396.3 781.8h1.5M606.1 758.8h1.5M531.6 788.7h1.5M585.7 756.5h1.5M401.2 768.6h1.5M540 778h1.5M622 787.7h1.5M492.8 777.9h1.5M378.2 760.5h1.5M539.7 756.6h1.5M470 781.5h1.5M561.7 761.6h1.5M413.8 777.1h1.5M438.5 758.6h1.5M585.9 788.3h1.5M603.7 788h1.5M567.4 765.7h1.5M614.2 777.6h1.5M454.6 775.9h1.5M462.7 766.8h1.5M514 758.6h1.5M530 769.8h1.5M483.9 774.5h1.5M592 764.9h1.5M620.7 757.9h1.5M609.8 769.6h1.5M425.7 755.5h1.5M429.5 770.7h1.5M425.3 773.7h1.5M486.1 758.7h1.5M515.8 757.9h1.5M383 771.9h1.5M440.5 783h1.5M545.9 768.3h1.5M569 764.7h1.5M517.7 783.2h1.5M583.7 765.9h1.5M469.4 758.3h1.5M559.3 761.1h1.5M579.2 757.8h1.5M518.5 764h1.5M613 764.4h1.5M399.5 782h1.5M429.3 755.6h1.5M497.7 790.4h1.5M498.4 754.7h1.5M608 755.2h1.5M388.5 769.1h1.5M579.1 759.3h1.5M526.7 785.3h1.5M383.8 771.3h1.5M445.8 761.7h1.5M382.3 779.6h1.5" stroke="#808080" stroke-width="1.5" fill="none"/>
<path d="M371.5 773.9 372.2 774.1 372.9 773.9 373.6 774.6 374.3 774.5 375 773.4 375.7 772.9 376.4 771.8 377.1 771.3 377.8 771.5 378.5 770.2 379.2 770 379.9 768.9 380.6 767.2 381.3 767.7 382 767.9 382.7 766.2 383.4 767.1 384.1 767.2 384.8 767.9 385.6 768.3 386.3 767.8 387 767.6 387.7 767.6 388.4 766.6 389.1 767.9 389.8 768 390.5 767 391.2 766 391.9 765.8 392.6 767.7 393.3 766.1 394 766.4 394.7 767" stroke="#00ff00" stroke-width="2.6" fill="none" stroke-linejoin="round"/>
<path d="M414.8 769 415.5 770.2 416.2 770.3 416.9 769.2 417.6 770.2 418.3 769.8 419 769.8 419.7 770.7 420.4 770.1 421.2 770.7 421.9 770.4 422.6 769.3 423.3 769.1 424 769.1 424.7 769.2 425.4 769.2 426.1 769.3 426.8 771.2 427.5 771.3 428.2 770.4 428.9 770.9 429.6 771.5 430.3 770.9 431 770.4 431.7 770.2 432.4 768.9 433.1 770.4 433.8 770.2 434.5 771.3 435.2 770.6 435.9 770.4 436.6 771.4 437.3 769.7 438 769.8 438.7 771.2 439.4 772.3 440.1 772.7 440.8 771.7 441.5 771.9 442.2 771.7 442.9 771.7 443.6 771.7 444.3 771.8 445 771.4 445.7 771.3 446.4 770.4 447.1 771 447.8 772.7 448.6 774.1 449.3 773 450 772.3 450.7 772.8 451.4 772.3 452.1 773.1 452.8 772.1 453.5 770.1 454.2 771.5 454.9 770.9 455.6 771.4 456.3 772 457 771.8 457.7 772.8 458.4 773.6 459.1 773.5 459.8 774.4 460.5 773.4 461.2 774.5 461.9 774.6 462.6 774.1 463.3 774.6 464 773.8 464.7 774 465.4 774.2 466.1 775.3 466.8 775.4 467.5 776 468.2 776.7 468.9 775 469.6 773.9 470.3 774.1 471 775.5 471.7 774.4 472.4 773.7 473.1 775.2 473.8 775.4 474.5 776 475.3 773.8 476 774 476.7 774 477.4 773.8 478.1 774.9 478.8 774.6 479.5 773.8 480.2 772.8 480.9 772.5 481.6 774 482.3 775.2 483 773.8 483.7 772.9 484.4 774 485.1 773.8 485.8 774 486.5 774.4 487.2 772.1 487.9 770.6 488.6 771.2 489.3 770.3 490 770.6 490.7 771.9 491.4 771 492.1 769.2 492.8 770.4 493.5 770.8 494.2 770.9 494.9 771.8 495.6 771.7 496.3 770.7 497 771 497.7 770.6 498.4 769.7 499.1 769 499.8 769.8 500.5 770 501.2 768.9 501.9 769.9 502.7 770.2 503.4 768.5 504.1 769.1 504.8 769.4 505.5 770.2 506.2 770.6 506.9 770.6 507.6 770.6 508.3 771.1 509 770 509.7 769.3 510.4 769.5 511.1 770.4 511.8 769.3 512.5 768.4 513.2 768.3 513.9 769.4 514.6 768.6 515.3 769.1 516 769.4 516.7 768.7 517.4 767.5 518.1 767 518.8 767.3 519.5 767.2 520.2 766.7 520.9 764.8 521.6 765.9 522.3 766.3 523 767.1 523.7 766.9 524.4 767 525.1 766.4 525.8 766.8 526.5 767.5 527.2 769 527.9 768.5 528.6 769.2 529.4 769 530.1 769.3 530.8 770.3 531.5 769.3 532.2 769.1 532.9 768 533.6 767.7 534.3 766.5 535 766.5 535.7 767.2 536.4 767.3 537.1 768.2 537.8 769.1 538.5 768 539.2 769.7 539.9 769.5 540.6 768.6 541.3 768.7 542 768.5 542.7 769 543.4 769.8 544.1 768.8 544.8 768.2 545.5 770 546.2 770.3 546.9 769.9 547.6 769.9 548.3 770.8 549 770.2 549.7 769.4 550.4 767.5 551.1 769.7 551.8 769.6 552.5 769.8 553.2 770.2 553.9 769.6 554.6 769.8 555.3 769.2 556 770.5 556.8 769.6 557.5 771.2 558.2 770.9 558.9 771.4 559.6 769.4 560.3 770 561 770.3 561.7 770.3 562.4 768.8 563.1 768.5 563.8 769.1 564.5 769.3 565.2 768.4 565.9 769.1 566.6 770.2 567.3 768.4 568 769.4 568.7 769.7 569.4 769.1 570.1 770.2 570.8 771.5 571.5 771 572.2 771.2 572.9 770.5 573.6 769.7 574.3 769.4 575 768.9 575.7 769.2 576.4 770.3 577.1 771.1 577.8 771.5 578.5 770.2 579.2 771.2 579.9 771 580.6 769.5 581.3 770.1 582 771.2 582.7 771.7 583.5 772.2 584.2 771.9 584.9 772.5 585.6 772.9 586.3 773.2 587 771.4 587.7 770.8 588.4 771.1 589.1 771.4 589.8 771.9 590.5 771.5 591.2 770 591.9 770.6 592.6 769.6 593.3 771.9 594 772.4 594.7 772.1 595.4 772.4 596.1 772.9 596.8 774.3 597.5 773.1 598.2 771.9 598.9 771 599.6 770.9 600.3 769 601 769.5 601.7 769.2 602.4 768.5 603.1 769.3 603.8 769.1 604.5 771.2 605.2 770.3 605.9 770.1 606.6 769.2 607.3 769.1 608 770 608.7 769.8 609.4 770.1 610.1 771.4 610.9 771.5 611.6 770.8 612.3 771.1 613 772.3 613.7 770.6 614.4 770.5 615.1 769.9 615.8 770.8 616.5 770.5 617.2 770.1 617.9 772.6 618.6 772 619.3 770.6 620 771.5 620.7 772.3 621.4 770.8 622.1 769.3 622.8 771.3 623.5 770.5 624.2 771.8 624.9 771.2 625.6 771.3 626.3 770.6" stroke="#00ff00" stroke-width="2.6" fill="none" stroke-linejoin="round"/>
<path d="M400.7 800.9h2.2M388.4 778.8h2.2M389.7 780.5h2.2M395.7 792.6h2.2M393.3 786.7h2.2M398.9 796.9h2.2M389.8 780.4h2.2M390.4 782h2.2M398.9 796h2.2M398.3 796.7h2.2M397.7 794h2.2M396.1 792.3h2.2M390 782.2h2.2M391.8 782.9h2.2M394.6 791.2h2.2M396.9 791.6h2.2M397.3 795h2.2M390.6 783.4h2.2M397.2 796.5h2.2M397.1 792.8h2.2M395.7 791.4h2.2M387.7 775.7h2.2M375.1 756.2h2.2M376.3 756.6h2.2M378.6 774.3h2.2M455.9 755.2h2.2M474.6 758.1h2.2M475.8 756.2h2.2M477 757.1h2.2M510.9 776.2h2.2M529.7 756.2h2.2M530.8 758.1h2.2M532 757.1h2.2M562.4 760.9h2.2M563.6 762.8h2.2M564.8 763.8h2.2M611.6 767.6h2.2" stroke="#ff0000" stroke-width="2.2" fill="none"/>
</g>
<path d="M375.5 755.2H625.5M375.5 789.5H625.5" stroke="#555" stroke-width="1.2" stroke-dasharray="1 5"/>
<rect x="371.5" y="753.3" width="254" height="38.1" fill="none" stroke="#000" stroke-width="2.1"/>
<text x="366.7" y="760.7" font-size="14.6" class="S" text-anchor="end" font-weight="bold">0.2</text>
<text x="366.7" y="777.6" font-size="14.6" class="S" text-anchor="end" font-weight="bold">0</text>
<text x="366.7" y="795.7" font-size="14.6" class="S" text-anchor="end" font-weight="bold">−0.2</text>
<line x1="434.7" y1="800" x2="434.7" y2="893.4" stroke="#3a3a3a" stroke-width="1.1" stroke-dasharray="1 5"/>
<line x1="498" y1="800" x2="498" y2="893.4" stroke="#3a3a3a" stroke-width="1.1" stroke-dasharray="1 5"/>
<line x1="561.2" y1="800" x2="561.2" y2="893.4" stroke="#3a3a3a" stroke-width="1.1" stroke-dasharray="1 5"/>
<line x1="375.9" y1="844.9" x2="625.1" y2="844.9" stroke="#6a6aff" stroke-width="1.1" stroke-dasharray="1 5"/>
<path d="M371.5 843.6 372 843.8 372.4 843.7 372.9 844.8 373.4 844.3 373.8 845.4 374.3 845.3 374.8 846.4 375.2 845.8 375.7 847 376.2 847.5 376.7 848.6 377.1 848.5 377.6 849.8 378.1 849.6 378.5 849.3 379 850.4 379.5 850.2 379.9 852.5 380.4 853.1 380.9 853.1 381.3 853.1 381.8 853 382.3 853.3 382.7 852.5 383.2 852.7 383.7 853.2 384.1 853 384.6 853.1 385.1 852.7 385.6 853.7 386 853.4 386.5 854.5 387 855.5 387.4 854.9 387.9 854.7 388.4 855.4 388.8 855.6 389.3 855 389.8 854.9 390.2 855 390.7 854.8 391.2 855.4 391.6 854.9 392.1 855.5 392.6 855.6 393 855.8 393.5 855.9 394 856.4 394.5 856.1 394.9 856.3 395.4 856.9 395.9 856 396.3 855.8 396.8 856.1 397.3 856.7 397.7 857.5 398.2 856.7 398.7 856.2 399.1 856.5 399.6 856.6 400.1 856.4 400.5 856.6 401 856.8 401.5 857.7 401.9 857.5 402.4 857.4 402.9 856.7 403.4 856.1 403.8 856.7 404.3 857.2 404.8 856.6 405.2 855.8 405.7 856 406.2 856.4 406.6 856.8 407.1 857 407.6 856.8 408 856.4 408.5 856 409 855.9 409.4 855.1 409.9 854.6 410.4 856.1 410.8 855.4 411.3 855.5 411.8 855.3 412.3 854.6 412.7 853.8 413.2 853.4 413.7 853.8 414.1 853.7 414.6 853.7 415.1 853.9 415.5 853.1 416 853.4 416.5 853.5 416.9 853.8 417.4 853.1 417.9 852.5 418.3 852.3 418.8 851.5 419.3 851.4 419.7 851.4 420.2 851.5 420.7 851.3 421.2 851.6 421.6 851 422.1 850.9 422.6 852.1 423 851 423.5 851 424 850.6 424.4 850.8 424.9 850.5 425.4 850.4 425.8 850.1 426.3 849.2 426.8 849.8 427.2 850.5 427.7 850.4 428.2 850 428.6 850.5 429.1 850.3 429.6 849.1 430.1 848.4 430.5 849.4 431 850.3 431.5 851 431.9 851.4 432.4 852.1 432.9 852.6 433.3 852.6 433.8 852.9 434.3 854.2 434.7 854.5 435.2 853.8 435.7 853.2 436.1 852.6 436.6 852.4 437.1 851.4 437.5 852.2 438 851.6 438.5 850.9 438.9 850.3 439.4 850.8 439.9 851.2 440.4 850.7 440.8 850.7 441.3 851.3 441.8 851.1 442.2 851 442.7 850.3 443.2 849.5 443.6 849.5 444.1 848.9 444.6 848.6 445 848.2 445.5 847.7 446 847.8 446.4 848.6 446.9 848.6 447.4 848.6 447.8 849 448.3 848.3 448.8 848.4 449.3 848.3 449.7 847.9 450.2 847.9 450.7 847.4 451.1 847.6 451.6 846.8 452.1 847.1 452.5 847.4 453 846.9 453.5 846.4 453.9 846.8 454.4 846.5 454.9 846.2 455.3 846.9 455.8 846 456.3 845.4 456.7 846.8 457.2 846.6 457.7 846.3 458.2 846.7 458.6 846.6 459.1 846.7 459.6 846.3 460 845.8 460.5 846.3 461 845.7 461.4 845.2 461.9 845.6 462.4 846 462.8 845.5 463.3 845.7 463.8 845.5 464.2 845.7 464.7 846.7 465.2 846.6 465.6 847.1 466.1 847.4 466.6 848.1 467.1 847.2 467.5 847 468 847.4 468.5 846.8 468.9 846.3 469.4 846.3 469.9 846.4 470.3 846.3 470.8 846.6 471.3 846 471.7 846.4 472.2 847.4 472.7 847.4 473.1 846.2 473.6 846.5 474.1 846.6 474.5 847.2 475 847.4 475.5 846.8 476 847 476.4 846.9 476.9 846.4 477.4 846.4 477.8 846.5 478.3 846.3 478.8 846.1 479.2 845.6 479.7 846.5 480.2 847.1 480.6 846.8 481.1 846.7 481.6 846.6 482 846.2 482.5 846 483 846.3 483.4 846.7 483.9 846.6 484.4 846.1 484.9 846.6 485.3 847.1 485.8 846.8 486.3 847.8 486.7 847.2 487.2 847 487.7 847 488.1 846 488.6 846.1 489.1 847 489.5 847.1 490 847 490.5 846.2 490.9 846.5 491.4 846.5 491.9 846.4 492.3 846.7 492.8 847.1 493.3 846.6 493.8 846.9 494.2 846.6 494.7 846.5 495.2 847.5 495.6 847.7 496.1 846.6 496.6 846.8 497 846.7 497.5 847.2 498 847.8 498.4 847.4 498.9 846.9 499.4 846.4 499.8 846.6 500.3 845.9 500.8 847.4 501.2 847.3 501.7 846.5 502.2 845.9 502.7 844.8 503.1 845.9 503.6 846.5 504.1 847.3 504.5 847.1 505 847.6 505.5 846.7 505.9 847.2 506.4 846.8 506.9 846 507.3 846.3 507.8 846.9 508.3 846.1 508.7 846 509.2 845.6 509.7 845.4 510.1 846.2 510.6 846.4 511.1 846.8 511.6 846.2 512 846.4 512.5 846.8 513 847.1 513.4 847.6 513.9 847.4 514.4 847.4 514.8 848.1 515.3 848.2 515.8 847.5 516.2 847.6 516.7 847 517.2 846.9 517.6 846.8 518.1 847.3 518.6 847.3 519 847.8 519.5 847.4 520 846.8 520.5 847.5 520.9 847.8 521.4 847.5 521.9 847.9 522.3 847.1 522.8 847.1 523.3 847 523.7 847.1 524.2 847.4 524.7 847.4 525.1 847.4 525.6 847 526.1 846.9 526.5 847.4 527 846.9 527.5 846.5 527.9 847.4 528.4 847 528.9 846.9 529.4 847.2 529.8 848.3 530.3 847.3 530.8 847.8 531.2 848.1 531.7 847.7 532.2 847.2 532.6 847.9 533.1 847.8 533.6 847.9 534 847.7 534.5 847.3 535 846.3 535.4 846.8 535.9 847.6 536.4 847.8 536.8 847.7 537.3 847.3 537.8 847.4 538.3 846.8 538.7 846.8 539.2 847.7 539.7 847.1 540.1 846.8 540.6 846.8 541.1 847.1 541.5 846.6 542 846.9 542.5 847.6 542.9 847.4 543.4 848.1 543.9 847.5 544.3 847.2 544.8 847.7 545.3 846.8 545.7 846.6 546.2 846.9 546.7 846.8 547.1 846.6 547.6 846.8 548.1 847.1 548.6 846.6 549 846.7 549.5 846.4 550 847.1 550.4 846.7 550.9 847.4 551.4 846.4 551.8 846.4 552.3 847.4 552.8 847.5 553.2 846.5 553.7 846.8 554.2 845.9 554.6 846.2 555.1 847 555.6 846.7 556 847.2 556.5 846.6 557 846.8 557.5 847 557.9 846.5 558.4 847.4 558.9 847.7 559.3 846.9 559.8 846.8 560.3 848 560.7 847.8 561.2 846.9 561.7 847.8 562.1 847.2 562.6 846.9 563.1 846.5 563.5 847.2 564 847.1 564.5 847.1 564.9 846.3 565.4 846.3 565.9 847.3 566.4 846.5 566.8 847.6 567.3 847.6 567.8 847.3 568.2 847.2 568.7 847.7 569.2 847.5 569.6 847.5 570.1 847.8 570.6 846.9 571 847.1 571.5 846.4 572 846.5 572.4 847.3 572.9 846.9 573.4 846.9 573.8 847 574.3 846.1 574.8 846.1 575.3 847.1 575.7 847.8 576.2 847.2 576.7 846.6 577.1 847.5 577.6 847.3 578.1 847.3 578.5 847.5 579 847 579.5 847.5 579.9 846.9 580.4 846.1 580.9 846.9 581.3 847.3 581.8 847.3 582.3 846.4 582.7 847.5 583.2 847.6 583.7 847.3 584.2 847.3 584.6 846.9 585.1 847.3 585.6 847.3 586 847.9 586.5 847.3 587 847.5 587.4 847.5 587.9 846.9 588.4 846.7 588.8 847.2 589.3 847.4 589.8 846.9 590.2 846.3 590.7 846.3 591.2 846.1 591.6 847.1 592.1 847.5 592.6 847.4 593.1 848.4 593.5 848.3 594 848 594.5 847.4 594.9 847 595.4 847.7 595.9 848.1 596.3 848.6 596.8 848.1 597.3 847.4 597.7 847.4 598.2 848.1 598.7 847.4 599.1 847.6 599.6 847.6 600.1 847.5 600.5 846.6 601 846.7 601.5 847.1 602 847.9 602.4 848 602.9 847 603.4 847.4 603.8 847.5 604.3 847.3 604.8 847.4 605.2 847.5 605.7 846.4 606.2 847.2 606.6 847.7 607.1 847.1 607.6 846.6 608 847.6 608.5 847 609 847 609.4 848.5 609.9 848.6 610.4 848.1 610.9 847.8 611.3 847.8 611.8 847.3 612.3 847.5 612.7 847.6 613.2 847.6 613.7 848.2 614.1 847.5 614.6 847.3 615.1 847.8 615.5 847.4 616 847.5 616.5 847.4 616.9 847.4 617.4 847.9 617.9 847.8 618.3 847.8 618.8 847.1 619.3 847 619.8 846.8 620.2 847.4 620.7 847 621.2 847.4 621.6 847.4 622.1 847.6 622.6 847.6 623 847.5 623.5 847 624 847.9 624.4 847.9 624.9 847.7 625.4 847.4 625.8 847.2 626.3 848.2" stroke="#000" stroke-width="1.6" fill="none" stroke-linejoin="round"/>
<path d="M411.8 853.4h1.3M387.2 855.5h1.3M418.2 853h1.3M425.1 850.2h1.3M407.6 853.8h1.3M413.7 854.6h1.3M412.6 853.3h1.3M421.9 852.6h1.3M420.3 853.8h1.3M377.2 849.4h1.3M406.9 855.9h1.3M406.4 858.7h1.3M410.6 856.6h1.3M377.9 850.7h1.3M414.3 851.1h1.3M413 854.1h1.3M430 853.2h1.3M380.6 852.5h1.3M428.5 851.8h1.3M391.1 854.8h1.3M406.9 857.6h1.3M398.2 856h1.3M378.7 852.3h1.3M388.1 854.7h1.3M430.8 848.3h1.3M400.7 858.7h1.3M394 858.2h1.3M402.8 858.8h1.3M397.5 854.7h1.3M424.1 848.5h1.3M377.3 847.4h1.3M408.1 857.2h1.3M424.7 850h1.3M428.5 851.3h1.3M387.8 854.8h1.3M410.7 853h1.3M413.9 853.2h1.3M382.4 850.9h1.3M398.5 853.5h1.3M400.9 861.7h1.3M406.8 859.4h1.3M405.4 859.1h1.3M416.8 853.2h1.3M394.7 857.3h1.3M415.1 852.5h1.3M376.7 848.2h1.3M399.9 855.3h1.3M377.9 851.5h1.3M411.4 854.3h1.3M400.4 858.1h1.3M388.2 855.2h1.3M415.9 853.4h1.3M401.6 857h1.3M381.1 852.2h1.3M428.5 852.9h1.3M405.5 853.6h1.3M391 853.3h1.3M414.9 852.8h1.3M393 855.6h1.3M381 852.8h1.3M378.5 852.2h1.3M389.9 855h1.3M412.1 854.8h1.3M413.2 853.7h1.3M423.2 851.1h1.3M431.2 847.4h1.3M425.4 848.5h1.3M379 849.6h1.3M419.5 852.6h1.3M387.2 855.9h1.3M377.9 850.1h1.3M416.8 854.9h1.3M379.6 851.6h1.3M425.8 850.2h1.3M396.5 858h1.3M391.3 853h1.3M380.7 849.1h1.3M426.9 850.9h1.3M425.1 850.1h1.3M395 856.6h1.3M392.2 855.3h1.3M397.9 858.6h1.3M384 851.5h1.3M421.4 849.5h1.3M430.6 848.8h1.3M399.7 856.7h1.3M400.5 857.1h1.3M381 855.8h1.3M394.5 856.7h1.3M415.1 851.8h1.3M414.5 856.7h1.3M377.3 851.1h1.3M417.3 853.2h1.3M381.9 853.7h1.3M385.7 851.3h1.3M379.1 852.3h1.3M414.9 852.8h1.3M429.7 851.4h1.3M396.2 853.9h1.3M416.6 850.6h1.3M414.4 851.4h1.3M393.7 855.9h1.3M395.7 855.8h1.3M427 848.6h1.3M384.6 855.2h1.3M398 855.8h1.3M382 850.9h1.3M379.3 852.4h1.3M395.5 853.3h1.3M400.3 857.3h1.3M428.1 847.2h1.3M403.8 855.4h1.3M424.9 850.1h1.3M429.3 851.1h1.3M401.1 854h1.3M380.8 851.8h1.3M429.2 851.6h1.3M426.8 850.2h1.3M400.5 856.3h1.3M411.9 856.2h1.3M394.9 857.8h1.3M425.9 848.8h1.3M414.8 855.6h1.3M405.5 855.1h1.3M427.6 849.5h1.3M411 853.2h1.3M383.2 853h1.3M390.4 857.4h1.3M423.3 850.4h1.3M401.3 856.7h1.3M418.5 851.9h1.3M383.2 853.2h1.3M428.5 849.5h1.3M398.7 860.6h1.3M395.3 855.8h1.3M431.5 850.1h1.3M408.2 854h1.3M379.6 855h1.3M398.9 859h1.3M400.9 858.8h1.3M411.6 857h1.3M410 851.2h1.3M409.2 854.3h1.3M385.6 858.2h1.3M427.3 847.2h1.3M411.7 857.5h1.3M416.3 849.8h1.3M418.7 854.1h1.3M399.6 860h1.3M377.9 850.8h1.3M533.8 849.5h1.3M532.4 844.9h1.3M531.9 856.6h1.3M532.2 852.9h1.3M531.7 832.1h1.3M521.3 840.2h1.3M528.5 851.2h1.3M533.3 844.9h1.3M535.7 844.6h1.3M534 863h1.3M523 849.3h1.3M520.8 848h1.3M534.4 853.8h1.3M534.1 856.2h1.3M535.8 858.6h1.3M522.7 853.6h1.3M533.8 841.9h1.3M531.2 846.3h1.3M531.3 839.9h1.3M530.3 836.6h1.3M522 842.9h1.3M535.5 839.6h1.3M538.4 850.5h1.3M522.7 852.4h1.3M539.4 860.2h1.3M529.5 843.1h1.3M521.3 845.9h1.3M522.1 836.9h1.3M535.4 850h1.3M526.9 839.5h1.3M529.1 845.9h1.3M535 855.7h1.3M529.6 851.2h1.3M531.4 848.6h1.3M525.4 850.2h1.3M531.5 837.3h1.3M534.5 832.4h1.3M531.7 852.5h1.3M521.7 849.2h1.3M522.6 855.7h1.3M526 849.7h1.3M522.2 850h1.3M525.7 841.7h1.3M523.9 836.3h1.3M523.2 844.3h1.3M530.8 849.5h1.3M524.6 859.4h1.3M535.4 835h1.3M532.8 842.6h1.3M522.8 846.7h1.3" stroke="#000" stroke-width="1.3" fill="none"/>
<line x1="370.4" y1="881.6" x2="625.1" y2="881.6" stroke="#ff0000" stroke-width="2.5" stroke-dasharray="8.4 4.3 2 4.3" stroke-dashoffset="3"/>
<path d="M371.5 873.9 372.9 873.7 374.3 873.8 375.7 873.7 377.1 873.4 378.5 873.6 379.9 873.5 381.3 873.3 382.7 873.2 384.1 873 385.6 872.6 387 872.7 388.4 872.5 389.8 872.5 391.2 872.5 392.6 872.5 394 872.6 395.4 872.5 396.8 872.1 398.2 872 399.6 872 401 871.5 402.4 871.4 403.8 871.3 405.2 871.5 406.6 871.2 408 871 409.4 871.1 410.8 871.3 412.3 871.1 413.7 871 415.1 871.1 416.5 871.5 417.9 871.3 419.3 871.6 420.7 871.3 422.1 871.5 423.5 871.7 424.9 871.8 426.3 871.8 427.7 872.1 429.1 871.9 430.5 872 431.9 872 433.3 871.9 434.7 872.1 436.1 872 437.5 872 438.9 871.6 440.4 871.3 441.8 871.1 443.2 871.1 444.6 871.2 446 871.2 447.4 871.1 448.8 871 450.2 870.8 451.6 870.6 453 872.7 454.4 873.8 455.8 873.6 457.2 873.3 458.6 873 460 872.7 461.4 872.2 462.8 871.9 464.2 872 465.6 871.6 467.1 871.5 468.5 871.1 469.9 870.9 471.3 871.1 472.7 871.2 474.1 871.5 475.5 871.6 476.9 871.9 478.3 872 479.7 872.4 481.1 872.7 482.5 873 483.9 873.3 485.3 873.7 486.7 873.8 488.1 873.8 489.5 874 490.9 874.1 492.3 874.1 493.8 874.4 495.2 874.7 496.6 874.8 498 875.1 499.4 875.4 500.8 875.2 502.2 875.3 503.6 875.6 505 875.8 506.4 875.9 507.8 876 509.2 876 510.6 876 512 876 513.4 875.8 514.8 875.8 516.2 875.7 517.6 875.5 519 875.4 520.5 875.2 521.9 875 523.3 874.8 524.7 874.5 526.1 874.3 527.5 874.2 528.9 874.6 530.3 874.5 531.7 874 533.1 873.6 534.5 873.4 535.9 873.3 537.3 873.1 538.7 873 540.1 872.9 541.5 872.8 542.9 872.2 544.3 872 545.7 871.9 547.1 871.8 548.6 871.8 550 871.4 551.4 871.8 552.8 871.8 554.2 871.7 555.6 871.5 557 871.6 558.4 871.4 559.8 871.4 561.2 871.3 562.6 871.5 564 871.6 565.4 871.1 566.8 871.1 568.2 870.9 569.6 871.1 571 871.2 572.4 871.2 573.8 870.8 575.3 870.8 576.7 870.7 578.1 870.7 579.5 871 580.9 870.9 582.3 870.8 583.7 870.6 585.1 870.9 586.5 871.2 587.9 871.3 589.3 871.1 590.7 870.8 592.1 870.5 593.5 870.6 594.9 870.8 596.3 870.7 597.7 870.6 599.1 870.6 600.5 870.7 602 870.5 603.4 870.5 604.8 870.5 606.2 870.5 607.6 870 609 869.6 610.4 869.5 611.8 869.3 613.2 868.9 614.6 868.9 616 868.5 617.4 868.2 618.8 868.1 620.2 868.4 621.6 868.9 623 869.6 624.4 869.7 625.8 870.1" stroke="#0000ff" stroke-width="2.4" fill="none" stroke-linejoin="round"/>
<path d="M370.4 797V893.4H625.1V797" stroke="#000" stroke-width="1.1" fill="none"/>
<path d="M370.4 803.5h2.5M625.1 803.5h-2.5M370.4 818.5h2.5M625.1 818.5h-2.5M370.4 833.5h2.5M625.1 833.5h-2.5M370.4 848.5h2.5M625.1 848.5h-2.5M370.4 863.5h2.5M625.1 863.5h-2.5M370.4 878.5h2.5M625.1 878.5h-2.5M434.7 893.4v-2.5M498 893.4v-2.5M561.2 893.4v-2.5" stroke="#000" stroke-width="1"/>
<text x="629.7" y="808.8" font-size="14.7" class="S">0.3</text>
<text x="629.7" y="823.8" font-size="14.7" class="S">0.2</text>
<text x="629.7" y="838.8" font-size="14.7" class="S">0.1</text>
<text x="629.7" y="853.8" font-size="14.7" class="S">0</text>
<text x="629.7" y="868.8" font-size="14.7" class="S">−0.1</text>
<text x="629.7" y="883.8" font-size="14.7" class="S">−0.2</text>
<text x="629.7" y="898.8" font-size="14.7" class="S">−0.3</text>
<text x="669.5" y="847.5" font-size="15.8" class="S" text-anchor="middle" transform="rotate(90 669.5 847.5)">DD slant iono.</text>
<path d="M370.1 801q-1.6 4.4 0 8.8" stroke="#000" stroke-width="1.2" fill="none"/>
<text x="434.7" y="912.2" font-size="15.6" class="S" text-anchor="middle">270</text>
<text x="498" y="912.2" font-size="15.6" class="S" text-anchor="middle">540</text>
<text x="561.2" y="912.2" font-size="15.6" class="S" text-anchor="middle">810</text>
<text x="624.4" y="912.2" font-size="15.6" class="S" text-anchor="middle">1080</text>
<text x="497.5" y="929.6" font-size="15.8" class="S" text-anchor="middle"># of epochs [30 s]</text>

<g>
<defs>
<linearGradient id="ubtop" x1="0" y1="0" x2="1" y2="1">
<stop offset="0" stop-color="#dcdad4"/><stop offset="0.6" stop-color="#d2d0ca"/><stop offset="1" stop-color="#c6c4be"/>
</linearGradient>
<linearGradient id="ubant" x1="0" y1="0" x2="1" y2="1">
<stop offset="0" stop-color="#3a3a3c"/><stop offset="0.5" stop-color="#1c1c1e"/><stop offset="1" stop-color="#0c0c0c"/>
</linearGradient>
</defs>
<rect x="140.4" y="50" width="83.7" height="53.4" fill="#ebebeb"/>
<path d="M153.5 51.8 L222.8 53 L222.8 84 L192.5 86.5 L141 89 Z" fill="#bdbbb4"/>
<path d="M157.5 53.6 L221 54.6 L221 83 L192.5 85 L146 86.8 Z" fill="url(#ubtop)"/>
<path d="M153.5 51.8 L141 89" stroke="#f4f4f2" stroke-width="0.8"/>
<path d="M141 89 L192.5 86.5 L192.5 103.3 L141 103.3 Z" fill="#c9cacb"/>
<path d="M141 89 L192.5 86.5" stroke="#a8a8a8" stroke-width="0.8"/>
<rect x="161.5" y="93" width="29" height="3.4" fill="#151515"/>
<rect x="143" y="95.5" width="4" height="2" fill="#9ab0c8"/>
<rect x="152" y="95.5" width="6" height="1.5" fill="#888"/>
<ellipse cx="164.7" cy="59.6" rx="4.1" ry="3.7" fill="#d01a1e"/>
<path d="M163.5 57.8 q1.6 -0.6 2 1.4 M164.6 61.4 l1.2 -1.6" stroke="#f0b0b0" stroke-width="0.7" fill="none"/>
<text x="169.3" y="62.3" font-size="7" font-weight="bold" fill="#2a2a2a" class="S">blox</text>
<text x="192" y="62.3" font-size="4.6" fill="#555" class="S" textLength="21">EVK-M8T</text>
<path d="M191.5 63.4 H213.5" stroke="#666" stroke-width="0.5"/>
<path d="M158 68.3 H194 M158.5 71.3 H166" stroke="#8c8c8c" stroke-width="0.9"/>
<path d="M161 84 V81 M163 84 V80 M165 84 V78 M167 84 V81 M169 84 V79 M171 84 V77 M173 84 V80 M175 84 V78 M177 84 V80 M179 84 V81 M181 84 V80 M183 84 V82 M185 84 V81" stroke="#777" stroke-width="0.6"/>
<text x="152" y="84.3" font-size="3.2" font-weight="bold" fill="#333" class="S">Batt</text>
<rect x="192.5" y="77.6" width="31.6" height="25.7" fill="#eeeeee"/>
<path d="M193.5 91.5 Q192.8 90 194.5 88.6 L204 79 Q205.5 77.8 207.2 78.5 L220.5 85 Q222.6 86.2 221.6 88 L213.5 100.5 Q212 102.8 209.8 102 L195 93.2 Q193.6 92.4 193.5 91.5 Z" fill="url(#ubant)"/>
<path d="M204 79 Q205.5 77.8 207.2 78.5 L220.5 85" stroke="#505052" stroke-width="0.8" fill="none"/>
<path d="M218 97 Q221 100 224 101" stroke="#222" stroke-width="1.2" fill="none"/>
</g>


<g>
<defs>
<linearGradient id="tyb" x1="0" y1="0" x2="0" y2="1">
<stop offset="0" stop-color="#f6c810"/><stop offset="0.4" stop-color="#f0be00"/><stop offset="0.85" stop-color="#e2aa00"/><stop offset="1" stop-color="#cf9600"/>
</linearGradient>
<radialGradient id="tyf" cx="0.4" cy="0.45" r="0.65">
<stop offset="0" stop-color="#f8c808"/><stop offset="0.75" stop-color="#eeb800"/><stop offset="1" stop-color="#d8a000"/>
</radialGradient>
<radialGradient id="tant" cx="0.45" cy="0.4" r="0.65">
<stop offset="0" stop-color="#f4f1e8"/><stop offset="0.75" stop-color="#e9e5d8"/><stop offset="1" stop-color="#cdc9bd"/>
</radialGradient>
</defs>
<path d="M452 54.5 Q468 51.5 484 53.5 Q492 54.5 500 52 L524 51.5 Q528 52 528 56 L528 77 L489.5 77 L489.5 102.5 L456 102 Q447 100.5 445 93 Q441.5 78 444.5 64 Q447 56 452 54.5 Z" fill="url(#tyb)"/>
<path d="M450 100 Q470 103 489.5 102.5 L489.5 103.3 L452 103 Z" fill="#d8d8d8"/>
<path d="M490 54 L526 53.5 L527.5 76.5 L508 76.5 Q500 66 492 60 Z" fill="#f2c008"/>
<path d="M503 56 V75 M507 56 V75 M511 56 V75 M515 56 V75 M519 56 V75 M523 56 V75" stroke="#e2ac00" stroke-width="0.6"/>
<path d="M445.5 66 Q450 56 462 56.5 Q474 58 476 72 Q476 88 466 94 Q455 98 448 91 Q444.5 82 445.5 66 Z" fill="url(#tyf)"/>
<g transform="rotate(8 454.3 73.5)">
<ellipse cx="454.3" cy="73.5" rx="7.0" ry="12.5" fill="#1e2230"/>
<ellipse cx="454.6" cy="73.5" rx="6.1" ry="11.7" fill="#eeeeea"/>
</g>
<circle cx="455.8" cy="64.2" r="1.4" fill="#3a8ab0"/>
<circle cx="453" cy="83.3" r="1.4" fill="#2a5ab0"/>
<circle cx="451.5" cy="67.8" r="0.9" fill="#b08a30"/>
<circle cx="451.5" cy="71.6" r="0.8" fill="#b08a30"/>
<path d="M452.5 76.5 l1.5 -2 l1.5 2 z" fill="#999"/>
<rect x="444" y="62.5" width="2.4" height="3.6" rx="1" fill="#1a1a1a"/>
<rect x="441.6" y="74.5" width="2.6" height="3.6" rx="1" fill="#1a1a1a"/>
<rect x="441.8" y="84" width="2.6" height="3.4" rx="1" fill="#1a1a1a"/>
<rect x="444" y="93.6" width="3.2" height="3.2" rx="1" fill="#1a1a1a"/>
<text x="0" y="0" font-size="4.4" font-weight="bold" fill="#2c5aa0" class="S" transform="translate(490.4 61) rotate(90)">Trimble</text>
<rect x="496" y="67" width="3" height="7" fill="#2c5aa0"/>
<rect x="512.5" y="67" width="12.5" height="6.5" fill="#dcd8cc"/>
<rect x="489.5" y="76.8" width="38.4" height="26.2" fill="#e2e0dc"/>
<ellipse cx="507.5" cy="89.5" rx="17.6" ry="11.8" fill="url(#tant)"/>
<path d="M490.5 92 Q498 101 510 101.5 Q521 101 525 95" stroke="#b8b4a8" stroke-width="0.8" fill="none"/>
<circle cx="505.8" cy="85.2" r="1.2" fill="#2c4a98"/>
</g>

<text x="14.4" y="137.6" font-size="15.8" class="S" text-anchor="middle" transform="rotate(-90 14.4 137.6)">Up error [m]</text>
<text x="331.9" y="137.6" font-size="15.8" class="S" text-anchor="middle" transform="rotate(-90 331.9 137.6)">Up error [m]</text>
<text x="14.4" y="421.8" font-size="15.8" class="S" text-anchor="middle" transform="rotate(-90 14.4 421.8)">Up error [m]</text>
<text x="331.9" y="421.8" font-size="15.8" class="S" text-anchor="middle" transform="rotate(-90 331.9 421.8)">Up error [m]</text>
<text x="14.4" y="704.3" font-size="15.8" class="S" text-anchor="middle" transform="rotate(-90 14.4 704.3)">Up error [m]</text>
<text x="331.9" y="704.3" font-size="15.8" class="S" text-anchor="middle" transform="rotate(-90 331.9 704.3)">Up error [m]</text>
<text x="187.7" y="13.9" font-size="18.5" class="R" text-anchor="middle" font-weight="bold">Ublox L1 + L1 + B1 + E1:</text>
<text x="188" y="35.4" font-size="18.5" class="R" text-anchor="middle" font-weight="bold">Kp-index 0+, 8.9 km</text>
<text x="490.5" y="15.9" font-size="18.5" class="R" text-anchor="middle" font-weight="bold">Trimble L1,L2:</text>
<text x="176.3" y="353.9" font-size="18.5" class="R" text-anchor="middle" font-weight="bold">Kp-index 3o, 8.9 km</text>
<text x="176.3" y="638.4" font-size="18.5" class="R" text-anchor="middle" font-weight="bold">Kp-index 5o, 8.9 km</text>
</svg></body></html>
